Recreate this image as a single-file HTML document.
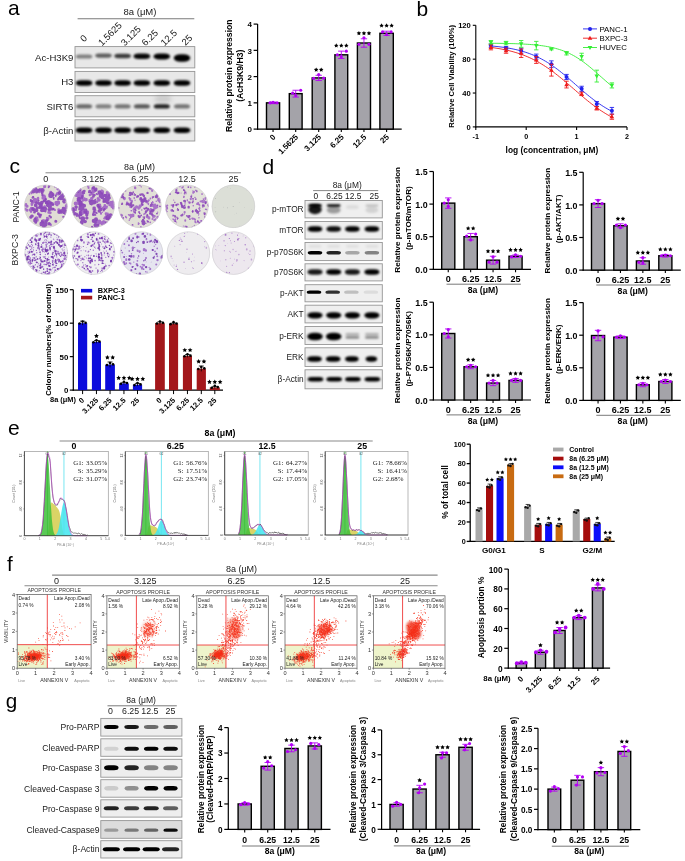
<!DOCTYPE html>
<html><head><meta charset="utf-8"><style>
html,body{margin:0;padding:0;background:#fff;width:685px;height:861px;overflow:hidden}
svg{display:block;font-family:"Liberation Sans",sans-serif;filter:blur(0.3px)}
</style></head><body>
<svg width="685" height="861" viewBox="0 0 685 861">
<defs><filter id="b1" x="-50%" y="-80%" width="200%" height="260%"><feGaussianBlur stdDeviation="0.1"/></filter><filter id="b2" x="-50%" y="-80%" width="200%" height="260%"><feGaussianBlur stdDeviation="0.2"/></filter><filter id="b3" x="-50%" y="-80%" width="200%" height="260%"><feGaussianBlur stdDeviation="0.3"/></filter><filter id="b4" x="-50%" y="-80%" width="200%" height="260%"><feGaussianBlur stdDeviation="0.4"/></filter><filter id="b5" x="-50%" y="-80%" width="200%" height="260%"><feGaussianBlur stdDeviation="0.5"/></filter><filter id="b6" x="-50%" y="-80%" width="200%" height="260%"><feGaussianBlur stdDeviation="0.6"/></filter><filter id="b7" x="-50%" y="-80%" width="200%" height="260%"><feGaussianBlur stdDeviation="0.7"/></filter><filter id="b8" x="-50%" y="-80%" width="200%" height="260%"><feGaussianBlur stdDeviation="0.8"/></filter><filter id="b9" x="-50%" y="-80%" width="200%" height="260%"><feGaussianBlur stdDeviation="0.9"/></filter><filter id="b10" x="-50%" y="-80%" width="200%" height="260%"><feGaussianBlur stdDeviation="1.0"/></filter><filter id="b11" x="-50%" y="-80%" width="200%" height="260%"><feGaussianBlur stdDeviation="1.1"/></filter><filter id="b12" x="-50%" y="-80%" width="200%" height="260%"><feGaussianBlur stdDeviation="1.2"/></filter><filter id="b13" x="-50%" y="-80%" width="200%" height="260%"><feGaussianBlur stdDeviation="1.3"/></filter><filter id="b14" x="-50%" y="-80%" width="200%" height="260%"><feGaussianBlur stdDeviation="1.4"/></filter><filter id="b15" x="-50%" y="-80%" width="200%" height="260%"><feGaussianBlur stdDeviation="1.5"/></filter><filter id="b16" x="-50%" y="-80%" width="200%" height="260%"><feGaussianBlur stdDeviation="1.6"/></filter><filter id="b17" x="-50%" y="-80%" width="200%" height="260%"><feGaussianBlur stdDeviation="1.7"/></filter><filter id="b18" x="-50%" y="-80%" width="200%" height="260%"><feGaussianBlur stdDeviation="1.8"/></filter><filter id="b19" x="-50%" y="-80%" width="200%" height="260%"><feGaussianBlur stdDeviation="1.9"/></filter><filter id="b20" x="-50%" y="-80%" width="200%" height="260%"><feGaussianBlur stdDeviation="2.0"/></filter><filter id="b21" x="-50%" y="-80%" width="200%" height="260%"><feGaussianBlur stdDeviation="2.1"/></filter><filter id="b22" x="-50%" y="-80%" width="200%" height="260%"><feGaussianBlur stdDeviation="2.2"/></filter><filter id="b23" x="-50%" y="-80%" width="200%" height="260%"><feGaussianBlur stdDeviation="2.3"/></filter><filter id="b24" x="-50%" y="-80%" width="200%" height="260%"><feGaussianBlur stdDeviation="2.4"/></filter><filter id="b25" x="-50%" y="-80%" width="200%" height="260%"><feGaussianBlur stdDeviation="2.5"/></filter><filter id="b26" x="-50%" y="-80%" width="200%" height="260%"><feGaussianBlur stdDeviation="2.6"/></filter><filter id="b27" x="-50%" y="-80%" width="200%" height="260%"><feGaussianBlur stdDeviation="2.7"/></filter><filter id="b28" x="-50%" y="-80%" width="200%" height="260%"><feGaussianBlur stdDeviation="2.8"/></filter><filter id="b29" x="-50%" y="-80%" width="200%" height="260%"><feGaussianBlur stdDeviation="2.9"/></filter><filter id="b30" x="-50%" y="-80%" width="200%" height="260%"><feGaussianBlur stdDeviation="3.0"/></filter><filter id="b31" x="-50%" y="-80%" width="200%" height="260%"><feGaussianBlur stdDeviation="3.1"/></filter><filter id="b32" x="-50%" y="-80%" width="200%" height="260%"><feGaussianBlur stdDeviation="3.2"/></filter><filter id="b33" x="-50%" y="-80%" width="200%" height="260%"><feGaussianBlur stdDeviation="3.3"/></filter><filter id="b34" x="-50%" y="-80%" width="200%" height="260%"><feGaussianBlur stdDeviation="3.4"/></filter><filter id="b35" x="-50%" y="-80%" width="200%" height="260%"><feGaussianBlur stdDeviation="3.5"/></filter><filter id="b36" x="-50%" y="-80%" width="200%" height="260%"><feGaussianBlur stdDeviation="3.6"/></filter><filter id="b37" x="-50%" y="-80%" width="200%" height="260%"><feGaussianBlur stdDeviation="3.7"/></filter><filter id="b38" x="-50%" y="-80%" width="200%" height="260%"><feGaussianBlur stdDeviation="3.8"/></filter><filter id="b39" x="-50%" y="-80%" width="200%" height="260%"><feGaussianBlur stdDeviation="3.9"/></filter><filter id="b40" x="-50%" y="-80%" width="200%" height="260%"><feGaussianBlur stdDeviation="4.0"/></filter></defs>
<rect width="685" height="861" fill="#fff"/>
<text x="8.00" y="14.70" font-size="21" fill="#000">a</text><text x="140.00" y="15.40" font-size="9.5" text-anchor="middle" fill="#1a1a1a">8a (μM)</text><line x1="77.60" y1="18.70" x2="194.30" y2="18.70" stroke="#7a7a7a" stroke-width="1.1"/><text x="83.90" y="42.50" font-size="9.5" fill="#1a1a1a" transform="rotate(-45 83.90 42.50)">0</text><text x="102.00" y="46.50" font-size="9.5" fill="#1a1a1a" transform="rotate(-45 102.00 46.50)">1.5625</text><text x="124.70" y="46.50" font-size="9.5" fill="#1a1a1a" transform="rotate(-45 124.70 46.50)">3.125</text><text x="145.60" y="46.50" font-size="9.5" fill="#1a1a1a" transform="rotate(-45 145.60 46.50)">6.25</text><text x="164.60" y="46.50" font-size="9.5" fill="#1a1a1a" transform="rotate(-45 164.60 46.50)">12.5</text><text x="185.50" y="46.00" font-size="9.5" fill="#1a1a1a" transform="rotate(-45 185.50 46.00)">25</text><rect x="75.00" y="46.60" width="119.80" height="21.30" fill="#e8e8e8" stroke="#959595" stroke-width="0.9"/><text x="73.40" y="60.65" font-size="9.6" text-anchor="end" fill="#1a1a1a">Ac-H3K9</text><rect x="75.00" y="71.40" width="119.80" height="21.10" fill="#e8e8e8" stroke="#959595" stroke-width="0.9"/><text x="73.40" y="85.35" font-size="9.6" text-anchor="end" fill="#1a1a1a">H3</text><rect x="75.00" y="95.70" width="119.80" height="21.10" fill="#e8e8e8" stroke="#959595" stroke-width="0.9"/><text x="73.40" y="109.65" font-size="9.6" text-anchor="end" fill="#1a1a1a">SIRT6</text><rect x="75.00" y="119.80" width="119.80" height="21.20" fill="#e8e8e8" stroke="#959595" stroke-width="0.9"/><text x="73.40" y="133.80" font-size="9.6" text-anchor="end" fill="#1a1a1a">β-Actin</text><rect x="75.85" y="54.50" width="16.50" height="4.00" rx="3.60" ry="2.00" fill="#000" fill-opacity="0.45" filter="url(#b9)"/><rect x="95.25" y="53.50" width="16.50" height="4.20" rx="3.78" ry="2.10" fill="#000" fill-opacity="0.60" filter="url(#b9)"/><rect x="114.35" y="53.75" width="16.50" height="4.50" rx="4.05" ry="2.25" fill="#000" fill-opacity="0.75" filter="url(#b9)"/><rect x="133.65" y="53.45" width="16.50" height="5.50" rx="4.95" ry="2.75" fill="#000" fill-opacity="0.97" filter="url(#b9)"/><rect x="153.55" y="53.40" width="16.50" height="6.00" rx="5.40" ry="3.00" fill="#000" fill-opacity="1.00" filter="url(#b9)"/><rect x="173.75" y="54.25" width="16.50" height="7.50" rx="6.75" ry="3.75" fill="#000" fill-opacity="1.00" filter="url(#b9)"/><rect x="75.85" y="80.15" width="16.50" height="5.50" rx="4.95" ry="2.75" fill="#000" fill-opacity="1.00" filter="url(#b9)"/><rect x="95.25" y="80.15" width="16.50" height="5.50" rx="4.95" ry="2.75" fill="#000" fill-opacity="1.00" filter="url(#b9)"/><rect x="114.35" y="80.15" width="16.50" height="5.50" rx="4.95" ry="2.75" fill="#000" fill-opacity="1.00" filter="url(#b9)"/><rect x="133.65" y="80.15" width="16.50" height="5.50" rx="4.95" ry="2.75" fill="#000" fill-opacity="1.00" filter="url(#b9)"/><rect x="153.55" y="80.15" width="16.50" height="5.50" rx="4.95" ry="2.75" fill="#000" fill-opacity="1.00" filter="url(#b9)"/><rect x="173.75" y="80.15" width="16.50" height="5.50" rx="4.95" ry="2.75" fill="#000" fill-opacity="1.00" filter="url(#b9)"/><rect x="76.10" y="104.30" width="16.00" height="4.20" rx="3.78" ry="2.10" fill="#000" fill-opacity="0.55" filter="url(#b9)"/><rect x="95.50" y="104.30" width="16.00" height="4.20" rx="3.78" ry="2.10" fill="#000" fill-opacity="0.45" filter="url(#b9)"/><rect x="114.60" y="104.30" width="16.00" height="4.20" rx="3.78" ry="2.10" fill="#000" fill-opacity="0.50" filter="url(#b9)"/><rect x="133.90" y="104.30" width="16.00" height="4.20" rx="3.78" ry="2.10" fill="#000" fill-opacity="0.62" filter="url(#b9)"/><rect x="153.80" y="104.30" width="16.00" height="4.20" rx="3.78" ry="2.10" fill="#000" fill-opacity="0.85" filter="url(#b9)"/><rect x="174.00" y="104.30" width="16.00" height="4.20" rx="3.78" ry="2.10" fill="#000" fill-opacity="0.50" filter="url(#b9)"/><ellipse cx="163" cy="99" rx="9" ry="4" fill="#000" fill-opacity="0.12" filter="url(#b20)"/><rect x="75.85" y="127.45" width="16.50" height="5.50" rx="4.95" ry="2.75" fill="#000" fill-opacity="1.00" filter="url(#b9)"/><rect x="95.25" y="127.45" width="16.50" height="5.50" rx="4.95" ry="2.75" fill="#000" fill-opacity="1.00" filter="url(#b9)"/><rect x="114.35" y="127.45" width="16.50" height="5.50" rx="4.95" ry="2.75" fill="#000" fill-opacity="1.00" filter="url(#b9)"/><rect x="133.65" y="127.45" width="16.50" height="5.50" rx="4.95" ry="2.75" fill="#000" fill-opacity="1.00" filter="url(#b9)"/><rect x="153.55" y="127.45" width="16.50" height="5.50" rx="4.95" ry="2.75" fill="#000" fill-opacity="1.00" filter="url(#b9)"/><rect x="173.75" y="127.45" width="16.50" height="5.50" rx="4.95" ry="2.75" fill="#000" fill-opacity="1.00" filter="url(#b9)"/><line x1="257.60" y1="24.10" x2="257.60" y2="129.70" stroke="#000" stroke-width="1.2"/><line x1="257.00" y1="129.10" x2="401.70" y2="129.10" stroke="#000" stroke-width="1.2"/><line x1="253.60" y1="129.10" x2="257.60" y2="129.10" stroke="#000" stroke-width="1.2"/><text x="251.90" y="132.38" font-size="8" font-weight="bold" text-anchor="end" fill="#000">0</text><line x1="253.60" y1="102.85" x2="257.60" y2="102.85" stroke="#000" stroke-width="1.2"/><text x="251.90" y="106.13" font-size="8" font-weight="bold" text-anchor="end" fill="#000">1</text><line x1="253.60" y1="76.60" x2="257.60" y2="76.60" stroke="#000" stroke-width="1.2"/><text x="251.90" y="79.88" font-size="8" font-weight="bold" text-anchor="end" fill="#000">2</text><line x1="253.60" y1="50.35" x2="257.60" y2="50.35" stroke="#000" stroke-width="1.2"/><text x="251.90" y="53.63" font-size="8" font-weight="bold" text-anchor="end" fill="#000">3</text><line x1="253.60" y1="24.10" x2="257.60" y2="24.10" stroke="#000" stroke-width="1.2"/><text x="251.90" y="27.38" font-size="8" font-weight="bold" text-anchor="end" fill="#000">4</text><rect x="266.50" y="102.85" width="13.10" height="26.25" fill="#a4a3a9" stroke="#000" stroke-width="1.4"/><line x1="273.05" y1="102.06" x2="273.05" y2="103.64" stroke="#b400f5" stroke-width="0.9"/><line x1="269.85" y1="102.06" x2="276.25" y2="102.06" stroke="#b400f5" stroke-width="0.9"/><line x1="269.85" y1="103.64" x2="276.25" y2="103.64" stroke="#b400f5" stroke-width="0.9"/><circle cx="270.05" cy="102.85" r="1.6" fill="#b400f5"/><circle cx="273.05" cy="102.32" r="1.6" fill="#b400f5"/><circle cx="277.05" cy="102.85" r="1.6" fill="#b400f5"/><rect x="289.30" y="93.66" width="12.80" height="35.44" fill="#a4a3a9" stroke="#000" stroke-width="1.4"/><line x1="295.70" y1="90.25" x2="295.70" y2="97.07" stroke="#b400f5" stroke-width="0.9"/><line x1="292.50" y1="90.25" x2="298.90" y2="90.25" stroke="#b400f5" stroke-width="0.9"/><line x1="292.50" y1="97.07" x2="298.90" y2="97.07" stroke="#b400f5" stroke-width="0.9"/><circle cx="295.70" cy="95.50" r="1.6" fill="#b400f5"/><circle cx="300.70" cy="90.25" r="1.6" fill="#b400f5"/><circle cx="292.70" cy="93.14" r="1.6" fill="#b400f5"/><rect x="312.20" y="77.91" width="13.00" height="51.19" fill="#a4a3a9" stroke="#000" stroke-width="1.4"/><line x1="318.70" y1="75.29" x2="318.70" y2="80.54" stroke="#b400f5" stroke-width="0.9"/><line x1="315.50" y1="75.29" x2="321.90" y2="75.29" stroke="#b400f5" stroke-width="0.9"/><line x1="315.50" y1="80.54" x2="321.90" y2="80.54" stroke="#b400f5" stroke-width="0.9"/><circle cx="318.70" cy="74.50" r="1.6" fill="#b400f5"/><circle cx="323.70" cy="78.17" r="1.6" fill="#b400f5"/><circle cx="313.70" cy="78.44" r="1.6" fill="#b400f5"/><polygon points="316.18,67.45 316.87,68.84 318.41,69.06 317.29,70.15 317.56,71.68 316.18,70.96 314.80,71.68 315.07,70.15 313.95,69.06 315.49,68.84" fill="#000"/><polygon points="321.22,67.45 321.91,68.84 323.45,69.06 322.33,70.15 322.60,71.68 321.22,70.96 319.84,71.68 320.11,70.15 318.99,69.06 320.53,68.84" fill="#000"/><rect x="334.90" y="54.81" width="12.80" height="74.29" fill="#a4a3a9" stroke="#000" stroke-width="1.4"/><line x1="341.30" y1="51.14" x2="341.30" y2="58.49" stroke="#b400f5" stroke-width="0.9"/><line x1="338.10" y1="51.14" x2="344.50" y2="51.14" stroke="#b400f5" stroke-width="0.9"/><line x1="338.10" y1="58.49" x2="344.50" y2="58.49" stroke="#b400f5" stroke-width="0.9"/><circle cx="341.30" cy="56.65" r="1.6" fill="#b400f5"/><circle cx="346.30" cy="51.14" r="1.6" fill="#b400f5"/><circle cx="337.30" cy="54.81" r="1.6" fill="#b400f5"/><polygon points="336.26,43.30 336.95,44.69 338.49,44.91 337.37,46.00 337.64,47.53 336.26,46.81 334.88,47.53 335.15,46.00 334.03,44.91 335.57,44.69" fill="#000"/><polygon points="341.30,43.30 341.99,44.69 343.53,44.91 342.41,46.00 342.68,47.53 341.30,46.81 339.92,47.53 340.19,46.00 339.07,44.91 340.61,44.69" fill="#000"/><polygon points="346.34,43.30 347.03,44.69 348.57,44.91 347.45,46.00 347.72,47.53 346.34,46.81 344.96,47.53 345.23,46.00 344.11,44.91 345.65,44.69" fill="#000"/><rect x="357.40" y="43.00" width="13.10" height="86.10" fill="#a4a3a9" stroke="#000" stroke-width="1.4"/><line x1="363.95" y1="38.80" x2="363.95" y2="47.20" stroke="#b400f5" stroke-width="0.9"/><line x1="360.75" y1="38.80" x2="367.15" y2="38.80" stroke="#b400f5" stroke-width="0.9"/><line x1="360.75" y1="47.20" x2="367.15" y2="47.20" stroke="#b400f5" stroke-width="0.9"/><circle cx="363.95" cy="37.75" r="1.6" fill="#b400f5"/><circle cx="368.95" cy="44.31" r="1.6" fill="#b400f5"/><circle cx="358.95" cy="44.31" r="1.6" fill="#b400f5"/><polygon points="358.91,30.96 359.60,32.35 361.14,32.58 360.02,33.66 360.29,35.19 358.91,34.47 357.53,35.19 357.80,33.66 356.68,32.58 358.22,32.35" fill="#000"/><polygon points="363.95,30.96 364.64,32.35 366.18,32.58 365.06,33.66 365.33,35.19 363.95,34.47 362.57,35.19 362.84,33.66 361.72,32.58 363.26,32.35" fill="#000"/><polygon points="368.99,30.96 369.68,32.35 371.22,32.58 370.10,33.66 370.37,35.19 368.99,34.47 367.61,35.19 367.88,33.66 366.76,32.58 368.30,32.35" fill="#000"/><rect x="379.90" y="33.29" width="13.40" height="95.81" fill="#a4a3a9" stroke="#000" stroke-width="1.4"/><line x1="386.60" y1="31.19" x2="386.60" y2="35.39" stroke="#b400f5" stroke-width="0.9"/><line x1="383.40" y1="31.19" x2="389.80" y2="31.19" stroke="#b400f5" stroke-width="0.9"/><line x1="383.40" y1="35.39" x2="389.80" y2="35.39" stroke="#b400f5" stroke-width="0.9"/><circle cx="386.60" cy="34.60" r="1.6" fill="#b400f5"/><circle cx="391.10" cy="31.97" r="1.6" fill="#b400f5"/><circle cx="382.60" cy="31.97" r="1.6" fill="#b400f5"/><polygon points="381.56,23.35 382.25,24.74 383.79,24.96 382.67,26.05 382.94,27.58 381.56,26.86 380.18,27.58 380.45,26.05 379.33,24.96 380.87,24.74" fill="#000"/><polygon points="386.60,23.35 387.29,24.74 388.83,24.96 387.71,26.05 387.98,27.58 386.60,26.86 385.22,27.58 385.49,26.05 384.37,24.96 385.91,24.74" fill="#000"/><polygon points="391.64,23.35 392.33,24.74 393.87,24.96 392.75,26.05 393.02,27.58 391.64,26.86 390.26,27.58 390.53,26.05 389.41,24.96 390.95,24.74" fill="#000"/><line x1="273.05" y1="129.10" x2="273.05" y2="132.00" stroke="#000" stroke-width="1.1"/><text x="276.05" y="137.50" font-size="8" font-weight="bold" text-anchor="end" fill="#000" transform="rotate(-45 276.05 137.50)">0</text><line x1="295.70" y1="129.10" x2="295.70" y2="132.00" stroke="#000" stroke-width="1.1"/><text x="298.70" y="137.50" font-size="8" font-weight="bold" text-anchor="end" fill="#000" transform="rotate(-45 298.70 137.50)">1.5625</text><line x1="318.70" y1="129.10" x2="318.70" y2="132.00" stroke="#000" stroke-width="1.1"/><text x="321.70" y="137.50" font-size="8" font-weight="bold" text-anchor="end" fill="#000" transform="rotate(-45 321.70 137.50)">3.125</text><line x1="341.30" y1="129.10" x2="341.30" y2="132.00" stroke="#000" stroke-width="1.1"/><text x="344.30" y="137.50" font-size="8" font-weight="bold" text-anchor="end" fill="#000" transform="rotate(-45 344.30 137.50)">6.25</text><line x1="363.95" y1="129.10" x2="363.95" y2="132.00" stroke="#000" stroke-width="1.1"/><text x="366.95" y="137.50" font-size="8" font-weight="bold" text-anchor="end" fill="#000" transform="rotate(-45 366.95 137.50)">12.5</text><line x1="386.60" y1="129.10" x2="386.60" y2="132.00" stroke="#000" stroke-width="1.1"/><text x="389.60" y="137.50" font-size="8" font-weight="bold" text-anchor="end" fill="#000" transform="rotate(-45 389.60 137.50)">25</text><text x="232.20" y="75.70" font-size="8.65" font-weight="bold" text-anchor="middle" fill="#000" transform="rotate(-90 232.20 75.70)">Relative protein expression</text><text x="243.00" y="75.70" font-size="8.65" font-weight="bold" text-anchor="middle" fill="#000" transform="rotate(-90 243.00 75.70)">(AcH3K9/H3)</text><text x="416.40" y="16.40" font-size="21" fill="#000">b</text><line x1="475.80" y1="25.30" x2="475.80" y2="127.50" stroke="#000" stroke-width="1.1"/><line x1="475.30" y1="126.90" x2="627.00" y2="126.90" stroke="#000" stroke-width="1.1"/><line x1="472.80" y1="126.90" x2="475.80" y2="126.90" stroke="#000" stroke-width="1.1"/><text x="470.80" y="129.60" font-size="7.6" font-weight="bold" text-anchor="end" fill="#000">0</text><line x1="472.80" y1="93.03" x2="475.80" y2="93.03" stroke="#000" stroke-width="1.1"/><text x="470.80" y="95.73" font-size="7.6" font-weight="bold" text-anchor="end" fill="#000">40</text><line x1="472.80" y1="59.17" x2="475.80" y2="59.17" stroke="#000" stroke-width="1.1"/><text x="470.80" y="61.87" font-size="7.6" font-weight="bold" text-anchor="end" fill="#000">80</text><line x1="472.80" y1="25.30" x2="475.80" y2="25.30" stroke="#000" stroke-width="1.1"/><text x="470.80" y="28.00" font-size="7.6" font-weight="bold" text-anchor="end" fill="#000">120</text><line x1="475.80" y1="126.90" x2="475.80" y2="129.90" stroke="#000" stroke-width="1.1"/><text x="475.80" y="138.90" font-size="7.2" font-weight="bold" text-anchor="middle" fill="#000">-1</text><line x1="526.20" y1="126.90" x2="526.20" y2="129.90" stroke="#000" stroke-width="1.1"/><text x="526.20" y="138.90" font-size="7.2" font-weight="bold" text-anchor="middle" fill="#000">0</text><line x1="576.60" y1="126.90" x2="576.60" y2="129.90" stroke="#000" stroke-width="1.1"/><text x="576.60" y="138.90" font-size="7.2" font-weight="bold" text-anchor="middle" fill="#000">1</text><line x1="627.00" y1="126.90" x2="627.00" y2="129.90" stroke="#000" stroke-width="1.1"/><text x="627.00" y="138.90" font-size="7.2" font-weight="bold" text-anchor="middle" fill="#000">2</text><text x="551.90" y="153.00" font-size="8.4" font-weight="bold" text-anchor="middle" fill="#000">log (concentration, μM)</text><text x="454.20" y="76.30" font-size="7.6" font-weight="bold" text-anchor="middle" fill="#000" transform="rotate(-90 454.20 76.30)">Relative Cell Viability (100%)</text><path d="M490.92,45.94 L492.94,46.12 L494.95,46.31 L496.97,46.52 L498.98,46.75 L501.00,47.00 L503.02,47.27 L505.03,47.56 L507.05,47.87 L509.06,48.22 L511.08,48.59 L513.10,48.99 L515.11,49.42 L517.13,49.88 L519.14,50.38 L521.16,50.92 L523.18,51.50 L525.19,52.13 L527.21,52.79 L529.22,53.51 L531.24,54.27 L533.26,55.09 L535.27,55.96 L537.29,56.89 L539.30,57.87 L541.32,58.91 L543.34,60.01 L545.35,61.16 L547.37,62.38 L549.38,63.66 L551.40,65.00 L553.42,66.39 L555.43,67.84 L557.45,69.34 L559.46,70.90 L561.48,72.50 L563.50,74.14 L565.51,75.82 L567.53,77.53 L569.54,79.26 L571.56,81.02 L573.58,82.79 L575.59,84.57 L577.61,86.34 L579.62,88.11 L581.64,89.87 L583.66,91.61 L585.67,93.32 L587.69,95.00 L589.70,96.64 L591.72,98.24 L593.74,99.79 L595.75,101.29 L597.77,102.74 L599.78,104.14 L601.80,105.47 L603.82,106.75 L605.83,107.97 L607.85,109.13 L609.86,110.23 L611.88,111.27 " fill="none" stroke="#2222ee" stroke-width="0.9"/><line x1="490.92" y1="43.93" x2="490.92" y2="47.31" stroke="#2222ee" stroke-width="0.9"/><line x1="488.72" y1="43.93" x2="493.12" y2="43.93" stroke="#2222ee" stroke-width="0.9"/><line x1="488.72" y1="47.31" x2="493.12" y2="47.31" stroke="#2222ee" stroke-width="0.9"/><circle cx="490.92" cy="45.62" r="2" fill="#2222ee"/><line x1="506.04" y1="46.47" x2="506.04" y2="49.85" stroke="#2222ee" stroke-width="0.9"/><line x1="503.84" y1="46.47" x2="508.24" y2="46.47" stroke="#2222ee" stroke-width="0.9"/><line x1="503.84" y1="49.85" x2="508.24" y2="49.85" stroke="#2222ee" stroke-width="0.9"/><circle cx="506.04" cy="48.16" r="2" fill="#2222ee"/><line x1="521.16" y1="48.16" x2="521.16" y2="53.24" stroke="#2222ee" stroke-width="0.9"/><line x1="518.96" y1="48.16" x2="523.36" y2="48.16" stroke="#2222ee" stroke-width="0.9"/><line x1="518.96" y1="53.24" x2="523.36" y2="53.24" stroke="#2222ee" stroke-width="0.9"/><circle cx="521.16" cy="50.70" r="2" fill="#2222ee"/><line x1="536.28" y1="54.09" x2="536.28" y2="59.17" stroke="#2222ee" stroke-width="0.9"/><line x1="534.08" y1="54.09" x2="538.48" y2="54.09" stroke="#2222ee" stroke-width="0.9"/><line x1="534.08" y1="59.17" x2="538.48" y2="59.17" stroke="#2222ee" stroke-width="0.9"/><circle cx="536.28" cy="56.63" r="2" fill="#2222ee"/><line x1="551.40" y1="60.86" x2="551.40" y2="67.63" stroke="#2222ee" stroke-width="0.9"/><line x1="549.20" y1="60.86" x2="553.60" y2="60.86" stroke="#2222ee" stroke-width="0.9"/><line x1="549.20" y1="67.63" x2="553.60" y2="67.63" stroke="#2222ee" stroke-width="0.9"/><circle cx="551.40" cy="64.25" r="2" fill="#2222ee"/><line x1="566.52" y1="74.41" x2="566.52" y2="79.49" stroke="#2222ee" stroke-width="0.9"/><line x1="564.32" y1="74.41" x2="568.72" y2="74.41" stroke="#2222ee" stroke-width="0.9"/><line x1="564.32" y1="79.49" x2="568.72" y2="79.49" stroke="#2222ee" stroke-width="0.9"/><circle cx="566.52" cy="76.95" r="2" fill="#2222ee"/><line x1="581.64" y1="86.26" x2="581.64" y2="91.34" stroke="#2222ee" stroke-width="0.9"/><line x1="579.44" y1="86.26" x2="583.84" y2="86.26" stroke="#2222ee" stroke-width="0.9"/><line x1="579.44" y1="91.34" x2="583.84" y2="91.34" stroke="#2222ee" stroke-width="0.9"/><circle cx="581.64" cy="88.80" r="2" fill="#2222ee"/><line x1="596.76" y1="101.50" x2="596.76" y2="106.58" stroke="#2222ee" stroke-width="0.9"/><line x1="594.56" y1="101.50" x2="598.96" y2="101.50" stroke="#2222ee" stroke-width="0.9"/><line x1="594.56" y1="106.58" x2="598.96" y2="106.58" stroke="#2222ee" stroke-width="0.9"/><circle cx="596.76" cy="104.04" r="2" fill="#2222ee"/><line x1="611.88" y1="107.43" x2="611.88" y2="114.20" stroke="#2222ee" stroke-width="0.9"/><line x1="609.68" y1="107.43" x2="614.08" y2="107.43" stroke="#2222ee" stroke-width="0.9"/><line x1="609.68" y1="114.20" x2="614.08" y2="114.20" stroke="#2222ee" stroke-width="0.9"/><circle cx="611.88" cy="110.81" r="2" fill="#2222ee"/><path d="M490.92,47.41 L492.94,47.68 L494.95,47.97 L496.97,48.29 L498.98,48.62 L501.00,48.98 L503.02,49.37 L505.03,49.78 L507.05,50.23 L509.06,50.70 L511.08,51.21 L513.10,51.75 L515.11,52.33 L517.13,52.94 L519.14,53.60 L521.16,54.29 L523.18,55.03 L525.19,55.82 L527.21,56.65 L529.22,57.53 L531.24,58.46 L533.26,59.44 L535.27,60.47 L537.29,61.55 L539.30,62.68 L541.32,63.87 L543.34,65.11 L545.35,66.41 L547.37,67.75 L549.38,69.15 L551.40,70.59 L553.42,72.08 L555.43,73.61 L557.45,75.19 L559.46,76.80 L561.48,78.45 L563.50,80.13 L565.51,81.83 L567.53,83.55 L569.54,85.29 L571.56,87.04 L573.58,88.80 L575.59,90.56 L577.61,92.31 L579.62,94.05 L581.64,95.77 L583.66,97.47 L585.67,99.15 L587.69,100.80 L589.70,102.41 L591.72,103.99 L593.74,105.52 L595.75,107.01 L597.77,108.45 L599.78,109.85 L601.80,111.19 L603.82,112.49 L605.83,113.73 L607.85,114.92 L609.86,116.05 L611.88,117.13 " fill="none" stroke="#ee1a1a" stroke-width="0.9"/><line x1="490.92" y1="44.77" x2="490.92" y2="49.85" stroke="#ee1a1a" stroke-width="0.9"/><line x1="488.72" y1="44.77" x2="493.12" y2="44.77" stroke="#ee1a1a" stroke-width="0.9"/><line x1="488.72" y1="49.85" x2="493.12" y2="49.85" stroke="#ee1a1a" stroke-width="0.9"/><path d="M490.92,44.91 L493.22,48.91 L488.62,48.91Z" fill="#ee1a1a"/><line x1="506.04" y1="48.16" x2="506.04" y2="53.24" stroke="#ee1a1a" stroke-width="0.9"/><line x1="503.84" y1="48.16" x2="508.24" y2="48.16" stroke="#ee1a1a" stroke-width="0.9"/><line x1="503.84" y1="53.24" x2="508.24" y2="53.24" stroke="#ee1a1a" stroke-width="0.9"/><path d="M506.04,48.30 L508.34,52.30 L503.74,52.30Z" fill="#ee1a1a"/><line x1="521.16" y1="49.01" x2="521.16" y2="57.47" stroke="#ee1a1a" stroke-width="0.9"/><line x1="518.96" y1="49.01" x2="523.36" y2="49.01" stroke="#ee1a1a" stroke-width="0.9"/><line x1="518.96" y1="57.47" x2="523.36" y2="57.47" stroke="#ee1a1a" stroke-width="0.9"/><path d="M521.16,50.84 L523.46,54.84 L518.86,54.84Z" fill="#ee1a1a"/><line x1="536.28" y1="56.63" x2="536.28" y2="63.40" stroke="#ee1a1a" stroke-width="0.9"/><line x1="534.08" y1="56.63" x2="538.48" y2="56.63" stroke="#ee1a1a" stroke-width="0.9"/><line x1="534.08" y1="63.40" x2="538.48" y2="63.40" stroke="#ee1a1a" stroke-width="0.9"/><path d="M536.28,57.61 L538.58,61.61 L533.98,61.61Z" fill="#ee1a1a"/><line x1="551.40" y1="64.25" x2="551.40" y2="76.10" stroke="#ee1a1a" stroke-width="0.9"/><line x1="549.20" y1="64.25" x2="553.60" y2="64.25" stroke="#ee1a1a" stroke-width="0.9"/><line x1="549.20" y1="76.10" x2="553.60" y2="76.10" stroke="#ee1a1a" stroke-width="0.9"/><path d="M551.40,67.77 L553.70,71.77 L549.10,71.77Z" fill="#ee1a1a"/><line x1="566.52" y1="81.18" x2="566.52" y2="87.95" stroke="#ee1a1a" stroke-width="0.9"/><line x1="564.32" y1="81.18" x2="568.72" y2="81.18" stroke="#ee1a1a" stroke-width="0.9"/><line x1="564.32" y1="87.95" x2="568.72" y2="87.95" stroke="#ee1a1a" stroke-width="0.9"/><path d="M566.52,82.17 L568.82,86.17 L564.22,86.17Z" fill="#ee1a1a"/><line x1="581.64" y1="92.19" x2="581.64" y2="95.57" stroke="#ee1a1a" stroke-width="0.9"/><line x1="579.44" y1="92.19" x2="583.84" y2="92.19" stroke="#ee1a1a" stroke-width="0.9"/><line x1="579.44" y1="95.57" x2="583.84" y2="95.57" stroke="#ee1a1a" stroke-width="0.9"/><path d="M581.64,91.48 L583.94,95.48 L579.34,95.48Z" fill="#ee1a1a"/><line x1="596.76" y1="106.58" x2="596.76" y2="109.97" stroke="#ee1a1a" stroke-width="0.9"/><line x1="594.56" y1="106.58" x2="598.96" y2="106.58" stroke="#ee1a1a" stroke-width="0.9"/><line x1="594.56" y1="109.97" x2="598.96" y2="109.97" stroke="#ee1a1a" stroke-width="0.9"/><path d="M596.76,105.87 L599.06,109.87 L594.46,109.87Z" fill="#ee1a1a"/><line x1="611.88" y1="114.20" x2="611.88" y2="119.28" stroke="#ee1a1a" stroke-width="0.9"/><line x1="609.68" y1="114.20" x2="614.08" y2="114.20" stroke="#ee1a1a" stroke-width="0.9"/><line x1="609.68" y1="119.28" x2="614.08" y2="119.28" stroke="#ee1a1a" stroke-width="0.9"/><path d="M611.88,114.34 L614.18,118.34 L609.58,118.34Z" fill="#ee1a1a"/><path d="M490.92,43.25 L492.94,43.27 L494.95,43.29 L496.97,43.31 L498.98,43.34 L501.00,43.37 L503.02,43.40 L505.03,43.44 L507.05,43.48 L509.06,43.53 L511.08,43.58 L513.10,43.64 L515.11,43.70 L517.13,43.77 L519.14,43.85 L521.16,43.94 L523.18,44.04 L525.19,44.15 L527.21,44.28 L529.22,44.41 L531.24,44.57 L533.26,44.74 L535.27,44.92 L537.29,45.13 L539.30,45.36 L541.32,45.62 L543.34,45.90 L545.35,46.22 L547.37,46.57 L549.38,46.95 L551.40,47.37 L553.42,47.84 L555.43,48.35 L557.45,48.91 L559.46,49.52 L561.48,50.19 L563.50,50.92 L565.51,51.72 L567.53,52.58 L569.54,53.51 L571.56,54.52 L573.58,55.60 L575.59,56.76 L577.61,57.99 L579.62,59.30 L581.64,60.68 L583.66,62.14 L585.67,63.66 L587.69,65.25 L589.70,66.89 L591.72,68.59 L593.74,70.32 L595.75,72.09 L597.77,73.88 L599.78,75.68 L601.80,77.48 L603.82,79.26 L605.83,81.03 L607.85,82.77 L609.86,84.46 L611.88,86.11 " fill="none" stroke="#33ee33" stroke-width="0.9"/><line x1="490.92" y1="40.54" x2="490.92" y2="43.93" stroke="#33ee33" stroke-width="0.9"/><line x1="488.72" y1="40.54" x2="493.12" y2="40.54" stroke="#33ee33" stroke-width="0.9"/><line x1="488.72" y1="43.93" x2="493.12" y2="43.93" stroke="#33ee33" stroke-width="0.9"/><path d="M490.92,44.63 L493.22,40.63 L488.62,40.63Z" fill="#33ee33"/><line x1="506.04" y1="41.39" x2="506.04" y2="44.77" stroke="#33ee33" stroke-width="0.9"/><line x1="503.84" y1="41.39" x2="508.24" y2="41.39" stroke="#33ee33" stroke-width="0.9"/><line x1="503.84" y1="44.77" x2="508.24" y2="44.77" stroke="#33ee33" stroke-width="0.9"/><path d="M506.04,45.48 L508.34,41.48 L503.74,41.48Z" fill="#33ee33"/><line x1="521.16" y1="40.54" x2="521.16" y2="47.31" stroke="#33ee33" stroke-width="0.9"/><line x1="518.96" y1="40.54" x2="523.36" y2="40.54" stroke="#33ee33" stroke-width="0.9"/><line x1="518.96" y1="47.31" x2="523.36" y2="47.31" stroke="#33ee33" stroke-width="0.9"/><path d="M521.16,46.33 L523.46,42.33 L518.86,42.33Z" fill="#33ee33"/><line x1="536.28" y1="41.39" x2="536.28" y2="49.85" stroke="#33ee33" stroke-width="0.9"/><line x1="534.08" y1="41.39" x2="538.48" y2="41.39" stroke="#33ee33" stroke-width="0.9"/><line x1="534.08" y1="49.85" x2="538.48" y2="49.85" stroke="#33ee33" stroke-width="0.9"/><path d="M536.28,48.02 L538.58,44.02 L533.98,44.02Z" fill="#33ee33"/><line x1="551.40" y1="48.16" x2="551.40" y2="49.85" stroke="#33ee33" stroke-width="0.9"/><line x1="549.20" y1="48.16" x2="553.60" y2="48.16" stroke="#33ee33" stroke-width="0.9"/><line x1="549.20" y1="49.85" x2="553.60" y2="49.85" stroke="#33ee33" stroke-width="0.9"/><path d="M551.40,51.41 L553.70,47.41 L549.10,47.41Z" fill="#33ee33"/><line x1="566.52" y1="51.55" x2="566.52" y2="54.93" stroke="#33ee33" stroke-width="0.9"/><line x1="564.32" y1="51.55" x2="568.72" y2="51.55" stroke="#33ee33" stroke-width="0.9"/><line x1="564.32" y1="54.93" x2="568.72" y2="54.93" stroke="#33ee33" stroke-width="0.9"/><path d="M566.52,55.64 L568.82,51.64 L564.22,51.64Z" fill="#33ee33"/><line x1="581.64" y1="53.24" x2="581.64" y2="60.01" stroke="#33ee33" stroke-width="0.9"/><line x1="579.44" y1="53.24" x2="583.84" y2="53.24" stroke="#33ee33" stroke-width="0.9"/><line x1="579.44" y1="60.01" x2="583.84" y2="60.01" stroke="#33ee33" stroke-width="0.9"/><path d="M581.64,59.03 L583.94,55.03 L579.34,55.03Z" fill="#33ee33"/><line x1="596.76" y1="70.17" x2="596.76" y2="82.03" stroke="#33ee33" stroke-width="0.9"/><line x1="594.56" y1="70.17" x2="598.96" y2="70.17" stroke="#33ee33" stroke-width="0.9"/><line x1="594.56" y1="82.03" x2="598.96" y2="82.03" stroke="#33ee33" stroke-width="0.9"/><path d="M596.76,78.50 L599.06,74.50 L594.46,74.50Z" fill="#33ee33"/><line x1="611.88" y1="82.87" x2="611.88" y2="87.95" stroke="#33ee33" stroke-width="0.9"/><line x1="609.68" y1="82.87" x2="614.08" y2="82.87" stroke="#33ee33" stroke-width="0.9"/><line x1="609.68" y1="87.95" x2="614.08" y2="87.95" stroke="#33ee33" stroke-width="0.9"/><path d="M611.88,87.81 L614.18,83.81 L609.58,83.81Z" fill="#33ee33"/><line x1="583.00" y1="28.90" x2="597.00" y2="28.90" stroke="#2222ee" stroke-width="0.9"/><circle cx="590" cy="28.90" r="2" fill="#2222ee"/><text x="599.50" y="31.80" font-size="7.8" fill="#000">PANC-1</text><line x1="583.00" y1="38.20" x2="597.00" y2="38.20" stroke="#ee1a1a" stroke-width="0.9"/><path d="M590,35.80 L592.3,39.80 L587.7,39.80Z" fill="#ee1a1a"/><text x="599.50" y="41.10" font-size="7.8" fill="#000">BXPC-3</text><line x1="583.00" y1="47.50" x2="597.00" y2="47.50" stroke="#33ee33" stroke-width="0.9"/><path d="M590,49.90 L592.3,45.90 L587.7,45.90Z" fill="#33ee33"/><text x="599.50" y="50.40" font-size="7.8" fill="#000">HUVEC</text><text x="9.40" y="173.30" font-size="21" fill="#000">c</text><text x="139.50" y="169.80" font-size="9" text-anchor="middle" fill="#1a1a1a">8a (μM)</text><line x1="45.50" y1="172.80" x2="241.00" y2="172.80" stroke="#7a7a7a" stroke-width="0.9"/><text x="45.80" y="181.50" font-size="9" text-anchor="middle" fill="#1a1a1a">0</text><text x="93.00" y="181.50" font-size="9" text-anchor="middle" fill="#1a1a1a">3.125</text><text x="139.90" y="181.50" font-size="9" text-anchor="middle" fill="#1a1a1a">6.25</text><text x="186.90" y="181.50" font-size="9" text-anchor="middle" fill="#1a1a1a">12.5</text><text x="233.40" y="181.50" font-size="9" text-anchor="middle" fill="#1a1a1a">25</text><text x="18.50" y="207.00" font-size="8.7" text-anchor="middle" fill="#1a1a1a" transform="rotate(-90 18.50 207.00)">PANC-1</text><text x="18.50" y="249.80" font-size="8.7" text-anchor="middle" fill="#1a1a1a" transform="rotate(-90 18.50 249.80)">BXPC-3</text><clipPath id="pa0"><circle cx="45.80" cy="206.30" r="21.60"/></clipPath><circle cx="45.80" cy="206.30" r="21.60" fill="#e0ddd5"/><g clip-path="url(#pa0)"><path d="M24.2,205.2a1.3,1.3 0 1,0 2.7,0a1.3,1.3 0 1,0 -2.7,0M24.8,204.6a1.2,1.2 0 1,0 2.3,0a1.2,1.2 0 1,0 -2.3,0M25.4,206.2a1.6,1.6 0 1,0 3.2,0a1.6,1.6 0 1,0 -3.2,0M40.2,214.7a1.0,1.0 0 1,0 2.0,0a1.0,1.0 0 1,0 -2.0,0M38.4,216.7a1.5,1.5 0 1,0 3.0,0a1.5,1.5 0 1,0 -3.0,0M38.3,214.6a1.0,1.0 0 1,0 2.0,0a1.0,1.0 0 1,0 -2.0,0M32.1,209.7a1.3,1.3 0 1,0 2.6,0a1.3,1.3 0 1,0 -2.6,0M29.8,208.5a1.7,1.7 0 1,0 3.4,0a1.7,1.7 0 1,0 -3.4,0M28.7,210.0a1.7,1.7 0 1,0 3.4,0a1.7,1.7 0 1,0 -3.4,0M60.0,211.7a0.9,0.9 0 1,0 1.8,0a0.9,0.9 0 1,0 -1.8,0M58.5,210.9a1.2,1.2 0 1,0 2.4,0a1.2,1.2 0 1,0 -2.4,0M57.3,209.7a1.4,1.4 0 1,0 2.8,0a1.4,1.4 0 1,0 -2.8,0M54.1,186.8a1.2,1.2 0 1,0 2.4,0a1.2,1.2 0 1,0 -2.4,0M55.6,186.6a1.2,1.2 0 1,0 2.4,0a1.2,1.2 0 1,0 -2.4,0M56.3,189.1a1.4,1.4 0 1,0 2.8,0a1.4,1.4 0 1,0 -2.8,0M54.1,209.9a0.9,0.9 0 1,0 1.7,0a0.9,0.9 0 1,0 -1.7,0M52.7,209.0a1.0,1.0 0 1,0 2.0,0a1.0,1.0 0 1,0 -2.0,0M52.3,209.0a0.8,0.8 0 1,0 1.7,0a0.8,0.8 0 1,0 -1.7,0M43.6,201.3a0.7,0.7 0 1,0 1.5,0a0.7,0.7 0 1,0 -1.5,0M43.1,201.3a1.0,1.0 0 1,0 2.0,0a1.0,1.0 0 1,0 -2.0,0M42.7,201.1a1.0,1.0 0 1,0 1.9,0a1.0,1.0 0 1,0 -1.9,0M47.9,210.5a1.3,1.3 0 1,0 2.7,0a1.3,1.3 0 1,0 -2.7,0M48.9,212.8a1.4,1.4 0 1,0 2.8,0a1.4,1.4 0 1,0 -2.8,0M47.3,212.4a1.3,1.3 0 1,0 2.6,0a1.3,1.3 0 1,0 -2.6,0M42.2,220.1a0.6,0.6 0 1,0 1.3,0a0.6,0.6 0 1,0 -1.3,0M43.1,220.2a1.0,1.0 0 1,0 2.0,0a1.0,1.0 0 1,0 -2.0,0M42.5,220.9a1.1,1.1 0 1,0 2.1,0a1.1,1.1 0 1,0 -2.1,0M39.1,190.3a1.9,1.9 0 1,0 3.9,0a1.9,1.9 0 1,0 -3.9,0M38.6,190.0a1.5,1.5 0 1,0 2.9,0a1.5,1.5 0 1,0 -2.9,0M37.4,191.4a1.8,1.8 0 1,0 3.6,0a1.8,1.8 0 1,0 -3.6,0M56.2,192.9a0.8,0.8 0 1,0 1.6,0a0.8,0.8 0 1,0 -1.6,0M55.6,194.1a1.2,1.2 0 1,0 2.5,0a1.2,1.2 0 1,0 -2.5,0M56.4,194.4a0.9,0.9 0 1,0 1.8,0a0.9,0.9 0 1,0 -1.8,0M31.2,203.9a1.1,1.1 0 1,0 2.2,0a1.1,1.1 0 1,0 -2.2,0M30.6,204.7a1.3,1.3 0 1,0 2.6,0a1.3,1.3 0 1,0 -2.6,0M30.5,203.7a1.3,1.3 0 1,0 2.6,0a1.3,1.3 0 1,0 -2.6,0M33.5,200.7a2.0,2.0 0 1,0 4.1,0a2.0,2.0 0 1,0 -4.1,0M32.6,201.2a1.9,1.9 0 1,0 3.7,0a1.9,1.9 0 1,0 -3.7,0M32.8,199.5a1.8,1.8 0 1,0 3.6,0a1.8,1.8 0 1,0 -3.6,0M45.9,217.8a1.1,1.1 0 1,0 2.3,0a1.1,1.1 0 1,0 -2.3,0M46.4,219.6a1.2,1.2 0 1,0 2.3,0a1.2,1.2 0 1,0 -2.3,0M45.3,219.7a0.9,0.9 0 1,0 1.8,0a0.9,0.9 0 1,0 -1.8,0M57.2,193.5a1.5,1.5 0 1,0 2.9,0a1.5,1.5 0 1,0 -2.9,0M57.7,192.6a1.1,1.1 0 1,0 2.3,0a1.1,1.1 0 1,0 -2.3,0M58.5,192.4a1.3,1.3 0 1,0 2.6,0a1.3,1.3 0 1,0 -2.6,0M55.5,204.8a1.5,1.5 0 1,0 3.1,0a1.5,1.5 0 1,0 -3.1,0M54.5,203.3a1.8,1.8 0 1,0 3.5,0a1.8,1.8 0 1,0 -3.5,0M56.5,202.7a1.8,1.8 0 1,0 3.5,0a1.8,1.8 0 1,0 -3.5,0M64.7,206.0a1.1,1.1 0 1,0 2.2,0a1.1,1.1 0 1,0 -2.2,0M64.5,207.5a1.1,1.1 0 1,0 2.2,0a1.1,1.1 0 1,0 -2.2,0M65.5,207.5a1.9,1.9 0 1,0 3.8,0a1.9,1.9 0 1,0 -3.8,0M49.3,224.0a0.7,0.7 0 1,0 1.3,0a0.7,0.7 0 1,0 -1.3,0M49.7,225.1a0.8,0.8 0 1,0 1.6,0a0.8,0.8 0 1,0 -1.6,0M49.9,224.7a1.0,1.0 0 1,0 1.9,0a1.0,1.0 0 1,0 -1.9,0M30.9,193.6a0.8,0.8 0 1,0 1.6,0a0.8,0.8 0 1,0 -1.6,0M28.5,193.7a1.0,1.0 0 1,0 2.0,0a1.0,1.0 0 1,0 -2.0,0M30.1,192.3a1.0,1.0 0 1,0 2.0,0a1.0,1.0 0 1,0 -2.0,0M45.6,201.7a1.3,1.3 0 1,0 2.6,0a1.3,1.3 0 1,0 -2.6,0M44.7,202.8a1.4,1.4 0 1,0 2.9,0a1.4,1.4 0 1,0 -2.9,0M46.7,203.6a1.2,1.2 0 1,0 2.4,0a1.2,1.2 0 1,0 -2.4,0M49.4,192.3a1.2,1.2 0 1,0 2.4,0a1.2,1.2 0 1,0 -2.4,0M49.3,192.1a1.4,1.4 0 1,0 2.9,0a1.4,1.4 0 1,0 -2.9,0M52.0,194.7a1.3,1.3 0 1,0 2.7,0a1.3,1.3 0 1,0 -2.7,0M35.2,199.4a0.9,0.9 0 1,0 1.9,0a0.9,0.9 0 1,0 -1.9,0M36.4,198.7a1.5,1.5 0 1,0 3.0,0a1.5,1.5 0 1,0 -3.0,0M36.9,198.0a1.2,1.2 0 1,0 2.4,0a1.2,1.2 0 1,0 -2.4,0M30.6,211.1a0.9,0.9 0 1,0 1.7,0a0.9,0.9 0 1,0 -1.7,0M28.8,210.3a1.0,1.0 0 1,0 2.0,0a1.0,1.0 0 1,0 -2.0,0M30.0,211.3a1.1,1.1 0 1,0 2.1,0a1.1,1.1 0 1,0 -2.1,0M46.6,218.0a0.8,0.8 0 1,0 1.5,0a0.8,0.8 0 1,0 -1.5,0M46.2,219.0a0.7,0.7 0 1,0 1.3,0a0.7,0.7 0 1,0 -1.3,0M47.5,218.6a1.0,1.0 0 1,0 1.9,0a1.0,1.0 0 1,0 -1.9,0M41.1,221.6a2.0,2.0 0 1,0 4.0,0a2.0,2.0 0 1,0 -4.0,0M42.0,220.9a1.6,1.6 0 1,0 3.3,0a1.6,1.6 0 1,0 -3.3,0M41.1,221.5a1.6,1.6 0 1,0 3.1,0a1.6,1.6 0 1,0 -3.1,0M42.4,196.1a1.0,1.0 0 1,0 2.1,0a1.0,1.0 0 1,0 -2.1,0M43.8,196.3a1.0,1.0 0 1,0 2.1,0a1.0,1.0 0 1,0 -2.1,0M43.0,195.7a1.3,1.3 0 1,0 2.6,0a1.3,1.3 0 1,0 -2.6,0M26.0,210.2a1.2,1.2 0 1,0 2.3,0a1.2,1.2 0 1,0 -2.3,0M24.5,208.9a1.1,1.1 0 1,0 2.2,0a1.1,1.1 0 1,0 -2.2,0M24.6,209.4a1.0,1.0 0 1,0 1.9,0a1.0,1.0 0 1,0 -1.9,0M49.5,202.9a1.4,1.4 0 1,0 2.8,0a1.4,1.4 0 1,0 -2.8,0M51.3,203.1a1.2,1.2 0 1,0 2.4,0a1.2,1.2 0 1,0 -2.4,0M51.8,204.3a1.0,1.0 0 1,0 1.9,0a1.0,1.0 0 1,0 -1.9,0M38.9,205.3a2.1,2.1 0 1,0 4.1,0a2.1,2.1 0 1,0 -4.1,0M40.5,206.9a1.6,1.6 0 1,0 3.3,0a1.6,1.6 0 1,0 -3.3,0M38.5,205.3a2.0,2.0 0 1,0 4.0,0a2.0,2.0 0 1,0 -4.0,0M65.2,205.2a1.8,1.8 0 1,0 3.7,0a1.8,1.8 0 1,0 -3.7,0M66.2,205.6a1.7,1.7 0 1,0 3.3,0a1.7,1.7 0 1,0 -3.3,0M65.2,206.4a1.3,1.3 0 1,0 2.6,0a1.3,1.3 0 1,0 -2.6,0M58.3,211.5a0.8,0.8 0 1,0 1.6,0a0.8,0.8 0 1,0 -1.6,0M58.9,211.4a0.8,0.8 0 1,0 1.5,0a0.8,0.8 0 1,0 -1.5,0M58.9,209.8a0.7,0.7 0 1,0 1.3,0a0.7,0.7 0 1,0 -1.3,0M43.8,199.5a1.2,1.2 0 1,0 2.3,0a1.2,1.2 0 1,0 -2.3,0M41.6,197.7a1.5,1.5 0 1,0 2.9,0a1.5,1.5 0 1,0 -2.9,0M43.5,197.5a1.4,1.4 0 1,0 2.8,0a1.4,1.4 0 1,0 -2.8,0M38.4,204.5a1.2,1.2 0 1,0 2.4,0a1.2,1.2 0 1,0 -2.4,0M39.7,205.4a0.9,0.9 0 1,0 1.7,0a0.9,0.9 0 1,0 -1.7,0M39.3,206.1a0.9,0.9 0 1,0 1.7,0a0.9,0.9 0 1,0 -1.7,0M35.0,218.5a1.3,1.3 0 1,0 2.6,0a1.3,1.3 0 1,0 -2.6,0M36.1,220.0a1.3,1.3 0 1,0 2.5,0a1.3,1.3 0 1,0 -2.5,0M34.6,218.1a1.8,1.8 0 1,0 3.7,0a1.8,1.8 0 1,0 -3.7,0M40.1,207.8a1.5,1.5 0 1,0 3.0,0a1.5,1.5 0 1,0 -3.0,0M41.8,207.7a1.2,1.2 0 1,0 2.3,0a1.2,1.2 0 1,0 -2.3,0M43.6,206.5a1.2,1.2 0 1,0 2.4,0a1.2,1.2 0 1,0 -2.4,0M44.4,186.8a0.9,0.9 0 1,0 1.8,0a0.9,0.9 0 1,0 -1.8,0M43.8,186.5a1.2,1.2 0 1,0 2.3,0a1.2,1.2 0 1,0 -2.3,0M43.2,186.6a1.3,1.3 0 1,0 2.5,0a1.3,1.3 0 1,0 -2.5,0" fill="#9a58c4" fill-opacity="0.85"/><path d="M41.9,210.4a1.6,1.6 0 1,0 3.2,0a1.6,1.6 0 1,0 -3.2,0M43.0,208.8a2.1,2.1 0 1,0 4.2,0a2.1,2.1 0 1,0 -4.2,0M40.8,208.6a1.6,1.6 0 1,0 3.1,0a1.6,1.6 0 1,0 -3.1,0M47.4,223.7a1.7,1.7 0 1,0 3.4,0a1.7,1.7 0 1,0 -3.4,0M44.6,221.4a1.6,1.6 0 1,0 3.2,0a1.6,1.6 0 1,0 -3.2,0M44.6,222.1a1.4,1.4 0 1,0 2.7,0a1.4,1.4 0 1,0 -2.7,0M52.8,198.5a0.8,0.8 0 1,0 1.6,0a0.8,0.8 0 1,0 -1.6,0M53.1,197.8a0.8,0.8 0 1,0 1.6,0a0.8,0.8 0 1,0 -1.6,0M52.8,198.8a0.9,0.9 0 1,0 1.8,0a0.9,0.9 0 1,0 -1.8,0M47.8,187.1a0.9,0.9 0 1,0 1.7,0a0.9,0.9 0 1,0 -1.7,0M48.0,185.6a0.7,0.7 0 1,0 1.5,0a0.7,0.7 0 1,0 -1.5,0M48.3,186.0a1.0,1.0 0 1,0 2.0,0a1.0,1.0 0 1,0 -2.0,0M39.9,202.6a1.9,1.9 0 1,0 3.8,0a1.9,1.9 0 1,0 -3.8,0M39.1,203.4a1.7,1.7 0 1,0 3.4,0a1.7,1.7 0 1,0 -3.4,0M39.1,205.3a1.6,1.6 0 1,0 3.2,0a1.6,1.6 0 1,0 -3.2,0M51.2,209.0a1.6,1.6 0 1,0 3.2,0a1.6,1.6 0 1,0 -3.2,0M47.8,206.9a2.1,2.1 0 1,0 4.2,0a2.1,2.1 0 1,0 -4.2,0M49.0,209.4a1.4,1.4 0 1,0 2.9,0a1.4,1.4 0 1,0 -2.9,0M34.6,210.2a1.9,1.9 0 1,0 3.8,0a1.9,1.9 0 1,0 -3.8,0M32.8,209.6a1.6,1.6 0 1,0 3.2,0a1.6,1.6 0 1,0 -3.2,0M33.1,212.2a1.4,1.4 0 1,0 2.8,0a1.4,1.4 0 1,0 -2.8,0M51.7,204.6a1.3,1.3 0 1,0 2.6,0a1.3,1.3 0 1,0 -2.6,0M50.1,202.9a1.1,1.1 0 1,0 2.3,0a1.1,1.1 0 1,0 -2.3,0M50.0,204.7a1.3,1.3 0 1,0 2.6,0a1.3,1.3 0 1,0 -2.6,0M62.1,201.5a1.2,1.2 0 1,0 2.5,0a1.2,1.2 0 1,0 -2.5,0M62.6,202.0a1.6,1.6 0 1,0 3.2,0a1.6,1.6 0 1,0 -3.2,0M62.4,200.0a1.8,1.8 0 1,0 3.7,0a1.8,1.8 0 1,0 -3.7,0M41.7,224.4a1.4,1.4 0 1,0 2.8,0a1.4,1.4 0 1,0 -2.8,0M41.6,225.8a2.2,2.2 0 1,0 4.4,0a2.2,2.2 0 1,0 -4.4,0M42.4,223.7a1.5,1.5 0 1,0 3.0,0a1.5,1.5 0 1,0 -3.0,0M57.2,212.1a2.0,2.0 0 1,0 4.0,0a2.0,2.0 0 1,0 -4.0,0M59.4,211.8a2.0,2.0 0 1,0 4.1,0a2.0,2.0 0 1,0 -4.1,0M59.7,210.6a1.4,1.4 0 1,0 2.8,0a1.4,1.4 0 1,0 -2.8,0M47.7,209.7a0.8,0.8 0 1,0 1.7,0a0.8,0.8 0 1,0 -1.7,0M47.3,209.5a1.2,1.2 0 1,0 2.4,0a1.2,1.2 0 1,0 -2.4,0M47.7,209.3a0.8,0.8 0 1,0 1.6,0a0.8,0.8 0 1,0 -1.6,0M54.9,196.3a0.7,0.7 0 1,0 1.5,0a0.7,0.7 0 1,0 -1.5,0M55.2,196.5a0.7,0.7 0 1,0 1.4,0a0.7,0.7 0 1,0 -1.4,0M54.7,195.6a1.0,1.0 0 1,0 2.1,0a1.0,1.0 0 1,0 -2.1,0M38.5,215.8a1.3,1.3 0 1,0 2.6,0a1.3,1.3 0 1,0 -2.6,0M37.1,213.7a1.2,1.2 0 1,0 2.3,0a1.2,1.2 0 1,0 -2.3,0M38.3,215.2a1.6,1.6 0 1,0 3.3,0a1.6,1.6 0 1,0 -3.3,0M57.7,198.1a0.9,0.9 0 1,0 1.8,0a0.9,0.9 0 1,0 -1.8,0M57.4,199.2a0.8,0.8 0 1,0 1.5,0a0.8,0.8 0 1,0 -1.5,0M57.0,199.2a0.7,0.7 0 1,0 1.4,0a0.7,0.7 0 1,0 -1.4,0M37.8,207.7a1.4,1.4 0 1,0 2.8,0a1.4,1.4 0 1,0 -2.8,0M36.0,207.5a1.2,1.2 0 1,0 2.4,0a1.2,1.2 0 1,0 -2.4,0M35.8,207.6a1.3,1.3 0 1,0 2.7,0a1.3,1.3 0 1,0 -2.7,0M48.4,195.4a2.1,2.1 0 1,0 4.1,0a2.1,2.1 0 1,0 -4.1,0M48.8,194.2a2.5,2.5 0 1,0 5.1,0a2.5,2.5 0 1,0 -5.1,0M49.5,195.6a2.3,2.3 0 1,0 4.6,0a2.3,2.3 0 1,0 -4.6,0M49.6,217.3a1.2,1.2 0 1,0 2.4,0a1.2,1.2 0 1,0 -2.4,0M48.6,216.0a1.0,1.0 0 1,0 1.9,0a1.0,1.0 0 1,0 -1.9,0M49.4,216.7a1.0,1.0 0 1,0 2.1,0a1.0,1.0 0 1,0 -2.1,0M46.4,220.4a0.9,0.9 0 1,0 1.9,0a0.9,0.9 0 1,0 -1.9,0M46.1,220.4a1.1,1.1 0 1,0 2.2,0a1.1,1.1 0 1,0 -2.2,0M45.3,221.2a0.7,0.7 0 1,0 1.4,0a0.7,0.7 0 1,0 -1.4,0M44.6,211.2a0.9,0.9 0 1,0 1.7,0a0.9,0.9 0 1,0 -1.7,0M44.5,210.7a0.9,0.9 0 1,0 1.8,0a0.9,0.9 0 1,0 -1.8,0M44.8,210.7a0.9,0.9 0 1,0 1.9,0a0.9,0.9 0 1,0 -1.9,0M30.1,216.0a1.6,1.6 0 1,0 3.2,0a1.6,1.6 0 1,0 -3.2,0M30.7,216.1a1.5,1.5 0 1,0 3.1,0a1.5,1.5 0 1,0 -3.1,0M29.2,217.2a1.6,1.6 0 1,0 3.2,0a1.6,1.6 0 1,0 -3.2,0M31.5,209.3a1.7,1.7 0 1,0 3.4,0a1.7,1.7 0 1,0 -3.4,0M33.8,205.3a1.9,1.9 0 1,0 3.8,0a1.9,1.9 0 1,0 -3.8,0M31.2,208.9a1.8,1.8 0 1,0 3.6,0a1.8,1.8 0 1,0 -3.6,0M29.8,199.9a1.0,1.0 0 1,0 2.0,0a1.0,1.0 0 1,0 -2.0,0M29.8,201.0a0.9,0.9 0 1,0 1.9,0a0.9,0.9 0 1,0 -1.9,0M30.9,201.3a1.1,1.1 0 1,0 2.1,0a1.1,1.1 0 1,0 -2.1,0M31.4,190.1a2.2,2.2 0 1,0 4.3,0a2.2,2.2 0 1,0 -4.3,0M33.7,188.3a1.7,1.7 0 1,0 3.4,0a1.7,1.7 0 1,0 -3.4,0M31.5,191.6a1.9,1.9 0 1,0 3.8,0a1.9,1.9 0 1,0 -3.8,0M44.9,200.9a0.9,0.9 0 1,0 1.8,0a0.9,0.9 0 1,0 -1.8,0M42.8,200.8a1.3,1.3 0 1,0 2.6,0a1.3,1.3 0 1,0 -2.6,0M44.7,199.2a1.1,1.1 0 1,0 2.3,0a1.1,1.1 0 1,0 -2.3,0M33.3,220.4a1.5,1.5 0 1,0 2.9,0a1.5,1.5 0 1,0 -2.9,0M33.2,220.1a1.3,1.3 0 1,0 2.6,0a1.3,1.3 0 1,0 -2.6,0M34.0,219.2a1.3,1.3 0 1,0 2.5,0a1.3,1.3 0 1,0 -2.5,0M40.7,210.4a1.4,1.4 0 1,0 2.8,0a1.4,1.4 0 1,0 -2.8,0M40.3,209.9a1.4,1.4 0 1,0 2.8,0a1.4,1.4 0 1,0 -2.8,0M40.0,210.2a2.0,2.0 0 1,0 4.0,0a2.0,2.0 0 1,0 -4.0,0M34.7,189.8a1.4,1.4 0 1,0 2.7,0a1.4,1.4 0 1,0 -2.7,0M35.1,192.0a1.5,1.5 0 1,0 3.0,0a1.5,1.5 0 1,0 -3.0,0M36.1,190.7a1.4,1.4 0 1,0 2.9,0a1.4,1.4 0 1,0 -2.9,0M43.5,223.5a1.5,1.5 0 1,0 3.0,0a1.5,1.5 0 1,0 -3.0,0M44.6,223.9a1.2,1.2 0 1,0 2.4,0a1.2,1.2 0 1,0 -2.4,0M44.4,224.5a1.5,1.5 0 1,0 2.9,0a1.5,1.5 0 1,0 -2.9,0M41.5,190.3a1.6,1.6 0 1,0 3.2,0a1.6,1.6 0 1,0 -3.2,0M40.4,190.1a2.1,2.1 0 1,0 4.2,0a2.1,2.1 0 1,0 -4.2,0M40.7,191.9a1.5,1.5 0 1,0 3.1,0a1.5,1.5 0 1,0 -3.1,0M63.7,216.4a0.6,0.6 0 1,0 1.2,0a0.6,0.6 0 1,0 -1.2,0M62.4,216.7a0.7,0.7 0 1,0 1.3,0a0.7,0.7 0 1,0 -1.3,0M63.3,217.4a0.7,0.7 0 1,0 1.3,0a0.7,0.7 0 1,0 -1.3,0M31.5,197.8a1.0,1.0 0 1,0 2.0,0a1.0,1.0 0 1,0 -2.0,0M32.0,196.8a0.9,0.9 0 1,0 1.8,0a0.9,0.9 0 1,0 -1.8,0M32.1,197.2a1.1,1.1 0 1,0 2.2,0a1.1,1.1 0 1,0 -2.2,0M41.4,194.7a1.1,1.1 0 1,0 2.1,0a1.1,1.1 0 1,0 -2.1,0M40.9,193.2a1.1,1.1 0 1,0 2.3,0a1.1,1.1 0 1,0 -2.3,0M41.1,194.9a1.1,1.1 0 1,0 2.3,0a1.1,1.1 0 1,0 -2.3,0M61.9,208.7a1.6,1.6 0 1,0 3.1,0a1.6,1.6 0 1,0 -3.1,0M64.4,211.2a1.8,1.8 0 1,0 3.6,0a1.8,1.8 0 1,0 -3.6,0M61.7,209.7a1.9,1.9 0 1,0 3.7,0a1.9,1.9 0 1,0 -3.7,0M37.3,200.8a1.1,1.1 0 1,0 2.3,0a1.1,1.1 0 1,0 -2.3,0M35.0,202.8a1.6,1.6 0 1,0 3.3,0a1.6,1.6 0 1,0 -3.3,0M37.5,203.2a1.2,1.2 0 1,0 2.3,0a1.2,1.2 0 1,0 -2.3,0M40.8,222.3a1.6,1.6 0 1,0 3.3,0a1.6,1.6 0 1,0 -3.3,0M39.6,223.9a2.0,2.0 0 1,0 3.9,0a2.0,2.0 0 1,0 -3.9,0M40.8,222.4a1.5,1.5 0 1,0 3.0,0a1.5,1.5 0 1,0 -3.0,0M40.2,208.2a0.9,0.9 0 1,0 1.8,0a0.9,0.9 0 1,0 -1.8,0M38.8,207.7a0.9,0.9 0 1,0 1.8,0a0.9,0.9 0 1,0 -1.8,0M38.8,207.4a1.1,1.1 0 1,0 2.2,0a1.1,1.1 0 1,0 -2.2,0M33.5,191.2a1.1,1.1 0 1,0 2.2,0a1.1,1.1 0 1,0 -2.2,0M34.1,190.7a0.8,0.8 0 1,0 1.5,0a0.8,0.8 0 1,0 -1.5,0M32.4,191.9a0.9,0.9 0 1,0 1.8,0a0.9,0.9 0 1,0 -1.8,0M64.0,212.7a1.9,1.9 0 1,0 3.7,0a1.9,1.9 0 1,0 -3.7,0M62.9,209.8a1.5,1.5 0 1,0 3.1,0a1.5,1.5 0 1,0 -3.1,0M62.1,212.2a1.3,1.3 0 1,0 2.7,0a1.3,1.3 0 1,0 -2.7,0M61.6,194.6a2.3,2.3 0 1,0 4.7,0a2.3,2.3 0 1,0 -4.7,0M60.1,196.5a2.0,2.0 0 1,0 3.9,0a2.0,2.0 0 1,0 -3.9,0M58.4,197.9a2.4,2.4 0 1,0 4.9,0a2.4,2.4 0 1,0 -4.9,0M63.8,213.5a1.3,1.3 0 1,0 2.6,0a1.3,1.3 0 1,0 -2.6,0M63.0,212.9a0.9,0.9 0 1,0 1.7,0a0.9,0.9 0 1,0 -1.7,0M63.8,212.2a1.1,1.1 0 1,0 2.2,0a1.1,1.1 0 1,0 -2.2,0M36.5,191.1a1.2,1.2 0 1,0 2.4,0a1.2,1.2 0 1,0 -2.4,0M38.3,190.1a1.1,1.1 0 1,0 2.1,0a1.1,1.1 0 1,0 -2.1,0M36.5,190.0a1.3,1.3 0 1,0 2.6,0a1.3,1.3 0 1,0 -2.6,0M62.1,210.5a1.5,1.5 0 1,0 3.1,0a1.5,1.5 0 1,0 -3.1,0M63.4,208.8a1.2,1.2 0 1,0 2.5,0a1.2,1.2 0 1,0 -2.5,0M62.5,210.3a1.3,1.3 0 1,0 2.6,0a1.3,1.3 0 1,0 -2.6,0M46.6,202.5a2.1,2.1 0 1,0 4.1,0a2.1,2.1 0 1,0 -4.1,0M44.8,202.8a1.7,1.7 0 1,0 3.5,0a1.7,1.7 0 1,0 -3.5,0M45.8,205.0a2.3,2.3 0 1,0 4.7,0a2.3,2.3 0 1,0 -4.7,0M35.1,221.1a0.8,0.8 0 1,0 1.7,0a0.8,0.8 0 1,0 -1.7,0M34.6,221.3a1.2,1.2 0 1,0 2.3,0a1.2,1.2 0 1,0 -2.3,0M34.4,222.1a1.4,1.4 0 1,0 2.7,0a1.4,1.4 0 1,0 -2.7,0M54.6,221.4a1.3,1.3 0 1,0 2.7,0a1.3,1.3 0 1,0 -2.7,0M54.6,221.3a0.9,0.9 0 1,0 1.9,0a0.9,0.9 0 1,0 -1.9,0M54.3,221.3a1.5,1.5 0 1,0 3.0,0a1.5,1.5 0 1,0 -3.0,0M46.8,203.4a1.1,1.1 0 1,0 2.2,0a1.1,1.1 0 1,0 -2.2,0M48.0,204.4a0.9,0.9 0 1,0 1.8,0a0.9,0.9 0 1,0 -1.8,0M48.6,203.6a1.0,1.0 0 1,0 2.0,0a1.0,1.0 0 1,0 -2.0,0M40.7,221.8a1.4,1.4 0 1,0 2.9,0a1.4,1.4 0 1,0 -2.9,0M40.3,223.2a1.0,1.0 0 1,0 2.1,0a1.0,1.0 0 1,0 -2.1,0M41.9,222.7a1.1,1.1 0 1,0 2.1,0a1.1,1.1 0 1,0 -2.1,0M58.8,191.6a1.4,1.4 0 1,0 2.8,0a1.4,1.4 0 1,0 -2.8,0M58.6,189.3a1.5,1.5 0 1,0 2.9,0a1.5,1.5 0 1,0 -2.9,0M57.8,193.0a1.7,1.7 0 1,0 3.5,0a1.7,1.7 0 1,0 -3.5,0" fill="#8a46b8" fill-opacity="0.92"/></g><circle cx="45.80" cy="206.30" r="21.30" fill="none" stroke="#cfcdd0" stroke-width="0.6"/><clipPath id="pa1"><circle cx="93.00" cy="206.30" r="21.60"/></clipPath><circle cx="93.00" cy="206.30" r="21.60" fill="#e0ddd5"/><g clip-path="url(#pa1)"><path d="M102.8,208.0a1.8,1.8 0 1,0 3.5,0a1.8,1.8 0 1,0 -3.5,0M104.9,207.6a1.4,1.4 0 1,0 2.9,0a1.4,1.4 0 1,0 -2.9,0M103.6,205.7a1.3,1.3 0 1,0 2.5,0a1.3,1.3 0 1,0 -2.5,0M90.6,199.7a1.1,1.1 0 1,0 2.2,0a1.1,1.1 0 1,0 -2.2,0M90.7,198.6a1.1,1.1 0 1,0 2.2,0a1.1,1.1 0 1,0 -2.2,0M90.0,198.4a1.7,1.7 0 1,0 3.5,0a1.7,1.7 0 1,0 -3.5,0M105.8,192.9a1.6,1.6 0 1,0 3.1,0a1.6,1.6 0 1,0 -3.1,0M107.6,193.6a1.4,1.4 0 1,0 2.8,0a1.4,1.4 0 1,0 -2.8,0M107.3,193.7a1.4,1.4 0 1,0 2.7,0a1.4,1.4 0 1,0 -2.7,0M83.8,200.2a1.0,1.0 0 1,0 2.0,0a1.0,1.0 0 1,0 -2.0,0M81.7,200.2a1.2,1.2 0 1,0 2.3,0a1.2,1.2 0 1,0 -2.3,0M83.2,198.6a1.2,1.2 0 1,0 2.5,0a1.2,1.2 0 1,0 -2.5,0M84.7,200.5a1.0,1.0 0 1,0 2.1,0a1.0,1.0 0 1,0 -2.1,0M85.1,199.6a1.3,1.3 0 1,0 2.5,0a1.3,1.3 0 1,0 -2.5,0M83.8,199.7a0.9,0.9 0 1,0 1.7,0a0.9,0.9 0 1,0 -1.7,0M94.7,211.9a0.8,0.8 0 1,0 1.6,0a0.8,0.8 0 1,0 -1.6,0M95.0,210.3a0.7,0.7 0 1,0 1.3,0a0.7,0.7 0 1,0 -1.3,0M94.1,210.8a0.8,0.8 0 1,0 1.5,0a0.8,0.8 0 1,0 -1.5,0M77.7,196.1a2.1,2.1 0 1,0 4.2,0a2.1,2.1 0 1,0 -4.2,0M75.9,194.7a2.0,2.0 0 1,0 3.9,0a2.0,2.0 0 1,0 -3.9,0M78.7,193.0a1.9,1.9 0 1,0 3.9,0a1.9,1.9 0 1,0 -3.9,0M95.5,221.1a1.6,1.6 0 1,0 3.2,0a1.6,1.6 0 1,0 -3.2,0M97.2,222.5a1.8,1.8 0 1,0 3.5,0a1.8,1.8 0 1,0 -3.5,0M96.9,221.8a2.2,2.2 0 1,0 4.5,0a2.2,2.2 0 1,0 -4.5,0M111.5,201.9a1.5,1.5 0 1,0 3.0,0a1.5,1.5 0 1,0 -3.0,0M111.1,202.1a1.7,1.7 0 1,0 3.4,0a1.7,1.7 0 1,0 -3.4,0M113.5,203.1a1.9,1.9 0 1,0 3.7,0a1.9,1.9 0 1,0 -3.7,0M81.0,223.8a0.7,0.7 0 1,0 1.4,0a0.7,0.7 0 1,0 -1.4,0M81.8,224.5a0.7,0.7 0 1,0 1.4,0a0.7,0.7 0 1,0 -1.4,0M81.8,223.7a0.7,0.7 0 1,0 1.4,0a0.7,0.7 0 1,0 -1.4,0M87.1,186.3a0.7,0.7 0 1,0 1.3,0a0.7,0.7 0 1,0 -1.3,0M88.1,187.1a0.8,0.8 0 1,0 1.6,0a0.8,0.8 0 1,0 -1.6,0M87.7,187.8a0.9,0.9 0 1,0 1.7,0a0.9,0.9 0 1,0 -1.7,0M104.2,224.9a1.6,1.6 0 1,0 3.3,0a1.6,1.6 0 1,0 -3.3,0M101.5,222.5a2.3,2.3 0 1,0 4.6,0a2.3,2.3 0 1,0 -4.6,0M102.0,223.6a1.7,1.7 0 1,0 3.4,0a1.7,1.7 0 1,0 -3.4,0M88.4,200.2a1.1,1.1 0 1,0 2.3,0a1.1,1.1 0 1,0 -2.3,0M88.3,201.5a1.1,1.1 0 1,0 2.2,0a1.1,1.1 0 1,0 -2.2,0M89.5,200.5a1.0,1.0 0 1,0 2.1,0a1.0,1.0 0 1,0 -2.1,0M81.6,195.4a1.2,1.2 0 1,0 2.3,0a1.2,1.2 0 1,0 -2.3,0M81.0,196.1a1.2,1.2 0 1,0 2.4,0a1.2,1.2 0 1,0 -2.4,0M80.5,195.5a1.1,1.1 0 1,0 2.1,0a1.1,1.1 0 1,0 -2.1,0M79.0,197.4a1.6,1.6 0 1,0 3.2,0a1.6,1.6 0 1,0 -3.2,0M76.5,200.7a2.1,2.1 0 1,0 4.2,0a2.1,2.1 0 1,0 -4.2,0M78.4,197.2a2.5,2.5 0 1,0 5.0,0a2.5,2.5 0 1,0 -5.0,0M78.8,214.0a1.8,1.8 0 1,0 3.5,0a1.8,1.8 0 1,0 -3.5,0M79.4,212.7a2.3,2.3 0 1,0 4.5,0a2.3,2.3 0 1,0 -4.5,0M80.6,212.6a1.6,1.6 0 1,0 3.2,0a1.6,1.6 0 1,0 -3.2,0M99.3,222.8a1.7,1.7 0 1,0 3.4,0a1.7,1.7 0 1,0 -3.4,0M102.0,221.9a1.7,1.7 0 1,0 3.4,0a1.7,1.7 0 1,0 -3.4,0M100.8,224.0a1.6,1.6 0 1,0 3.2,0a1.6,1.6 0 1,0 -3.2,0M72.1,208.9a1.3,1.3 0 1,0 2.5,0a1.3,1.3 0 1,0 -2.5,0M69.8,210.2a1.6,1.6 0 1,0 3.3,0a1.6,1.6 0 1,0 -3.3,0M71.9,208.6a1.4,1.4 0 1,0 2.8,0a1.4,1.4 0 1,0 -2.8,0M90.3,193.2a1.4,1.4 0 1,0 2.9,0a1.4,1.4 0 1,0 -2.9,0M88.6,195.1a1.2,1.2 0 1,0 2.5,0a1.2,1.2 0 1,0 -2.5,0M90.4,193.7a1.4,1.4 0 1,0 2.7,0a1.4,1.4 0 1,0 -2.7,0M73.7,203.5a1.9,1.9 0 1,0 3.8,0a1.9,1.9 0 1,0 -3.8,0M76.8,203.3a1.9,1.9 0 1,0 3.8,0a1.9,1.9 0 1,0 -3.8,0M77.3,201.6a2.1,2.1 0 1,0 4.2,0a2.1,2.1 0 1,0 -4.2,0M92.5,190.1a1.3,1.3 0 1,0 2.7,0a1.3,1.3 0 1,0 -2.7,0M91.3,189.2a1.6,1.6 0 1,0 3.1,0a1.6,1.6 0 1,0 -3.1,0M91.6,191.7a1.6,1.6 0 1,0 3.1,0a1.6,1.6 0 1,0 -3.1,0M105.1,206.7a1.1,1.1 0 1,0 2.3,0a1.1,1.1 0 1,0 -2.3,0M106.7,206.3a0.7,0.7 0 1,0 1.4,0a0.7,0.7 0 1,0 -1.4,0M104.6,207.1a1.1,1.1 0 1,0 2.1,0a1.1,1.1 0 1,0 -2.1,0M100.1,191.4a1.8,1.8 0 1,0 3.6,0a1.8,1.8 0 1,0 -3.6,0M100.7,192.3a1.7,1.7 0 1,0 3.3,0a1.7,1.7 0 1,0 -3.3,0M100.6,190.8a1.2,1.2 0 1,0 2.4,0a1.2,1.2 0 1,0 -2.4,0M104.6,213.8a1.4,1.4 0 1,0 2.9,0a1.4,1.4 0 1,0 -2.9,0M106.5,213.8a1.2,1.2 0 1,0 2.4,0a1.2,1.2 0 1,0 -2.4,0M105.2,215.6a1.2,1.2 0 1,0 2.4,0a1.2,1.2 0 1,0 -2.4,0M99.7,212.5a0.7,0.7 0 1,0 1.4,0a0.7,0.7 0 1,0 -1.4,0M101.4,212.2a0.8,0.8 0 1,0 1.6,0a0.8,0.8 0 1,0 -1.6,0M99.9,213.7a1.1,1.1 0 1,0 2.2,0a1.1,1.1 0 1,0 -2.2,0M96.5,198.6a1.5,1.5 0 1,0 3.0,0a1.5,1.5 0 1,0 -3.0,0M97.1,200.5a1.2,1.2 0 1,0 2.5,0a1.2,1.2 0 1,0 -2.5,0M97.4,200.0a1.6,1.6 0 1,0 3.3,0a1.6,1.6 0 1,0 -3.3,0M108.2,204.8a1.5,1.5 0 1,0 3.1,0a1.5,1.5 0 1,0 -3.1,0M108.9,203.3a1.8,1.8 0 1,0 3.5,0a1.8,1.8 0 1,0 -3.5,0M108.9,203.3a1.4,1.4 0 1,0 2.8,0a1.4,1.4 0 1,0 -2.8,0M93.9,190.7a1.1,1.1 0 1,0 2.1,0a1.1,1.1 0 1,0 -2.1,0M94.8,189.9a0.7,0.7 0 1,0 1.3,0a0.7,0.7 0 1,0 -1.3,0M94.8,190.1a1.0,1.0 0 1,0 2.0,0a1.0,1.0 0 1,0 -2.0,0M81.4,204.3a1.3,1.3 0 1,0 2.6,0a1.3,1.3 0 1,0 -2.6,0M79.5,203.5a1.5,1.5 0 1,0 3.1,0a1.5,1.5 0 1,0 -3.1,0M79.1,205.5a1.3,1.3 0 1,0 2.7,0a1.3,1.3 0 1,0 -2.7,0M107.0,219.2a1.1,1.1 0 1,0 2.2,0a1.1,1.1 0 1,0 -2.2,0M107.2,219.0a1.8,1.8 0 1,0 3.6,0a1.8,1.8 0 1,0 -3.6,0M108.4,217.3a1.1,1.1 0 1,0 2.3,0a1.1,1.1 0 1,0 -2.3,0M78.4,214.3a0.7,0.7 0 1,0 1.4,0a0.7,0.7 0 1,0 -1.4,0M79.1,215.4a1.0,1.0 0 1,0 2.0,0a1.0,1.0 0 1,0 -2.0,0M79.6,215.4a0.9,0.9 0 1,0 1.9,0a0.9,0.9 0 1,0 -1.9,0M97.7,205.7a1.8,1.8 0 1,0 3.5,0a1.8,1.8 0 1,0 -3.5,0M101.3,208.3a1.4,1.4 0 1,0 2.9,0a1.4,1.4 0 1,0 -2.9,0M99.5,206.6a1.1,1.1 0 1,0 2.2,0a1.1,1.1 0 1,0 -2.2,0M103.9,217.9a1.3,1.3 0 1,0 2.5,0a1.3,1.3 0 1,0 -2.5,0M104.8,218.4a1.4,1.4 0 1,0 2.8,0a1.4,1.4 0 1,0 -2.8,0M103.1,218.5a1.1,1.1 0 1,0 2.2,0a1.1,1.1 0 1,0 -2.2,0M77.1,192.9a2.4,2.4 0 1,0 4.7,0a2.4,2.4 0 1,0 -4.7,0M73.7,194.5a2.4,2.4 0 1,0 4.8,0a2.4,2.4 0 1,0 -4.8,0M74.2,192.0a2.1,2.1 0 1,0 4.2,0a2.1,2.1 0 1,0 -4.2,0M91.1,192.4a1.5,1.5 0 1,0 3.0,0a1.5,1.5 0 1,0 -3.0,0M91.6,191.9a1.4,1.4 0 1,0 2.8,0a1.4,1.4 0 1,0 -2.8,0M91.6,190.8a1.5,1.5 0 1,0 3.0,0a1.5,1.5 0 1,0 -3.0,0M102.5,201.8a1.0,1.0 0 1,0 1.9,0a1.0,1.0 0 1,0 -1.9,0M104.4,201.1a0.8,0.8 0 1,0 1.6,0a0.8,0.8 0 1,0 -1.6,0M104.6,202.2a0.6,0.6 0 1,0 1.2,0a0.6,0.6 0 1,0 -1.2,0M110.3,206.2a2.0,2.0 0 1,0 4.0,0a2.0,2.0 0 1,0 -4.0,0M111.9,207.5a1.5,1.5 0 1,0 2.9,0a1.5,1.5 0 1,0 -2.9,0M110.8,205.6a1.8,1.8 0 1,0 3.6,0a1.8,1.8 0 1,0 -3.6,0M84.0,212.5a1.6,1.6 0 1,0 3.2,0a1.6,1.6 0 1,0 -3.2,0M86.1,212.4a1.5,1.5 0 1,0 2.9,0a1.5,1.5 0 1,0 -2.9,0M82.9,212.3a1.4,1.4 0 1,0 2.8,0a1.4,1.4 0 1,0 -2.8,0M94.6,212.4a1.0,1.0 0 1,0 2.0,0a1.0,1.0 0 1,0 -2.0,0M93.7,210.6a1.4,1.4 0 1,0 2.8,0a1.4,1.4 0 1,0 -2.8,0M93.8,211.3a1.0,1.0 0 1,0 2.0,0a1.0,1.0 0 1,0 -2.0,0M96.6,201.9a0.8,0.8 0 1,0 1.5,0a0.8,0.8 0 1,0 -1.5,0M95.9,202.7a0.8,0.8 0 1,0 1.6,0a0.8,0.8 0 1,0 -1.6,0M95.6,201.5a1.0,1.0 0 1,0 1.9,0a1.0,1.0 0 1,0 -1.9,0" fill="#9a58c4" fill-opacity="0.85"/><path d="M79.3,207.0a2.4,2.4 0 1,0 4.7,0a2.4,2.4 0 1,0 -4.7,0M78.5,208.0a2.3,2.3 0 1,0 4.5,0a2.3,2.3 0 1,0 -4.5,0M79.9,208.7a2.0,2.0 0 1,0 4.0,0a2.0,2.0 0 1,0 -4.0,0M84.3,211.5a1.6,1.6 0 1,0 3.1,0a1.6,1.6 0 1,0 -3.1,0M83.8,211.1a1.2,1.2 0 1,0 2.5,0a1.2,1.2 0 1,0 -2.5,0M83.5,212.0a1.5,1.5 0 1,0 3.0,0a1.5,1.5 0 1,0 -3.0,0M92.8,187.2a1.1,1.1 0 1,0 2.2,0a1.1,1.1 0 1,0 -2.2,0M94.1,189.5a1.7,1.7 0 1,0 3.3,0a1.7,1.7 0 1,0 -3.3,0M91.7,187.8a1.5,1.5 0 1,0 3.0,0a1.5,1.5 0 1,0 -3.0,0M78.6,206.6a2.4,2.4 0 1,0 4.9,0a2.4,2.4 0 1,0 -4.9,0M78.5,203.1a2.1,2.1 0 1,0 4.1,0a2.1,2.1 0 1,0 -4.1,0M82.0,205.7a2.0,2.0 0 1,0 4.1,0a2.0,2.0 0 1,0 -4.1,0M79.5,200.5a0.8,0.8 0 1,0 1.7,0a0.8,0.8 0 1,0 -1.7,0M79.3,200.5a0.7,0.7 0 1,0 1.4,0a0.7,0.7 0 1,0 -1.4,0M79.8,200.7a0.8,0.8 0 1,0 1.6,0a0.8,0.8 0 1,0 -1.6,0M79.1,188.7a1.0,1.0 0 1,0 2.0,0a1.0,1.0 0 1,0 -2.0,0M79.1,190.1a1.0,1.0 0 1,0 2.0,0a1.0,1.0 0 1,0 -2.0,0M79.9,189.8a0.8,0.8 0 1,0 1.5,0a0.8,0.8 0 1,0 -1.5,0M80.9,221.7a1.2,1.2 0 1,0 2.4,0a1.2,1.2 0 1,0 -2.4,0M80.0,223.0a1.2,1.2 0 1,0 2.4,0a1.2,1.2 0 1,0 -2.4,0M80.1,222.4a1.7,1.7 0 1,0 3.3,0a1.7,1.7 0 1,0 -3.3,0M76.8,214.4a0.9,0.9 0 1,0 1.8,0a0.9,0.9 0 1,0 -1.8,0M75.7,215.7a1.0,1.0 0 1,0 2.1,0a1.0,1.0 0 1,0 -2.1,0M76.1,216.1a0.9,0.9 0 1,0 1.8,0a0.9,0.9 0 1,0 -1.8,0M94.3,200.2a0.7,0.7 0 1,0 1.4,0a0.7,0.7 0 1,0 -1.4,0M94.7,199.7a0.7,0.7 0 1,0 1.4,0a0.7,0.7 0 1,0 -1.4,0M94.4,199.6a0.9,0.9 0 1,0 1.8,0a0.9,0.9 0 1,0 -1.8,0M82.8,191.1a1.4,1.4 0 1,0 2.9,0a1.4,1.4 0 1,0 -2.9,0M82.0,192.2a1.6,1.6 0 1,0 3.1,0a1.6,1.6 0 1,0 -3.1,0M83.3,191.5a1.1,1.1 0 1,0 2.2,0a1.1,1.1 0 1,0 -2.2,0M104.2,199.8a2.4,2.4 0 1,0 4.8,0a2.4,2.4 0 1,0 -4.8,0M104.9,197.5a2.3,2.3 0 1,0 4.7,0a2.3,2.3 0 1,0 -4.7,0M105.0,199.0a2.4,2.4 0 1,0 4.7,0a2.4,2.4 0 1,0 -4.7,0M107.4,216.1a1.6,1.6 0 1,0 3.2,0a1.6,1.6 0 1,0 -3.2,0M108.5,215.3a2.0,2.0 0 1,0 4.0,0a2.0,2.0 0 1,0 -4.0,0M110.0,215.9a1.5,1.5 0 1,0 2.9,0a1.5,1.5 0 1,0 -2.9,0M96.3,205.5a1.6,1.6 0 1,0 3.3,0a1.6,1.6 0 1,0 -3.3,0M96.9,206.4a1.4,1.4 0 1,0 2.8,0a1.4,1.4 0 1,0 -2.8,0M97.3,207.3a1.7,1.7 0 1,0 3.4,0a1.7,1.7 0 1,0 -3.4,0M105.9,223.4a0.9,0.9 0 1,0 1.7,0a0.9,0.9 0 1,0 -1.7,0M105.9,222.7a1.1,1.1 0 1,0 2.3,0a1.1,1.1 0 1,0 -2.3,0M105.0,222.7a1.3,1.3 0 1,0 2.6,0a1.3,1.3 0 1,0 -2.6,0M100.7,195.0a1.4,1.4 0 1,0 2.9,0a1.4,1.4 0 1,0 -2.9,0M100.4,196.8a1.9,1.9 0 1,0 3.7,0a1.9,1.9 0 1,0 -3.7,0M99.8,195.3a1.8,1.8 0 1,0 3.5,0a1.8,1.8 0 1,0 -3.5,0M81.8,196.8a0.9,0.9 0 1,0 1.7,0a0.9,0.9 0 1,0 -1.7,0M80.8,197.6a1.3,1.3 0 1,0 2.6,0a1.3,1.3 0 1,0 -2.6,0M81.1,196.1a1.1,1.1 0 1,0 2.2,0a1.1,1.1 0 1,0 -2.2,0M102.7,200.3a1.9,1.9 0 1,0 3.7,0a1.9,1.9 0 1,0 -3.7,0M106.0,202.8a1.6,1.6 0 1,0 3.3,0a1.6,1.6 0 1,0 -3.3,0M105.4,201.8a1.5,1.5 0 1,0 3.1,0a1.5,1.5 0 1,0 -3.1,0M96.1,213.0a0.8,0.8 0 1,0 1.7,0a0.8,0.8 0 1,0 -1.7,0M94.5,214.9a0.9,0.9 0 1,0 1.8,0a0.9,0.9 0 1,0 -1.8,0M95.3,213.0a0.9,0.9 0 1,0 1.9,0a0.9,0.9 0 1,0 -1.9,0M70.8,208.6a0.9,0.9 0 1,0 1.9,0a0.9,0.9 0 1,0 -1.9,0M71.2,208.6a0.7,0.7 0 1,0 1.4,0a0.7,0.7 0 1,0 -1.4,0M70.5,210.0a0.8,0.8 0 1,0 1.7,0a0.8,0.8 0 1,0 -1.7,0M91.1,227.6a1.2,1.2 0 1,0 2.4,0a1.2,1.2 0 1,0 -2.4,0M91.0,226.8a1.0,1.0 0 1,0 2.1,0a1.0,1.0 0 1,0 -2.1,0M91.8,228.1a0.9,0.9 0 1,0 1.8,0a0.9,0.9 0 1,0 -1.8,0M91.7,220.9a2.1,2.1 0 1,0 4.2,0a2.1,2.1 0 1,0 -4.2,0M93.9,221.6a1.4,1.4 0 1,0 2.8,0a1.4,1.4 0 1,0 -2.8,0M94.0,219.3a2.0,2.0 0 1,0 4.0,0a2.0,2.0 0 1,0 -4.0,0M109.3,198.0a0.7,0.7 0 1,0 1.3,0a0.7,0.7 0 1,0 -1.3,0M109.1,198.2a0.7,0.7 0 1,0 1.5,0a0.7,0.7 0 1,0 -1.5,0M109.4,197.9a0.8,0.8 0 1,0 1.6,0a0.8,0.8 0 1,0 -1.6,0M98.9,194.3a1.6,1.6 0 1,0 3.1,0a1.6,1.6 0 1,0 -3.1,0M97.6,192.5a1.9,1.9 0 1,0 3.7,0a1.9,1.9 0 1,0 -3.7,0M98.2,193.7a1.7,1.7 0 1,0 3.4,0a1.7,1.7 0 1,0 -3.4,0M80.5,218.7a2.3,2.3 0 1,0 4.7,0a2.3,2.3 0 1,0 -4.7,0M85.1,214.7a1.7,1.7 0 1,0 3.4,0a1.7,1.7 0 1,0 -3.4,0M85.2,217.9a1.6,1.6 0 1,0 3.3,0a1.6,1.6 0 1,0 -3.3,0M74.3,207.0a1.8,1.8 0 1,0 3.6,0a1.8,1.8 0 1,0 -3.6,0M70.5,210.2a2.3,2.3 0 1,0 4.5,0a2.3,2.3 0 1,0 -4.5,0M70.7,210.4a2.1,2.1 0 1,0 4.2,0a2.1,2.1 0 1,0 -4.2,0M78.6,217.3a0.8,0.8 0 1,0 1.7,0a0.8,0.8 0 1,0 -1.7,0M79.2,218.1a0.9,0.9 0 1,0 1.7,0a0.9,0.9 0 1,0 -1.7,0M78.6,216.9a0.8,0.8 0 1,0 1.6,0a0.8,0.8 0 1,0 -1.6,0M98.6,196.1a1.9,1.9 0 1,0 3.8,0a1.9,1.9 0 1,0 -3.8,0M99.1,195.4a1.3,1.3 0 1,0 2.6,0a1.3,1.3 0 1,0 -2.6,0M100.3,193.8a1.4,1.4 0 1,0 2.9,0a1.4,1.4 0 1,0 -2.9,0M78.8,212.2a1.5,1.5 0 1,0 3.1,0a1.5,1.5 0 1,0 -3.1,0M79.0,212.9a1.4,1.4 0 1,0 2.7,0a1.4,1.4 0 1,0 -2.7,0M79.2,212.1a1.0,1.0 0 1,0 2.0,0a1.0,1.0 0 1,0 -2.0,0M107.4,196.7a1.5,1.5 0 1,0 3.0,0a1.5,1.5 0 1,0 -3.0,0M107.7,196.0a1.3,1.3 0 1,0 2.5,0a1.3,1.3 0 1,0 -2.5,0M108.3,196.4a0.9,0.9 0 1,0 1.9,0a0.9,0.9 0 1,0 -1.9,0M90.4,192.5a0.9,0.9 0 1,0 1.8,0a0.9,0.9 0 1,0 -1.8,0M88.4,191.5a1.3,1.3 0 1,0 2.5,0a1.3,1.3 0 1,0 -2.5,0M87.9,192.2a1.1,1.1 0 1,0 2.2,0a1.1,1.1 0 1,0 -2.2,0M92.4,214.5a1.3,1.3 0 1,0 2.7,0a1.3,1.3 0 1,0 -2.7,0M91.9,214.5a1.6,1.6 0 1,0 3.2,0a1.6,1.6 0 1,0 -3.2,0M92.3,213.5a1.1,1.1 0 1,0 2.3,0a1.1,1.1 0 1,0 -2.3,0M96.3,194.5a0.8,0.8 0 1,0 1.6,0a0.8,0.8 0 1,0 -1.6,0M95.7,193.8a0.9,0.9 0 1,0 1.8,0a0.9,0.9 0 1,0 -1.8,0M95.9,194.0a0.8,0.8 0 1,0 1.6,0a0.8,0.8 0 1,0 -1.6,0M96.6,225.4a1.4,1.4 0 1,0 2.8,0a1.4,1.4 0 1,0 -2.8,0M94.8,225.3a1.0,1.0 0 1,0 1.9,0a1.0,1.0 0 1,0 -1.9,0M96.3,225.8a1.5,1.5 0 1,0 2.9,0a1.5,1.5 0 1,0 -2.9,0M79.8,209.7a1.4,1.4 0 1,0 2.8,0a1.4,1.4 0 1,0 -2.8,0M79.2,208.5a1.7,1.7 0 1,0 3.4,0a1.7,1.7 0 1,0 -3.4,0M78.2,209.2a1.3,1.3 0 1,0 2.7,0a1.3,1.3 0 1,0 -2.7,0M75.9,192.1a0.8,0.8 0 1,0 1.7,0a0.8,0.8 0 1,0 -1.7,0M76.8,191.6a1.4,1.4 0 1,0 2.8,0a1.4,1.4 0 1,0 -2.8,0M76.8,190.2a1.4,1.4 0 1,0 2.8,0a1.4,1.4 0 1,0 -2.8,0M102.8,210.1a1.0,1.0 0 1,0 1.9,0a1.0,1.0 0 1,0 -1.9,0M103.7,209.0a0.9,0.9 0 1,0 1.8,0a0.9,0.9 0 1,0 -1.8,0M103.1,210.2a0.7,0.7 0 1,0 1.4,0a0.7,0.7 0 1,0 -1.4,0M90.5,204.0a1.1,1.1 0 1,0 2.1,0a1.1,1.1 0 1,0 -2.1,0M90.6,203.3a1.1,1.1 0 1,0 2.1,0a1.1,1.1 0 1,0 -2.1,0M90.3,204.0a0.9,0.9 0 1,0 1.7,0a0.9,0.9 0 1,0 -1.7,0M79.0,214.7a1.6,1.6 0 1,0 3.2,0a1.6,1.6 0 1,0 -3.2,0M77.7,215.8a1.1,1.1 0 1,0 2.3,0a1.1,1.1 0 1,0 -2.3,0M79.0,214.1a1.3,1.3 0 1,0 2.6,0a1.3,1.3 0 1,0 -2.6,0M76.8,200.1a1.5,1.5 0 1,0 3.0,0a1.5,1.5 0 1,0 -3.0,0M77.7,198.6a1.7,1.7 0 1,0 3.4,0a1.7,1.7 0 1,0 -3.4,0M76.6,198.4a1.5,1.5 0 1,0 3.0,0a1.5,1.5 0 1,0 -3.0,0M91.6,202.2a2.3,2.3 0 1,0 4.7,0a2.3,2.3 0 1,0 -4.7,0M89.2,202.6a2.1,2.1 0 1,0 4.1,0a2.1,2.1 0 1,0 -4.1,0M90.7,202.3a2.3,2.3 0 1,0 4.6,0a2.3,2.3 0 1,0 -4.6,0M93.8,225.5a2.2,2.2 0 1,0 4.4,0a2.2,2.2 0 1,0 -4.4,0M93.4,225.1a2.2,2.2 0 1,0 4.4,0a2.2,2.2 0 1,0 -4.4,0M94.1,222.5a1.4,1.4 0 1,0 2.9,0a1.4,1.4 0 1,0 -2.9,0M93.9,195.1a0.9,0.9 0 1,0 1.7,0a0.9,0.9 0 1,0 -1.7,0M92.0,196.4a1.4,1.4 0 1,0 2.8,0a1.4,1.4 0 1,0 -2.8,0M92.4,195.4a1.3,1.3 0 1,0 2.7,0a1.3,1.3 0 1,0 -2.7,0M74.7,209.9a0.7,0.7 0 1,0 1.4,0a0.7,0.7 0 1,0 -1.4,0M75.5,208.2a0.7,0.7 0 1,0 1.3,0a0.7,0.7 0 1,0 -1.3,0M74.9,210.1a1.0,1.0 0 1,0 2.0,0a1.0,1.0 0 1,0 -2.0,0M92.5,208.7a1.7,1.7 0 1,0 3.3,0a1.7,1.7 0 1,0 -3.3,0M93.0,208.5a1.3,1.3 0 1,0 2.6,0a1.3,1.3 0 1,0 -2.6,0M92.7,211.9a1.2,1.2 0 1,0 2.4,0a1.2,1.2 0 1,0 -2.4,0M103.1,195.5a1.6,1.6 0 1,0 3.3,0a1.6,1.6 0 1,0 -3.3,0M104.9,195.7a1.3,1.3 0 1,0 2.5,0a1.3,1.3 0 1,0 -2.5,0M102.4,195.9a1.3,1.3 0 1,0 2.6,0a1.3,1.3 0 1,0 -2.6,0M99.6,209.4a1.4,1.4 0 1,0 2.7,0a1.4,1.4 0 1,0 -2.7,0M97.5,211.1a1.7,1.7 0 1,0 3.5,0a1.7,1.7 0 1,0 -3.5,0M98.4,209.5a1.3,1.3 0 1,0 2.6,0a1.3,1.3 0 1,0 -2.6,0M72.7,214.0a1.8,1.8 0 1,0 3.6,0a1.8,1.8 0 1,0 -3.6,0M73.3,213.8a1.7,1.7 0 1,0 3.5,0a1.7,1.7 0 1,0 -3.5,0M75.8,213.9a1.1,1.1 0 1,0 2.2,0a1.1,1.1 0 1,0 -2.2,0M106.5,217.1a2.5,2.5 0 1,0 4.9,0a2.5,2.5 0 1,0 -4.9,0M105.4,217.7a2.5,2.5 0 1,0 5.1,0a2.5,2.5 0 1,0 -5.1,0M109.0,216.9a1.6,1.6 0 1,0 3.1,0a1.6,1.6 0 1,0 -3.1,0M84.5,209.9a1.4,1.4 0 1,0 2.8,0a1.4,1.4 0 1,0 -2.8,0M83.4,209.2a0.8,0.8 0 1,0 1.7,0a0.8,0.8 0 1,0 -1.7,0M83.4,210.5a1.4,1.4 0 1,0 2.7,0a1.4,1.4 0 1,0 -2.7,0M83.9,222.1a1.2,1.2 0 1,0 2.4,0a1.2,1.2 0 1,0 -2.4,0M83.2,221.6a1.6,1.6 0 1,0 3.2,0a1.6,1.6 0 1,0 -3.2,0M84.4,221.6a1.3,1.3 0 1,0 2.6,0a1.3,1.3 0 1,0 -2.6,0" fill="#8a46b8" fill-opacity="0.92"/></g><circle cx="93.00" cy="206.30" r="21.30" fill="none" stroke="#cfcdd0" stroke-width="0.6"/><clipPath id="pa2"><circle cx="139.90" cy="206.30" r="21.60"/></clipPath><circle cx="139.90" cy="206.30" r="21.60" fill="#e2e0d8"/><g clip-path="url(#pa2)"><path d="M139.1,199.5a0.9,0.9 0 1,0 1.8,0a0.9,0.9 0 1,0 -1.8,0M147.6,204.4a0.7,0.7 0 1,0 1.5,0a0.7,0.7 0 1,0 -1.5,0M148.0,204.4a0.5,0.5 0 1,0 1.1,0a0.5,0.5 0 1,0 -1.1,0M148.0,203.7a0.6,0.6 0 1,0 1.1,0a0.6,0.6 0 1,0 -1.1,0M147.8,217.9a1.3,1.3 0 1,0 2.5,0a1.3,1.3 0 1,0 -2.5,0M146.5,217.1a1.5,1.5 0 1,0 3.0,0a1.5,1.5 0 1,0 -3.0,0M145.6,216.8a1.3,1.3 0 1,0 2.6,0a1.3,1.3 0 1,0 -2.6,0M155.5,207.1a1.4,1.4 0 1,0 2.9,0a1.4,1.4 0 1,0 -2.9,0M155.4,205.8a1.1,1.1 0 1,0 2.3,0a1.1,1.1 0 1,0 -2.3,0M154.1,206.7a1.4,1.4 0 1,0 2.9,0a1.4,1.4 0 1,0 -2.9,0M157.1,200.2a1.3,1.3 0 1,0 2.7,0a1.3,1.3 0 1,0 -2.7,0M159.2,199.7a1.1,1.1 0 1,0 2.3,0a1.1,1.1 0 1,0 -2.3,0M157.2,199.0a1.2,1.2 0 1,0 2.5,0a1.2,1.2 0 1,0 -2.5,0M139.9,206.2a1.0,1.0 0 1,0 2.0,0a1.0,1.0 0 1,0 -2.0,0M140.3,204.9a1.0,1.0 0 1,0 2.0,0a1.0,1.0 0 1,0 -2.0,0M141.2,204.6a1.3,1.3 0 1,0 2.6,0a1.3,1.3 0 1,0 -2.6,0M154.4,207.7a0.9,0.9 0 1,0 1.8,0a0.9,0.9 0 1,0 -1.8,0M125.8,217.8a0.7,0.7 0 1,0 1.4,0a0.7,0.7 0 1,0 -1.4,0M129.9,214.7a0.9,0.9 0 1,0 1.8,0a0.9,0.9 0 1,0 -1.8,0M128.8,215.3a0.7,0.7 0 1,0 1.3,0a0.7,0.7 0 1,0 -1.3,0M130.0,214.5a0.6,0.6 0 1,0 1.2,0a0.6,0.6 0 1,0 -1.2,0M149.3,222.3a0.9,0.9 0 1,0 1.8,0a0.9,0.9 0 1,0 -1.8,0M149.1,210.1a1.2,1.2 0 1,0 2.3,0a1.2,1.2 0 1,0 -2.3,0M149.6,209.1a1.2,1.2 0 1,0 2.4,0a1.2,1.2 0 1,0 -2.4,0M150.8,210.4a1.0,1.0 0 1,0 2.0,0a1.0,1.0 0 1,0 -2.0,0M152.3,202.8a0.8,0.8 0 1,0 1.6,0a0.8,0.8 0 1,0 -1.6,0M138.0,207.2a1.5,1.5 0 1,0 3.0,0a1.5,1.5 0 1,0 -3.0,0M135.5,207.0a1.4,1.4 0 1,0 2.9,0a1.4,1.4 0 1,0 -2.9,0M137.5,208.5a1.2,1.2 0 1,0 2.4,0a1.2,1.2 0 1,0 -2.4,0M129.4,200.0a0.8,0.8 0 1,0 1.7,0a0.8,0.8 0 1,0 -1.7,0M129.6,200.4a1.0,1.0 0 1,0 2.1,0a1.0,1.0 0 1,0 -2.1,0M129.7,199.6a0.6,0.6 0 1,0 1.3,0a0.6,0.6 0 1,0 -1.3,0M157.0,212.2a0.6,0.6 0 1,0 1.3,0a0.6,0.6 0 1,0 -1.3,0M129.2,205.3a0.9,0.9 0 1,0 1.9,0a0.9,0.9 0 1,0 -1.9,0M129.1,205.5a0.9,0.9 0 1,0 1.8,0a0.9,0.9 0 1,0 -1.8,0M129.2,206.8a1.2,1.2 0 1,0 2.5,0a1.2,1.2 0 1,0 -2.5,0M129.8,206.2a0.8,0.8 0 1,0 1.5,0a0.8,0.8 0 1,0 -1.5,0M130.3,207.0a0.9,0.9 0 1,0 1.7,0a0.9,0.9 0 1,0 -1.7,0M129.2,206.0a0.7,0.7 0 1,0 1.5,0a0.7,0.7 0 1,0 -1.5,0M141.0,209.9a0.7,0.7 0 1,0 1.5,0a0.7,0.7 0 1,0 -1.5,0M143.2,208.3a0.7,0.7 0 1,0 1.4,0a0.7,0.7 0 1,0 -1.4,0M140.0,226.9a0.9,0.9 0 1,0 1.8,0a0.9,0.9 0 1,0 -1.8,0M151.9,216.5a1.2,1.2 0 1,0 2.4,0a1.2,1.2 0 1,0 -2.4,0M153.0,216.3a1.2,1.2 0 1,0 2.5,0a1.2,1.2 0 1,0 -2.5,0M153.0,216.3a1.4,1.4 0 1,0 2.8,0a1.4,1.4 0 1,0 -2.8,0M149.6,198.5a0.8,0.8 0 1,0 1.5,0a0.8,0.8 0 1,0 -1.5,0M129.2,215.0a0.8,0.8 0 1,0 1.6,0a0.8,0.8 0 1,0 -1.6,0M128.3,215.1a0.7,0.7 0 1,0 1.5,0a0.7,0.7 0 1,0 -1.5,0M127.8,214.7a0.7,0.7 0 1,0 1.4,0a0.7,0.7 0 1,0 -1.4,0M140.2,200.1a1.4,1.4 0 1,0 2.7,0a1.4,1.4 0 1,0 -2.7,0M141.6,201.9a1.2,1.2 0 1,0 2.4,0a1.2,1.2 0 1,0 -2.4,0M141.1,200.2a1.3,1.3 0 1,0 2.6,0a1.3,1.3 0 1,0 -2.6,0M155.5,201.2a0.7,0.7 0 1,0 1.5,0a0.7,0.7 0 1,0 -1.5,0M123.5,198.7a1.1,1.1 0 1,0 2.1,0a1.1,1.1 0 1,0 -2.1,0M123.2,199.3a1.0,1.0 0 1,0 2.0,0a1.0,1.0 0 1,0 -2.0,0M122.8,198.2a1.5,1.5 0 1,0 3.1,0a1.5,1.5 0 1,0 -3.1,0M151.8,202.4a0.5,0.5 0 1,0 1.1,0a0.5,0.5 0 1,0 -1.1,0M152.0,201.9a0.7,0.7 0 1,0 1.3,0a0.7,0.7 0 1,0 -1.3,0M150.9,203.0a0.8,0.8 0 1,0 1.5,0a0.8,0.8 0 1,0 -1.5,0M132.8,209.0a1.5,1.5 0 1,0 3.0,0a1.5,1.5 0 1,0 -3.0,0M135.1,207.0a1.4,1.4 0 1,0 2.7,0a1.4,1.4 0 1,0 -2.7,0M133.5,207.5a1.1,1.1 0 1,0 2.2,0a1.1,1.1 0 1,0 -2.2,0M128.8,199.0a1.1,1.1 0 1,0 2.3,0a1.1,1.1 0 1,0 -2.3,0M128.4,198.0a0.9,0.9 0 1,0 1.9,0a0.9,0.9 0 1,0 -1.9,0M129.8,198.7a0.8,0.8 0 1,0 1.6,0a0.8,0.8 0 1,0 -1.6,0M132.6,209.8a1.0,1.0 0 1,0 1.9,0a1.0,1.0 0 1,0 -1.9,0M133.1,212.1a1.1,1.1 0 1,0 2.3,0a1.1,1.1 0 1,0 -2.3,0M132.8,211.5a0.9,0.9 0 1,0 1.8,0a0.9,0.9 0 1,0 -1.8,0M143.4,213.8a0.8,0.8 0 1,0 1.7,0a0.8,0.8 0 1,0 -1.7,0M143.2,214.6a0.7,0.7 0 1,0 1.4,0a0.7,0.7 0 1,0 -1.4,0M144.1,213.7a0.8,0.8 0 1,0 1.7,0a0.8,0.8 0 1,0 -1.7,0M120.9,215.4a1.1,1.1 0 1,0 2.2,0a1.1,1.1 0 1,0 -2.2,0M121.1,215.3a1.0,1.0 0 1,0 2.0,0a1.0,1.0 0 1,0 -2.0,0M120.1,215.1a1.1,1.1 0 1,0 2.1,0a1.1,1.1 0 1,0 -2.1,0M136.0,197.0a0.7,0.7 0 1,0 1.3,0a0.7,0.7 0 1,0 -1.3,0M136.9,197.1a0.8,0.8 0 1,0 1.6,0a0.8,0.8 0 1,0 -1.6,0M135.9,196.4a0.8,0.8 0 1,0 1.6,0a0.8,0.8 0 1,0 -1.6,0M134.7,188.3a0.8,0.8 0 1,0 1.6,0a0.8,0.8 0 1,0 -1.6,0M133.9,187.3a1.1,1.1 0 1,0 2.2,0a1.1,1.1 0 1,0 -2.2,0M133.9,187.9a1.2,1.2 0 1,0 2.5,0a1.2,1.2 0 1,0 -2.5,0M124.7,190.8a0.8,0.8 0 1,0 1.7,0a0.8,0.8 0 1,0 -1.7,0M156.1,217.1a0.7,0.7 0 1,0 1.4,0a0.7,0.7 0 1,0 -1.4,0M126.0,203.0a1.1,1.1 0 1,0 2.1,0a1.1,1.1 0 1,0 -2.1,0M126.4,203.1a1.0,1.0 0 1,0 1.9,0a1.0,1.0 0 1,0 -1.9,0M127.7,203.6a0.9,0.9 0 1,0 1.8,0a0.9,0.9 0 1,0 -1.8,0M156.6,217.2a1.4,1.4 0 1,0 2.8,0a1.4,1.4 0 1,0 -2.8,0M156.4,218.1a0.9,0.9 0 1,0 1.8,0a0.9,0.9 0 1,0 -1.8,0M157.9,218.8a1.2,1.2 0 1,0 2.5,0a1.2,1.2 0 1,0 -2.5,0M131.5,215.3a1.5,1.5 0 1,0 2.9,0a1.5,1.5 0 1,0 -2.9,0M131.1,216.1a1.1,1.1 0 1,0 2.1,0a1.1,1.1 0 1,0 -2.1,0M129.8,216.0a1.5,1.5 0 1,0 3.0,0a1.5,1.5 0 1,0 -3.0,0M152.1,218.3a0.7,0.7 0 1,0 1.5,0a0.7,0.7 0 1,0 -1.5,0M151.6,218.8a0.7,0.7 0 1,0 1.4,0a0.7,0.7 0 1,0 -1.4,0M151.4,219.1a0.9,0.9 0 1,0 1.8,0a0.9,0.9 0 1,0 -1.8,0M146.5,220.8a0.6,0.6 0 1,0 1.1,0a0.6,0.6 0 1,0 -1.1,0M147.4,221.8a0.7,0.7 0 1,0 1.3,0a0.7,0.7 0 1,0 -1.3,0M146.7,220.5a0.6,0.6 0 1,0 1.2,0a0.6,0.6 0 1,0 -1.2,0M151.1,205.9a0.7,0.7 0 1,0 1.5,0a0.7,0.7 0 1,0 -1.5,0M139.7,185.4a0.6,0.6 0 1,0 1.1,0a0.6,0.6 0 1,0 -1.1,0M139.0,185.4a0.7,0.7 0 1,0 1.4,0a0.7,0.7 0 1,0 -1.4,0M138.2,185.1a0.7,0.7 0 1,0 1.4,0a0.7,0.7 0 1,0 -1.4,0M158.3,201.1a1.0,1.0 0 1,0 1.9,0a1.0,1.0 0 1,0 -1.9,0M159.5,199.1a1.0,1.0 0 1,0 1.9,0a1.0,1.0 0 1,0 -1.9,0M158.5,199.3a1.6,1.6 0 1,0 3.2,0a1.6,1.6 0 1,0 -3.2,0M146.3,201.7a0.7,0.7 0 1,0 1.3,0a0.7,0.7 0 1,0 -1.3,0M146.1,202.6a0.9,0.9 0 1,0 1.8,0a0.9,0.9 0 1,0 -1.8,0M146.4,202.6a0.9,0.9 0 1,0 1.7,0a0.9,0.9 0 1,0 -1.7,0M134.4,200.2a0.6,0.6 0 1,0 1.3,0a0.6,0.6 0 1,0 -1.3,0M143.3,220.1a0.7,0.7 0 1,0 1.4,0a0.7,0.7 0 1,0 -1.4,0M154.1,207.9a1.3,1.3 0 1,0 2.7,0a1.3,1.3 0 1,0 -2.7,0M153.2,208.1a1.4,1.4 0 1,0 2.7,0a1.4,1.4 0 1,0 -2.7,0M152.0,205.5a1.4,1.4 0 1,0 2.7,0a1.4,1.4 0 1,0 -2.7,0M159.3,202.7a0.6,0.6 0 1,0 1.2,0a0.6,0.6 0 1,0 -1.2,0M159.0,201.9a0.7,0.7 0 1,0 1.3,0a0.7,0.7 0 1,0 -1.3,0M159.2,202.2a0.8,0.8 0 1,0 1.6,0a0.8,0.8 0 1,0 -1.6,0M151.6,189.9a0.9,0.9 0 1,0 1.8,0a0.9,0.9 0 1,0 -1.8,0M152.4,189.4a0.8,0.8 0 1,0 1.6,0a0.8,0.8 0 1,0 -1.6,0M151.1,190.6a1.1,1.1 0 1,0 2.1,0a1.1,1.1 0 1,0 -2.1,0M125.0,216.8a0.8,0.8 0 1,0 1.5,0a0.8,0.8 0 1,0 -1.5,0M154.7,221.1a1.0,1.0 0 1,0 2.1,0a1.0,1.0 0 1,0 -2.1,0M153.2,220.0a0.9,0.9 0 1,0 1.8,0a0.9,0.9 0 1,0 -1.8,0M154.5,219.3a0.9,0.9 0 1,0 1.9,0a0.9,0.9 0 1,0 -1.9,0M147.7,200.3a1.1,1.1 0 1,0 2.2,0a1.1,1.1 0 1,0 -2.2,0M147.3,201.5a0.8,0.8 0 1,0 1.6,0a0.8,0.8 0 1,0 -1.6,0M147.0,201.3a1.1,1.1 0 1,0 2.2,0a1.1,1.1 0 1,0 -2.2,0M152.9,210.2a0.8,0.8 0 1,0 1.6,0a0.8,0.8 0 1,0 -1.6,0M143.7,200.8a0.8,0.8 0 1,0 1.7,0a0.8,0.8 0 1,0 -1.7,0M144.2,199.3a0.7,0.7 0 1,0 1.4,0a0.7,0.7 0 1,0 -1.4,0M143.9,199.3a0.9,0.9 0 1,0 1.7,0a0.9,0.9 0 1,0 -1.7,0M153.7,204.9a1.0,1.0 0 1,0 2.0,0a1.0,1.0 0 1,0 -2.0,0M151.4,205.5a1.2,1.2 0 1,0 2.4,0a1.2,1.2 0 1,0 -2.4,0M153.7,204.9a1.3,1.3 0 1,0 2.6,0a1.3,1.3 0 1,0 -2.6,0M137.8,224.2a0.6,0.6 0 1,0 1.1,0a0.6,0.6 0 1,0 -1.1,0M137.8,223.2a0.6,0.6 0 1,0 1.1,0a0.6,0.6 0 1,0 -1.1,0M138.1,223.6a0.8,0.8 0 1,0 1.7,0a0.8,0.8 0 1,0 -1.7,0M131.2,201.5a0.9,0.9 0 1,0 1.8,0a0.9,0.9 0 1,0 -1.8,0M131.4,200.5a0.7,0.7 0 1,0 1.5,0a0.7,0.7 0 1,0 -1.5,0M131.4,201.2a0.6,0.6 0 1,0 1.1,0a0.6,0.6 0 1,0 -1.1,0M128.5,220.3a0.7,0.7 0 1,0 1.5,0a0.7,0.7 0 1,0 -1.5,0M138.9,206.9a0.7,0.7 0 1,0 1.5,0a0.7,0.7 0 1,0 -1.5,0M138.6,205.8a1.2,1.2 0 1,0 2.5,0a1.2,1.2 0 1,0 -2.5,0M138.9,206.8a1.0,1.0 0 1,0 2.0,0a1.0,1.0 0 1,0 -2.0,0" fill="#9a58c4" fill-opacity="0.8"/><path d="M140.6,199.9a0.8,0.8 0 1,0 1.7,0a0.8,0.8 0 1,0 -1.7,0M139.4,198.5a1.4,1.4 0 1,0 2.8,0a1.4,1.4 0 1,0 -2.8,0M140.4,199.1a0.9,0.9 0 1,0 1.8,0a0.9,0.9 0 1,0 -1.8,0M121.3,203.3a0.9,0.9 0 1,0 1.8,0a0.9,0.9 0 1,0 -1.8,0M121.8,204.0a0.7,0.7 0 1,0 1.4,0a0.7,0.7 0 1,0 -1.4,0M121.0,204.2a0.8,0.8 0 1,0 1.7,0a0.8,0.8 0 1,0 -1.7,0M151.7,210.4a1.4,1.4 0 1,0 2.8,0a1.4,1.4 0 1,0 -2.8,0M151.2,209.8a1.0,1.0 0 1,0 2.0,0a1.0,1.0 0 1,0 -2.0,0M150.7,211.2a1.5,1.5 0 1,0 3.0,0a1.5,1.5 0 1,0 -3.0,0M140.8,194.4a0.9,0.9 0 1,0 1.7,0a0.9,0.9 0 1,0 -1.7,0M141.5,194.5a1.1,1.1 0 1,0 2.3,0a1.1,1.1 0 1,0 -2.3,0M142.4,195.3a1.0,1.0 0 1,0 1.9,0a1.0,1.0 0 1,0 -1.9,0M122.5,197.8a0.9,0.9 0 1,0 1.9,0a0.9,0.9 0 1,0 -1.9,0M152.0,214.8a0.8,0.8 0 1,0 1.5,0a0.8,0.8 0 1,0 -1.5,0M151.0,214.4a1.0,1.0 0 1,0 1.9,0a1.0,1.0 0 1,0 -1.9,0M151.8,214.6a0.9,0.9 0 1,0 1.8,0a0.9,0.9 0 1,0 -1.8,0M145.3,207.5a0.8,0.8 0 1,0 1.7,0a0.8,0.8 0 1,0 -1.7,0M143.7,208.7a1.0,1.0 0 1,0 2.1,0a1.0,1.0 0 1,0 -2.1,0M145.6,208.4a0.8,0.8 0 1,0 1.7,0a0.8,0.8 0 1,0 -1.7,0M130.5,210.7a0.7,0.7 0 1,0 1.5,0a0.7,0.7 0 1,0 -1.5,0M142.1,201.0a1.2,1.2 0 1,0 2.5,0a1.2,1.2 0 1,0 -2.5,0M140.4,201.3a1.5,1.5 0 1,0 3.0,0a1.5,1.5 0 1,0 -3.0,0M141.0,202.7a0.9,0.9 0 1,0 1.8,0a0.9,0.9 0 1,0 -1.8,0M141.1,221.4a1.3,1.3 0 1,0 2.6,0a1.3,1.3 0 1,0 -2.6,0M141.9,219.8a1.1,1.1 0 1,0 2.3,0a1.1,1.1 0 1,0 -2.3,0M141.8,220.6a1.1,1.1 0 1,0 2.2,0a1.1,1.1 0 1,0 -2.2,0M149.6,205.9a1.1,1.1 0 1,0 2.3,0a1.1,1.1 0 1,0 -2.3,0M149.9,204.9a0.8,0.8 0 1,0 1.6,0a0.8,0.8 0 1,0 -1.6,0M150.7,204.2a1.0,1.0 0 1,0 2.1,0a1.0,1.0 0 1,0 -2.1,0M142.5,216.9a0.6,0.6 0 1,0 1.2,0a0.6,0.6 0 1,0 -1.2,0M143.6,217.0a0.7,0.7 0 1,0 1.5,0a0.7,0.7 0 1,0 -1.5,0M143.5,218.0a0.8,0.8 0 1,0 1.5,0a0.8,0.8 0 1,0 -1.5,0M136.9,196.2a1.1,1.1 0 1,0 2.2,0a1.1,1.1 0 1,0 -2.2,0M137.3,196.2a0.8,0.8 0 1,0 1.7,0a0.8,0.8 0 1,0 -1.7,0M137.6,196.5a0.7,0.7 0 1,0 1.5,0a0.7,0.7 0 1,0 -1.5,0M147.1,192.9a0.8,0.8 0 1,0 1.7,0a0.8,0.8 0 1,0 -1.7,0M146.5,192.9a0.9,0.9 0 1,0 1.7,0a0.9,0.9 0 1,0 -1.7,0M146.6,193.0a1.0,1.0 0 1,0 2.1,0a1.0,1.0 0 1,0 -2.1,0M156.2,194.4a0.6,0.6 0 1,0 1.3,0a0.6,0.6 0 1,0 -1.3,0M134.6,212.7a0.7,0.7 0 1,0 1.3,0a0.7,0.7 0 1,0 -1.3,0M130.0,193.6a1.2,1.2 0 1,0 2.3,0a1.2,1.2 0 1,0 -2.3,0M128.9,193.1a1.4,1.4 0 1,0 2.9,0a1.4,1.4 0 1,0 -2.9,0M130.5,194.1a1.4,1.4 0 1,0 2.8,0a1.4,1.4 0 1,0 -2.8,0M120.0,194.8a1.5,1.5 0 1,0 3.1,0a1.5,1.5 0 1,0 -3.1,0M120.6,196.8a1.0,1.0 0 1,0 2.0,0a1.0,1.0 0 1,0 -2.0,0M121.9,194.0a1.0,1.0 0 1,0 2.1,0a1.0,1.0 0 1,0 -2.1,0M134.4,212.3a0.8,0.8 0 1,0 1.5,0a0.8,0.8 0 1,0 -1.5,0M120.3,216.9a1.0,1.0 0 1,0 1.9,0a1.0,1.0 0 1,0 -1.9,0M127.7,204.8a0.9,0.9 0 1,0 1.9,0a0.9,0.9 0 1,0 -1.9,0M125.6,204.4a1.1,1.1 0 1,0 2.2,0a1.1,1.1 0 1,0 -2.2,0M127.1,203.5a0.8,0.8 0 1,0 1.6,0a0.8,0.8 0 1,0 -1.6,0M141.2,201.6a1.1,1.1 0 1,0 2.2,0a1.1,1.1 0 1,0 -2.2,0M141.8,200.0a1.2,1.2 0 1,0 2.4,0a1.2,1.2 0 1,0 -2.4,0M141.2,200.5a0.9,0.9 0 1,0 1.8,0a0.9,0.9 0 1,0 -1.8,0M140.6,186.8a0.6,0.6 0 1,0 1.3,0a0.6,0.6 0 1,0 -1.3,0M134.4,194.9a0.9,0.9 0 1,0 1.8,0a0.9,0.9 0 1,0 -1.8,0M133.5,195.0a0.6,0.6 0 1,0 1.3,0a0.6,0.6 0 1,0 -1.3,0M133.7,193.6a0.6,0.6 0 1,0 1.2,0a0.6,0.6 0 1,0 -1.2,0M149.3,211.6a1.2,1.2 0 1,0 2.4,0a1.2,1.2 0 1,0 -2.4,0M149.6,213.3a0.9,0.9 0 1,0 1.8,0a0.9,0.9 0 1,0 -1.8,0M149.0,213.5a1.2,1.2 0 1,0 2.4,0a1.2,1.2 0 1,0 -2.4,0M142.6,224.5a1.0,1.0 0 1,0 2.1,0a1.0,1.0 0 1,0 -2.1,0M141.9,223.3a1.0,1.0 0 1,0 2.1,0a1.0,1.0 0 1,0 -2.1,0M142.6,221.9a1.4,1.4 0 1,0 2.8,0a1.4,1.4 0 1,0 -2.8,0M137.5,216.1a1.0,1.0 0 1,0 2.0,0a1.0,1.0 0 1,0 -2.0,0M138.5,216.7a1.2,1.2 0 1,0 2.4,0a1.2,1.2 0 1,0 -2.4,0M138.1,217.0a1.3,1.3 0 1,0 2.6,0a1.3,1.3 0 1,0 -2.6,0M129.3,194.9a0.9,0.9 0 1,0 1.7,0a0.9,0.9 0 1,0 -1.7,0M128.5,195.0a0.8,0.8 0 1,0 1.7,0a0.8,0.8 0 1,0 -1.7,0M129.3,195.1a0.7,0.7 0 1,0 1.5,0a0.7,0.7 0 1,0 -1.5,0M152.1,197.0a1.0,1.0 0 1,0 2.0,0a1.0,1.0 0 1,0 -2.0,0M151.7,197.0a0.8,0.8 0 1,0 1.6,0a0.8,0.8 0 1,0 -1.6,0M151.7,198.1a0.6,0.6 0 1,0 1.2,0a0.6,0.6 0 1,0 -1.2,0M143.0,196.0a1.0,1.0 0 1,0 1.9,0a1.0,1.0 0 1,0 -1.9,0M139.3,194.7a1.0,1.0 0 1,0 1.9,0a1.0,1.0 0 1,0 -1.9,0M138.3,212.1a0.8,0.8 0 1,0 1.5,0a0.8,0.8 0 1,0 -1.5,0M138.6,211.9a0.7,0.7 0 1,0 1.4,0a0.7,0.7 0 1,0 -1.4,0M138.9,213.3a0.8,0.8 0 1,0 1.7,0a0.8,0.8 0 1,0 -1.7,0M145.1,223.2a0.7,0.7 0 1,0 1.5,0a0.7,0.7 0 1,0 -1.5,0M132.6,205.2a0.9,0.9 0 1,0 1.8,0a0.9,0.9 0 1,0 -1.8,0M130.6,205.4a0.9,0.9 0 1,0 1.8,0a0.9,0.9 0 1,0 -1.8,0M142.2,223.4a1.5,1.5 0 1,0 2.9,0a1.5,1.5 0 1,0 -2.9,0M142.5,222.5a1.3,1.3 0 1,0 2.6,0a1.3,1.3 0 1,0 -2.6,0M141.6,223.5a1.4,1.4 0 1,0 2.8,0a1.4,1.4 0 1,0 -2.8,0M146.2,208.4a0.8,0.8 0 1,0 1.7,0a0.8,0.8 0 1,0 -1.7,0M146.2,210.5a1.0,1.0 0 1,0 2.0,0a1.0,1.0 0 1,0 -2.0,0M146.8,209.2a1.2,1.2 0 1,0 2.3,0a1.2,1.2 0 1,0 -2.3,0M130.1,217.6a0.7,0.7 0 1,0 1.4,0a0.7,0.7 0 1,0 -1.4,0M129.2,218.9a0.5,0.5 0 1,0 1.0,0a0.5,0.5 0 1,0 -1.0,0M129.3,218.8a0.7,0.7 0 1,0 1.4,0a0.7,0.7 0 1,0 -1.4,0M144.9,212.2a1.0,1.0 0 1,0 1.9,0a1.0,1.0 0 1,0 -1.9,0M146.6,211.2a0.6,0.6 0 1,0 1.3,0a0.6,0.6 0 1,0 -1.3,0M144.8,211.3a1.0,1.0 0 1,0 2.0,0a1.0,1.0 0 1,0 -2.0,0M156.8,205.2a0.8,0.8 0 1,0 1.6,0a0.8,0.8 0 1,0 -1.6,0M120.9,196.9a1.1,1.1 0 1,0 2.3,0a1.1,1.1 0 1,0 -2.3,0M120.6,196.9a1.3,1.3 0 1,0 2.6,0a1.3,1.3 0 1,0 -2.6,0M121.6,196.5a1.2,1.2 0 1,0 2.4,0a1.2,1.2 0 1,0 -2.4,0M156.0,213.6a0.9,0.9 0 1,0 1.9,0a0.9,0.9 0 1,0 -1.9,0M133.4,198.1a0.8,0.8 0 1,0 1.6,0a0.8,0.8 0 1,0 -1.6,0M132.5,192.2a0.8,0.8 0 1,0 1.6,0a0.8,0.8 0 1,0 -1.6,0M132.7,192.0a0.6,0.6 0 1,0 1.1,0a0.6,0.6 0 1,0 -1.1,0M131.8,193.1a0.8,0.8 0 1,0 1.6,0a0.8,0.8 0 1,0 -1.6,0M129.9,205.0a0.9,0.9 0 1,0 1.8,0a0.9,0.9 0 1,0 -1.8,0M130.0,203.9a0.6,0.6 0 1,0 1.3,0a0.6,0.6 0 1,0 -1.3,0M130.6,203.6a0.8,0.8 0 1,0 1.7,0a0.8,0.8 0 1,0 -1.7,0M131.6,224.9a0.9,0.9 0 1,0 1.9,0a0.9,0.9 0 1,0 -1.9,0M129.2,204.8a1.4,1.4 0 1,0 2.8,0a1.4,1.4 0 1,0 -2.8,0M130.4,202.6a1.0,1.0 0 1,0 2.0,0a1.0,1.0 0 1,0 -2.0,0M129.4,203.6a1.4,1.4 0 1,0 2.9,0a1.4,1.4 0 1,0 -2.9,0M134.2,209.7a0.7,0.7 0 1,0 1.5,0a0.7,0.7 0 1,0 -1.5,0M135.0,210.4a0.8,0.8 0 1,0 1.6,0a0.8,0.8 0 1,0 -1.6,0M134.5,209.7a0.9,0.9 0 1,0 1.7,0a0.9,0.9 0 1,0 -1.7,0M132.2,205.1a0.8,0.8 0 1,0 1.7,0a0.8,0.8 0 1,0 -1.7,0M131.4,205.5a0.9,0.9 0 1,0 1.7,0a0.9,0.9 0 1,0 -1.7,0M132.4,206.3a0.5,0.5 0 1,0 1.1,0a0.5,0.5 0 1,0 -1.1,0M117.8,207.9a0.8,0.8 0 1,0 1.7,0a0.8,0.8 0 1,0 -1.7,0M121.1,218.4a0.8,0.8 0 1,0 1.6,0a0.8,0.8 0 1,0 -1.6,0M121.5,219.6a1.0,1.0 0 1,0 2.0,0a1.0,1.0 0 1,0 -2.0,0M122.5,217.9a0.8,0.8 0 1,0 1.6,0a0.8,0.8 0 1,0 -1.6,0M154.6,196.7a1.4,1.4 0 1,0 2.9,0a1.4,1.4 0 1,0 -2.9,0M155.4,195.9a1.5,1.5 0 1,0 3.0,0a1.5,1.5 0 1,0 -3.0,0M155.3,196.9a1.4,1.4 0 1,0 2.8,0a1.4,1.4 0 1,0 -2.8,0M140.3,215.3a0.9,0.9 0 1,0 1.8,0a0.9,0.9 0 1,0 -1.8,0M143.3,198.7a1.6,1.6 0 1,0 3.2,0a1.6,1.6 0 1,0 -3.2,0M144.3,201.1a1.6,1.6 0 1,0 3.3,0a1.6,1.6 0 1,0 -3.3,0M143.9,198.6a1.0,1.0 0 1,0 2.1,0a1.0,1.0 0 1,0 -2.1,0M140.7,203.7a0.8,0.8 0 1,0 1.6,0a0.8,0.8 0 1,0 -1.6,0M141.7,204.6a0.7,0.7 0 1,0 1.3,0a0.7,0.7 0 1,0 -1.3,0M141.8,204.2a0.5,0.5 0 1,0 1.0,0a0.5,0.5 0 1,0 -1.0,0M147.1,221.6a0.9,0.9 0 1,0 1.8,0a0.9,0.9 0 1,0 -1.8,0M146.4,215.2a0.9,0.9 0 1,0 1.7,0a0.9,0.9 0 1,0 -1.7,0M149.9,188.4a1.1,1.1 0 1,0 2.2,0a1.1,1.1 0 1,0 -2.2,0M149.1,188.7a0.7,0.7 0 1,0 1.4,0a0.7,0.7 0 1,0 -1.4,0M148.5,188.3a1.0,1.0 0 1,0 2.1,0a1.0,1.0 0 1,0 -2.1,0M130.5,205.5a0.8,0.8 0 1,0 1.6,0a0.8,0.8 0 1,0 -1.6,0M130.7,206.7a1.0,1.0 0 1,0 2.0,0a1.0,1.0 0 1,0 -2.0,0M130.8,206.8a0.7,0.7 0 1,0 1.4,0a0.7,0.7 0 1,0 -1.4,0M159.3,206.1a0.7,0.7 0 1,0 1.4,0a0.7,0.7 0 1,0 -1.4,0M159.2,206.4a0.6,0.6 0 1,0 1.1,0a0.6,0.6 0 1,0 -1.1,0M159.6,206.5a0.7,0.7 0 1,0 1.4,0a0.7,0.7 0 1,0 -1.4,0" fill="#8a46b8" fill-opacity="0.9"/></g><circle cx="139.90" cy="206.30" r="21.30" fill="none" stroke="#cfcdd0" stroke-width="0.6"/><clipPath id="pa3"><circle cx="186.90" cy="206.30" r="21.60"/></clipPath><circle cx="186.90" cy="206.30" r="21.60" fill="#e3e2da"/><g clip-path="url(#pa3)"><path d="M165.8,206.8a0.8,0.8 0 1,0 1.7,0a0.8,0.8 0 1,0 -1.7,0M166.7,208.1a0.7,0.7 0 1,0 1.4,0a0.7,0.7 0 1,0 -1.4,0M165.9,208.1a1.1,1.1 0 1,0 2.1,0a1.1,1.1 0 1,0 -2.1,0M180.6,192.9a0.5,0.5 0 1,0 1.0,0a0.5,0.5 0 1,0 -1.0,0M190.1,187.4a0.7,0.7 0 1,0 1.3,0a0.7,0.7 0 1,0 -1.3,0M176.5,188.4a0.5,0.5 0 1,0 1.0,0a0.5,0.5 0 1,0 -1.0,0M165.3,210.3a0.8,0.8 0 1,0 1.5,0a0.8,0.8 0 1,0 -1.5,0M166.5,211.6a0.7,0.7 0 1,0 1.4,0a0.7,0.7 0 1,0 -1.4,0M165.3,211.0a0.9,0.9 0 1,0 1.7,0a0.9,0.9 0 1,0 -1.7,0M201.4,194.0a0.7,0.7 0 1,0 1.3,0a0.7,0.7 0 1,0 -1.3,0M201.5,201.4a1.0,1.0 0 1,0 1.9,0a1.0,1.0 0 1,0 -1.9,0M203.5,201.0a0.9,0.9 0 1,0 1.8,0a0.9,0.9 0 1,0 -1.8,0M201.9,202.3a1.1,1.1 0 1,0 2.2,0a1.1,1.1 0 1,0 -2.2,0M170.5,210.3a0.7,0.7 0 1,0 1.3,0a0.7,0.7 0 1,0 -1.3,0M170.5,210.6a0.6,0.6 0 1,0 1.2,0a0.6,0.6 0 1,0 -1.2,0M170.8,210.6a0.9,0.9 0 1,0 1.7,0a0.9,0.9 0 1,0 -1.7,0M172.3,205.5a0.7,0.7 0 1,0 1.5,0a0.7,0.7 0 1,0 -1.5,0M172.7,205.9a0.6,0.6 0 1,0 1.2,0a0.6,0.6 0 1,0 -1.2,0M172.0,206.5a1.0,1.0 0 1,0 1.9,0a1.0,1.0 0 1,0 -1.9,0M184.5,203.8a0.6,0.6 0 1,0 1.1,0a0.6,0.6 0 1,0 -1.1,0M204.9,209.3a0.8,0.8 0 1,0 1.6,0a0.8,0.8 0 1,0 -1.6,0M206.2,209.5a0.6,0.6 0 1,0 1.1,0a0.6,0.6 0 1,0 -1.1,0M204.8,209.5a0.6,0.6 0 1,0 1.2,0a0.6,0.6 0 1,0 -1.2,0M165.2,209.6a0.7,0.7 0 1,0 1.5,0a0.7,0.7 0 1,0 -1.5,0M176.4,193.0a1.0,1.0 0 1,0 1.9,0a1.0,1.0 0 1,0 -1.9,0M176.0,192.8a0.8,0.8 0 1,0 1.7,0a0.8,0.8 0 1,0 -1.7,0M175.7,192.5a0.6,0.6 0 1,0 1.2,0a0.6,0.6 0 1,0 -1.2,0M191.1,195.2a0.6,0.6 0 1,0 1.2,0a0.6,0.6 0 1,0 -1.2,0M203.3,204.9a0.7,0.7 0 1,0 1.4,0a0.7,0.7 0 1,0 -1.4,0M200.5,220.9a0.8,0.8 0 1,0 1.7,0a0.8,0.8 0 1,0 -1.7,0M200.1,220.9a0.8,0.8 0 1,0 1.6,0a0.8,0.8 0 1,0 -1.6,0M200.4,221.5a1.0,1.0 0 1,0 2.1,0a1.0,1.0 0 1,0 -2.1,0M180.4,202.8a0.8,0.8 0 1,0 1.5,0a0.8,0.8 0 1,0 -1.5,0M180.8,203.1a0.6,0.6 0 1,0 1.2,0a0.6,0.6 0 1,0 -1.2,0M180.6,202.7a0.7,0.7 0 1,0 1.4,0a0.7,0.7 0 1,0 -1.4,0M186.7,200.2a0.7,0.7 0 1,0 1.3,0a0.7,0.7 0 1,0 -1.3,0M172.3,215.5a0.7,0.7 0 1,0 1.3,0a0.7,0.7 0 1,0 -1.3,0M183.7,212.2a1.0,1.0 0 1,0 1.9,0a1.0,1.0 0 1,0 -1.9,0M201.5,200.7a0.8,0.8 0 1,0 1.6,0a0.8,0.8 0 1,0 -1.6,0M191.6,227.3a0.7,0.7 0 1,0 1.5,0a0.7,0.7 0 1,0 -1.5,0M191.9,227.3a0.7,0.7 0 1,0 1.4,0a0.7,0.7 0 1,0 -1.4,0M191.3,227.8a0.6,0.6 0 1,0 1.2,0a0.6,0.6 0 1,0 -1.2,0M192.5,205.8a0.8,0.8 0 1,0 1.6,0a0.8,0.8 0 1,0 -1.6,0M173.1,200.1a0.6,0.6 0 1,0 1.2,0a0.6,0.6 0 1,0 -1.2,0M184.4,226.3a0.8,0.8 0 1,0 1.7,0a0.8,0.8 0 1,0 -1.7,0M181.5,205.9a0.9,0.9 0 1,0 1.8,0a0.9,0.9 0 1,0 -1.8,0M180.9,204.9a0.8,0.8 0 1,0 1.6,0a0.8,0.8 0 1,0 -1.6,0M180.7,206.0a0.8,0.8 0 1,0 1.6,0a0.8,0.8 0 1,0 -1.6,0M176.1,222.7a0.5,0.5 0 1,0 1.1,0a0.5,0.5 0 1,0 -1.1,0M207.2,204.7a0.8,0.8 0 1,0 1.6,0a0.8,0.8 0 1,0 -1.6,0M208.4,203.8a0.5,0.5 0 1,0 0.9,0a0.5,0.5 0 1,0 -0.9,0M206.9,204.9a0.7,0.7 0 1,0 1.5,0a0.7,0.7 0 1,0 -1.5,0M189.8,198.9a1.0,1.0 0 1,0 1.9,0a1.0,1.0 0 1,0 -1.9,0M164.8,205.6a0.8,0.8 0 1,0 1.5,0a0.8,0.8 0 1,0 -1.5,0M164.3,205.2a0.6,0.6 0 1,0 1.3,0a0.6,0.6 0 1,0 -1.3,0M165.3,205.6a0.6,0.6 0 1,0 1.3,0a0.6,0.6 0 1,0 -1.3,0M197.6,202.7a0.7,0.7 0 1,0 1.5,0a0.7,0.7 0 1,0 -1.5,0M196.8,202.8a0.5,0.5 0 1,0 1.1,0a0.5,0.5 0 1,0 -1.1,0M196.3,203.9a0.9,0.9 0 1,0 1.7,0a0.9,0.9 0 1,0 -1.7,0M198.2,217.8a0.7,0.7 0 1,0 1.5,0a0.7,0.7 0 1,0 -1.5,0M198.9,211.2a0.6,0.6 0 1,0 1.1,0a0.6,0.6 0 1,0 -1.1,0M199.7,210.8a0.6,0.6 0 1,0 1.2,0a0.6,0.6 0 1,0 -1.2,0M199.4,210.9a0.6,0.6 0 1,0 1.3,0a0.6,0.6 0 1,0 -1.3,0M184.4,220.5a0.9,0.9 0 1,0 1.7,0a0.9,0.9 0 1,0 -1.7,0M198.2,213.9a0.6,0.6 0 1,0 1.2,0a0.6,0.6 0 1,0 -1.2,0M198.2,214.0a0.6,0.6 0 1,0 1.3,0a0.6,0.6 0 1,0 -1.3,0M197.9,215.1a0.5,0.5 0 1,0 1.1,0a0.5,0.5 0 1,0 -1.1,0M170.5,205.1a0.7,0.7 0 1,0 1.4,0a0.7,0.7 0 1,0 -1.4,0M170.9,205.3a0.7,0.7 0 1,0 1.4,0a0.7,0.7 0 1,0 -1.4,0M171.3,204.8a0.6,0.6 0 1,0 1.2,0a0.6,0.6 0 1,0 -1.2,0M193.1,218.7a0.9,0.9 0 1,0 1.8,0a0.9,0.9 0 1,0 -1.8,0M194.2,219.6a0.9,0.9 0 1,0 1.7,0a0.9,0.9 0 1,0 -1.7,0M193.6,219.1a0.6,0.6 0 1,0 1.1,0a0.6,0.6 0 1,0 -1.1,0M181.2,188.0a0.5,0.5 0 1,0 1.0,0a0.5,0.5 0 1,0 -1.0,0M181.6,187.5a0.7,0.7 0 1,0 1.3,0a0.7,0.7 0 1,0 -1.3,0M181.9,187.4a0.6,0.6 0 1,0 1.1,0a0.6,0.6 0 1,0 -1.1,0M187.7,202.0a0.8,0.8 0 1,0 1.6,0a0.8,0.8 0 1,0 -1.6,0M188.6,202.6a1.0,1.0 0 1,0 1.9,0a1.0,1.0 0 1,0 -1.9,0M188.6,203.1a0.7,0.7 0 1,0 1.4,0a0.7,0.7 0 1,0 -1.4,0M202.8,199.6a0.8,0.8 0 1,0 1.6,0a0.8,0.8 0 1,0 -1.6,0M202.6,199.0a0.7,0.7 0 1,0 1.5,0a0.7,0.7 0 1,0 -1.5,0M203.1,199.3a0.7,0.7 0 1,0 1.5,0a0.7,0.7 0 1,0 -1.5,0M204.1,202.6a0.6,0.6 0 1,0 1.3,0a0.6,0.6 0 1,0 -1.3,0M204.6,203.3a0.7,0.7 0 1,0 1.4,0a0.7,0.7 0 1,0 -1.4,0M205.2,201.8a0.8,0.8 0 1,0 1.5,0a0.8,0.8 0 1,0 -1.5,0M204.8,199.3a0.7,0.7 0 1,0 1.4,0a0.7,0.7 0 1,0 -1.4,0M204.4,198.2a0.9,0.9 0 1,0 1.9,0a0.9,0.9 0 1,0 -1.9,0M204.7,198.1a0.8,0.8 0 1,0 1.5,0a0.8,0.8 0 1,0 -1.5,0M192.1,218.6a0.8,0.8 0 1,0 1.5,0a0.8,0.8 0 1,0 -1.5,0M191.2,218.3a0.9,0.9 0 1,0 1.8,0a0.9,0.9 0 1,0 -1.8,0M191.5,218.7a0.9,0.9 0 1,0 1.9,0a0.9,0.9 0 1,0 -1.9,0M200.0,201.6a1.0,1.0 0 1,0 2.0,0a1.0,1.0 0 1,0 -2.0,0M200.2,201.4a1.0,1.0 0 1,0 2.0,0a1.0,1.0 0 1,0 -2.0,0M199.7,201.4a0.7,0.7 0 1,0 1.3,0a0.7,0.7 0 1,0 -1.3,0M193.4,191.8a0.8,0.8 0 1,0 1.5,0a0.8,0.8 0 1,0 -1.5,0M192.2,192.5a1.1,1.1 0 1,0 2.2,0a1.1,1.1 0 1,0 -2.2,0M192.4,193.3a0.7,0.7 0 1,0 1.4,0a0.7,0.7 0 1,0 -1.4,0M172.9,219.5a0.7,0.7 0 1,0 1.5,0a0.7,0.7 0 1,0 -1.5,0M172.5,219.0a0.6,0.6 0 1,0 1.1,0a0.6,0.6 0 1,0 -1.1,0M172.6,219.5a0.6,0.6 0 1,0 1.2,0a0.6,0.6 0 1,0 -1.2,0M197.6,222.0a0.9,0.9 0 1,0 1.8,0a0.9,0.9 0 1,0 -1.8,0M179.1,186.2a0.7,0.7 0 1,0 1.3,0a0.7,0.7 0 1,0 -1.3,0M179.2,185.6a0.6,0.6 0 1,0 1.3,0a0.6,0.6 0 1,0 -1.3,0M180.0,186.0a0.6,0.6 0 1,0 1.2,0a0.6,0.6 0 1,0 -1.2,0M197.5,221.7a0.6,0.6 0 1,0 1.2,0a0.6,0.6 0 1,0 -1.2,0M197.0,221.5a0.9,0.9 0 1,0 1.7,0a0.9,0.9 0 1,0 -1.7,0M196.9,220.7a0.7,0.7 0 1,0 1.4,0a0.7,0.7 0 1,0 -1.4,0M192.8,211.1a0.5,0.5 0 1,0 1.0,0a0.5,0.5 0 1,0 -1.0,0M192.1,211.3a0.7,0.7 0 1,0 1.4,0a0.7,0.7 0 1,0 -1.4,0M192.1,211.2a0.8,0.8 0 1,0 1.7,0a0.8,0.8 0 1,0 -1.7,0M197.5,203.4a0.8,0.8 0 1,0 1.6,0a0.8,0.8 0 1,0 -1.6,0M199.0,205.3a0.7,0.7 0 1,0 1.4,0a0.7,0.7 0 1,0 -1.4,0M198.0,204.5a1.0,1.0 0 1,0 2.1,0a1.0,1.0 0 1,0 -2.1,0M183.1,196.4a0.7,0.7 0 1,0 1.4,0a0.7,0.7 0 1,0 -1.4,0M183.1,197.0a0.8,0.8 0 1,0 1.5,0a0.8,0.8 0 1,0 -1.5,0M183.4,196.6a0.7,0.7 0 1,0 1.5,0a0.7,0.7 0 1,0 -1.5,0M198.8,209.5a0.7,0.7 0 1,0 1.4,0a0.7,0.7 0 1,0 -1.4,0M198.1,208.5a1.1,1.1 0 1,0 2.2,0a1.1,1.1 0 1,0 -2.2,0M198.7,208.2a0.9,0.9 0 1,0 1.8,0a0.9,0.9 0 1,0 -1.8,0M165.4,206.9a0.6,0.6 0 1,0 1.1,0a0.6,0.6 0 1,0 -1.1,0M192.2,190.9a0.7,0.7 0 1,0 1.4,0a0.7,0.7 0 1,0 -1.4,0M195.0,222.5a0.8,0.8 0 1,0 1.7,0a0.8,0.8 0 1,0 -1.7,0M194.3,221.8a1.0,1.0 0 1,0 2.0,0a1.0,1.0 0 1,0 -2.0,0M194.4,222.2a0.7,0.7 0 1,0 1.4,0a0.7,0.7 0 1,0 -1.4,0M177.4,204.3a0.9,0.9 0 1,0 1.8,0a0.9,0.9 0 1,0 -1.8,0M177.1,204.1a0.7,0.7 0 1,0 1.3,0a0.7,0.7 0 1,0 -1.3,0M176.8,204.6a0.5,0.5 0 1,0 1.1,0a0.5,0.5 0 1,0 -1.1,0M165.9,206.1a0.9,0.9 0 1,0 1.8,0a0.9,0.9 0 1,0 -1.8,0M166.1,205.8a0.9,0.9 0 1,0 1.8,0a0.9,0.9 0 1,0 -1.8,0M166.5,205.5a0.9,0.9 0 1,0 1.8,0a0.9,0.9 0 1,0 -1.8,0M174.8,220.9a0.7,0.7 0 1,0 1.4,0a0.7,0.7 0 1,0 -1.4,0M173.8,220.8a1.0,1.0 0 1,0 1.9,0a1.0,1.0 0 1,0 -1.9,0M174.9,219.2a0.7,0.7 0 1,0 1.3,0a0.7,0.7 0 1,0 -1.3,0" fill="#9a58c4" fill-opacity="0.8"/><path d="M194.4,197.4a0.6,0.6 0 1,0 1.2,0a0.6,0.6 0 1,0 -1.2,0M194.9,199.1a0.9,0.9 0 1,0 1.8,0a0.9,0.9 0 1,0 -1.8,0M171.3,209.8a0.9,0.9 0 1,0 1.8,0a0.9,0.9 0 1,0 -1.8,0M177.6,192.8a0.9,0.9 0 1,0 1.9,0a0.9,0.9 0 1,0 -1.9,0M168.9,194.0a1.0,1.0 0 1,0 2.0,0a1.0,1.0 0 1,0 -2.0,0M174.9,221.6a0.7,0.7 0 1,0 1.5,0a0.7,0.7 0 1,0 -1.5,0M187.4,187.1a0.9,0.9 0 1,0 1.9,0a0.9,0.9 0 1,0 -1.9,0M182.9,190.2a0.7,0.7 0 1,0 1.4,0a0.7,0.7 0 1,0 -1.4,0M183.9,190.8a0.7,0.7 0 1,0 1.5,0a0.7,0.7 0 1,0 -1.5,0M183.2,189.6a0.7,0.7 0 1,0 1.3,0a0.7,0.7 0 1,0 -1.3,0M176.9,208.6a0.6,0.6 0 1,0 1.2,0a0.6,0.6 0 1,0 -1.2,0M182.7,186.9a0.6,0.6 0 1,0 1.2,0a0.6,0.6 0 1,0 -1.2,0M182.8,226.0a0.5,0.5 0 1,0 1.0,0a0.5,0.5 0 1,0 -1.0,0M176.6,193.1a1.0,1.0 0 1,0 2.0,0a1.0,1.0 0 1,0 -2.0,0M177.8,193.1a0.8,0.8 0 1,0 1.7,0a0.8,0.8 0 1,0 -1.7,0M177.3,193.1a0.7,0.7 0 1,0 1.5,0a0.7,0.7 0 1,0 -1.5,0M185.4,193.7a0.6,0.6 0 1,0 1.2,0a0.6,0.6 0 1,0 -1.2,0M189.3,202.3a0.6,0.6 0 1,0 1.3,0a0.6,0.6 0 1,0 -1.3,0M195.4,190.1a0.5,0.5 0 1,0 1.0,0a0.5,0.5 0 1,0 -1.0,0M195.1,190.6a0.7,0.7 0 1,0 1.4,0a0.7,0.7 0 1,0 -1.4,0M196.2,191.2a0.7,0.7 0 1,0 1.3,0a0.7,0.7 0 1,0 -1.3,0M203.9,217.0a0.8,0.8 0 1,0 1.6,0a0.8,0.8 0 1,0 -1.6,0M180.3,203.7a0.9,0.9 0 1,0 1.7,0a0.9,0.9 0 1,0 -1.7,0M180.6,203.6a0.9,0.9 0 1,0 1.7,0a0.9,0.9 0 1,0 -1.7,0M179.8,202.7a0.8,0.8 0 1,0 1.6,0a0.8,0.8 0 1,0 -1.6,0M177.2,210.2a0.7,0.7 0 1,0 1.4,0a0.7,0.7 0 1,0 -1.4,0M177.5,209.8a0.8,0.8 0 1,0 1.5,0a0.8,0.8 0 1,0 -1.5,0M176.7,209.8a0.5,0.5 0 1,0 1.0,0a0.5,0.5 0 1,0 -1.0,0M195.5,209.4a0.7,0.7 0 1,0 1.5,0a0.7,0.7 0 1,0 -1.5,0M195.6,210.0a0.6,0.6 0 1,0 1.3,0a0.6,0.6 0 1,0 -1.3,0M194.9,210.7a0.7,0.7 0 1,0 1.3,0a0.7,0.7 0 1,0 -1.3,0M176.2,217.3a0.7,0.7 0 1,0 1.4,0a0.7,0.7 0 1,0 -1.4,0M197.1,221.5a0.7,0.7 0 1,0 1.5,0a0.7,0.7 0 1,0 -1.5,0M207.9,205.8a0.6,0.6 0 1,0 1.3,0a0.6,0.6 0 1,0 -1.3,0M207.7,206.1a0.8,0.8 0 1,0 1.6,0a0.8,0.8 0 1,0 -1.6,0M208.4,205.7a0.7,0.7 0 1,0 1.4,0a0.7,0.7 0 1,0 -1.4,0M183.7,193.7a0.7,0.7 0 1,0 1.5,0a0.7,0.7 0 1,0 -1.5,0M190.9,197.1a0.6,0.6 0 1,0 1.1,0a0.6,0.6 0 1,0 -1.1,0M190.7,196.7a0.8,0.8 0 1,0 1.6,0a0.8,0.8 0 1,0 -1.6,0M190.2,196.3a0.9,0.9 0 1,0 1.8,0a0.9,0.9 0 1,0 -1.8,0M185.9,228.4a0.7,0.7 0 1,0 1.3,0a0.7,0.7 0 1,0 -1.3,0M185.8,227.0a0.9,0.9 0 1,0 1.7,0a0.9,0.9 0 1,0 -1.7,0M186.1,227.2a0.6,0.6 0 1,0 1.1,0a0.6,0.6 0 1,0 -1.1,0M172.6,205.1a0.9,0.9 0 1,0 1.7,0a0.9,0.9 0 1,0 -1.7,0M172.4,205.6a0.8,0.8 0 1,0 1.5,0a0.8,0.8 0 1,0 -1.5,0M172.2,205.0a1.0,1.0 0 1,0 2.0,0a1.0,1.0 0 1,0 -2.0,0M184.1,207.5a0.9,0.9 0 1,0 1.7,0a0.9,0.9 0 1,0 -1.7,0M183.1,207.3a0.8,0.8 0 1,0 1.5,0a0.8,0.8 0 1,0 -1.5,0M183.3,208.1a0.7,0.7 0 1,0 1.3,0a0.7,0.7 0 1,0 -1.3,0M204.6,202.5a1.0,1.0 0 1,0 2.1,0a1.0,1.0 0 1,0 -2.1,0M204.7,203.2a0.9,0.9 0 1,0 1.9,0a0.9,0.9 0 1,0 -1.9,0M205.1,203.2a0.6,0.6 0 1,0 1.2,0a0.6,0.6 0 1,0 -1.2,0M200.8,221.2a0.7,0.7 0 1,0 1.4,0a0.7,0.7 0 1,0 -1.4,0M180.2,215.6a1.0,1.0 0 1,0 2.0,0a1.0,1.0 0 1,0 -2.0,0M196.5,213.3a0.5,0.5 0 1,0 1.1,0a0.5,0.5 0 1,0 -1.1,0M192.1,198.8a0.8,0.8 0 1,0 1.6,0a0.8,0.8 0 1,0 -1.6,0M192.1,198.8a0.9,0.9 0 1,0 1.8,0a0.9,0.9 0 1,0 -1.8,0M192.9,198.8a0.6,0.6 0 1,0 1.3,0a0.6,0.6 0 1,0 -1.3,0M181.2,206.9a0.8,0.8 0 1,0 1.6,0a0.8,0.8 0 1,0 -1.6,0M181.3,207.0a0.9,0.9 0 1,0 1.7,0a0.9,0.9 0 1,0 -1.7,0M181.1,206.3a0.8,0.8 0 1,0 1.6,0a0.8,0.8 0 1,0 -1.6,0M202.2,207.1a0.6,0.6 0 1,0 1.3,0a0.6,0.6 0 1,0 -1.3,0M175.4,205.0a1.0,1.0 0 1,0 1.9,0a1.0,1.0 0 1,0 -1.9,0M175.5,191.3a0.8,0.8 0 1,0 1.6,0a0.8,0.8 0 1,0 -1.6,0M174.8,192.3a0.9,0.9 0 1,0 1.8,0a0.9,0.9 0 1,0 -1.8,0M175.2,192.1a0.9,0.9 0 1,0 1.8,0a0.9,0.9 0 1,0 -1.8,0M193.7,225.3a0.6,0.6 0 1,0 1.2,0a0.6,0.6 0 1,0 -1.2,0M203.3,213.1a0.9,0.9 0 1,0 1.8,0a0.9,0.9 0 1,0 -1.8,0M203.7,214.4a0.9,0.9 0 1,0 1.8,0a0.9,0.9 0 1,0 -1.8,0M204.4,213.5a0.7,0.7 0 1,0 1.3,0a0.7,0.7 0 1,0 -1.3,0M176.3,191.1a0.6,0.6 0 1,0 1.2,0a0.6,0.6 0 1,0 -1.2,0M183.9,214.0a0.5,0.5 0 1,0 1.1,0a0.5,0.5 0 1,0 -1.1,0M189.0,219.1a0.9,0.9 0 1,0 1.8,0a0.9,0.9 0 1,0 -1.8,0M176.8,218.4a0.6,0.6 0 1,0 1.2,0a0.6,0.6 0 1,0 -1.2,0M177.2,218.3a0.7,0.7 0 1,0 1.5,0a0.7,0.7 0 1,0 -1.5,0M176.9,219.2a0.5,0.5 0 1,0 1.0,0a0.5,0.5 0 1,0 -1.0,0M198.7,223.2a0.7,0.7 0 1,0 1.3,0a0.7,0.7 0 1,0 -1.3,0M199.6,223.1a0.7,0.7 0 1,0 1.3,0a0.7,0.7 0 1,0 -1.3,0M198.8,223.1a0.8,0.8 0 1,0 1.5,0a0.8,0.8 0 1,0 -1.5,0M196.6,212.2a1.2,1.2 0 1,0 2.3,0a1.2,1.2 0 1,0 -2.3,0M196.0,211.4a1.1,1.1 0 1,0 2.1,0a1.1,1.1 0 1,0 -2.1,0M195.5,211.6a0.8,0.8 0 1,0 1.6,0a0.8,0.8 0 1,0 -1.6,0M187.5,216.7a1.1,1.1 0 1,0 2.1,0a1.1,1.1 0 1,0 -2.1,0M188.7,216.3a0.9,0.9 0 1,0 1.7,0a0.9,0.9 0 1,0 -1.7,0M188.5,215.7a0.7,0.7 0 1,0 1.4,0a0.7,0.7 0 1,0 -1.4,0M199.1,207.0a0.5,0.5 0 1,0 1.1,0a0.5,0.5 0 1,0 -1.1,0M173.1,215.6a0.7,0.7 0 1,0 1.5,0a0.7,0.7 0 1,0 -1.5,0M174.3,216.6a0.9,0.9 0 1,0 1.7,0a0.9,0.9 0 1,0 -1.7,0M174.6,215.9a0.6,0.6 0 1,0 1.1,0a0.6,0.6 0 1,0 -1.1,0M194.2,187.1a0.7,0.7 0 1,0 1.4,0a0.7,0.7 0 1,0 -1.4,0M182.1,206.1a0.9,0.9 0 1,0 1.9,0a0.9,0.9 0 1,0 -1.9,0M181.1,205.0a0.8,0.8 0 1,0 1.6,0a0.8,0.8 0 1,0 -1.6,0M180.9,205.4a0.6,0.6 0 1,0 1.3,0a0.6,0.6 0 1,0 -1.3,0M175.6,191.0a0.8,0.8 0 1,0 1.6,0a0.8,0.8 0 1,0 -1.6,0M175.4,190.3a1.0,1.0 0 1,0 1.9,0a1.0,1.0 0 1,0 -1.9,0M175.9,190.9a0.7,0.7 0 1,0 1.4,0a0.7,0.7 0 1,0 -1.4,0M183.6,200.9a1.1,1.1 0 1,0 2.3,0a1.1,1.1 0 1,0 -2.3,0M184.2,201.5a0.9,0.9 0 1,0 1.7,0a0.9,0.9 0 1,0 -1.7,0M182.9,201.1a0.7,0.7 0 1,0 1.5,0a0.7,0.7 0 1,0 -1.5,0M192.4,201.1a0.7,0.7 0 1,0 1.3,0a0.7,0.7 0 1,0 -1.3,0M191.9,202.2a0.8,0.8 0 1,0 1.6,0a0.8,0.8 0 1,0 -1.6,0M191.6,202.4a0.8,0.8 0 1,0 1.7,0a0.8,0.8 0 1,0 -1.7,0M184.0,192.5a0.7,0.7 0 1,0 1.4,0a0.7,0.7 0 1,0 -1.4,0M185.1,192.2a0.7,0.7 0 1,0 1.5,0a0.7,0.7 0 1,0 -1.5,0M184.3,191.5a0.5,0.5 0 1,0 1.1,0a0.5,0.5 0 1,0 -1.1,0M181.9,214.7a0.8,0.8 0 1,0 1.5,0a0.8,0.8 0 1,0 -1.5,0M181.2,215.5a0.7,0.7 0 1,0 1.3,0a0.7,0.7 0 1,0 -1.3,0M181.3,214.7a0.7,0.7 0 1,0 1.5,0a0.7,0.7 0 1,0 -1.5,0M174.3,202.4a0.6,0.6 0 1,0 1.1,0a0.6,0.6 0 1,0 -1.1,0M172.2,211.1a1.0,1.0 0 1,0 2.0,0a1.0,1.0 0 1,0 -2.0,0M183.9,205.5a0.7,0.7 0 1,0 1.5,0a0.7,0.7 0 1,0 -1.5,0M203.7,206.0a0.6,0.6 0 1,0 1.3,0a0.6,0.6 0 1,0 -1.3,0M202.0,205.6a1.0,1.0 0 1,0 1.9,0a1.0,1.0 0 1,0 -1.9,0M203.4,206.1a0.7,0.7 0 1,0 1.4,0a0.7,0.7 0 1,0 -1.4,0M187.6,206.9a0.9,0.9 0 1,0 1.9,0a0.9,0.9 0 1,0 -1.9,0M187.6,207.5a0.9,0.9 0 1,0 1.8,0a0.9,0.9 0 1,0 -1.8,0M187.6,207.1a1.1,1.1 0 1,0 2.1,0a1.1,1.1 0 1,0 -2.1,0M186.0,215.8a0.8,0.8 0 1,0 1.7,0a0.8,0.8 0 1,0 -1.7,0M192.0,211.8a0.7,0.7 0 1,0 1.3,0a0.7,0.7 0 1,0 -1.3,0M191.6,211.5a0.8,0.8 0 1,0 1.6,0a0.8,0.8 0 1,0 -1.6,0M192.1,210.5a0.6,0.6 0 1,0 1.2,0a0.6,0.6 0 1,0 -1.2,0" fill="#8a46b8" fill-opacity="0.9"/></g><circle cx="186.90" cy="206.30" r="21.30" fill="none" stroke="#cfcdd0" stroke-width="0.6"/><clipPath id="pa4"><circle cx="233.40" cy="206.30" r="21.60"/></clipPath><circle cx="233.40" cy="206.30" r="21.60" fill="#dcdfd7"/><g clip-path="url(#pa4)"><path d="M232.6,206.5a0.2,0.2 0 1,0 0.4,0a0.2,0.2 0 1,0 -0.4,0M227.1,207.8a0.3,0.3 0 1,0 0.5,0a0.3,0.3 0 1,0 -0.5,0M233.5,206.6a0.3,0.3 0 1,0 0.5,0a0.3,0.3 0 1,0 -0.5,0M235.2,227.7a0.2,0.2 0 1,0 0.3,0a0.2,0.2 0 1,0 -0.3,0M236.0,213.2a0.2,0.2 0 1,0 0.3,0a0.2,0.2 0 1,0 -0.3,0M215.0,198.6a0.3,0.3 0 1,0 0.5,0a0.3,0.3 0 1,0 -0.5,0M251.6,209.5a0.2,0.2 0 1,0 0.5,0a0.2,0.2 0 1,0 -0.5,0M239.4,225.9a0.2,0.2 0 1,0 0.5,0a0.2,0.2 0 1,0 -0.5,0M233.9,214.9a0.2,0.2 0 1,0 0.4,0a0.2,0.2 0 1,0 -0.4,0M230.5,188.4a0.2,0.2 0 1,0 0.5,0a0.2,0.2 0 1,0 -0.5,0M239.5,202.8a0.2,0.2 0 1,0 0.5,0a0.2,0.2 0 1,0 -0.5,0M223.2,207.2a0.2,0.2 0 1,0 0.3,0a0.2,0.2 0 1,0 -0.3,0" fill="#6a6a7a" fill-opacity="0.5"/><path d="M215.6,211.8a0.3,0.3 0 1,0 0.5,0a0.3,0.3 0 1,0 -0.5,0M224.6,225.9a0.2,0.2 0 1,0 0.4,0a0.2,0.2 0 1,0 -0.4,0M227.6,187.3a0.2,0.2 0 1,0 0.4,0a0.2,0.2 0 1,0 -0.4,0M246.8,190.0a0.2,0.2 0 1,0 0.5,0a0.2,0.2 0 1,0 -0.5,0M243.9,207.7a0.2,0.2 0 1,0 0.5,0a0.2,0.2 0 1,0 -0.5,0M214.9,207.5a0.2,0.2 0 1,0 0.3,0a0.2,0.2 0 1,0 -0.3,0" fill="#6a6a7a" fill-opacity="0.6"/></g><circle cx="233.40" cy="206.30" r="21.30" fill="none" stroke="#cfcdd0" stroke-width="0.6"/><clipPath id="pb0"><circle cx="46.20" cy="253.10" r="21.60"/></clipPath><circle cx="46.20" cy="253.10" r="21.60" fill="#eeedf2"/><g clip-path="url(#pb0)"><path d="M38.9,252.3a0.7,0.7 0 1,0 1.5,0a0.7,0.7 0 1,0 -1.5,0M43.1,242.4a0.8,0.8 0 1,0 1.6,0a0.8,0.8 0 1,0 -1.6,0M35.0,244.1a0.5,0.5 0 1,0 1.1,0a0.5,0.5 0 1,0 -1.1,0M53.5,264.3a0.4,0.4 0 1,0 0.8,0a0.4,0.4 0 1,0 -0.8,0M59.7,267.6a0.9,0.9 0 1,0 1.8,0a0.9,0.9 0 1,0 -1.8,0M32.0,245.6a0.5,0.5 0 1,0 1.1,0a0.5,0.5 0 1,0 -1.1,0M24.6,256.1a0.6,0.6 0 1,0 1.2,0a0.6,0.6 0 1,0 -1.2,0M37.9,263.9a0.4,0.4 0 1,0 0.7,0a0.4,0.4 0 1,0 -0.7,0M54.9,263.3a0.5,0.5 0 1,0 1.1,0a0.5,0.5 0 1,0 -1.1,0M58.9,242.0a1.0,1.0 0 1,0 2.0,0a1.0,1.0 0 1,0 -2.0,0M37.6,263.8a0.6,0.6 0 1,0 1.3,0a0.6,0.6 0 1,0 -1.3,0M56.1,234.9a0.9,0.9 0 1,0 1.9,0a0.9,0.9 0 1,0 -1.9,0M53.8,247.5a0.6,0.6 0 1,0 1.1,0a0.6,0.6 0 1,0 -1.1,0M48.8,262.0a0.5,0.5 0 1,0 0.9,0a0.5,0.5 0 1,0 -0.9,0M48.5,272.8a0.9,0.9 0 1,0 1.7,0a0.9,0.9 0 1,0 -1.7,0M26.1,259.3a0.8,0.8 0 1,0 1.6,0a0.8,0.8 0 1,0 -1.6,0M39.6,234.8a0.4,0.4 0 1,0 0.8,0a0.4,0.4 0 1,0 -0.8,0M31.8,242.2a0.5,0.5 0 1,0 1.0,0a0.5,0.5 0 1,0 -1.0,0M27.6,262.3a0.7,0.7 0 1,0 1.3,0a0.7,0.7 0 1,0 -1.3,0M35.7,233.8a0.9,0.9 0 1,0 1.9,0a0.9,0.9 0 1,0 -1.9,0M30.9,248.0a0.8,0.8 0 1,0 1.6,0a0.8,0.8 0 1,0 -1.6,0M40.5,273.8a0.9,0.9 0 1,0 1.9,0a0.9,0.9 0 1,0 -1.9,0M47.5,274.1a1.0,1.0 0 1,0 2.0,0a1.0,1.0 0 1,0 -2.0,0M51.5,270.9a0.3,0.3 0 1,0 0.6,0a0.3,0.3 0 1,0 -0.6,0M51.8,261.0a0.9,0.9 0 1,0 1.9,0a0.9,0.9 0 1,0 -1.9,0M58.3,244.2a0.8,0.8 0 1,0 1.6,0a0.8,0.8 0 1,0 -1.6,0M64.8,255.6a0.8,0.8 0 1,0 1.6,0a0.8,0.8 0 1,0 -1.6,0M53.0,263.5a0.4,0.4 0 1,0 0.9,0a0.4,0.4 0 1,0 -0.9,0M25.0,254.0a0.3,0.3 0 1,0 0.6,0a0.3,0.3 0 1,0 -0.6,0M43.5,233.4a0.8,0.8 0 1,0 1.6,0a0.8,0.8 0 1,0 -1.6,0M29.6,240.2a0.9,0.9 0 1,0 1.8,0a0.9,0.9 0 1,0 -1.8,0M27.6,255.7a0.5,0.5 0 1,0 1.1,0a0.5,0.5 0 1,0 -1.1,0M44.6,271.9a0.8,0.8 0 1,0 1.7,0a0.8,0.8 0 1,0 -1.7,0M62.6,250.6a0.4,0.4 0 1,0 0.7,0a0.4,0.4 0 1,0 -0.7,0M38.0,244.6a0.5,0.5 0 1,0 0.9,0a0.5,0.5 0 1,0 -0.9,0M58.0,259.6a0.9,0.9 0 1,0 1.9,0a0.9,0.9 0 1,0 -1.9,0M46.6,263.4a0.9,0.9 0 1,0 1.7,0a0.9,0.9 0 1,0 -1.7,0M61.1,267.4a0.4,0.4 0 1,0 0.8,0a0.4,0.4 0 1,0 -0.8,0M30.9,238.2a0.8,0.8 0 1,0 1.5,0a0.8,0.8 0 1,0 -1.5,0M44.6,273.4a0.6,0.6 0 1,0 1.3,0a0.6,0.6 0 1,0 -1.3,0M29.1,261.8a0.7,0.7 0 1,0 1.4,0a0.7,0.7 0 1,0 -1.4,0M43.3,249.3a0.5,0.5 0 1,0 0.9,0a0.5,0.5 0 1,0 -0.9,0M38.1,270.9a0.3,0.3 0 1,0 0.6,0a0.3,0.3 0 1,0 -0.6,0M34.2,266.8a0.3,0.3 0 1,0 0.6,0a0.3,0.3 0 1,0 -0.6,0M44.2,236.4a0.7,0.7 0 1,0 1.5,0a0.7,0.7 0 1,0 -1.5,0M41.5,250.1a0.8,0.8 0 1,0 1.5,0a0.8,0.8 0 1,0 -1.5,0M53.8,248.9a0.7,0.7 0 1,0 1.3,0a0.7,0.7 0 1,0 -1.3,0M39.9,263.7a0.7,0.7 0 1,0 1.3,0a0.7,0.7 0 1,0 -1.3,0M61.1,240.5a0.7,0.7 0 1,0 1.4,0a0.7,0.7 0 1,0 -1.4,0M46.1,242.3a0.3,0.3 0 1,0 0.6,0a0.3,0.3 0 1,0 -0.6,0M45.7,236.4a0.8,0.8 0 1,0 1.6,0a0.8,0.8 0 1,0 -1.6,0M54.8,249.3a0.3,0.3 0 1,0 0.6,0a0.3,0.3 0 1,0 -0.6,0M60.9,255.1a1.0,1.0 0 1,0 2.0,0a1.0,1.0 0 1,0 -2.0,0M36.1,252.8a0.7,0.7 0 1,0 1.4,0a0.7,0.7 0 1,0 -1.4,0M38.6,249.7a0.8,0.8 0 1,0 1.6,0a0.8,0.8 0 1,0 -1.6,0M49.2,249.5a0.9,0.9 0 1,0 1.9,0a0.9,0.9 0 1,0 -1.9,0M44.5,248.2a0.8,0.8 0 1,0 1.6,0a0.8,0.8 0 1,0 -1.6,0M28.2,253.5a0.5,0.5 0 1,0 1.0,0a0.5,0.5 0 1,0 -1.0,0M43.6,264.4a0.6,0.6 0 1,0 1.1,0a0.6,0.6 0 1,0 -1.1,0M47.6,273.9a0.7,0.7 0 1,0 1.3,0a0.7,0.7 0 1,0 -1.3,0M52.1,244.5a0.8,0.8 0 1,0 1.6,0a0.8,0.8 0 1,0 -1.6,0M33.8,267.5a0.7,0.7 0 1,0 1.5,0a0.7,0.7 0 1,0 -1.5,0M60.5,252.6a0.6,0.6 0 1,0 1.1,0a0.6,0.6 0 1,0 -1.1,0M26.4,246.6a0.4,0.4 0 1,0 0.8,0a0.4,0.4 0 1,0 -0.8,0M56.1,251.1a0.4,0.4 0 1,0 0.9,0a0.4,0.4 0 1,0 -0.9,0M40.2,267.3a0.9,0.9 0 1,0 1.9,0a0.9,0.9 0 1,0 -1.9,0M33.2,268.7a0.5,0.5 0 1,0 1.0,0a0.5,0.5 0 1,0 -1.0,0M50.3,237.1a0.6,0.6 0 1,0 1.2,0a0.6,0.6 0 1,0 -1.2,0M65.8,257.1a0.6,0.6 0 1,0 1.3,0a0.6,0.6 0 1,0 -1.3,0M57.2,243.4a0.4,0.4 0 1,0 0.8,0a0.4,0.4 0 1,0 -0.8,0M63.8,249.8a0.4,0.4 0 1,0 0.7,0a0.4,0.4 0 1,0 -0.7,0M52.6,243.5a0.4,0.4 0 1,0 0.9,0a0.4,0.4 0 1,0 -0.9,0M55.4,270.6a0.5,0.5 0 1,0 1.0,0a0.5,0.5 0 1,0 -1.0,0M35.2,244.2a0.7,0.7 0 1,0 1.3,0a0.7,0.7 0 1,0 -1.3,0M38.4,244.8a0.5,0.5 0 1,0 1.0,0a0.5,0.5 0 1,0 -1.0,0M29.5,261.9a0.9,0.9 0 1,0 1.8,0a0.9,0.9 0 1,0 -1.8,0M29.6,263.2a0.9,0.9 0 1,0 1.9,0a0.9,0.9 0 1,0 -1.9,0M57.3,259.7a0.8,0.8 0 1,0 1.5,0a0.8,0.8 0 1,0 -1.5,0M28.9,246.3a0.9,0.9 0 1,0 1.8,0a0.9,0.9 0 1,0 -1.8,0M44.9,254.5a0.5,0.5 0 1,0 0.9,0a0.5,0.5 0 1,0 -0.9,0M52.1,268.1a0.5,0.5 0 1,0 1.0,0a0.5,0.5 0 1,0 -1.0,0M30.5,266.5a0.6,0.6 0 1,0 1.2,0a0.6,0.6 0 1,0 -1.2,0M47.2,232.1a0.6,0.6 0 1,0 1.2,0a0.6,0.6 0 1,0 -1.2,0M56.4,256.1a0.3,0.3 0 1,0 0.7,0a0.3,0.3 0 1,0 -0.7,0M35.2,259.6a0.8,0.8 0 1,0 1.7,0a0.8,0.8 0 1,0 -1.7,0M31.7,255.1a0.6,0.6 0 1,0 1.2,0a0.6,0.6 0 1,0 -1.2,0M48.2,257.1a0.5,0.5 0 1,0 1.0,0a0.5,0.5 0 1,0 -1.0,0M42.0,243.0a0.9,0.9 0 1,0 1.8,0a0.9,0.9 0 1,0 -1.8,0M41.4,266.7a1.0,1.0 0 1,0 2.0,0a1.0,1.0 0 1,0 -2.0,0M29.4,260.8a0.8,0.8 0 1,0 1.6,0a0.8,0.8 0 1,0 -1.6,0M55.1,262.2a0.6,0.6 0 1,0 1.3,0a0.6,0.6 0 1,0 -1.3,0M57.8,237.1a0.6,0.6 0 1,0 1.2,0a0.6,0.6 0 1,0 -1.2,0M45.6,264.8a0.6,0.6 0 1,0 1.3,0a0.6,0.6 0 1,0 -1.3,0M54.4,270.2a0.8,0.8 0 1,0 1.7,0a0.8,0.8 0 1,0 -1.7,0M30.7,237.8a0.9,0.9 0 1,0 1.8,0a0.9,0.9 0 1,0 -1.8,0M63.3,259.0a1.0,1.0 0 1,0 2.0,0a1.0,1.0 0 1,0 -2.0,0M29.0,259.2a0.8,0.8 0 1,0 1.6,0a0.8,0.8 0 1,0 -1.6,0M31.3,263.4a0.5,0.5 0 1,0 1.1,0a0.5,0.5 0 1,0 -1.1,0M31.8,260.3a0.6,0.6 0 1,0 1.2,0a0.6,0.6 0 1,0 -1.2,0M33.2,247.6a0.5,0.5 0 1,0 1.0,0a0.5,0.5 0 1,0 -1.0,0M62.2,254.0a0.4,0.4 0 1,0 0.9,0a0.4,0.4 0 1,0 -0.9,0M61.0,261.6a0.8,0.8 0 1,0 1.7,0a0.8,0.8 0 1,0 -1.7,0M46.5,260.2a0.8,0.8 0 1,0 1.7,0a0.8,0.8 0 1,0 -1.7,0M45.6,246.8a0.9,0.9 0 1,0 1.8,0a0.9,0.9 0 1,0 -1.8,0M56.5,239.7a0.7,0.7 0 1,0 1.4,0a0.7,0.7 0 1,0 -1.4,0M61.0,264.7a0.9,0.9 0 1,0 1.7,0a0.9,0.9 0 1,0 -1.7,0M27.6,245.4a0.5,0.5 0 1,0 1.1,0a0.5,0.5 0 1,0 -1.1,0M50.0,246.0a0.4,0.4 0 1,0 0.8,0a0.4,0.4 0 1,0 -0.8,0M51.6,246.2a0.3,0.3 0 1,0 0.7,0a0.3,0.3 0 1,0 -0.7,0M63.9,258.6a1.0,1.0 0 1,0 1.9,0a1.0,1.0 0 1,0 -1.9,0M47.9,265.5a0.9,0.9 0 1,0 1.9,0a0.9,0.9 0 1,0 -1.9,0M52.9,233.2a0.9,0.9 0 1,0 1.8,0a0.9,0.9 0 1,0 -1.8,0M42.3,248.1a0.6,0.6 0 1,0 1.1,0a0.6,0.6 0 1,0 -1.1,0M46.1,234.1a0.3,0.3 0 1,0 0.7,0a0.3,0.3 0 1,0 -0.7,0M39.3,252.2a0.8,0.8 0 1,0 1.7,0a0.8,0.8 0 1,0 -1.7,0M58.7,261.0a0.9,0.9 0 1,0 1.7,0a0.9,0.9 0 1,0 -1.7,0M31.5,246.5a0.4,0.4 0 1,0 0.7,0a0.4,0.4 0 1,0 -0.7,0M62.0,245.0a0.5,0.5 0 1,0 0.9,0a0.5,0.5 0 1,0 -0.9,0M30.9,242.1a0.8,0.8 0 1,0 1.7,0a0.8,0.8 0 1,0 -1.7,0M53.9,271.9a0.6,0.6 0 1,0 1.2,0a0.6,0.6 0 1,0 -1.2,0M42.1,251.6a0.8,0.8 0 1,0 1.6,0a0.8,0.8 0 1,0 -1.6,0M49.6,270.1a0.6,0.6 0 1,0 1.1,0a0.6,0.6 0 1,0 -1.1,0M53.0,239.1a0.4,0.4 0 1,0 0.7,0a0.4,0.4 0 1,0 -0.7,0M39.5,258.8a0.5,0.5 0 1,0 0.9,0a0.5,0.5 0 1,0 -0.9,0M24.1,254.2a0.7,0.7 0 1,0 1.4,0a0.7,0.7 0 1,0 -1.4,0M48.0,274.5a0.9,0.9 0 1,0 1.8,0a0.9,0.9 0 1,0 -1.8,0M53.3,267.6a0.7,0.7 0 1,0 1.5,0a0.7,0.7 0 1,0 -1.5,0M35.4,271.6a0.9,0.9 0 1,0 1.7,0a0.9,0.9 0 1,0 -1.7,0M53.1,246.7a0.9,0.9 0 1,0 1.9,0a0.9,0.9 0 1,0 -1.9,0M29.5,257.9a0.7,0.7 0 1,0 1.5,0a0.7,0.7 0 1,0 -1.5,0M57.4,251.7a0.7,0.7 0 1,0 1.3,0a0.7,0.7 0 1,0 -1.3,0M52.8,233.0a0.6,0.6 0 1,0 1.2,0a0.6,0.6 0 1,0 -1.2,0M31.4,251.9a0.7,0.7 0 1,0 1.3,0a0.7,0.7 0 1,0 -1.3,0M27.6,254.1a0.3,0.3 0 1,0 0.6,0a0.3,0.3 0 1,0 -0.6,0M31.9,262.1a0.3,0.3 0 1,0 0.7,0a0.3,0.3 0 1,0 -0.7,0M35.9,242.6a0.3,0.3 0 1,0 0.7,0a0.3,0.3 0 1,0 -0.7,0M29.1,250.4a0.3,0.3 0 1,0 0.6,0a0.3,0.3 0 1,0 -0.6,0M35.3,235.5a1.0,1.0 0 1,0 1.9,0a1.0,1.0 0 1,0 -1.9,0M54.0,246.7a0.5,0.5 0 1,0 0.9,0a0.5,0.5 0 1,0 -0.9,0M47.5,234.5a0.9,0.9 0 1,0 1.8,0a0.9,0.9 0 1,0 -1.8,0M60.3,252.1a0.4,0.4 0 1,0 0.8,0a0.4,0.4 0 1,0 -0.8,0M37.3,247.7a0.9,0.9 0 1,0 1.7,0a0.9,0.9 0 1,0 -1.7,0M43.4,237.1a0.8,0.8 0 1,0 1.6,0a0.8,0.8 0 1,0 -1.6,0M59.9,262.4a0.6,0.6 0 1,0 1.1,0a0.6,0.6 0 1,0 -1.1,0M67.0,250.7a0.4,0.4 0 1,0 0.9,0a0.4,0.4 0 1,0 -0.9,0M34.8,234.9a0.9,0.9 0 1,0 1.7,0a0.9,0.9 0 1,0 -1.7,0M56.0,237.8a0.4,0.4 0 1,0 0.8,0a0.4,0.4 0 1,0 -0.8,0M45.4,245.1a0.8,0.8 0 1,0 1.7,0a0.8,0.8 0 1,0 -1.7,0M35.7,250.4a0.7,0.7 0 1,0 1.4,0a0.7,0.7 0 1,0 -1.4,0M32.5,265.3a0.3,0.3 0 1,0 0.7,0a0.3,0.3 0 1,0 -0.7,0M62.6,241.6a0.7,0.7 0 1,0 1.4,0a0.7,0.7 0 1,0 -1.4,0M63.5,247.2a0.6,0.6 0 1,0 1.2,0a0.6,0.6 0 1,0 -1.2,0M47.9,259.3a0.4,0.4 0 1,0 0.7,0a0.4,0.4 0 1,0 -0.7,0M38.5,265.5a0.3,0.3 0 1,0 0.7,0a0.3,0.3 0 1,0 -0.7,0M28.4,240.6a0.4,0.4 0 1,0 0.9,0a0.4,0.4 0 1,0 -0.9,0M24.4,255.6a0.6,0.6 0 1,0 1.2,0a0.6,0.6 0 1,0 -1.2,0M44.0,251.8a0.4,0.4 0 1,0 0.8,0a0.4,0.4 0 1,0 -0.8,0M60.7,254.3a0.4,0.4 0 1,0 0.8,0a0.4,0.4 0 1,0 -0.8,0M43.2,251.0a0.4,0.4 0 1,0 0.8,0a0.4,0.4 0 1,0 -0.8,0M46.6,268.8a0.8,0.8 0 1,0 1.7,0a0.8,0.8 0 1,0 -1.7,0M36.9,266.6a0.7,0.7 0 1,0 1.3,0a0.7,0.7 0 1,0 -1.3,0M40.1,234.2a0.9,0.9 0 1,0 1.7,0a0.9,0.9 0 1,0 -1.7,0M29.3,264.6a0.7,0.7 0 1,0 1.4,0a0.7,0.7 0 1,0 -1.4,0M27.6,251.9a0.5,0.5 0 1,0 0.9,0a0.5,0.5 0 1,0 -0.9,0M52.7,258.3a0.7,0.7 0 1,0 1.3,0a0.7,0.7 0 1,0 -1.3,0M58.9,241.2a0.9,0.9 0 1,0 1.9,0a0.9,0.9 0 1,0 -1.9,0M59.6,240.0a0.4,0.4 0 1,0 0.9,0a0.4,0.4 0 1,0 -0.9,0M41.5,260.1a0.3,0.3 0 1,0 0.6,0a0.3,0.3 0 1,0 -0.6,0M39.5,239.3a0.7,0.7 0 1,0 1.3,0a0.7,0.7 0 1,0 -1.3,0M47.5,241.0a0.4,0.4 0 1,0 0.8,0a0.4,0.4 0 1,0 -0.8,0M35.5,241.4a0.8,0.8 0 1,0 1.6,0a0.8,0.8 0 1,0 -1.6,0M37.5,240.2a0.9,0.9 0 1,0 1.8,0a0.9,0.9 0 1,0 -1.8,0M24.3,254.2a0.4,0.4 0 1,0 0.9,0a0.4,0.4 0 1,0 -0.9,0M29.4,242.6a0.4,0.4 0 1,0 0.8,0a0.4,0.4 0 1,0 -0.8,0M38.1,246.6a0.6,0.6 0 1,0 1.2,0a0.6,0.6 0 1,0 -1.2,0M37.2,248.6a0.6,0.6 0 1,0 1.3,0a0.6,0.6 0 1,0 -1.3,0M44.7,239.7a0.5,0.5 0 1,0 1.1,0a0.5,0.5 0 1,0 -1.1,0M43.3,257.2a0.8,0.8 0 1,0 1.6,0a0.8,0.8 0 1,0 -1.6,0M62.1,261.2a0.8,0.8 0 1,0 1.5,0a0.8,0.8 0 1,0 -1.5,0M53.5,242.8a0.6,0.6 0 1,0 1.2,0a0.6,0.6 0 1,0 -1.2,0M46.0,262.1a0.9,0.9 0 1,0 1.8,0a0.9,0.9 0 1,0 -1.8,0M54.0,233.6a0.9,0.9 0 1,0 1.8,0a0.9,0.9 0 1,0 -1.8,0M45.9,234.8a0.6,0.6 0 1,0 1.3,0a0.6,0.6 0 1,0 -1.3,0M45.1,249.6a0.7,0.7 0 1,0 1.3,0a0.7,0.7 0 1,0 -1.3,0M63.8,244.6a1.0,1.0 0 1,0 1.9,0a1.0,1.0 0 1,0 -1.9,0M38.1,239.0a0.8,0.8 0 1,0 1.6,0a0.8,0.8 0 1,0 -1.6,0M52.3,259.0a0.3,0.3 0 1,0 0.7,0a0.3,0.3 0 1,0 -0.7,0M53.6,233.9a0.9,0.9 0 1,0 1.9,0a0.9,0.9 0 1,0 -1.9,0M57.4,238.9a0.5,0.5 0 1,0 1.0,0a0.5,0.5 0 1,0 -1.0,0M46.6,250.5a0.5,0.5 0 1,0 1.0,0a0.5,0.5 0 1,0 -1.0,0M29.0,246.3a0.9,0.9 0 1,0 1.9,0a0.9,0.9 0 1,0 -1.9,0M36.3,235.9a0.8,0.8 0 1,0 1.6,0a0.8,0.8 0 1,0 -1.6,0M47.8,263.3a0.5,0.5 0 1,0 1.0,0a0.5,0.5 0 1,0 -1.0,0M54.2,255.5a0.4,0.4 0 1,0 0.7,0a0.4,0.4 0 1,0 -0.7,0" fill="#8a48bc" fill-opacity="0.8"/><path d="M46.4,250.8a0.9,0.9 0 1,0 1.8,0a0.9,0.9 0 1,0 -1.8,0M38.6,246.6a0.4,0.4 0 1,0 0.9,0a0.4,0.4 0 1,0 -0.9,0M44.5,256.6a0.5,0.5 0 1,0 1.0,0a0.5,0.5 0 1,0 -1.0,0M39.0,248.1a0.5,0.5 0 1,0 0.9,0a0.5,0.5 0 1,0 -0.9,0M29.8,239.6a0.5,0.5 0 1,0 1.0,0a0.5,0.5 0 1,0 -1.0,0M31.8,268.1a0.4,0.4 0 1,0 0.8,0a0.4,0.4 0 1,0 -0.8,0M47.0,249.0a0.4,0.4 0 1,0 0.8,0a0.4,0.4 0 1,0 -0.8,0M56.3,260.1a0.3,0.3 0 1,0 0.6,0a0.3,0.3 0 1,0 -0.6,0M46.4,271.2a0.9,0.9 0 1,0 1.8,0a0.9,0.9 0 1,0 -1.8,0M50.1,242.2a0.9,0.9 0 1,0 1.9,0a0.9,0.9 0 1,0 -1.9,0M55.4,265.5a0.7,0.7 0 1,0 1.5,0a0.7,0.7 0 1,0 -1.5,0M59.6,252.2a0.3,0.3 0 1,0 0.7,0a0.3,0.3 0 1,0 -0.7,0M56.7,269.0a0.9,0.9 0 1,0 1.9,0a0.9,0.9 0 1,0 -1.9,0M42.7,256.5a0.4,0.4 0 1,0 0.8,0a0.4,0.4 0 1,0 -0.8,0M59.4,246.1a0.9,0.9 0 1,0 1.7,0a0.9,0.9 0 1,0 -1.7,0M39.5,256.8a0.4,0.4 0 1,0 0.9,0a0.4,0.4 0 1,0 -0.9,0M39.2,265.6a0.8,0.8 0 1,0 1.6,0a0.8,0.8 0 1,0 -1.6,0M27.9,244.4a0.5,0.5 0 1,0 1.0,0a0.5,0.5 0 1,0 -1.0,0M55.2,262.1a0.6,0.6 0 1,0 1.2,0a0.6,0.6 0 1,0 -1.2,0M51.4,269.7a0.4,0.4 0 1,0 0.9,0a0.4,0.4 0 1,0 -0.9,0M55.9,263.3a0.4,0.4 0 1,0 0.7,0a0.4,0.4 0 1,0 -0.7,0M43.2,234.9a0.5,0.5 0 1,0 1.1,0a0.5,0.5 0 1,0 -1.1,0M54.4,251.2a0.9,0.9 0 1,0 1.7,0a0.9,0.9 0 1,0 -1.7,0M39.6,258.4a0.4,0.4 0 1,0 0.7,0a0.4,0.4 0 1,0 -0.7,0M26.9,258.5a0.9,0.9 0 1,0 1.8,0a0.9,0.9 0 1,0 -1.8,0M49.2,269.3a0.9,0.9 0 1,0 1.8,0a0.9,0.9 0 1,0 -1.8,0M50.6,235.2a0.6,0.6 0 1,0 1.1,0a0.6,0.6 0 1,0 -1.1,0M51.5,246.3a0.4,0.4 0 1,0 0.7,0a0.4,0.4 0 1,0 -0.7,0M26.4,257.4a1.0,1.0 0 1,0 1.9,0a1.0,1.0 0 1,0 -1.9,0M47.0,238.6a0.4,0.4 0 1,0 0.8,0a0.4,0.4 0 1,0 -0.8,0M24.9,247.1a1.0,1.0 0 1,0 2.0,0a1.0,1.0 0 1,0 -2.0,0M44.9,258.4a0.6,0.6 0 1,0 1.1,0a0.6,0.6 0 1,0 -1.1,0M60.8,245.7a0.6,0.6 0 1,0 1.3,0a0.6,0.6 0 1,0 -1.3,0M56.1,251.0a0.6,0.6 0 1,0 1.2,0a0.6,0.6 0 1,0 -1.2,0M58.0,261.8a0.6,0.6 0 1,0 1.2,0a0.6,0.6 0 1,0 -1.2,0M48.7,232.6a0.6,0.6 0 1,0 1.2,0a0.6,0.6 0 1,0 -1.2,0M58.3,268.8a0.7,0.7 0 1,0 1.4,0a0.7,0.7 0 1,0 -1.4,0M34.3,239.5a0.9,0.9 0 1,0 1.7,0a0.9,0.9 0 1,0 -1.7,0M64.9,245.4a0.7,0.7 0 1,0 1.4,0a0.7,0.7 0 1,0 -1.4,0M62.8,255.6a0.6,0.6 0 1,0 1.3,0a0.6,0.6 0 1,0 -1.3,0M60.9,241.9a0.8,0.8 0 1,0 1.6,0a0.8,0.8 0 1,0 -1.6,0M44.3,249.8a0.6,0.6 0 1,0 1.2,0a0.6,0.6 0 1,0 -1.2,0M53.6,239.8a0.4,0.4 0 1,0 0.8,0a0.4,0.4 0 1,0 -0.8,0M32.5,269.0a0.7,0.7 0 1,0 1.4,0a0.7,0.7 0 1,0 -1.4,0M48.4,273.1a0.5,0.5 0 1,0 1.0,0a0.5,0.5 0 1,0 -1.0,0M61.3,253.2a0.4,0.4 0 1,0 0.8,0a0.4,0.4 0 1,0 -0.8,0M44.0,252.6a0.3,0.3 0 1,0 0.6,0a0.3,0.3 0 1,0 -0.6,0M41.6,246.0a0.4,0.4 0 1,0 0.7,0a0.4,0.4 0 1,0 -0.7,0M31.7,260.9a0.7,0.7 0 1,0 1.3,0a0.7,0.7 0 1,0 -1.3,0M45.3,242.3a0.7,0.7 0 1,0 1.4,0a0.7,0.7 0 1,0 -1.4,0M55.7,254.6a0.8,0.8 0 1,0 1.5,0a0.8,0.8 0 1,0 -1.5,0M51.6,257.0a1.0,1.0 0 1,0 1.9,0a1.0,1.0 0 1,0 -1.9,0M24.7,255.3a0.7,0.7 0 1,0 1.5,0a0.7,0.7 0 1,0 -1.5,0M60.8,266.8a0.7,0.7 0 1,0 1.5,0a0.7,0.7 0 1,0 -1.5,0M38.3,245.0a0.4,0.4 0 1,0 0.9,0a0.4,0.4 0 1,0 -0.9,0M57.3,268.8a0.6,0.6 0 1,0 1.3,0a0.6,0.6 0 1,0 -1.3,0M42.2,261.5a0.7,0.7 0 1,0 1.3,0a0.7,0.7 0 1,0 -1.3,0M31.3,244.4a0.5,0.5 0 1,0 1.0,0a0.5,0.5 0 1,0 -1.0,0M52.0,264.4a0.6,0.6 0 1,0 1.1,0a0.6,0.6 0 1,0 -1.1,0M51.8,254.1a0.8,0.8 0 1,0 1.6,0a0.8,0.8 0 1,0 -1.6,0M38.8,239.2a0.7,0.7 0 1,0 1.5,0a0.7,0.7 0 1,0 -1.5,0M47.1,253.6a0.7,0.7 0 1,0 1.5,0a0.7,0.7 0 1,0 -1.5,0M54.5,267.2a0.6,0.6 0 1,0 1.3,0a0.6,0.6 0 1,0 -1.3,0M43.7,260.9a0.5,0.5 0 1,0 0.9,0a0.5,0.5 0 1,0 -0.9,0M30.5,242.4a0.7,0.7 0 1,0 1.5,0a0.7,0.7 0 1,0 -1.5,0M30.6,251.7a0.9,0.9 0 1,0 1.8,0a0.9,0.9 0 1,0 -1.8,0M39.7,254.3a0.6,0.6 0 1,0 1.1,0a0.6,0.6 0 1,0 -1.1,0M35.6,256.8a0.6,0.6 0 1,0 1.2,0a0.6,0.6 0 1,0 -1.2,0M40.5,261.6a0.9,0.9 0 1,0 1.8,0a0.9,0.9 0 1,0 -1.8,0M54.8,253.8a0.4,0.4 0 1,0 0.8,0a0.4,0.4 0 1,0 -0.8,0M34.4,265.1a0.3,0.3 0 1,0 0.7,0a0.3,0.3 0 1,0 -0.7,0M64.0,255.9a0.6,0.6 0 1,0 1.3,0a0.6,0.6 0 1,0 -1.3,0M49.0,248.0a1.0,1.0 0 1,0 2.0,0a1.0,1.0 0 1,0 -2.0,0M39.5,257.7a0.3,0.3 0 1,0 0.7,0a0.3,0.3 0 1,0 -0.7,0M55.9,263.4a0.5,0.5 0 1,0 1.1,0a0.5,0.5 0 1,0 -1.1,0M30.9,241.4a0.7,0.7 0 1,0 1.4,0a0.7,0.7 0 1,0 -1.4,0M57.8,244.8a0.9,0.9 0 1,0 1.9,0a0.9,0.9 0 1,0 -1.9,0M53.9,256.3a0.4,0.4 0 1,0 0.9,0a0.4,0.4 0 1,0 -0.9,0M47.8,253.4a0.6,0.6 0 1,0 1.2,0a0.6,0.6 0 1,0 -1.2,0M49.8,263.7a0.6,0.6 0 1,0 1.3,0a0.6,0.6 0 1,0 -1.3,0M57.3,253.5a0.5,0.5 0 1,0 1.0,0a0.5,0.5 0 1,0 -1.0,0M46.4,250.0a0.7,0.7 0 1,0 1.4,0a0.7,0.7 0 1,0 -1.4,0M35.1,269.8a0.7,0.7 0 1,0 1.4,0a0.7,0.7 0 1,0 -1.4,0M42.7,272.2a0.7,0.7 0 1,0 1.4,0a0.7,0.7 0 1,0 -1.4,0M44.7,232.3a0.9,0.9 0 1,0 1.8,0a0.9,0.9 0 1,0 -1.8,0M56.7,242.9a0.8,0.8 0 1,0 1.5,0a0.8,0.8 0 1,0 -1.5,0M37.6,243.2a0.7,0.7 0 1,0 1.4,0a0.7,0.7 0 1,0 -1.4,0M53.6,242.9a0.7,0.7 0 1,0 1.5,0a0.7,0.7 0 1,0 -1.5,0M46.1,236.7a0.7,0.7 0 1,0 1.3,0a0.7,0.7 0 1,0 -1.3,0M48.5,269.3a0.6,0.6 0 1,0 1.3,0a0.6,0.6 0 1,0 -1.3,0M28.2,259.6a0.7,0.7 0 1,0 1.4,0a0.7,0.7 0 1,0 -1.4,0M46.5,259.9a0.5,0.5 0 1,0 1.0,0a0.5,0.5 0 1,0 -1.0,0M52.2,264.9a0.8,0.8 0 1,0 1.6,0a0.8,0.8 0 1,0 -1.6,0M48.1,262.8a0.8,0.8 0 1,0 1.7,0a0.8,0.8 0 1,0 -1.7,0M25.5,254.4a0.4,0.4 0 1,0 0.9,0a0.4,0.4 0 1,0 -0.9,0M54.7,261.0a0.9,0.9 0 1,0 1.7,0a0.9,0.9 0 1,0 -1.7,0M60.7,246.0a0.9,0.9 0 1,0 1.8,0a0.9,0.9 0 1,0 -1.8,0M45.9,240.0a0.5,0.5 0 1,0 1.0,0a0.5,0.5 0 1,0 -1.0,0M29.6,260.1a0.6,0.6 0 1,0 1.3,0a0.6,0.6 0 1,0 -1.3,0M44.2,240.2a0.4,0.4 0 1,0 0.8,0a0.4,0.4 0 1,0 -0.8,0M56.3,263.4a0.6,0.6 0 1,0 1.2,0a0.6,0.6 0 1,0 -1.2,0M58.1,253.8a0.9,0.9 0 1,0 1.8,0a0.9,0.9 0 1,0 -1.8,0M60.0,247.0a0.5,0.5 0 1,0 0.9,0a0.5,0.5 0 1,0 -0.9,0M35.0,264.7a0.5,0.5 0 1,0 1.1,0a0.5,0.5 0 1,0 -1.1,0M61.1,240.3a0.5,0.5 0 1,0 1.0,0a0.5,0.5 0 1,0 -1.0,0M36.1,270.3a0.7,0.7 0 1,0 1.3,0a0.7,0.7 0 1,0 -1.3,0M55.1,259.7a0.6,0.6 0 1,0 1.1,0a0.6,0.6 0 1,0 -1.1,0M24.4,249.2a0.7,0.7 0 1,0 1.4,0a0.7,0.7 0 1,0 -1.4,0M28.5,263.3a0.5,0.5 0 1,0 1.1,0a0.5,0.5 0 1,0 -1.1,0M59.9,256.3a0.7,0.7 0 1,0 1.4,0a0.7,0.7 0 1,0 -1.4,0M54.8,261.6a0.8,0.8 0 1,0 1.6,0a0.8,0.8 0 1,0 -1.6,0M49.2,234.2a0.6,0.6 0 1,0 1.1,0a0.6,0.6 0 1,0 -1.1,0M40.3,233.5a0.6,0.6 0 1,0 1.1,0a0.6,0.6 0 1,0 -1.1,0M61.6,249.0a0.5,0.5 0 1,0 1.1,0a0.5,0.5 0 1,0 -1.1,0M55.1,241.8a0.9,0.9 0 1,0 1.8,0a0.9,0.9 0 1,0 -1.8,0M59.0,259.6a0.4,0.4 0 1,0 0.8,0a0.4,0.4 0 1,0 -0.8,0M63.2,263.4a0.3,0.3 0 1,0 0.6,0a0.3,0.3 0 1,0 -0.6,0M64.6,263.3a0.6,0.6 0 1,0 1.2,0a0.6,0.6 0 1,0 -1.2,0M39.5,238.4a0.7,0.7 0 1,0 1.5,0a0.7,0.7 0 1,0 -1.5,0M55.1,253.4a0.8,0.8 0 1,0 1.6,0a0.8,0.8 0 1,0 -1.6,0M44.3,272.6a0.6,0.6 0 1,0 1.2,0a0.6,0.6 0 1,0 -1.2,0M65.2,255.5a0.5,0.5 0 1,0 0.9,0a0.5,0.5 0 1,0 -0.9,0M47.0,254.1a0.8,0.8 0 1,0 1.6,0a0.8,0.8 0 1,0 -1.6,0M33.8,258.1a0.8,0.8 0 1,0 1.6,0a0.8,0.8 0 1,0 -1.6,0M37.3,262.2a0.4,0.4 0 1,0 0.9,0a0.4,0.4 0 1,0 -0.9,0M50.6,256.9a0.8,0.8 0 1,0 1.6,0a0.8,0.8 0 1,0 -1.6,0M37.0,258.9a0.7,0.7 0 1,0 1.3,0a0.7,0.7 0 1,0 -1.3,0M61.5,240.0a0.7,0.7 0 1,0 1.5,0a0.7,0.7 0 1,0 -1.5,0M48.8,245.9a0.5,0.5 0 1,0 1.1,0a0.5,0.5 0 1,0 -1.1,0M53.7,262.5a0.4,0.4 0 1,0 0.9,0a0.4,0.4 0 1,0 -0.9,0M52.3,252.4a0.7,0.7 0 1,0 1.5,0a0.7,0.7 0 1,0 -1.5,0M31.4,237.7a0.8,0.8 0 1,0 1.6,0a0.8,0.8 0 1,0 -1.6,0M62.8,263.8a0.6,0.6 0 1,0 1.2,0a0.6,0.6 0 1,0 -1.2,0M41.6,249.2a0.4,0.4 0 1,0 0.9,0a0.4,0.4 0 1,0 -0.9,0M26.5,248.1a0.7,0.7 0 1,0 1.3,0a0.7,0.7 0 1,0 -1.3,0M50.1,244.3a0.9,0.9 0 1,0 1.9,0a0.9,0.9 0 1,0 -1.9,0M32.7,249.0a0.3,0.3 0 1,0 0.7,0a0.3,0.3 0 1,0 -0.7,0M45.3,264.4a0.7,0.7 0 1,0 1.4,0a0.7,0.7 0 1,0 -1.4,0M52.8,247.3a1.0,1.0 0 1,0 2.0,0a1.0,1.0 0 1,0 -2.0,0M52.0,262.6a0.5,0.5 0 1,0 1.0,0a0.5,0.5 0 1,0 -1.0,0M46.4,259.0a0.9,0.9 0 1,0 1.8,0a0.9,0.9 0 1,0 -1.8,0M59.9,246.8a0.6,0.6 0 1,0 1.1,0a0.6,0.6 0 1,0 -1.1,0M53.6,250.3a0.4,0.4 0 1,0 0.8,0a0.4,0.4 0 1,0 -0.8,0M63.3,253.4a1.0,1.0 0 1,0 1.9,0a1.0,1.0 0 1,0 -1.9,0M37.4,245.4a1.0,1.0 0 1,0 2.0,0a1.0,1.0 0 1,0 -2.0,0M30.2,249.6a0.6,0.6 0 1,0 1.2,0a0.6,0.6 0 1,0 -1.2,0M33.9,254.5a0.7,0.7 0 1,0 1.3,0a0.7,0.7 0 1,0 -1.3,0M53.3,248.4a0.5,0.5 0 1,0 1.0,0a0.5,0.5 0 1,0 -1.0,0M52.9,272.9a0.4,0.4 0 1,0 0.8,0a0.4,0.4 0 1,0 -0.8,0M43.9,236.2a0.8,0.8 0 1,0 1.6,0a0.8,0.8 0 1,0 -1.6,0M43.8,261.0a0.9,0.9 0 1,0 1.8,0a0.9,0.9 0 1,0 -1.8,0M34.1,260.3a0.8,0.8 0 1,0 1.7,0a0.8,0.8 0 1,0 -1.7,0M30.1,240.4a0.3,0.3 0 1,0 0.7,0a0.3,0.3 0 1,0 -0.7,0M38.9,240.3a0.6,0.6 0 1,0 1.3,0a0.6,0.6 0 1,0 -1.3,0M50.4,241.3a0.9,0.9 0 1,0 1.8,0a0.9,0.9 0 1,0 -1.8,0M62.2,241.0a0.8,0.8 0 1,0 1.6,0a0.8,0.8 0 1,0 -1.6,0M31.6,260.0a1.0,1.0 0 1,0 2.0,0a1.0,1.0 0 1,0 -2.0,0M34.9,244.0a0.6,0.6 0 1,0 1.2,0a0.6,0.6 0 1,0 -1.2,0M39.5,267.7a0.9,0.9 0 1,0 1.7,0a0.9,0.9 0 1,0 -1.7,0M48.2,252.2a0.3,0.3 0 1,0 0.7,0a0.3,0.3 0 1,0 -0.7,0M40.9,244.8a0.5,0.5 0 1,0 1.0,0a0.5,0.5 0 1,0 -1.0,0M44.8,251.2a0.8,0.8 0 1,0 1.6,0a0.8,0.8 0 1,0 -1.6,0M54.4,234.4a0.5,0.5 0 1,0 1.0,0a0.5,0.5 0 1,0 -1.0,0M58.6,240.1a0.9,0.9 0 1,0 1.9,0a0.9,0.9 0 1,0 -1.9,0M26.0,259.5a1.0,1.0 0 1,0 1.9,0a1.0,1.0 0 1,0 -1.9,0M32.5,257.9a0.6,0.6 0 1,0 1.3,0a0.6,0.6 0 1,0 -1.3,0M45.0,250.0a0.9,0.9 0 1,0 1.7,0a0.9,0.9 0 1,0 -1.7,0M63.6,252.2a0.8,0.8 0 1,0 1.6,0a0.8,0.8 0 1,0 -1.6,0M34.8,237.2a0.3,0.3 0 1,0 0.6,0a0.3,0.3 0 1,0 -0.6,0M28.9,252.2a0.7,0.7 0 1,0 1.3,0a0.7,0.7 0 1,0 -1.3,0M60.1,261.6a0.7,0.7 0 1,0 1.4,0a0.7,0.7 0 1,0 -1.4,0M46.9,250.1a0.9,0.9 0 1,0 1.9,0a0.9,0.9 0 1,0 -1.9,0M40.1,265.0a0.6,0.6 0 1,0 1.1,0a0.6,0.6 0 1,0 -1.1,0M37.4,243.2a0.9,0.9 0 1,0 1.9,0a0.9,0.9 0 1,0 -1.9,0M66.9,253.1a0.8,0.8 0 1,0 1.7,0a0.8,0.8 0 1,0 -1.7,0M39.7,257.5a0.7,0.7 0 1,0 1.4,0a0.7,0.7 0 1,0 -1.4,0M48.1,259.8a0.8,0.8 0 1,0 1.6,0a0.8,0.8 0 1,0 -1.6,0M38.4,234.8a0.4,0.4 0 1,0 0.8,0a0.4,0.4 0 1,0 -0.8,0M56.5,257.0a0.4,0.4 0 1,0 0.7,0a0.4,0.4 0 1,0 -0.7,0M35.7,262.3a0.9,0.9 0 1,0 1.8,0a0.9,0.9 0 1,0 -1.8,0M59.1,260.5a0.4,0.4 0 1,0 0.8,0a0.4,0.4 0 1,0 -0.8,0M46.3,274.0a0.7,0.7 0 1,0 1.4,0a0.7,0.7 0 1,0 -1.4,0M48.0,242.4a1.0,1.0 0 1,0 2.0,0a1.0,1.0 0 1,0 -2.0,0M40.3,247.0a1.0,1.0 0 1,0 2.0,0a1.0,1.0 0 1,0 -2.0,0M33.2,250.0a0.4,0.4 0 1,0 0.7,0a0.4,0.4 0 1,0 -0.7,0M46.4,243.9a0.7,0.7 0 1,0 1.4,0a0.7,0.7 0 1,0 -1.4,0M35.5,240.3a0.8,0.8 0 1,0 1.5,0a0.8,0.8 0 1,0 -1.5,0M47.8,266.0a0.4,0.4 0 1,0 0.8,0a0.4,0.4 0 1,0 -0.8,0M60.9,266.3a0.9,0.9 0 1,0 1.8,0a0.9,0.9 0 1,0 -1.8,0M51.5,257.3a0.6,0.6 0 1,0 1.3,0a0.6,0.6 0 1,0 -1.3,0M32.5,251.3a0.4,0.4 0 1,0 0.9,0a0.4,0.4 0 1,0 -0.9,0M43.1,269.2a0.6,0.6 0 1,0 1.1,0a0.6,0.6 0 1,0 -1.1,0M48.7,265.9a1.0,1.0 0 1,0 2.0,0a1.0,1.0 0 1,0 -2.0,0M66.0,259.5a0.5,0.5 0 1,0 0.9,0a0.5,0.5 0 1,0 -0.9,0M40.1,260.1a0.9,0.9 0 1,0 1.8,0a0.9,0.9 0 1,0 -1.8,0M46.5,268.8a0.6,0.6 0 1,0 1.2,0a0.6,0.6 0 1,0 -1.2,0M32.7,254.3a0.5,0.5 0 1,0 0.9,0a0.5,0.5 0 1,0 -0.9,0M59.0,255.2a0.5,0.5 0 1,0 1.0,0a0.5,0.5 0 1,0 -1.0,0M47.3,273.5a0.5,0.5 0 1,0 1.0,0a0.5,0.5 0 1,0 -1.0,0M39.0,270.7a0.4,0.4 0 1,0 0.9,0a0.4,0.4 0 1,0 -0.9,0M27.1,243.1a0.4,0.4 0 1,0 0.7,0a0.4,0.4 0 1,0 -0.7,0M45.1,244.1a0.4,0.4 0 1,0 0.8,0a0.4,0.4 0 1,0 -0.8,0M28.0,256.5a0.8,0.8 0 1,0 1.5,0a0.8,0.8 0 1,0 -1.5,0M45.6,251.8a0.7,0.7 0 1,0 1.5,0a0.7,0.7 0 1,0 -1.5,0M58.3,236.7a0.6,0.6 0 1,0 1.2,0a0.6,0.6 0 1,0 -1.2,0M32.6,266.7a0.8,0.8 0 1,0 1.5,0a0.8,0.8 0 1,0 -1.5,0" fill="#7030aa" fill-opacity="0.9"/></g><circle cx="46.20" cy="253.10" r="21.30" fill="none" stroke="#cfcdd0" stroke-width="0.6"/><clipPath id="pb1"><circle cx="93.60" cy="253.10" r="21.60"/></clipPath><circle cx="93.60" cy="253.10" r="21.60" fill="#f0eff2"/><g clip-path="url(#pb1)"><path d="M94.2,260.6a0.9,0.9 0 1,0 1.8,0a0.9,0.9 0 1,0 -1.8,0M107.0,255.7a0.5,0.5 0 1,0 1.1,0a0.5,0.5 0 1,0 -1.1,0M106.6,240.1a0.9,0.9 0 1,0 1.9,0a0.9,0.9 0 1,0 -1.9,0M88.8,261.6a1.0,1.0 0 1,0 2.0,0a1.0,1.0 0 1,0 -2.0,0M86.6,241.9a0.4,0.4 0 1,0 0.9,0a0.4,0.4 0 1,0 -0.9,0M98.0,255.7a0.7,0.7 0 1,0 1.5,0a0.7,0.7 0 1,0 -1.5,0M83.2,242.4a0.8,0.8 0 1,0 1.5,0a0.8,0.8 0 1,0 -1.5,0M78.1,256.7a0.7,0.7 0 1,0 1.3,0a0.7,0.7 0 1,0 -1.3,0M101.2,268.1a0.6,0.6 0 1,0 1.2,0a0.6,0.6 0 1,0 -1.2,0M76.1,253.0a0.7,0.7 0 1,0 1.5,0a0.7,0.7 0 1,0 -1.5,0M87.6,260.5a0.9,0.9 0 1,0 1.8,0a0.9,0.9 0 1,0 -1.8,0M95.6,268.1a0.5,0.5 0 1,0 0.9,0a0.5,0.5 0 1,0 -0.9,0M98.1,260.6a0.6,0.6 0 1,0 1.3,0a0.6,0.6 0 1,0 -1.3,0M74.0,251.5a0.6,0.6 0 1,0 1.3,0a0.6,0.6 0 1,0 -1.3,0M97.5,240.4a0.5,0.5 0 1,0 1.0,0a0.5,0.5 0 1,0 -1.0,0M82.9,267.1a0.5,0.5 0 1,0 0.9,0a0.5,0.5 0 1,0 -0.9,0M87.0,234.3a0.9,0.9 0 1,0 1.7,0a0.9,0.9 0 1,0 -1.7,0M103.7,242.1a0.9,0.9 0 1,0 1.8,0a0.9,0.9 0 1,0 -1.8,0M77.1,259.0a0.6,0.6 0 1,0 1.3,0a0.6,0.6 0 1,0 -1.3,0M76.3,265.6a0.6,0.6 0 1,0 1.2,0a0.6,0.6 0 1,0 -1.2,0M85.9,258.0a0.5,0.5 0 1,0 1.0,0a0.5,0.5 0 1,0 -1.0,0M97.3,242.5a1.0,1.0 0 1,0 1.9,0a1.0,1.0 0 1,0 -1.9,0M83.2,265.4a0.5,0.5 0 1,0 1.0,0a0.5,0.5 0 1,0 -1.0,0M77.3,248.9a0.9,0.9 0 1,0 1.8,0a0.9,0.9 0 1,0 -1.8,0M91.5,245.0a0.9,0.9 0 1,0 1.8,0a0.9,0.9 0 1,0 -1.8,0M97.6,233.9a0.9,0.9 0 1,0 1.9,0a0.9,0.9 0 1,0 -1.9,0M113.3,251.7a0.8,0.8 0 1,0 1.7,0a0.8,0.8 0 1,0 -1.7,0M90.0,261.1a0.5,0.5 0 1,0 1.1,0a0.5,0.5 0 1,0 -1.1,0M108.3,265.5a0.8,0.8 0 1,0 1.7,0a0.8,0.8 0 1,0 -1.7,0M71.6,255.9a1.0,1.0 0 1,0 2.0,0a1.0,1.0 0 1,0 -2.0,0M80.7,250.6a0.4,0.4 0 1,0 0.7,0a0.4,0.4 0 1,0 -0.7,0M111.6,257.7a0.9,0.9 0 1,0 1.9,0a0.9,0.9 0 1,0 -1.9,0M99.0,258.9a0.3,0.3 0 1,0 0.7,0a0.3,0.3 0 1,0 -0.7,0M105.2,257.4a0.6,0.6 0 1,0 1.2,0a0.6,0.6 0 1,0 -1.2,0M107.3,241.9a0.5,0.5 0 1,0 0.9,0a0.5,0.5 0 1,0 -0.9,0M105.4,265.8a0.7,0.7 0 1,0 1.4,0a0.7,0.7 0 1,0 -1.4,0M104.6,239.4a0.6,0.6 0 1,0 1.1,0a0.6,0.6 0 1,0 -1.1,0M91.3,234.9a0.6,0.6 0 1,0 1.1,0a0.6,0.6 0 1,0 -1.1,0M87.3,269.5a0.9,0.9 0 1,0 1.8,0a0.9,0.9 0 1,0 -1.8,0M85.6,266.2a0.9,0.9 0 1,0 1.7,0a0.9,0.9 0 1,0 -1.7,0M97.1,270.3a0.7,0.7 0 1,0 1.3,0a0.7,0.7 0 1,0 -1.3,0M92.6,235.4a0.7,0.7 0 1,0 1.5,0a0.7,0.7 0 1,0 -1.5,0M94.4,242.3a0.5,0.5 0 1,0 0.9,0a0.5,0.5 0 1,0 -0.9,0M92.6,250.3a0.7,0.7 0 1,0 1.4,0a0.7,0.7 0 1,0 -1.4,0M87.8,255.4a0.7,0.7 0 1,0 1.3,0a0.7,0.7 0 1,0 -1.3,0M107.4,247.4a0.4,0.4 0 1,0 0.8,0a0.4,0.4 0 1,0 -0.8,0M86.5,236.6a0.7,0.7 0 1,0 1.4,0a0.7,0.7 0 1,0 -1.4,0M87.6,242.5a0.9,0.9 0 1,0 1.8,0a0.9,0.9 0 1,0 -1.8,0M108.6,254.9a0.6,0.6 0 1,0 1.2,0a0.6,0.6 0 1,0 -1.2,0M104.9,236.9a0.5,0.5 0 1,0 1.0,0a0.5,0.5 0 1,0 -1.0,0M110.2,250.5a0.3,0.3 0 1,0 0.7,0a0.3,0.3 0 1,0 -0.7,0M74.0,246.5a0.8,0.8 0 1,0 1.7,0a0.8,0.8 0 1,0 -1.7,0M90.7,267.0a0.6,0.6 0 1,0 1.2,0a0.6,0.6 0 1,0 -1.2,0M78.2,246.7a1.0,1.0 0 1,0 1.9,0a1.0,1.0 0 1,0 -1.9,0M104.9,265.9a0.6,0.6 0 1,0 1.1,0a0.6,0.6 0 1,0 -1.1,0M87.4,252.0a0.6,0.6 0 1,0 1.3,0a0.6,0.6 0 1,0 -1.3,0M89.3,243.1a0.5,0.5 0 1,0 1.0,0a0.5,0.5 0 1,0 -1.0,0M76.8,253.1a0.8,0.8 0 1,0 1.7,0a0.8,0.8 0 1,0 -1.7,0M107.7,242.1a0.5,0.5 0 1,0 1.0,0a0.5,0.5 0 1,0 -1.0,0M83.3,264.7a0.4,0.4 0 1,0 0.8,0a0.4,0.4 0 1,0 -0.8,0M100.3,253.2a0.6,0.6 0 1,0 1.2,0a0.6,0.6 0 1,0 -1.2,0M108.1,256.7a0.5,0.5 0 1,0 1.1,0a0.5,0.5 0 1,0 -1.1,0M79.1,248.6a0.7,0.7 0 1,0 1.4,0a0.7,0.7 0 1,0 -1.4,0M104.0,238.2a0.5,0.5 0 1,0 1.0,0a0.5,0.5 0 1,0 -1.0,0M75.4,248.6a0.8,0.8 0 1,0 1.5,0a0.8,0.8 0 1,0 -1.5,0M80.5,237.0a0.7,0.7 0 1,0 1.3,0a0.7,0.7 0 1,0 -1.3,0M81.5,267.1a0.9,0.9 0 1,0 1.8,0a0.9,0.9 0 1,0 -1.8,0M104.8,243.7a0.4,0.4 0 1,0 0.7,0a0.4,0.4 0 1,0 -0.7,0M84.7,264.5a0.5,0.5 0 1,0 1.1,0a0.5,0.5 0 1,0 -1.1,0M92.9,245.9a0.5,0.5 0 1,0 1.0,0a0.5,0.5 0 1,0 -1.0,0M85.8,247.6a0.4,0.4 0 1,0 0.8,0a0.4,0.4 0 1,0 -0.8,0M99.3,237.8a0.4,0.4 0 1,0 0.7,0a0.4,0.4 0 1,0 -0.7,0M94.3,264.8a0.6,0.6 0 1,0 1.3,0a0.6,0.6 0 1,0 -1.3,0M104.7,246.5a0.9,0.9 0 1,0 1.9,0a0.9,0.9 0 1,0 -1.9,0M96.1,239.4a0.5,0.5 0 1,0 1.1,0a0.5,0.5 0 1,0 -1.1,0M77.0,240.4a0.7,0.7 0 1,0 1.3,0a0.7,0.7 0 1,0 -1.3,0M95.8,256.4a0.7,0.7 0 1,0 1.4,0a0.7,0.7 0 1,0 -1.4,0M94.8,253.8a0.4,0.4 0 1,0 0.8,0a0.4,0.4 0 1,0 -0.8,0M80.2,238.8a0.6,0.6 0 1,0 1.3,0a0.6,0.6 0 1,0 -1.3,0M98.1,239.1a0.4,0.4 0 1,0 0.9,0a0.4,0.4 0 1,0 -0.9,0M74.8,264.5a0.8,0.8 0 1,0 1.7,0a0.8,0.8 0 1,0 -1.7,0M73.4,248.8a0.6,0.6 0 1,0 1.2,0a0.6,0.6 0 1,0 -1.2,0M100.3,260.6a0.8,0.8 0 1,0 1.7,0a0.8,0.8 0 1,0 -1.7,0M90.7,255.2a0.5,0.5 0 1,0 1.1,0a0.5,0.5 0 1,0 -1.1,0M90.9,239.3a0.8,0.8 0 1,0 1.6,0a0.8,0.8 0 1,0 -1.6,0M110.8,257.6a0.4,0.4 0 1,0 0.9,0a0.4,0.4 0 1,0 -0.9,0M85.4,269.9a0.6,0.6 0 1,0 1.2,0a0.6,0.6 0 1,0 -1.2,0M80.4,239.8a0.7,0.7 0 1,0 1.3,0a0.7,0.7 0 1,0 -1.3,0M91.6,270.9a0.8,0.8 0 1,0 1.7,0a0.8,0.8 0 1,0 -1.7,0M89.7,267.4a0.9,0.9 0 1,0 1.9,0a0.9,0.9 0 1,0 -1.9,0M105.6,241.9a0.7,0.7 0 1,0 1.3,0a0.7,0.7 0 1,0 -1.3,0M75.5,258.3a0.4,0.4 0 1,0 0.7,0a0.4,0.4 0 1,0 -0.7,0M103.8,236.7a0.6,0.6 0 1,0 1.3,0a0.6,0.6 0 1,0 -1.3,0M98.2,243.4a0.5,0.5 0 1,0 1.0,0a0.5,0.5 0 1,0 -1.0,0M90.3,274.5a0.8,0.8 0 1,0 1.7,0a0.8,0.8 0 1,0 -1.7,0M83.4,250.1a0.4,0.4 0 1,0 0.9,0a0.4,0.4 0 1,0 -0.9,0M88.2,251.4a0.6,0.6 0 1,0 1.1,0a0.6,0.6 0 1,0 -1.1,0M101.5,238.4a0.9,0.9 0 1,0 1.7,0a0.9,0.9 0 1,0 -1.7,0M97.5,237.0a0.3,0.3 0 1,0 0.7,0a0.3,0.3 0 1,0 -0.7,0M88.9,266.6a0.7,0.7 0 1,0 1.4,0a0.7,0.7 0 1,0 -1.4,0M86.2,255.3a0.5,0.5 0 1,0 1.0,0a0.5,0.5 0 1,0 -1.0,0M100.1,271.5a0.4,0.4 0 1,0 0.7,0a0.4,0.4 0 1,0 -0.7,0M96.4,256.4a0.4,0.4 0 1,0 0.9,0a0.4,0.4 0 1,0 -0.9,0M98.8,243.6a0.3,0.3 0 1,0 0.6,0a0.3,0.3 0 1,0 -0.6,0M97.9,264.6a0.7,0.7 0 1,0 1.5,0a0.7,0.7 0 1,0 -1.5,0M99.3,254.4a0.5,0.5 0 1,0 1.0,0a0.5,0.5 0 1,0 -1.0,0M77.0,264.4a0.9,0.9 0 1,0 1.9,0a0.9,0.9 0 1,0 -1.9,0M101.6,268.5a0.9,0.9 0 1,0 1.8,0a0.9,0.9 0 1,0 -1.8,0M95.8,238.5a0.7,0.7 0 1,0 1.5,0a0.7,0.7 0 1,0 -1.5,0M102.5,246.6a0.5,0.5 0 1,0 1.1,0a0.5,0.5 0 1,0 -1.1,0M73.2,248.0a0.4,0.4 0 1,0 0.7,0a0.4,0.4 0 1,0 -0.7,0M80.5,260.5a0.5,0.5 0 1,0 0.9,0a0.5,0.5 0 1,0 -0.9,0M102.4,236.5a0.4,0.4 0 1,0 0.8,0a0.4,0.4 0 1,0 -0.8,0M97.9,257.5a1.0,1.0 0 1,0 1.9,0a1.0,1.0 0 1,0 -1.9,0M104.6,239.8a0.6,0.6 0 1,0 1.2,0a0.6,0.6 0 1,0 -1.2,0M93.2,235.5a0.9,0.9 0 1,0 1.8,0a0.9,0.9 0 1,0 -1.8,0M83.1,259.6a0.8,0.8 0 1,0 1.6,0a0.8,0.8 0 1,0 -1.6,0M100.8,237.7a0.5,0.5 0 1,0 0.9,0a0.5,0.5 0 1,0 -0.9,0M85.0,251.0a0.7,0.7 0 1,0 1.4,0a0.7,0.7 0 1,0 -1.4,0M93.9,247.2a0.8,0.8 0 1,0 1.6,0a0.8,0.8 0 1,0 -1.6,0M81.6,258.8a1.0,1.0 0 1,0 1.9,0a1.0,1.0 0 1,0 -1.9,0M99.4,257.5a0.4,0.4 0 1,0 0.9,0a0.4,0.4 0 1,0 -0.9,0M92.7,234.9a1.0,1.0 0 1,0 1.9,0a1.0,1.0 0 1,0 -1.9,0" fill="#8a48bc" fill-opacity="0.75"/><path d="M84.3,256.7a0.5,0.5 0 1,0 1.1,0a0.5,0.5 0 1,0 -1.1,0M78.9,266.3a0.4,0.4 0 1,0 0.8,0a0.4,0.4 0 1,0 -0.8,0M91.8,234.4a1.0,1.0 0 1,0 2.0,0a1.0,1.0 0 1,0 -2.0,0M102.3,241.1a0.8,0.8 0 1,0 1.6,0a0.8,0.8 0 1,0 -1.6,0M89.1,232.2a0.7,0.7 0 1,0 1.4,0a0.7,0.7 0 1,0 -1.4,0M99.1,238.4a0.9,0.9 0 1,0 1.8,0a0.9,0.9 0 1,0 -1.8,0M100.4,252.8a0.7,0.7 0 1,0 1.5,0a0.7,0.7 0 1,0 -1.5,0M98.1,248.3a0.9,0.9 0 1,0 1.7,0a0.9,0.9 0 1,0 -1.7,0M90.2,272.2a0.8,0.8 0 1,0 1.6,0a0.8,0.8 0 1,0 -1.6,0M103.7,253.1a0.7,0.7 0 1,0 1.5,0a0.7,0.7 0 1,0 -1.5,0M79.6,236.7a1.0,1.0 0 1,0 2.0,0a1.0,1.0 0 1,0 -2.0,0M105.3,264.1a0.4,0.4 0 1,0 0.8,0a0.4,0.4 0 1,0 -0.8,0M97.4,248.1a0.6,0.6 0 1,0 1.1,0a0.6,0.6 0 1,0 -1.1,0M101.3,270.4a0.6,0.6 0 1,0 1.1,0a0.6,0.6 0 1,0 -1.1,0M101.2,256.0a0.6,0.6 0 1,0 1.2,0a0.6,0.6 0 1,0 -1.2,0M94.9,248.6a0.4,0.4 0 1,0 0.8,0a0.4,0.4 0 1,0 -0.8,0M97.3,271.5a0.6,0.6 0 1,0 1.3,0a0.6,0.6 0 1,0 -1.3,0M89.9,256.0a0.4,0.4 0 1,0 0.9,0a0.4,0.4 0 1,0 -0.9,0M94.7,233.3a0.7,0.7 0 1,0 1.4,0a0.7,0.7 0 1,0 -1.4,0M80.7,246.7a0.3,0.3 0 1,0 0.6,0a0.3,0.3 0 1,0 -0.6,0M105.8,251.1a0.5,0.5 0 1,0 1.0,0a0.5,0.5 0 1,0 -1.0,0M113.2,244.9a0.4,0.4 0 1,0 0.8,0a0.4,0.4 0 1,0 -0.8,0M103.6,266.8a0.9,0.9 0 1,0 1.8,0a0.9,0.9 0 1,0 -1.8,0M100.1,242.5a0.4,0.4 0 1,0 0.9,0a0.4,0.4 0 1,0 -0.9,0M106.0,247.4a0.7,0.7 0 1,0 1.4,0a0.7,0.7 0 1,0 -1.4,0M78.7,256.5a0.8,0.8 0 1,0 1.5,0a0.8,0.8 0 1,0 -1.5,0M101.1,244.0a0.4,0.4 0 1,0 0.9,0a0.4,0.4 0 1,0 -0.9,0M108.0,256.7a0.6,0.6 0 1,0 1.3,0a0.6,0.6 0 1,0 -1.3,0M106.8,241.7a0.9,0.9 0 1,0 1.8,0a0.9,0.9 0 1,0 -1.8,0M81.3,247.8a0.3,0.3 0 1,0 0.6,0a0.3,0.3 0 1,0 -0.6,0M89.9,235.1a0.9,0.9 0 1,0 1.7,0a0.9,0.9 0 1,0 -1.7,0M101.0,253.8a0.5,0.5 0 1,0 1.1,0a0.5,0.5 0 1,0 -1.1,0M89.4,262.7a0.9,0.9 0 1,0 1.9,0a0.9,0.9 0 1,0 -1.9,0M80.9,240.6a0.7,0.7 0 1,0 1.3,0a0.7,0.7 0 1,0 -1.3,0M81.5,258.9a0.5,0.5 0 1,0 1.0,0a0.5,0.5 0 1,0 -1.0,0M103.4,248.3a1.0,1.0 0 1,0 2.0,0a1.0,1.0 0 1,0 -2.0,0M105.3,245.9a0.5,0.5 0 1,0 1.0,0a0.5,0.5 0 1,0 -1.0,0M103.4,263.3a0.4,0.4 0 1,0 0.7,0a0.4,0.4 0 1,0 -0.7,0M98.4,246.2a0.9,0.9 0 1,0 1.9,0a0.9,0.9 0 1,0 -1.9,0M109.7,242.8a0.6,0.6 0 1,0 1.2,0a0.6,0.6 0 1,0 -1.2,0M97.0,272.7a0.5,0.5 0 1,0 1.0,0a0.5,0.5 0 1,0 -1.0,0M90.3,246.0a1.0,1.0 0 1,0 2.0,0a1.0,1.0 0 1,0 -2.0,0M101.1,254.9a0.7,0.7 0 1,0 1.4,0a0.7,0.7 0 1,0 -1.4,0M82.5,262.6a0.4,0.4 0 1,0 0.7,0a0.4,0.4 0 1,0 -0.7,0M98.0,247.7a0.8,0.8 0 1,0 1.7,0a0.8,0.8 0 1,0 -1.7,0M98.2,244.7a0.8,0.8 0 1,0 1.7,0a0.8,0.8 0 1,0 -1.7,0M97.9,254.3a0.9,0.9 0 1,0 1.9,0a0.9,0.9 0 1,0 -1.9,0M90.2,239.3a0.3,0.3 0 1,0 0.7,0a0.3,0.3 0 1,0 -0.7,0M89.9,260.7a0.9,0.9 0 1,0 1.8,0a0.9,0.9 0 1,0 -1.8,0M110.6,243.3a0.6,0.6 0 1,0 1.3,0a0.6,0.6 0 1,0 -1.3,0M87.0,265.9a0.6,0.6 0 1,0 1.1,0a0.6,0.6 0 1,0 -1.1,0M77.1,260.0a0.7,0.7 0 1,0 1.4,0a0.7,0.7 0 1,0 -1.4,0M73.8,256.0a0.7,0.7 0 1,0 1.4,0a0.7,0.7 0 1,0 -1.4,0M97.6,242.8a0.4,0.4 0 1,0 0.8,0a0.4,0.4 0 1,0 -0.8,0M98.5,259.4a0.6,0.6 0 1,0 1.2,0a0.6,0.6 0 1,0 -1.2,0M101.1,237.9a0.8,0.8 0 1,0 1.5,0a0.8,0.8 0 1,0 -1.5,0M111.6,259.0a0.5,0.5 0 1,0 1.1,0a0.5,0.5 0 1,0 -1.1,0M103.7,255.0a0.4,0.4 0 1,0 0.8,0a0.4,0.4 0 1,0 -0.8,0M71.7,249.6a1.0,1.0 0 1,0 2.0,0a1.0,1.0 0 1,0 -2.0,0M74.1,244.1a0.4,0.4 0 1,0 0.9,0a0.4,0.4 0 1,0 -0.9,0M76.1,245.7a1.0,1.0 0 1,0 1.9,0a1.0,1.0 0 1,0 -1.9,0M113.5,251.9a0.6,0.6 0 1,0 1.2,0a0.6,0.6 0 1,0 -1.2,0M88.8,271.3a1.0,1.0 0 1,0 1.9,0a1.0,1.0 0 1,0 -1.9,0M98.0,257.1a1.0,1.0 0 1,0 1.9,0a1.0,1.0 0 1,0 -1.9,0M96.4,256.0a0.4,0.4 0 1,0 0.9,0a0.4,0.4 0 1,0 -0.9,0M101.5,263.2a0.8,0.8 0 1,0 1.7,0a0.8,0.8 0 1,0 -1.7,0M80.6,255.2a0.4,0.4 0 1,0 0.9,0a0.4,0.4 0 1,0 -0.9,0M98.1,247.1a0.5,0.5 0 1,0 1.1,0a0.5,0.5 0 1,0 -1.1,0M98.3,247.2a0.6,0.6 0 1,0 1.1,0a0.6,0.6 0 1,0 -1.1,0M87.0,268.5a0.6,0.6 0 1,0 1.1,0a0.6,0.6 0 1,0 -1.1,0M110.4,247.1a0.8,0.8 0 1,0 1.6,0a0.8,0.8 0 1,0 -1.6,0M107.1,236.6a0.3,0.3 0 1,0 0.6,0a0.3,0.3 0 1,0 -0.6,0M80.1,239.8a0.9,0.9 0 1,0 1.9,0a0.9,0.9 0 1,0 -1.9,0M88.2,273.0a0.3,0.3 0 1,0 0.6,0a0.3,0.3 0 1,0 -0.6,0M101.7,260.7a1.0,1.0 0 1,0 2.0,0a1.0,1.0 0 1,0 -2.0,0M102.0,271.7a0.4,0.4 0 1,0 0.8,0a0.4,0.4 0 1,0 -0.8,0M102.2,247.1a0.4,0.4 0 1,0 0.8,0a0.4,0.4 0 1,0 -0.8,0M109.1,248.8a0.8,0.8 0 1,0 1.5,0a0.8,0.8 0 1,0 -1.5,0M99.3,242.1a0.7,0.7 0 1,0 1.4,0a0.7,0.7 0 1,0 -1.4,0M92.9,255.9a1.0,1.0 0 1,0 2.0,0a1.0,1.0 0 1,0 -2.0,0M79.7,258.5a0.4,0.4 0 1,0 0.9,0a0.4,0.4 0 1,0 -0.9,0M98.3,254.7a0.3,0.3 0 1,0 0.6,0a0.3,0.3 0 1,0 -0.6,0M101.6,237.9a0.5,0.5 0 1,0 1.1,0a0.5,0.5 0 1,0 -1.1,0M103.9,239.0a0.5,0.5 0 1,0 1.1,0a0.5,0.5 0 1,0 -1.1,0M79.3,248.9a0.3,0.3 0 1,0 0.7,0a0.3,0.3 0 1,0 -0.7,0M98.6,249.8a0.8,0.8 0 1,0 1.7,0a0.8,0.8 0 1,0 -1.7,0M91.5,237.4a0.8,0.8 0 1,0 1.6,0a0.8,0.8 0 1,0 -1.6,0M89.8,249.6a0.5,0.5 0 1,0 1.1,0a0.5,0.5 0 1,0 -1.1,0M103.2,268.1a1.0,1.0 0 1,0 1.9,0a1.0,1.0 0 1,0 -1.9,0M103.4,267.7a0.7,0.7 0 1,0 1.3,0a0.7,0.7 0 1,0 -1.3,0M110.1,261.1a1.0,1.0 0 1,0 1.9,0a1.0,1.0 0 1,0 -1.9,0M113.3,255.1a0.5,0.5 0 1,0 1.0,0a0.5,0.5 0 1,0 -1.0,0M73.6,261.8a0.6,0.6 0 1,0 1.3,0a0.6,0.6 0 1,0 -1.3,0M93.6,243.8a0.7,0.7 0 1,0 1.5,0a0.7,0.7 0 1,0 -1.5,0M98.3,270.7a0.3,0.3 0 1,0 0.6,0a0.3,0.3 0 1,0 -0.6,0M77.5,249.2a0.3,0.3 0 1,0 0.6,0a0.3,0.3 0 1,0 -0.6,0M99.1,260.2a0.8,0.8 0 1,0 1.6,0a0.8,0.8 0 1,0 -1.6,0M106.7,253.5a0.9,0.9 0 1,0 1.9,0a0.9,0.9 0 1,0 -1.9,0M95.9,253.9a0.4,0.4 0 1,0 0.9,0a0.4,0.4 0 1,0 -0.9,0M93.2,244.6a0.4,0.4 0 1,0 0.8,0a0.4,0.4 0 1,0 -0.8,0M108.7,245.5a0.7,0.7 0 1,0 1.4,0a0.7,0.7 0 1,0 -1.4,0M87.8,258.3a0.8,0.8 0 1,0 1.6,0a0.8,0.8 0 1,0 -1.6,0M108.8,249.3a1.0,1.0 0 1,0 2.0,0a1.0,1.0 0 1,0 -2.0,0M74.3,249.7a0.9,0.9 0 1,0 1.9,0a0.9,0.9 0 1,0 -1.9,0M108.2,238.5a0.4,0.4 0 1,0 0.7,0a0.4,0.4 0 1,0 -0.7,0M100.5,258.3a1.0,1.0 0 1,0 1.9,0a1.0,1.0 0 1,0 -1.9,0M78.1,256.3a0.4,0.4 0 1,0 0.9,0a0.4,0.4 0 1,0 -0.9,0M105.6,266.3a0.4,0.4 0 1,0 0.9,0a0.4,0.4 0 1,0 -0.9,0M103.4,251.1a0.4,0.4 0 1,0 0.9,0a0.4,0.4 0 1,0 -0.9,0M83.5,268.6a0.8,0.8 0 1,0 1.6,0a0.8,0.8 0 1,0 -1.6,0M86.9,244.3a0.7,0.7 0 1,0 1.5,0a0.7,0.7 0 1,0 -1.5,0M83.9,268.3a0.3,0.3 0 1,0 0.7,0a0.3,0.3 0 1,0 -0.7,0M76.9,252.3a0.8,0.8 0 1,0 1.7,0a0.8,0.8 0 1,0 -1.7,0M100.3,252.6a0.4,0.4 0 1,0 0.8,0a0.4,0.4 0 1,0 -0.8,0M72.6,257.9a0.7,0.7 0 1,0 1.3,0a0.7,0.7 0 1,0 -1.3,0M81.6,240.1a0.8,0.8 0 1,0 1.6,0a0.8,0.8 0 1,0 -1.6,0M92.0,241.2a0.9,0.9 0 1,0 1.9,0a0.9,0.9 0 1,0 -1.9,0M91.4,261.1a0.8,0.8 0 1,0 1.5,0a0.8,0.8 0 1,0 -1.5,0M75.9,258.6a0.4,0.4 0 1,0 0.7,0a0.4,0.4 0 1,0 -0.7,0M111.5,246.3a0.4,0.4 0 1,0 0.8,0a0.4,0.4 0 1,0 -0.8,0M82.8,246.6a0.5,0.5 0 1,0 1.0,0a0.5,0.5 0 1,0 -1.0,0M91.0,259.5a0.9,0.9 0 1,0 1.8,0a0.9,0.9 0 1,0 -1.8,0M108.2,237.9a0.4,0.4 0 1,0 0.9,0a0.4,0.4 0 1,0 -0.9,0M86.7,244.3a0.3,0.3 0 1,0 0.6,0a0.3,0.3 0 1,0 -0.6,0M95.9,239.5a0.9,0.9 0 1,0 1.7,0a0.9,0.9 0 1,0 -1.7,0M89.2,258.3a1.0,1.0 0 1,0 2.0,0a1.0,1.0 0 1,0 -2.0,0M87.4,237.2a0.9,0.9 0 1,0 1.8,0a0.9,0.9 0 1,0 -1.8,0" fill="#7030aa" fill-opacity="0.9"/></g><circle cx="93.60" cy="253.10" r="21.30" fill="none" stroke="#cfcdd0" stroke-width="0.6"/><clipPath id="pb2"><circle cx="141.50" cy="253.10" r="21.60"/></clipPath><circle cx="141.50" cy="253.10" r="21.60" fill="#e6e5f0"/><g clip-path="url(#pb2)"><path d="M155.0,244.6a0.7,0.7 0 1,0 1.4,0a0.7,0.7 0 1,0 -1.4,0M138.7,252.3a0.7,0.7 0 1,0 1.5,0a0.7,0.7 0 1,0 -1.5,0M160.3,257.7a1.3,1.3 0 1,0 2.6,0a1.3,1.3 0 1,0 -2.6,0M142.9,249.7a1.3,1.3 0 1,0 2.5,0a1.3,1.3 0 1,0 -2.5,0M125.3,259.6a1.0,1.0 0 1,0 1.9,0a1.0,1.0 0 1,0 -1.9,0M143.1,253.2a0.4,0.4 0 1,0 0.9,0a0.4,0.4 0 1,0 -0.9,0M124.3,254.3a0.4,0.4 0 1,0 0.8,0a0.4,0.4 0 1,0 -0.8,0M138.5,251.5a1.1,1.1 0 1,0 2.3,0a1.1,1.1 0 1,0 -2.3,0M137.8,236.9a0.9,0.9 0 1,0 1.8,0a0.9,0.9 0 1,0 -1.8,0M135.8,264.3a1.0,1.0 0 1,0 1.9,0a1.0,1.0 0 1,0 -1.9,0M151.5,249.9a0.8,0.8 0 1,0 1.7,0a0.8,0.8 0 1,0 -1.7,0M142.6,265.3a1.2,1.2 0 1,0 2.5,0a1.2,1.2 0 1,0 -2.5,0M144.9,258.0a1.1,1.1 0 1,0 2.2,0a1.1,1.1 0 1,0 -2.2,0M159.7,256.5a0.4,0.4 0 1,0 0.9,0a0.4,0.4 0 1,0 -0.9,0M154.2,251.4a0.8,0.8 0 1,0 1.7,0a0.8,0.8 0 1,0 -1.7,0M124.7,248.0a0.4,0.4 0 1,0 0.9,0a0.4,0.4 0 1,0 -0.9,0M146.6,233.9a0.7,0.7 0 1,0 1.5,0a0.7,0.7 0 1,0 -1.5,0M141.5,264.5a0.8,0.8 0 1,0 1.7,0a0.8,0.8 0 1,0 -1.7,0M145.0,271.7a0.7,0.7 0 1,0 1.4,0a0.7,0.7 0 1,0 -1.4,0M141.3,267.2a0.9,0.9 0 1,0 1.8,0a0.9,0.9 0 1,0 -1.8,0M128.2,237.2a0.9,0.9 0 1,0 1.8,0a0.9,0.9 0 1,0 -1.8,0M139.6,266.7a0.8,0.8 0 1,0 1.7,0a0.8,0.8 0 1,0 -1.7,0M121.4,252.6a0.9,0.9 0 1,0 1.8,0a0.9,0.9 0 1,0 -1.8,0M136.9,251.2a0.6,0.6 0 1,0 1.1,0a0.6,0.6 0 1,0 -1.1,0M130.4,270.2a1.0,1.0 0 1,0 1.9,0a1.0,1.0 0 1,0 -1.9,0M136.8,250.7a0.9,0.9 0 1,0 1.7,0a0.9,0.9 0 1,0 -1.7,0M127.9,245.3a1.0,1.0 0 1,0 2.1,0a1.0,1.0 0 1,0 -2.1,0M156.3,260.1a1.2,1.2 0 1,0 2.4,0a1.2,1.2 0 1,0 -2.4,0M141.3,234.0a0.9,0.9 0 1,0 1.9,0a0.9,0.9 0 1,0 -1.9,0M128.7,263.1a0.9,0.9 0 1,0 1.8,0a0.9,0.9 0 1,0 -1.8,0M131.6,247.9a1.3,1.3 0 1,0 2.6,0a1.3,1.3 0 1,0 -2.6,0M156.1,242.2a1.1,1.1 0 1,0 2.2,0a1.1,1.1 0 1,0 -2.2,0M153.5,246.2a0.7,0.7 0 1,0 1.4,0a0.7,0.7 0 1,0 -1.4,0M132.6,256.4a1.0,1.0 0 1,0 1.9,0a1.0,1.0 0 1,0 -1.9,0M152.3,242.1a0.4,0.4 0 1,0 0.7,0a0.4,0.4 0 1,0 -0.7,0M144.7,250.5a1.2,1.2 0 1,0 2.4,0a1.2,1.2 0 1,0 -2.4,0M149.7,234.7a0.8,0.8 0 1,0 1.5,0a0.8,0.8 0 1,0 -1.5,0M137.1,257.9a0.7,0.7 0 1,0 1.5,0a0.7,0.7 0 1,0 -1.5,0M153.9,246.4a0.4,0.4 0 1,0 0.8,0a0.4,0.4 0 1,0 -0.8,0M123.6,244.0a0.8,0.8 0 1,0 1.5,0a0.8,0.8 0 1,0 -1.5,0M152.9,241.2a0.5,0.5 0 1,0 0.9,0a0.5,0.5 0 1,0 -0.9,0M126.6,241.3a0.7,0.7 0 1,0 1.5,0a0.7,0.7 0 1,0 -1.5,0M132.8,266.6a0.6,0.6 0 1,0 1.2,0a0.6,0.6 0 1,0 -1.2,0M161.7,256.2a1.0,1.0 0 1,0 1.9,0a1.0,1.0 0 1,0 -1.9,0M148.6,241.6a1.1,1.1 0 1,0 2.3,0a1.1,1.1 0 1,0 -2.3,0M156.4,248.4a0.8,0.8 0 1,0 1.7,0a0.8,0.8 0 1,0 -1.7,0M155.2,264.5a1.0,1.0 0 1,0 2.1,0a1.0,1.0 0 1,0 -2.1,0M141.0,268.2a1.1,1.1 0 1,0 2.1,0a1.1,1.1 0 1,0 -2.1,0M122.6,262.4a1.3,1.3 0 1,0 2.7,0a1.3,1.3 0 1,0 -2.7,0M130.8,253.7a0.7,0.7 0 1,0 1.4,0a0.7,0.7 0 1,0 -1.4,0M136.3,250.0a0.3,0.3 0 1,0 0.6,0a0.3,0.3 0 1,0 -0.6,0M134.4,233.7a1.0,1.0 0 1,0 2.1,0a1.0,1.0 0 1,0 -2.1,0M149.2,269.5a0.7,0.7 0 1,0 1.5,0a0.7,0.7 0 1,0 -1.5,0M156.2,256.2a1.0,1.0 0 1,0 2.0,0a1.0,1.0 0 1,0 -2.0,0M142.1,234.2a0.8,0.8 0 1,0 1.7,0a0.8,0.8 0 1,0 -1.7,0M149.4,268.9a0.9,0.9 0 1,0 1.7,0a0.9,0.9 0 1,0 -1.7,0M145.7,239.2a0.8,0.8 0 1,0 1.5,0a0.8,0.8 0 1,0 -1.5,0M125.7,263.2a0.7,0.7 0 1,0 1.3,0a0.7,0.7 0 1,0 -1.3,0M133.1,262.1a0.7,0.7 0 1,0 1.4,0a0.7,0.7 0 1,0 -1.4,0M130.0,263.5a0.7,0.7 0 1,0 1.3,0a0.7,0.7 0 1,0 -1.3,0M136.5,260.8a0.9,0.9 0 1,0 1.8,0a0.9,0.9 0 1,0 -1.8,0" fill="#8a48bc" fill-opacity="0.7"/><path d="M136.2,237.4a1.0,1.0 0 1,0 2.1,0a1.0,1.0 0 1,0 -2.1,0M143.1,260.8a0.7,0.7 0 1,0 1.4,0a0.7,0.7 0 1,0 -1.4,0M138.7,274.0a1.2,1.2 0 1,0 2.3,0a1.2,1.2 0 1,0 -2.3,0M125.8,256.7a0.4,0.4 0 1,0 0.8,0a0.4,0.4 0 1,0 -0.8,0M144.9,267.1a1.2,1.2 0 1,0 2.4,0a1.2,1.2 0 1,0 -2.4,0M129.7,256.3a1.4,1.4 0 1,0 2.8,0a1.4,1.4 0 1,0 -2.8,0M148.6,267.3a0.5,0.5 0 1,0 1.0,0a0.5,0.5 0 1,0 -1.0,0M151.9,250.1a1.0,1.0 0 1,0 2.0,0a1.0,1.0 0 1,0 -2.0,0M131.8,250.1a0.9,0.9 0 1,0 1.8,0a0.9,0.9 0 1,0 -1.8,0M136.1,242.5a0.5,0.5 0 1,0 0.9,0a0.5,0.5 0 1,0 -0.9,0M137.2,241.6a0.8,0.8 0 1,0 1.7,0a0.8,0.8 0 1,0 -1.7,0M128.5,256.0a0.9,0.9 0 1,0 1.9,0a0.9,0.9 0 1,0 -1.9,0M132.1,238.2a1.0,1.0 0 1,0 2.0,0a1.0,1.0 0 1,0 -2.0,0M150.4,233.6a0.5,0.5 0 1,0 0.9,0a0.5,0.5 0 1,0 -0.9,0M127.9,259.5a1.3,1.3 0 1,0 2.7,0a1.3,1.3 0 1,0 -2.7,0M146.5,272.1a0.5,0.5 0 1,0 1.1,0a0.5,0.5 0 1,0 -1.1,0M146.4,242.1a0.9,0.9 0 1,0 1.8,0a0.9,0.9 0 1,0 -1.8,0M135.8,273.7a0.7,0.7 0 1,0 1.4,0a0.7,0.7 0 1,0 -1.4,0M154.0,239.9a1.1,1.1 0 1,0 2.3,0a1.1,1.1 0 1,0 -2.3,0M142.2,233.4a1.0,1.0 0 1,0 2.0,0a1.0,1.0 0 1,0 -2.0,0M136.3,236.4a0.9,0.9 0 1,0 1.8,0a0.9,0.9 0 1,0 -1.8,0M138.1,256.0a0.6,0.6 0 1,0 1.1,0a0.6,0.6 0 1,0 -1.1,0M155.5,241.4a1.3,1.3 0 1,0 2.6,0a1.3,1.3 0 1,0 -2.6,0M134.3,247.4a0.5,0.5 0 1,0 1.0,0a0.5,0.5 0 1,0 -1.0,0M150.5,240.6a0.7,0.7 0 1,0 1.3,0a0.7,0.7 0 1,0 -1.3,0M130.7,270.3a0.5,0.5 0 1,0 1.1,0a0.5,0.5 0 1,0 -1.1,0M142.3,242.4a1.3,1.3 0 1,0 2.5,0a1.3,1.3 0 1,0 -2.5,0M150.1,241.6a0.7,0.7 0 1,0 1.5,0a0.7,0.7 0 1,0 -1.5,0M143.2,269.1a0.6,0.6 0 1,0 1.1,0a0.6,0.6 0 1,0 -1.1,0M161.4,256.6a1.4,1.4 0 1,0 2.7,0a1.4,1.4 0 1,0 -2.7,0M155.4,253.9a1.1,1.1 0 1,0 2.2,0a1.1,1.1 0 1,0 -2.2,0M128.3,238.7a0.9,0.9 0 1,0 1.7,0a0.9,0.9 0 1,0 -1.7,0M120.6,250.5a0.6,0.6 0 1,0 1.3,0a0.6,0.6 0 1,0 -1.3,0M144.4,259.9a0.8,0.8 0 1,0 1.6,0a0.8,0.8 0 1,0 -1.6,0M153.9,242.3a0.7,0.7 0 1,0 1.3,0a0.7,0.7 0 1,0 -1.3,0M152.5,257.8a1.1,1.1 0 1,0 2.2,0a1.1,1.1 0 1,0 -2.2,0M124.0,264.1a0.8,0.8 0 1,0 1.7,0a0.8,0.8 0 1,0 -1.7,0M150.8,262.0a0.3,0.3 0 1,0 0.7,0a0.3,0.3 0 1,0 -0.7,0M130.6,240.2a0.5,0.5 0 1,0 0.9,0a0.5,0.5 0 1,0 -0.9,0M131.5,267.0a0.9,0.9 0 1,0 1.8,0a0.9,0.9 0 1,0 -1.8,0M145.8,261.9a0.3,0.3 0 1,0 0.6,0a0.3,0.3 0 1,0 -0.6,0M123.1,256.9a1.0,1.0 0 1,0 2.0,0a1.0,1.0 0 1,0 -2.0,0M153.7,256.3a0.6,0.6 0 1,0 1.2,0a0.6,0.6 0 1,0 -1.2,0M134.4,268.9a1.0,1.0 0 1,0 2.0,0a1.0,1.0 0 1,0 -2.0,0M143.6,236.4a1.3,1.3 0 1,0 2.6,0a1.3,1.3 0 1,0 -2.6,0M130.3,240.9a1.3,1.3 0 1,0 2.6,0a1.3,1.3 0 1,0 -2.6,0M136.5,265.4a1.0,1.0 0 1,0 2.0,0a1.0,1.0 0 1,0 -2.0,0M146.3,238.2a0.3,0.3 0 1,0 0.7,0a0.3,0.3 0 1,0 -0.7,0M128.5,251.0a0.7,0.7 0 1,0 1.4,0a0.7,0.7 0 1,0 -1.4,0" fill="#7030aa" fill-opacity="0.85"/></g><circle cx="141.50" cy="253.10" r="21.30" fill="none" stroke="#cfcdd0" stroke-width="0.6"/><clipPath id="pb3"><circle cx="188.40" cy="253.10" r="21.60"/></clipPath><circle cx="188.40" cy="253.10" r="21.60" fill="#eeecef"/><g clip-path="url(#pb3)"><path d="M197.0,233.7a0.7,0.7 0 1,0 1.3,0a0.7,0.7 0 1,0 -1.3,0M182.0,241.3a0.5,0.5 0 1,0 0.9,0a0.5,0.5 0 1,0 -0.9,0M205.7,247.7a0.7,0.7 0 1,0 1.3,0a0.7,0.7 0 1,0 -1.3,0M193.5,260.8a0.5,0.5 0 1,0 1.0,0a0.5,0.5 0 1,0 -1.0,0M185.2,268.4a0.3,0.3 0 1,0 0.5,0a0.3,0.3 0 1,0 -0.5,0M173.6,265.1a0.5,0.5 0 1,0 1.0,0a0.5,0.5 0 1,0 -1.0,0M170.5,256.4a0.7,0.7 0 1,0 1.3,0a0.7,0.7 0 1,0 -1.3,0M192.0,267.8a0.6,0.6 0 1,0 1.2,0a0.6,0.6 0 1,0 -1.2,0M174.4,246.2a0.4,0.4 0 1,0 0.9,0a0.4,0.4 0 1,0 -0.9,0M179.9,238.0a0.4,0.4 0 1,0 0.7,0a0.4,0.4 0 1,0 -0.7,0M174.1,246.1a0.3,0.3 0 1,0 0.6,0a0.3,0.3 0 1,0 -0.6,0M186.0,252.6a0.3,0.3 0 1,0 0.6,0a0.3,0.3 0 1,0 -0.6,0M193.0,268.5a0.5,0.5 0 1,0 1.1,0a0.5,0.5 0 1,0 -1.1,0M204.5,239.1a0.2,0.2 0 1,0 0.5,0a0.2,0.2 0 1,0 -0.5,0M202.2,263.9a0.3,0.3 0 1,0 0.6,0a0.3,0.3 0 1,0 -0.6,0M179.5,244.6a0.6,0.6 0 1,0 1.2,0a0.6,0.6 0 1,0 -1.2,0M189.8,240.9a0.2,0.2 0 1,0 0.4,0a0.2,0.2 0 1,0 -0.4,0M172.8,260.9a0.3,0.3 0 1,0 0.6,0a0.3,0.3 0 1,0 -0.6,0" fill="#9a60c0" fill-opacity="0.5"/><path d="M178.7,240.4a0.6,0.6 0 1,0 1.3,0a0.6,0.6 0 1,0 -1.3,0M176.1,265.0a0.4,0.4 0 1,0 0.8,0a0.4,0.4 0 1,0 -0.8,0M191.9,254.1a0.5,0.5 0 1,0 1.0,0a0.5,0.5 0 1,0 -1.0,0M204.6,246.8a0.3,0.3 0 1,0 0.5,0a0.3,0.3 0 1,0 -0.5,0M188.3,259.1a0.7,0.7 0 1,0 1.3,0a0.7,0.7 0 1,0 -1.3,0M180.5,239.3a0.5,0.5 0 1,0 1.1,0a0.5,0.5 0 1,0 -1.1,0M194.0,256.9a0.2,0.2 0 1,0 0.5,0a0.2,0.2 0 1,0 -0.5,0M204.2,241.6a0.6,0.6 0 1,0 1.2,0a0.6,0.6 0 1,0 -1.2,0M187.5,232.1a0.3,0.3 0 1,0 0.6,0a0.3,0.3 0 1,0 -0.6,0M188.7,257.4a0.3,0.3 0 1,0 0.7,0a0.3,0.3 0 1,0 -0.7,0M183.4,262.2a0.6,0.6 0 1,0 1.3,0a0.6,0.6 0 1,0 -1.3,0M186.4,249.2a0.6,0.6 0 1,0 1.2,0a0.6,0.6 0 1,0 -1.2,0M184.9,235.9a0.2,0.2 0 1,0 0.4,0a0.2,0.2 0 1,0 -0.4,0M201.1,263.0a0.7,0.7 0 1,0 1.3,0a0.7,0.7 0 1,0 -1.3,0M183.8,236.4a0.5,0.5 0 1,0 0.9,0a0.5,0.5 0 1,0 -0.9,0M175.7,266.4a0.6,0.6 0 1,0 1.2,0a0.6,0.6 0 1,0 -1.2,0M197.7,234.2a0.3,0.3 0 1,0 0.6,0a0.3,0.3 0 1,0 -0.6,0M176.8,269.4a0.7,0.7 0 1,0 1.4,0a0.7,0.7 0 1,0 -1.4,0M171.8,258.6a0.3,0.3 0 1,0 0.5,0a0.3,0.3 0 1,0 -0.5,0M180.8,241.2a0.6,0.6 0 1,0 1.2,0a0.6,0.6 0 1,0 -1.2,0M184.1,233.3a0.5,0.5 0 1,0 1.1,0a0.5,0.5 0 1,0 -1.1,0M191.0,261.7a0.4,0.4 0 1,0 0.7,0a0.4,0.4 0 1,0 -0.7,0" fill="#9a60c0" fill-opacity="0.8"/></g><circle cx="188.40" cy="253.10" r="21.30" fill="none" stroke="#cfcdd0" stroke-width="0.6"/><clipPath id="pb4"><circle cx="233.70" cy="253.10" r="21.60"/></clipPath><circle cx="233.70" cy="253.10" r="21.60" fill="#ede8ee"/><g clip-path="url(#pb4)"><path d="M253.4,246.1a0.5,0.5 0 1,0 0.9,0a0.5,0.5 0 1,0 -0.9,0M247.9,268.5a0.7,0.7 0 1,0 1.3,0a0.7,0.7 0 1,0 -1.3,0M236.2,260.0a0.8,0.8 0 1,0 1.5,0a0.8,0.8 0 1,0 -1.5,0M254.0,247.7a0.4,0.4 0 1,0 0.8,0a0.4,0.4 0 1,0 -0.8,0M250.8,259.5a0.7,0.7 0 1,0 1.3,0a0.7,0.7 0 1,0 -1.3,0M245.0,237.7a0.7,0.7 0 1,0 1.4,0a0.7,0.7 0 1,0 -1.4,0M232.4,249.5a0.6,0.6 0 1,0 1.3,0a0.6,0.6 0 1,0 -1.3,0M229.2,251.3a0.6,0.6 0 1,0 1.2,0a0.6,0.6 0 1,0 -1.2,0M238.1,254.6a0.8,0.8 0 1,0 1.6,0a0.8,0.8 0 1,0 -1.6,0M231.6,265.2a0.7,0.7 0 1,0 1.5,0a0.7,0.7 0 1,0 -1.5,0M225.1,259.7a0.7,0.7 0 1,0 1.4,0a0.7,0.7 0 1,0 -1.4,0M218.4,245.6a0.4,0.4 0 1,0 0.9,0a0.4,0.4 0 1,0 -0.9,0M237.9,233.2a0.4,0.4 0 1,0 0.8,0a0.4,0.4 0 1,0 -0.8,0M242.7,235.9a0.4,0.4 0 1,0 0.9,0a0.4,0.4 0 1,0 -0.9,0M246.0,249.3a0.8,0.8 0 1,0 1.5,0a0.8,0.8 0 1,0 -1.5,0M223.9,250.7a0.5,0.5 0 1,0 0.9,0a0.5,0.5 0 1,0 -0.9,0M236.0,261.1a0.7,0.7 0 1,0 1.4,0a0.7,0.7 0 1,0 -1.4,0M230.1,240.6a0.4,0.4 0 1,0 0.7,0a0.4,0.4 0 1,0 -0.7,0M229.8,258.3a0.5,0.5 0 1,0 1.0,0a0.5,0.5 0 1,0 -1.0,0M235.0,251.4a0.4,0.4 0 1,0 0.9,0a0.4,0.4 0 1,0 -0.9,0M215.1,246.8a0.2,0.2 0 1,0 0.5,0a0.2,0.2 0 1,0 -0.5,0M219.9,260.9a0.3,0.3 0 1,0 0.6,0a0.3,0.3 0 1,0 -0.6,0M235.6,251.2a0.5,0.5 0 1,0 1.0,0a0.5,0.5 0 1,0 -1.0,0M225.9,266.3a0.6,0.6 0 1,0 1.3,0a0.6,0.6 0 1,0 -1.3,0M228.8,238.5a0.4,0.4 0 1,0 0.7,0a0.4,0.4 0 1,0 -0.7,0M249.3,250.9a0.7,0.7 0 1,0 1.5,0a0.7,0.7 0 1,0 -1.5,0M230.6,243.0a0.6,0.6 0 1,0 1.2,0a0.6,0.6 0 1,0 -1.2,0" fill="#9a60c0" fill-opacity="0.5"/><path d="M234.1,241.6a0.5,0.5 0 1,0 1.0,0a0.5,0.5 0 1,0 -1.0,0M224.8,234.7a0.8,0.8 0 1,0 1.5,0a0.8,0.8 0 1,0 -1.5,0M243.6,260.7a0.4,0.4 0 1,0 0.9,0a0.4,0.4 0 1,0 -0.9,0M227.6,243.8a0.2,0.2 0 1,0 0.5,0a0.2,0.2 0 1,0 -0.5,0M236.9,235.2a0.6,0.6 0 1,0 1.2,0a0.6,0.6 0 1,0 -1.2,0M247.9,253.2a0.3,0.3 0 1,0 0.7,0a0.3,0.3 0 1,0 -0.7,0M244.5,244.8a0.7,0.7 0 1,0 1.4,0a0.7,0.7 0 1,0 -1.4,0M215.9,250.6a0.2,0.2 0 1,0 0.5,0a0.2,0.2 0 1,0 -0.5,0M229.1,238.5a0.5,0.5 0 1,0 1.0,0a0.5,0.5 0 1,0 -1.0,0M238.2,238.6a0.6,0.6 0 1,0 1.3,0a0.6,0.6 0 1,0 -1.3,0M231.6,233.1a0.4,0.4 0 1,0 0.7,0a0.4,0.4 0 1,0 -0.7,0M223.4,240.8a0.6,0.6 0 1,0 1.3,0a0.6,0.6 0 1,0 -1.3,0M215.5,249.5a0.4,0.4 0 1,0 0.8,0a0.4,0.4 0 1,0 -0.8,0M214.9,245.2a0.2,0.2 0 1,0 0.5,0a0.2,0.2 0 1,0 -0.5,0M232.9,263.4a0.3,0.3 0 1,0 0.6,0a0.3,0.3 0 1,0 -0.6,0M234.0,259.1a0.4,0.4 0 1,0 0.8,0a0.4,0.4 0 1,0 -0.8,0M230.2,252.3a0.3,0.3 0 1,0 0.5,0a0.3,0.3 0 1,0 -0.5,0M252.9,261.9a0.2,0.2 0 1,0 0.4,0a0.2,0.2 0 1,0 -0.4,0M237.1,239.5a0.8,0.8 0 1,0 1.5,0a0.8,0.8 0 1,0 -1.5,0M228.8,272.7a0.6,0.6 0 1,0 1.2,0a0.6,0.6 0 1,0 -1.2,0M249.4,254.5a0.5,0.5 0 1,0 1.0,0a0.5,0.5 0 1,0 -1.0,0M226.0,272.4a0.7,0.7 0 1,0 1.4,0a0.7,0.7 0 1,0 -1.4,0M224.7,245.6a0.5,0.5 0 1,0 1.1,0a0.5,0.5 0 1,0 -1.1,0" fill="#9a60c0" fill-opacity="0.8"/></g><circle cx="233.70" cy="253.10" r="21.30" fill="none" stroke="#cfcdd0" stroke-width="0.6"/><line x1="73.30" y1="289.70" x2="73.30" y2="390.70" stroke="#000" stroke-width="1.2"/><line x1="72.70" y1="390.10" x2="223.00" y2="390.10" stroke="#000" stroke-width="1.2"/><line x1="69.80" y1="390.10" x2="73.30" y2="390.10" stroke="#000" stroke-width="1.2"/><text x="68.30" y="393.30" font-size="7.9" font-weight="bold" text-anchor="end" fill="#000">0</text><line x1="69.80" y1="356.63" x2="73.30" y2="356.63" stroke="#000" stroke-width="1.2"/><text x="68.30" y="359.83" font-size="7.9" font-weight="bold" text-anchor="end" fill="#000">50</text><line x1="69.80" y1="323.17" x2="73.30" y2="323.17" stroke="#000" stroke-width="1.2"/><text x="68.30" y="326.37" font-size="7.9" font-weight="bold" text-anchor="end" fill="#000">100</text><line x1="69.80" y1="289.70" x2="73.30" y2="289.70" stroke="#000" stroke-width="1.2"/><text x="68.30" y="292.90" font-size="7.9" font-weight="bold" text-anchor="end" fill="#000">150</text><rect x="78.00" y="323.17" width="9.20" height="66.93" fill="#0c0cdc" stroke="none" stroke-width="1"/><line x1="82.60" y1="321.16" x2="82.60" y2="325.17" stroke="#000" stroke-width="0.8"/><line x1="80.10" y1="321.16" x2="85.10" y2="321.16" stroke="#000" stroke-width="0.8"/><circle cx="79.60" cy="323.50" r="1.3" fill="#000"/><circle cx="82.60" cy="321.49" r="1.3" fill="#000"/><circle cx="85.60" cy="322.83" r="1.3" fill="#000"/><line x1="82.60" y1="390.10" x2="82.60" y2="394.10" stroke="#000" stroke-width="1"/><text x="84.80" y="400.80" font-size="7.6" font-weight="bold" text-anchor="end" fill="#000" transform="rotate(-45 84.80 400.80)">0</text><rect x="91.90" y="341.91" width="9.10" height="48.19" fill="#0c0cdc" stroke="none" stroke-width="1"/><line x1="96.45" y1="340.57" x2="96.45" y2="343.25" stroke="#000" stroke-width="0.8"/><line x1="93.95" y1="340.57" x2="98.95" y2="340.57" stroke="#000" stroke-width="0.8"/><circle cx="93.45" cy="342.24" r="1.3" fill="#000"/><circle cx="96.45" cy="340.23" r="1.3" fill="#000"/><circle cx="99.45" cy="341.57" r="1.3" fill="#000"/><polygon points="96.45,333.60 97.18,335.07 98.80,335.31 97.62,336.45 97.90,338.07 96.45,337.30 95.00,338.07 95.28,336.45 94.10,335.31 95.72,335.07" fill="#000"/><line x1="96.45" y1="390.10" x2="96.45" y2="394.10" stroke="#000" stroke-width="1"/><text x="98.65" y="400.80" font-size="7.6" font-weight="bold" text-anchor="end" fill="#000" transform="rotate(-45 98.65 400.80)">3.125</text><rect x="105.20" y="364.67" width="9.70" height="25.43" fill="#0c0cdc" stroke="none" stroke-width="1"/><line x1="110.05" y1="361.99" x2="110.05" y2="367.34" stroke="#000" stroke-width="0.8"/><line x1="107.55" y1="361.99" x2="112.55" y2="361.99" stroke="#000" stroke-width="0.8"/><circle cx="107.05" cy="365.00" r="1.3" fill="#000"/><circle cx="110.05" cy="362.99" r="1.3" fill="#000"/><circle cx="113.05" cy="364.33" r="1.3" fill="#000"/><polygon points="107.39,355.02 108.12,356.49 109.74,356.72 108.56,357.87 108.84,359.49 107.39,358.72 105.94,359.49 106.22,357.87 105.04,356.72 106.66,356.49" fill="#000"/><polygon points="112.71,355.02 113.44,356.49 115.06,356.72 113.88,357.87 114.16,359.49 112.71,358.72 111.26,359.49 111.54,357.87 110.36,356.72 111.98,356.49" fill="#000"/><line x1="110.05" y1="390.10" x2="110.05" y2="394.10" stroke="#000" stroke-width="1"/><text x="112.25" y="400.80" font-size="7.6" font-weight="bold" text-anchor="end" fill="#000" transform="rotate(-45 112.25 400.80)">6.25</text><rect x="119.10" y="383.41" width="9.70" height="6.69" fill="#0c0cdc" stroke="none" stroke-width="1"/><line x1="123.95" y1="382.40" x2="123.95" y2="384.41" stroke="#000" stroke-width="0.8"/><line x1="121.45" y1="382.40" x2="126.45" y2="382.40" stroke="#000" stroke-width="0.8"/><circle cx="120.95" cy="383.74" r="1.3" fill="#000"/><circle cx="123.95" cy="381.73" r="1.3" fill="#000"/><circle cx="126.95" cy="383.07" r="1.3" fill="#000"/><polygon points="118.63,375.43 119.36,376.90 120.98,377.14 119.80,378.28 120.08,379.90 118.63,379.14 117.18,379.90 117.46,378.28 116.28,377.14 117.90,376.90" fill="#000"/><polygon points="123.95,375.43 124.68,376.90 126.30,377.14 125.12,378.28 125.40,379.90 123.95,379.14 122.50,379.90 122.78,378.28 121.60,377.14 123.22,376.90" fill="#000"/><polygon points="129.27,375.43 130.00,376.90 131.62,377.14 130.44,378.28 130.72,379.90 129.27,379.14 127.82,379.90 128.10,378.28 126.92,377.14 128.54,376.90" fill="#000"/><line x1="123.95" y1="390.10" x2="123.95" y2="394.10" stroke="#000" stroke-width="1"/><text x="126.15" y="400.80" font-size="7.6" font-weight="bold" text-anchor="end" fill="#000" transform="rotate(-45 126.15 400.80)">12.5</text><rect x="132.90" y="384.75" width="9.20" height="5.35" fill="#0c0cdc" stroke="none" stroke-width="1"/><line x1="137.50" y1="383.41" x2="137.50" y2="386.08" stroke="#000" stroke-width="0.8"/><line x1="135.00" y1="383.41" x2="140.00" y2="383.41" stroke="#000" stroke-width="0.8"/><circle cx="134.50" cy="385.08" r="1.3" fill="#000"/><circle cx="137.50" cy="383.07" r="1.3" fill="#000"/><circle cx="140.50" cy="384.41" r="1.3" fill="#000"/><polygon points="132.18,376.44 132.91,377.91 134.53,378.14 133.35,379.29 133.63,380.90 132.18,380.14 130.73,380.90 131.01,379.29 129.83,378.14 131.45,377.91" fill="#000"/><polygon points="137.50,376.44 138.23,377.91 139.85,378.14 138.67,379.29 138.95,380.90 137.50,380.14 136.05,380.90 136.33,379.29 135.15,378.14 136.77,377.91" fill="#000"/><polygon points="142.82,376.44 143.55,377.91 145.17,378.14 143.99,379.29 144.27,380.90 142.82,380.14 141.37,380.90 141.65,379.29 140.47,378.14 142.09,377.91" fill="#000"/><line x1="137.50" y1="390.10" x2="137.50" y2="394.10" stroke="#000" stroke-width="1"/><text x="139.70" y="400.80" font-size="7.6" font-weight="bold" text-anchor="end" fill="#000" transform="rotate(-45 139.70 400.80)">25</text><rect x="155.10" y="323.17" width="9.70" height="66.93" fill="#a3171b" stroke="none" stroke-width="1"/><line x1="159.95" y1="321.83" x2="159.95" y2="324.51" stroke="#000" stroke-width="0.8"/><line x1="157.45" y1="321.83" x2="162.45" y2="321.83" stroke="#000" stroke-width="0.8"/><circle cx="156.95" cy="323.50" r="1.3" fill="#000"/><circle cx="159.95" cy="321.49" r="1.3" fill="#000"/><circle cx="162.95" cy="322.83" r="1.3" fill="#000"/><line x1="159.95" y1="390.10" x2="159.95" y2="394.10" stroke="#000" stroke-width="1"/><text x="162.15" y="400.80" font-size="7.6" font-weight="bold" text-anchor="end" fill="#000" transform="rotate(-45 162.15 400.80)">0</text><rect x="169.00" y="323.84" width="9.10" height="66.26" fill="#a3171b" stroke="none" stroke-width="1"/><line x1="173.55" y1="323.17" x2="173.55" y2="324.51" stroke="#000" stroke-width="0.8"/><line x1="171.05" y1="323.17" x2="176.05" y2="323.17" stroke="#000" stroke-width="0.8"/><circle cx="170.55" cy="324.17" r="1.3" fill="#000"/><circle cx="173.55" cy="322.16" r="1.3" fill="#000"/><circle cx="176.55" cy="323.50" r="1.3" fill="#000"/><line x1="173.55" y1="390.10" x2="173.55" y2="394.10" stroke="#000" stroke-width="1"/><text x="175.75" y="400.80" font-size="7.6" font-weight="bold" text-anchor="end" fill="#000" transform="rotate(-45 175.75 400.80)">3.125</text><rect x="182.90" y="355.96" width="9.10" height="34.14" fill="#a3171b" stroke="none" stroke-width="1"/><line x1="187.45" y1="354.63" x2="187.45" y2="357.30" stroke="#000" stroke-width="0.8"/><line x1="184.95" y1="354.63" x2="189.95" y2="354.63" stroke="#000" stroke-width="0.8"/><circle cx="184.45" cy="356.30" r="1.3" fill="#000"/><circle cx="187.45" cy="354.29" r="1.3" fill="#000"/><circle cx="190.45" cy="355.63" r="1.3" fill="#000"/><polygon points="184.79,347.66 185.52,349.13 187.14,349.36 185.96,350.51 186.24,352.12 184.79,351.36 183.34,352.12 183.62,350.51 182.44,349.36 184.06,349.13" fill="#000"/><polygon points="190.11,347.66 190.84,349.13 192.46,349.36 191.28,350.51 191.56,352.12 190.11,351.36 188.66,352.12 188.94,350.51 187.76,349.36 189.38,349.13" fill="#000"/><line x1="187.45" y1="390.10" x2="187.45" y2="394.10" stroke="#000" stroke-width="1"/><text x="189.65" y="400.80" font-size="7.6" font-weight="bold" text-anchor="end" fill="#000" transform="rotate(-45 189.65 400.80)">6.25</text><rect x="196.70" y="368.68" width="9.20" height="21.42" fill="#a3171b" stroke="none" stroke-width="1"/><line x1="201.30" y1="366.00" x2="201.30" y2="371.36" stroke="#000" stroke-width="0.8"/><line x1="198.80" y1="366.00" x2="203.80" y2="366.00" stroke="#000" stroke-width="0.8"/><circle cx="198.30" cy="369.02" r="1.3" fill="#000"/><circle cx="201.30" cy="367.01" r="1.3" fill="#000"/><circle cx="204.30" cy="368.35" r="1.3" fill="#000"/><polygon points="198.64,359.03 199.37,360.50 200.99,360.74 199.81,361.89 200.09,363.50 198.64,362.74 197.19,363.50 197.47,361.89 196.29,360.74 197.91,360.50" fill="#000"/><polygon points="203.96,359.03 204.69,360.50 206.31,360.74 205.13,361.89 205.41,363.50 203.96,362.74 202.51,363.50 202.79,361.89 201.61,360.74 203.23,360.50" fill="#000"/><line x1="201.30" y1="390.10" x2="201.30" y2="394.10" stroke="#000" stroke-width="1"/><text x="203.50" y="400.80" font-size="7.6" font-weight="bold" text-anchor="end" fill="#000" transform="rotate(-45 203.50 400.80)">12.5</text><rect x="209.80" y="387.42" width="10.00" height="2.68" fill="#a3171b" stroke="none" stroke-width="1"/><line x1="214.80" y1="386.42" x2="214.80" y2="388.43" stroke="#000" stroke-width="0.8"/><line x1="212.30" y1="386.42" x2="217.30" y2="386.42" stroke="#000" stroke-width="0.8"/><circle cx="211.80" cy="387.76" r="1.3" fill="#000"/><circle cx="214.80" cy="385.75" r="1.3" fill="#000"/><circle cx="217.80" cy="387.09" r="1.3" fill="#000"/><polygon points="209.48,379.45 210.21,380.92 211.83,381.16 210.65,382.30 210.93,383.92 209.48,383.15 208.03,383.92 208.31,382.30 207.13,381.16 208.75,380.92" fill="#000"/><polygon points="214.80,379.45 215.53,380.92 217.15,381.16 215.97,382.30 216.25,383.92 214.80,383.15 213.35,383.92 213.63,382.30 212.45,381.16 214.07,380.92" fill="#000"/><polygon points="220.12,379.45 220.85,380.92 222.47,381.16 221.29,382.30 221.57,383.92 220.12,383.15 218.67,383.92 218.95,382.30 217.77,381.16 219.39,380.92" fill="#000"/><line x1="214.80" y1="390.10" x2="214.80" y2="394.10" stroke="#000" stroke-width="1"/><text x="217.00" y="400.80" font-size="7.6" font-weight="bold" text-anchor="end" fill="#000" transform="rotate(-45 217.00 400.80)">25</text><rect x="81.00" y="288.90" width="11.20" height="3.60" fill="#0c0cdc" stroke="none" stroke-width="1"/><rect x="81.00" y="295.80" width="11.20" height="3.60" fill="#a3171b" stroke="none" stroke-width="1"/><text x="97.70" y="293.40" font-size="7.4" font-weight="bold" fill="#000">BXPC-3</text><text x="97.70" y="300.30" font-size="7.4" font-weight="bold" fill="#000">PANC-1</text><text x="50.90" y="339.90" font-size="7.8" font-weight="bold" text-anchor="middle" fill="#000" transform="rotate(-90 50.90 339.90)">Colony numbers(% of control)</text><text x="63.00" y="402.00" font-size="7.4" font-weight="bold" text-anchor="middle" fill="#000">8a (μM)</text><text x="262.60" y="173.70" font-size="21" fill="#000">d</text><text x="347.20" y="188.10" font-size="8.4" text-anchor="middle" fill="#1a1a1a">8a (μM)</text><line x1="313.10" y1="190.60" x2="378.20" y2="190.60" stroke="#7a7a7a" stroke-width="0.9"/><text x="315.80" y="199.30" font-size="8.4" text-anchor="middle" fill="#1a1a1a">0</text><text x="334.50" y="199.30" font-size="8.4" text-anchor="middle" fill="#1a1a1a">6.25</text><text x="353.20" y="199.30" font-size="8.4" text-anchor="middle" fill="#1a1a1a">12.5</text><text x="374.20" y="199.30" font-size="8.4" text-anchor="middle" fill="#1a1a1a">25</text><rect x="305.00" y="200.50" width="77.30" height="17.40" fill="#efefef" stroke="#959595" stroke-width="0.9"/><text x="303.60" y="212.20" font-size="8.3" text-anchor="end" fill="#1a1a1a">p-mTOR</text><rect x="305.00" y="221.50" width="77.30" height="17.60" fill="#efefef" stroke="#959595" stroke-width="0.9"/><text x="303.60" y="233.30" font-size="8.3" text-anchor="end" fill="#1a1a1a">mTOR</text><rect x="305.00" y="242.50" width="77.30" height="18.10" fill="#efefef" stroke="#959595" stroke-width="0.9"/><text x="303.60" y="254.55" font-size="8.3" text-anchor="end" fill="#1a1a1a">p-p70S6K</text><rect x="305.00" y="263.80" width="77.30" height="17.10" fill="#efefef" stroke="#959595" stroke-width="0.9"/><text x="303.60" y="275.35" font-size="8.3" text-anchor="end" fill="#1a1a1a">p70S6K</text><rect x="305.00" y="284.70" width="77.30" height="17.10" fill="#efefef" stroke="#959595" stroke-width="0.9"/><text x="303.60" y="296.25" font-size="8.3" text-anchor="end" fill="#1a1a1a">p-AKT</text><rect x="305.00" y="305.20" width="77.30" height="17.70" fill="#efefef" stroke="#959595" stroke-width="0.9"/><text x="303.60" y="317.05" font-size="8.3" text-anchor="end" fill="#1a1a1a">AKT</text><rect x="305.00" y="326.50" width="77.30" height="18.00" fill="#efefef" stroke="#959595" stroke-width="0.9"/><text x="303.60" y="338.50" font-size="8.3" text-anchor="end" fill="#1a1a1a">p-ERK</text><rect x="305.00" y="347.80" width="77.30" height="18.70" fill="#efefef" stroke="#959595" stroke-width="0.9"/><text x="303.60" y="360.15" font-size="8.3" text-anchor="end" fill="#1a1a1a">ERK</text><rect x="305.00" y="369.80" width="77.30" height="19.00" fill="#efefef" stroke="#959595" stroke-width="0.9"/><text x="303.60" y="382.30" font-size="8.3" text-anchor="end" fill="#1a1a1a">β-Actin</text><rect x="308.25" y="204.75" width="13.50" height="9.50" rx="6.75" ry="4.75" fill="#000" fill-opacity="0.90" filter="url(#b10)"/><rect x="308.25" y="203.75" width="13.50" height="3.50" rx="3.15" ry="1.75" fill="#000" fill-opacity="1.00" filter="url(#b9)"/><rect x="326.70" y="204.30" width="14.00" height="2.60" rx="2.34" ry="1.30" fill="#000" fill-opacity="0.95" filter="url(#b9)"/><rect x="326.70" y="206.50" width="14.00" height="7.00" rx="6.30" ry="3.50" fill="#000" fill-opacity="0.35" filter="url(#b12)"/><rect x="345.90" y="205.00" width="13.00" height="4.00" rx="3.60" ry="2.00" fill="#000" fill-opacity="0.08" filter="url(#b12)"/><rect x="365.40" y="204.40" width="13.00" height="2.40" rx="2.16" ry="1.20" fill="#000" fill-opacity="0.22" filter="url(#b9)"/><rect x="365.40" y="207.00" width="13.00" height="6.00" rx="5.40" ry="3.00" fill="#000" fill-opacity="0.12" filter="url(#b12)"/><rect x="307.75" y="226.15" width="14.50" height="5.50" rx="4.95" ry="2.75" fill="#000" fill-opacity="1.00" filter="url(#b8)"/><rect x="326.45" y="226.15" width="14.50" height="5.50" rx="4.95" ry="2.75" fill="#000" fill-opacity="0.95" filter="url(#b8)"/><rect x="345.15" y="226.15" width="14.50" height="5.50" rx="4.95" ry="2.75" fill="#000" fill-opacity="1.00" filter="url(#b8)"/><rect x="364.65" y="226.15" width="14.50" height="5.50" rx="4.95" ry="2.75" fill="#000" fill-opacity="1.00" filter="url(#b8)"/><rect x="307.75" y="251.00" width="14.50" height="3.60" rx="3.24" ry="1.80" fill="#000" fill-opacity="1.00" filter="url(#b6)"/><rect x="308.50" y="244.95" width="13.00" height="2.50" rx="2.25" ry="1.25" fill="#000" fill-opacity="0.08" filter="url(#b10)"/><rect x="326.45" y="251.00" width="14.50" height="3.60" rx="3.24" ry="1.80" fill="#000" fill-opacity="0.85" filter="url(#b6)"/><rect x="327.20" y="244.95" width="13.00" height="2.50" rx="2.25" ry="1.25" fill="#000" fill-opacity="0.08" filter="url(#b10)"/><rect x="345.15" y="251.00" width="14.50" height="3.60" rx="3.24" ry="1.80" fill="#000" fill-opacity="0.30" filter="url(#b6)"/><rect x="345.90" y="244.95" width="13.00" height="2.50" rx="2.25" ry="1.25" fill="#000" fill-opacity="0.08" filter="url(#b10)"/><rect x="364.65" y="251.00" width="14.50" height="3.60" rx="3.24" ry="1.80" fill="#000" fill-opacity="0.45" filter="url(#b6)"/><rect x="365.40" y="244.95" width="13.00" height="2.50" rx="2.25" ry="1.25" fill="#000" fill-opacity="0.08" filter="url(#b10)"/><rect x="307.50" y="269.25" width="15.00" height="5.50" rx="4.95" ry="2.75" fill="#000" fill-opacity="0.90" filter="url(#b11)"/><rect x="326.20" y="269.25" width="15.00" height="5.50" rx="4.95" ry="2.75" fill="#000" fill-opacity="1.00" filter="url(#b11)"/><rect x="344.90" y="269.25" width="15.00" height="5.50" rx="4.95" ry="2.75" fill="#000" fill-opacity="0.90" filter="url(#b11)"/><rect x="364.40" y="269.25" width="15.00" height="5.50" rx="4.95" ry="2.75" fill="#000" fill-opacity="1.00" filter="url(#b11)"/><rect x="306.75" y="290.55" width="14.50" height="3.30" rx="2.97" ry="1.65" fill="#000" fill-opacity="1.00" filter="url(#b6)"/><rect x="325.45" y="290.55" width="14.50" height="3.30" rx="2.97" ry="1.65" fill="#000" fill-opacity="0.80" filter="url(#b6)"/><rect x="344.15" y="290.55" width="14.50" height="3.30" rx="2.97" ry="1.65" fill="#000" fill-opacity="0.20" filter="url(#b6)"/><rect x="363.65" y="290.55" width="14.50" height="3.30" rx="2.97" ry="1.65" fill="#000" fill-opacity="0.08" filter="url(#b6)"/><rect x="307.50" y="312.15" width="15.00" height="6.30" rx="5.67" ry="3.15" fill="#000" fill-opacity="1.00" filter="url(#b8)"/><rect x="326.20" y="312.15" width="15.00" height="6.30" rx="5.67" ry="3.15" fill="#000" fill-opacity="1.00" filter="url(#b8)"/><rect x="344.90" y="312.15" width="15.00" height="6.30" rx="5.67" ry="3.15" fill="#000" fill-opacity="1.00" filter="url(#b8)"/><rect x="364.40" y="312.15" width="15.00" height="6.30" rx="5.67" ry="3.15" fill="#000" fill-opacity="1.00" filter="url(#b8)"/><rect x="307.25" y="332.75" width="15.50" height="7.50" rx="6.75" ry="3.75" fill="#000" fill-opacity="1.00" filter="url(#b8)"/><rect x="325.95" y="332.75" width="15.50" height="7.50" rx="6.75" ry="3.75" fill="#000" fill-opacity="1.00" filter="url(#b8)"/><rect x="345.40" y="333.00" width="14.00" height="2.40" rx="2.16" ry="1.20" fill="#000" fill-opacity="0.28" filter="url(#b9)"/><rect x="345.40" y="336.10" width="14.00" height="2.60" rx="2.34" ry="1.30" fill="#000" fill-opacity="0.42" filter="url(#b9)"/><rect x="364.90" y="333.00" width="14.00" height="2.40" rx="2.16" ry="1.20" fill="#000" fill-opacity="0.28" filter="url(#b9)"/><rect x="364.90" y="336.10" width="14.00" height="2.60" rx="2.34" ry="1.30" fill="#000" fill-opacity="0.42" filter="url(#b9)"/><rect x="307.25" y="356.15" width="14.50" height="5.50" rx="4.95" ry="2.75" fill="#000" fill-opacity="1.00" filter="url(#b8)"/><rect x="325.95" y="356.15" width="14.50" height="5.50" rx="4.95" ry="2.75" fill="#000" fill-opacity="1.00" filter="url(#b8)"/><rect x="345.15" y="356.15" width="13.50" height="5.50" rx="4.95" ry="2.75" fill="#000" fill-opacity="1.00" filter="url(#b8)"/><rect x="365.65" y="356.15" width="11.50" height="5.50" rx="4.95" ry="2.75" fill="#000" fill-opacity="1.00" filter="url(#b8)"/><rect x="307.75" y="377.10" width="15.50" height="4.40" rx="3.96" ry="2.20" fill="#000" fill-opacity="1.00" filter="url(#b8)"/><rect x="326.45" y="377.10" width="15.50" height="4.40" rx="3.96" ry="2.20" fill="#000" fill-opacity="1.00" filter="url(#b8)"/><rect x="345.15" y="377.10" width="15.50" height="4.40" rx="3.96" ry="2.20" fill="#000" fill-opacity="1.00" filter="url(#b8)"/><rect x="364.65" y="377.10" width="15.50" height="4.40" rx="3.96" ry="2.20" fill="#000" fill-opacity="1.00" filter="url(#b8)"/><line x1="433.40" y1="171.50" x2="433.40" y2="269.90" stroke="#000" stroke-width="1.2"/><line x1="432.80" y1="269.30" x2="531.00" y2="269.30" stroke="#000" stroke-width="1.2"/><line x1="429.40" y1="269.30" x2="433.40" y2="269.30" stroke="#000" stroke-width="1.2"/><text x="427.70" y="272.95" font-size="8.9" font-weight="bold" text-anchor="end" fill="#000">0.0</text><line x1="429.40" y1="236.70" x2="433.40" y2="236.70" stroke="#000" stroke-width="1.2"/><text x="427.70" y="240.35" font-size="8.9" font-weight="bold" text-anchor="end" fill="#000">0.5</text><line x1="429.40" y1="204.10" x2="433.40" y2="204.10" stroke="#000" stroke-width="1.2"/><text x="427.70" y="207.75" font-size="8.9" font-weight="bold" text-anchor="end" fill="#000">1.0</text><line x1="429.40" y1="171.50" x2="433.40" y2="171.50" stroke="#000" stroke-width="1.2"/><text x="427.70" y="175.15" font-size="8.9" font-weight="bold" text-anchor="end" fill="#000">1.5</text><rect x="441.70" y="203.12" width="13.10" height="66.18" fill="#a4a3a9" stroke="#000" stroke-width="1.4"/><line x1="448.25" y1="197.91" x2="448.25" y2="208.34" stroke="#b400f5" stroke-width="0.9"/><line x1="445.05" y1="197.91" x2="451.45" y2="197.91" stroke="#b400f5" stroke-width="0.9"/><line x1="445.05" y1="208.34" x2="451.45" y2="208.34" stroke="#b400f5" stroke-width="0.9"/><circle cx="448.25" cy="199.86" r="1.6" fill="#b400f5"/><circle cx="448.25" cy="206.38" r="1.6" fill="#b400f5"/><circle cx="444.25" cy="203.12" r="1.6" fill="#b400f5"/><rect x="464.00" y="236.70" width="13.30" height="32.60" fill="#a4a3a9" stroke="#000" stroke-width="1.4"/><line x1="470.65" y1="233.44" x2="470.65" y2="239.96" stroke="#b400f5" stroke-width="0.9"/><line x1="467.45" y1="233.44" x2="473.85" y2="233.44" stroke="#b400f5" stroke-width="0.9"/><line x1="467.45" y1="239.96" x2="473.85" y2="239.96" stroke="#b400f5" stroke-width="0.9"/><circle cx="470.65" cy="239.96" r="1.6" fill="#b400f5"/><circle cx="475.65" cy="234.09" r="1.6" fill="#b400f5"/><circle cx="466.65" cy="236.05" r="1.6" fill="#b400f5"/><polygon points="468.13,226.10 468.82,227.49 470.36,227.72 469.24,228.80 469.51,230.33 468.13,229.61 466.75,230.33 467.02,228.80 465.90,227.72 467.44,227.49" fill="#000"/><polygon points="473.17,226.10 473.86,227.49 475.40,227.72 474.28,228.80 474.55,230.33 473.17,229.61 471.79,230.33 472.06,228.80 470.94,227.72 472.48,227.49" fill="#000"/><rect x="486.60" y="260.17" width="12.90" height="9.13" fill="#a4a3a9" stroke="#000" stroke-width="1.4"/><line x1="493.05" y1="256.26" x2="493.05" y2="264.08" stroke="#b400f5" stroke-width="0.9"/><line x1="489.85" y1="256.26" x2="496.25" y2="256.26" stroke="#b400f5" stroke-width="0.9"/><line x1="489.85" y1="264.08" x2="496.25" y2="264.08" stroke="#b400f5" stroke-width="0.9"/><circle cx="493.05" cy="256.91" r="1.6" fill="#b400f5"/><circle cx="497.05" cy="262.13" r="1.6" fill="#b400f5"/><circle cx="489.05" cy="262.13" r="1.6" fill="#b400f5"/><polygon points="488.01,248.92 488.70,250.31 490.24,250.54 489.12,251.62 489.39,253.15 488.01,252.43 486.63,253.15 486.90,251.62 485.78,250.54 487.32,250.31" fill="#000"/><polygon points="493.05,248.92 493.74,250.31 495.28,250.54 494.16,251.62 494.43,253.15 493.05,252.43 491.67,253.15 491.94,251.62 490.82,250.54 492.36,250.31" fill="#000"/><polygon points="498.09,248.92 498.78,250.31 500.32,250.54 499.20,251.62 499.47,253.15 498.09,252.43 496.71,253.15 496.98,251.62 495.86,250.54 497.40,250.31" fill="#000"/><rect x="509.00" y="256.26" width="13.10" height="13.04" fill="#a4a3a9" stroke="#000" stroke-width="1.4"/><line x1="515.55" y1="254.96" x2="515.55" y2="257.56" stroke="#b400f5" stroke-width="0.9"/><line x1="512.35" y1="254.96" x2="518.75" y2="254.96" stroke="#b400f5" stroke-width="0.9"/><line x1="512.35" y1="257.56" x2="518.75" y2="257.56" stroke="#b400f5" stroke-width="0.9"/><circle cx="515.55" cy="254.96" r="1.6" fill="#b400f5"/><circle cx="520.55" cy="256.26" r="1.6" fill="#b400f5"/><circle cx="511.55" cy="256.91" r="1.6" fill="#b400f5"/><polygon points="510.51,247.62 511.20,249.01 512.74,249.23 511.62,250.32 511.89,251.85 510.51,251.13 509.13,251.85 509.40,250.32 508.28,249.23 509.82,249.01" fill="#000"/><polygon points="515.55,247.62 516.24,249.01 517.78,249.23 516.66,250.32 516.93,251.85 515.55,251.13 514.17,251.85 514.44,250.32 513.32,249.23 514.86,249.01" fill="#000"/><polygon points="520.59,247.62 521.28,249.01 522.82,249.23 521.70,250.32 521.97,251.85 520.59,251.13 519.21,251.85 519.48,250.32 518.36,249.23 519.90,249.01" fill="#000"/><line x1="448.25" y1="269.30" x2="448.25" y2="272.30" stroke="#000" stroke-width="1.1"/><text x="448.25" y="282.10" font-size="9" font-weight="bold" text-anchor="middle" fill="#000">0</text><line x1="470.65" y1="269.30" x2="470.65" y2="272.30" stroke="#000" stroke-width="1.1"/><text x="470.65" y="282.10" font-size="9" font-weight="bold" text-anchor="middle" fill="#000">6.25</text><line x1="493.05" y1="269.30" x2="493.05" y2="272.30" stroke="#000" stroke-width="1.1"/><text x="493.05" y="282.10" font-size="9" font-weight="bold" text-anchor="middle" fill="#000">12.5</text><line x1="515.55" y1="269.30" x2="515.55" y2="272.30" stroke="#000" stroke-width="1.1"/><text x="515.55" y="282.10" font-size="9" font-weight="bold" text-anchor="middle" fill="#000">25</text><line x1="446.50" y1="284.20" x2="520.90" y2="284.20" stroke="#6a6a6a" stroke-width="0.9"/><text x="483.00" y="292.90" font-size="8.7" font-weight="bold" text-anchor="middle" fill="#000">8a (μM)</text><text x="400.10" y="219.80" font-size="8.1" font-weight="bold" text-anchor="middle" fill="#000" transform="rotate(-90 400.10 219.80)">Relative protein expression</text><text x="411.00" y="218.10" font-size="8.1" font-weight="bold" text-anchor="middle" fill="#000" transform="rotate(-90 411.00 218.10)">(p-mTOR/mTOR)</text><line x1="583.20" y1="172.30" x2="583.20" y2="270.70" stroke="#000" stroke-width="1.2"/><line x1="582.60" y1="270.10" x2="680.80" y2="270.10" stroke="#000" stroke-width="1.2"/><line x1="579.20" y1="270.10" x2="583.20" y2="270.10" stroke="#000" stroke-width="1.2"/><text x="577.50" y="273.75" font-size="8.9" font-weight="bold" text-anchor="end" fill="#000">0.0</text><line x1="579.20" y1="237.50" x2="583.20" y2="237.50" stroke="#000" stroke-width="1.2"/><text x="577.50" y="241.15" font-size="8.9" font-weight="bold" text-anchor="end" fill="#000">0.5</text><line x1="579.20" y1="204.90" x2="583.20" y2="204.90" stroke="#000" stroke-width="1.2"/><text x="577.50" y="208.55" font-size="8.9" font-weight="bold" text-anchor="end" fill="#000">1.0</text><line x1="579.20" y1="172.30" x2="583.20" y2="172.30" stroke="#000" stroke-width="1.2"/><text x="577.50" y="175.95" font-size="8.9" font-weight="bold" text-anchor="end" fill="#000">1.5</text><rect x="591.50" y="203.60" width="13.10" height="66.50" fill="#a4a3a9" stroke="#000" stroke-width="1.4"/><line x1="598.05" y1="199.68" x2="598.05" y2="207.51" stroke="#b400f5" stroke-width="0.9"/><line x1="594.85" y1="199.68" x2="601.25" y2="199.68" stroke="#b400f5" stroke-width="0.9"/><line x1="594.85" y1="207.51" x2="601.25" y2="207.51" stroke="#b400f5" stroke-width="0.9"/><circle cx="598.05" cy="200.34" r="1.6" fill="#b400f5"/><circle cx="594.05" cy="203.60" r="1.6" fill="#b400f5"/><circle cx="602.05" cy="203.60" r="1.6" fill="#b400f5"/><rect x="613.80" y="225.76" width="13.30" height="44.34" fill="#a4a3a9" stroke="#000" stroke-width="1.4"/><line x1="620.45" y1="223.81" x2="620.45" y2="227.72" stroke="#b400f5" stroke-width="0.9"/><line x1="617.25" y1="223.81" x2="623.65" y2="223.81" stroke="#b400f5" stroke-width="0.9"/><line x1="617.25" y1="227.72" x2="623.65" y2="227.72" stroke="#b400f5" stroke-width="0.9"/><circle cx="620.45" cy="227.72" r="1.6" fill="#b400f5"/><circle cx="625.45" cy="225.11" r="1.6" fill="#b400f5"/><circle cx="616.45" cy="225.11" r="1.6" fill="#b400f5"/><polygon points="617.93,216.47 618.62,217.86 620.16,218.08 619.04,219.17 619.31,220.70 617.93,219.98 616.55,220.70 616.82,219.17 615.70,218.08 617.24,217.86" fill="#000"/><polygon points="622.97,216.47 623.66,217.86 625.20,218.08 624.08,219.17 624.35,220.70 622.97,219.98 621.59,220.70 621.86,219.17 620.74,218.08 622.28,217.86" fill="#000"/><rect x="636.40" y="260.97" width="12.90" height="9.13" fill="#a4a3a9" stroke="#000" stroke-width="1.4"/><line x1="642.85" y1="257.71" x2="642.85" y2="264.23" stroke="#b400f5" stroke-width="0.9"/><line x1="639.65" y1="257.71" x2="646.05" y2="257.71" stroke="#b400f5" stroke-width="0.9"/><line x1="639.65" y1="264.23" x2="646.05" y2="264.23" stroke="#b400f5" stroke-width="0.9"/><circle cx="642.85" cy="262.93" r="1.6" fill="#b400f5"/><circle cx="642.85" cy="257.71" r="1.6" fill="#b400f5"/><circle cx="638.85" cy="262.28" r="1.6" fill="#b400f5"/><polygon points="637.81,250.37 638.50,251.77 640.04,251.99 638.92,253.07 639.19,254.61 637.81,253.88 636.43,254.61 636.70,253.07 635.58,251.99 637.12,251.77" fill="#000"/><polygon points="642.85,250.37 643.54,251.77 645.08,251.99 643.96,253.07 644.23,254.61 642.85,253.88 641.47,254.61 641.74,253.07 640.62,251.99 642.16,251.77" fill="#000"/><polygon points="647.89,250.37 648.58,251.77 650.12,251.99 649.00,253.07 649.27,254.61 647.89,253.88 646.51,254.61 646.78,253.07 645.66,251.99 647.20,251.77" fill="#000"/><rect x="658.80" y="255.76" width="13.10" height="14.34" fill="#a4a3a9" stroke="#000" stroke-width="1.4"/><line x1="665.35" y1="254.45" x2="665.35" y2="257.06" stroke="#b400f5" stroke-width="0.9"/><line x1="662.15" y1="254.45" x2="668.55" y2="254.45" stroke="#b400f5" stroke-width="0.9"/><line x1="662.15" y1="257.06" x2="668.55" y2="257.06" stroke="#b400f5" stroke-width="0.9"/><circle cx="665.35" cy="255.10" r="1.6" fill="#b400f5"/><circle cx="670.35" cy="255.76" r="1.6" fill="#b400f5"/><circle cx="661.35" cy="255.76" r="1.6" fill="#b400f5"/><polygon points="660.31,247.11 661.00,248.51 662.54,248.73 661.42,249.81 661.69,251.35 660.31,250.62 658.93,251.35 659.20,249.81 658.08,248.73 659.62,248.51" fill="#000"/><polygon points="665.35,247.11 666.04,248.51 667.58,248.73 666.46,249.81 666.73,251.35 665.35,250.62 663.97,251.35 664.24,249.81 663.12,248.73 664.66,248.51" fill="#000"/><polygon points="670.39,247.11 671.08,248.51 672.62,248.73 671.50,249.81 671.77,251.35 670.39,250.62 669.01,251.35 669.28,249.81 668.16,248.73 669.70,248.51" fill="#000"/><line x1="598.05" y1="270.10" x2="598.05" y2="273.10" stroke="#000" stroke-width="1.1"/><text x="598.05" y="282.90" font-size="9" font-weight="bold" text-anchor="middle" fill="#000">0</text><line x1="620.45" y1="270.10" x2="620.45" y2="273.10" stroke="#000" stroke-width="1.1"/><text x="620.45" y="282.90" font-size="9" font-weight="bold" text-anchor="middle" fill="#000">6.25</text><line x1="642.85" y1="270.10" x2="642.85" y2="273.10" stroke="#000" stroke-width="1.1"/><text x="642.85" y="282.90" font-size="9" font-weight="bold" text-anchor="middle" fill="#000">12.5</text><line x1="665.35" y1="270.10" x2="665.35" y2="273.10" stroke="#000" stroke-width="1.1"/><text x="665.35" y="282.90" font-size="9" font-weight="bold" text-anchor="middle" fill="#000">25</text><line x1="596.30" y1="285.00" x2="670.70" y2="285.00" stroke="#6a6a6a" stroke-width="0.9"/><text x="632.80" y="293.70" font-size="8.7" font-weight="bold" text-anchor="middle" fill="#000">8a (μM)</text><text x="549.90" y="220.60" font-size="8.1" font-weight="bold" text-anchor="middle" fill="#000" transform="rotate(-90 549.90 220.60)">Relative protein expression</text><text x="560.80" y="218.90" font-size="8.1" font-weight="bold" text-anchor="middle" fill="#000" transform="rotate(-90 560.80 218.90)">(p-AKT/AKT)</text><line x1="433.40" y1="302.20" x2="433.40" y2="400.60" stroke="#000" stroke-width="1.2"/><line x1="432.80" y1="400.00" x2="531.00" y2="400.00" stroke="#000" stroke-width="1.2"/><line x1="429.40" y1="400.00" x2="433.40" y2="400.00" stroke="#000" stroke-width="1.2"/><text x="427.70" y="403.65" font-size="8.9" font-weight="bold" text-anchor="end" fill="#000">0.0</text><line x1="429.40" y1="367.40" x2="433.40" y2="367.40" stroke="#000" stroke-width="1.2"/><text x="427.70" y="371.05" font-size="8.9" font-weight="bold" text-anchor="end" fill="#000">0.5</text><line x1="429.40" y1="334.80" x2="433.40" y2="334.80" stroke="#000" stroke-width="1.2"/><text x="427.70" y="338.45" font-size="8.9" font-weight="bold" text-anchor="end" fill="#000">1.0</text><line x1="429.40" y1="302.20" x2="433.40" y2="302.20" stroke="#000" stroke-width="1.2"/><text x="427.70" y="305.85" font-size="8.9" font-weight="bold" text-anchor="end" fill="#000">1.5</text><rect x="441.70" y="333.50" width="13.10" height="66.50" fill="#a4a3a9" stroke="#000" stroke-width="1.4"/><line x1="448.25" y1="328.93" x2="448.25" y2="338.06" stroke="#b400f5" stroke-width="0.9"/><line x1="445.05" y1="328.93" x2="451.45" y2="328.93" stroke="#b400f5" stroke-width="0.9"/><line x1="445.05" y1="338.06" x2="451.45" y2="338.06" stroke="#b400f5" stroke-width="0.9"/><circle cx="448.25" cy="329.58" r="1.6" fill="#b400f5"/><circle cx="448.25" cy="336.76" r="1.6" fill="#b400f5"/><circle cx="444.25" cy="333.50" r="1.6" fill="#b400f5"/><rect x="464.00" y="366.75" width="13.30" height="33.25" fill="#a4a3a9" stroke="#000" stroke-width="1.4"/><line x1="470.65" y1="364.79" x2="470.65" y2="368.70" stroke="#b400f5" stroke-width="0.9"/><line x1="467.45" y1="364.79" x2="473.85" y2="364.79" stroke="#b400f5" stroke-width="0.9"/><line x1="467.45" y1="368.70" x2="473.85" y2="368.70" stroke="#b400f5" stroke-width="0.9"/><circle cx="470.65" cy="365.44" r="1.6" fill="#b400f5"/><circle cx="475.65" cy="366.75" r="1.6" fill="#b400f5"/><circle cx="466.65" cy="366.75" r="1.6" fill="#b400f5"/><polygon points="468.13,357.45 468.82,358.85 470.36,359.07 469.24,360.15 469.51,361.69 468.13,360.96 466.75,361.69 467.02,360.15 465.90,359.07 467.44,358.85" fill="#000"/><polygon points="473.17,357.45 473.86,358.85 475.40,359.07 474.28,360.15 474.55,361.69 473.17,360.96 471.79,361.69 472.06,360.15 470.94,359.07 472.48,358.85" fill="#000"/><rect x="486.60" y="383.05" width="12.90" height="16.95" fill="#a4a3a9" stroke="#000" stroke-width="1.4"/><line x1="493.05" y1="380.44" x2="493.05" y2="385.66" stroke="#b400f5" stroke-width="0.9"/><line x1="489.85" y1="380.44" x2="496.25" y2="380.44" stroke="#b400f5" stroke-width="0.9"/><line x1="489.85" y1="385.66" x2="496.25" y2="385.66" stroke="#b400f5" stroke-width="0.9"/><circle cx="493.05" cy="380.44" r="1.6" fill="#b400f5"/><circle cx="497.05" cy="383.05" r="1.6" fill="#b400f5"/><circle cx="489.05" cy="383.05" r="1.6" fill="#b400f5"/><polygon points="488.01,373.10 488.70,374.49 490.24,374.72 489.12,375.80 489.39,377.33 488.01,376.61 486.63,377.33 486.90,375.80 485.78,374.72 487.32,374.49" fill="#000"/><polygon points="493.05,373.10 493.74,374.49 495.28,374.72 494.16,375.80 494.43,377.33 493.05,376.61 491.67,377.33 491.94,375.80 490.82,374.72 492.36,374.49" fill="#000"/><polygon points="498.09,373.10 498.78,374.49 500.32,374.72 499.20,375.80 499.47,377.33 498.09,376.61 496.71,377.33 496.98,375.80 495.86,374.72 497.40,374.49" fill="#000"/><rect x="509.00" y="380.44" width="13.10" height="19.56" fill="#a4a3a9" stroke="#000" stroke-width="1.4"/><line x1="515.55" y1="378.48" x2="515.55" y2="382.40" stroke="#b400f5" stroke-width="0.9"/><line x1="512.35" y1="378.48" x2="518.75" y2="378.48" stroke="#b400f5" stroke-width="0.9"/><line x1="512.35" y1="382.40" x2="518.75" y2="382.40" stroke="#b400f5" stroke-width="0.9"/><circle cx="515.55" cy="379.14" r="1.6" fill="#b400f5"/><circle cx="520.55" cy="380.44" r="1.6" fill="#b400f5"/><circle cx="511.55" cy="380.44" r="1.6" fill="#b400f5"/><polygon points="510.51,371.14 511.20,372.54 512.74,372.76 511.62,373.85 511.89,375.38 510.51,374.65 509.13,375.38 509.40,373.85 508.28,372.76 509.82,372.54" fill="#000"/><polygon points="515.55,371.14 516.24,372.54 517.78,372.76 516.66,373.85 516.93,375.38 515.55,374.65 514.17,375.38 514.44,373.85 513.32,372.76 514.86,372.54" fill="#000"/><polygon points="520.59,371.14 521.28,372.54 522.82,372.76 521.70,373.85 521.97,375.38 520.59,374.65 519.21,375.38 519.48,373.85 518.36,372.76 519.90,372.54" fill="#000"/><line x1="448.25" y1="400.00" x2="448.25" y2="403.00" stroke="#000" stroke-width="1.1"/><text x="448.25" y="412.80" font-size="9" font-weight="bold" text-anchor="middle" fill="#000">0</text><line x1="470.65" y1="400.00" x2="470.65" y2="403.00" stroke="#000" stroke-width="1.1"/><text x="470.65" y="412.80" font-size="9" font-weight="bold" text-anchor="middle" fill="#000">6.25</text><line x1="493.05" y1="400.00" x2="493.05" y2="403.00" stroke="#000" stroke-width="1.1"/><text x="493.05" y="412.80" font-size="9" font-weight="bold" text-anchor="middle" fill="#000">12.5</text><line x1="515.55" y1="400.00" x2="515.55" y2="403.00" stroke="#000" stroke-width="1.1"/><text x="515.55" y="412.80" font-size="9" font-weight="bold" text-anchor="middle" fill="#000">25</text><line x1="446.50" y1="414.90" x2="520.90" y2="414.90" stroke="#6a6a6a" stroke-width="0.9"/><text x="483.00" y="423.60" font-size="8.7" font-weight="bold" text-anchor="middle" fill="#000">8a (μM)</text><text x="400.10" y="350.50" font-size="8.1" font-weight="bold" text-anchor="middle" fill="#000" transform="rotate(-90 400.10 350.50)">Relative protein expression</text><text x="411.00" y="348.80" font-size="8.1" font-weight="bold" text-anchor="middle" fill="#000" transform="rotate(-90 411.00 348.80)">(p-P70S6K/P70S6K)</text><line x1="583.20" y1="302.60" x2="583.20" y2="401.00" stroke="#000" stroke-width="1.2"/><line x1="582.60" y1="400.40" x2="680.80" y2="400.40" stroke="#000" stroke-width="1.2"/><line x1="579.20" y1="400.40" x2="583.20" y2="400.40" stroke="#000" stroke-width="1.2"/><text x="577.50" y="404.05" font-size="8.9" font-weight="bold" text-anchor="end" fill="#000">0.0</text><line x1="579.20" y1="367.80" x2="583.20" y2="367.80" stroke="#000" stroke-width="1.2"/><text x="577.50" y="371.45" font-size="8.9" font-weight="bold" text-anchor="end" fill="#000">0.5</text><line x1="579.20" y1="335.20" x2="583.20" y2="335.20" stroke="#000" stroke-width="1.2"/><text x="577.50" y="338.85" font-size="8.9" font-weight="bold" text-anchor="end" fill="#000">1.0</text><line x1="579.20" y1="302.60" x2="583.20" y2="302.60" stroke="#000" stroke-width="1.2"/><text x="577.50" y="306.25" font-size="8.9" font-weight="bold" text-anchor="end" fill="#000">1.5</text><rect x="591.50" y="335.53" width="13.10" height="64.87" fill="#a4a3a9" stroke="#000" stroke-width="1.4"/><line x1="598.05" y1="330.31" x2="598.05" y2="340.74" stroke="#b400f5" stroke-width="0.9"/><line x1="594.85" y1="330.31" x2="601.25" y2="330.31" stroke="#b400f5" stroke-width="0.9"/><line x1="594.85" y1="340.74" x2="601.25" y2="340.74" stroke="#b400f5" stroke-width="0.9"/><circle cx="598.05" cy="330.96" r="1.6" fill="#b400f5"/><circle cx="603.05" cy="336.83" r="1.6" fill="#b400f5"/><circle cx="594.05" cy="337.48" r="1.6" fill="#b400f5"/><rect x="613.80" y="337.16" width="13.30" height="63.24" fill="#a4a3a9" stroke="#000" stroke-width="1.4"/><line x1="620.45" y1="335.85" x2="620.45" y2="338.46" stroke="#b400f5" stroke-width="0.9"/><line x1="617.25" y1="335.85" x2="623.65" y2="335.85" stroke="#b400f5" stroke-width="0.9"/><line x1="617.25" y1="338.46" x2="623.65" y2="338.46" stroke="#b400f5" stroke-width="0.9"/><circle cx="620.45" cy="335.85" r="1.6" fill="#b400f5"/><circle cx="624.45" cy="337.16" r="1.6" fill="#b400f5"/><circle cx="616.45" cy="337.16" r="1.6" fill="#b400f5"/><rect x="636.40" y="384.75" width="12.90" height="15.65" fill="#a4a3a9" stroke="#000" stroke-width="1.4"/><line x1="642.85" y1="382.80" x2="642.85" y2="386.71" stroke="#b400f5" stroke-width="0.9"/><line x1="639.65" y1="382.80" x2="646.05" y2="382.80" stroke="#b400f5" stroke-width="0.9"/><line x1="639.65" y1="386.71" x2="646.05" y2="386.71" stroke="#b400f5" stroke-width="0.9"/><circle cx="642.85" cy="383.45" r="1.6" fill="#b400f5"/><circle cx="646.85" cy="384.75" r="1.6" fill="#b400f5"/><circle cx="638.85" cy="384.75" r="1.6" fill="#b400f5"/><polygon points="637.81,375.46 638.50,376.85 640.04,377.07 638.92,378.16 639.19,379.69 637.81,378.97 636.43,379.69 636.70,378.16 635.58,377.07 637.12,376.85" fill="#000"/><polygon points="642.85,375.46 643.54,376.85 645.08,377.07 643.96,378.16 644.23,379.69 642.85,378.97 641.47,379.69 641.74,378.16 640.62,377.07 642.16,376.85" fill="#000"/><polygon points="647.89,375.46 648.58,376.85 650.12,377.07 649.00,378.16 649.27,379.69 647.89,378.97 646.51,379.69 646.78,378.16 645.66,377.07 647.20,376.85" fill="#000"/><rect x="658.80" y="381.49" width="13.10" height="18.91" fill="#a4a3a9" stroke="#000" stroke-width="1.4"/><line x1="665.35" y1="379.54" x2="665.35" y2="383.45" stroke="#b400f5" stroke-width="0.9"/><line x1="662.15" y1="379.54" x2="668.55" y2="379.54" stroke="#b400f5" stroke-width="0.9"/><line x1="662.15" y1="383.45" x2="668.55" y2="383.45" stroke="#b400f5" stroke-width="0.9"/><circle cx="665.35" cy="380.19" r="1.6" fill="#b400f5"/><circle cx="670.35" cy="381.49" r="1.6" fill="#b400f5"/><circle cx="661.35" cy="381.49" r="1.6" fill="#b400f5"/><polygon points="660.31,372.20 661.00,373.59 662.54,373.81 661.42,374.90 661.69,376.43 660.31,375.71 658.93,376.43 659.20,374.90 658.08,373.81 659.62,373.59" fill="#000"/><polygon points="665.35,372.20 666.04,373.59 667.58,373.81 666.46,374.90 666.73,376.43 665.35,375.71 663.97,376.43 664.24,374.90 663.12,373.81 664.66,373.59" fill="#000"/><polygon points="670.39,372.20 671.08,373.59 672.62,373.81 671.50,374.90 671.77,376.43 670.39,375.71 669.01,376.43 669.28,374.90 668.16,373.81 669.70,373.59" fill="#000"/><line x1="598.05" y1="400.40" x2="598.05" y2="403.40" stroke="#000" stroke-width="1.1"/><text x="598.05" y="413.20" font-size="9" font-weight="bold" text-anchor="middle" fill="#000">0</text><line x1="620.45" y1="400.40" x2="620.45" y2="403.40" stroke="#000" stroke-width="1.1"/><text x="620.45" y="413.20" font-size="9" font-weight="bold" text-anchor="middle" fill="#000">6.25</text><line x1="642.85" y1="400.40" x2="642.85" y2="403.40" stroke="#000" stroke-width="1.1"/><text x="642.85" y="413.20" font-size="9" font-weight="bold" text-anchor="middle" fill="#000">12.5</text><line x1="665.35" y1="400.40" x2="665.35" y2="403.40" stroke="#000" stroke-width="1.1"/><text x="665.35" y="413.20" font-size="9" font-weight="bold" text-anchor="middle" fill="#000">25</text><line x1="596.30" y1="415.30" x2="670.70" y2="415.30" stroke="#6a6a6a" stroke-width="0.9"/><text x="632.80" y="424.00" font-size="8.7" font-weight="bold" text-anchor="middle" fill="#000">8a (μM)</text><text x="549.90" y="350.90" font-size="8.1" font-weight="bold" text-anchor="middle" fill="#000" transform="rotate(-90 549.90 350.90)">Relative protein expression</text><text x="560.80" y="349.20" font-size="8.1" font-weight="bold" text-anchor="middle" fill="#000" transform="rotate(-90 560.80 349.20)">(p-ERK/ERK)</text><text x="8.00" y="434.60" font-size="21" fill="#000">e</text><text x="220.00" y="436.10" font-size="8.8" font-weight="bold" text-anchor="middle" fill="#000">8a (μM)</text><line x1="59.60" y1="441.00" x2="372.70" y2="441.00" stroke="#8a8a8a" stroke-width="1.2"/><text x="74.00" y="448.60" font-size="8.8" font-weight="bold" text-anchor="middle" fill="#000">0</text><text x="175.30" y="448.60" font-size="8.8" font-weight="bold" text-anchor="middle" fill="#000">6.25</text><text x="267.00" y="448.60" font-size="8.8" font-weight="bold" text-anchor="middle" fill="#000">12.5</text><text x="362.20" y="448.60" font-size="8.8" font-weight="bold" text-anchor="middle" fill="#000">25</text><rect x="24.40" y="451.40" width="83.90" height="84.30" fill="#fff" stroke="#9a9a9a" stroke-width="0.7"/><text x="24.40" y="540.30" font-size="3.6" text-anchor="middle" fill="#777">0</text><text x="39.79" y="540.30" font-size="3.6" text-anchor="middle" fill="#777">1</text><text x="55.19" y="540.30" font-size="3.6" text-anchor="middle" fill="#777">2</text><text x="70.58" y="540.30" font-size="3.6" text-anchor="middle" fill="#777">3</text><text x="85.98" y="540.30" font-size="3.6" text-anchor="middle" fill="#777">4</text><text x="101.37" y="540.30" font-size="3.6" text-anchor="middle" fill="#777">5</text><text x="107.30" y="540.30" font-size="3.6" text-anchor="middle" fill="#777">5.4</text><text x="65.35" y="545.70" font-size="3.6" text-anchor="middle" fill="#888">PE-A (10⁵)</text><text x="14.90" y="493.55" font-size="3.6" text-anchor="middle" fill="#666" transform="rotate(-90 14.90 493.55)">Count (10³)</text><text x="22.20" y="535.70" font-size="3.4" text-anchor="middle" fill="#555" transform="rotate(-90 22.20 535.70)">0</text><line x1="23.20" y1="535.70" x2="24.40" y2="535.70" stroke="#555" stroke-width="0.4"/><text x="22.20" y="508.94" font-size="3.4" text-anchor="middle" fill="#555" transform="rotate(-90 22.20 508.94)">4.0</text><line x1="23.20" y1="508.94" x2="24.40" y2="508.94" stroke="#555" stroke-width="0.4"/><text x="22.20" y="482.18" font-size="3.4" text-anchor="middle" fill="#555" transform="rotate(-90 22.20 482.18)">8.0</text><line x1="23.20" y1="482.18" x2="24.40" y2="482.18" stroke="#555" stroke-width="0.4"/><text x="22.20" y="455.41" font-size="3.4" text-anchor="middle" fill="#555" transform="rotate(-90 22.20 455.41)">12</text><line x1="23.20" y1="455.41" x2="24.40" y2="455.41" stroke="#555" stroke-width="0.4"/><path d="M38.3,535.7 L38.3,535.7 L38.8,535.7 L39.3,535.7 L39.9,535.7 L40.4,535.7 L41.0,535.7 L41.5,535.7 L42.1,535.7 L42.6,535.7 L43.2,535.7 L43.7,535.7 L44.3,535.7 L44.8,535.7 L45.4,535.7 L45.9,535.6 L46.5,535.5 L47.0,535.2 L47.6,534.4 L48.1,532.4 L48.7,527.9 L49.2,520.2 L49.7,511.6 L50.3,505.8 L50.8,503.3 L51.4,502.6 L51.9,502.6 L52.5,503.0 L53.0,503.5 L53.6,504.0 L54.1,504.5 L54.7,505.0 L55.2,505.6 L55.8,506.1 L56.3,506.7 L56.9,507.3 L57.4,507.9 L58.0,508.7 L58.5,509.6 L59.1,510.7 L59.6,512.3 L60.1,514.5 L60.7,517.3 L61.2,520.9 L61.8,524.7 L62.3,528.2 L62.9,531.0 L63.4,532.9 L64.0,534.1 L64.5,534.8 L65.1,535.2 L65.6,535.4 L66.2,535.6 L66.7,535.6 L67.3,535.7 L67.8,535.7 L68.4,535.7 L68.9,535.7 L69.5,535.7 L70.0,535.7 L70.5,535.7 L71.1,535.7 L71.6,535.7 L72.2,535.7 L72.7,535.7 L73.3,535.7 L73.8,535.7 L74.4,535.7 L74.9,535.7 L75.5,535.7 L76.0,535.7 L76.6,535.7 L77.1,535.7 L77.7,535.7 L78.2,535.7 L78.8,535.7 L79.3,535.7 L79.9,535.7 L80.4,535.7 L80.9,535.7 L81.5,535.7 L82.0,535.7 L82.6,535.7 L83.1,535.7 L83.7,535.7 L84.2,535.7 L84.8,535.7 L85.3,535.7 L85.9,535.7 L86.4,535.7 L87.0,535.7 L87.5,535.7 L87.5,535.7Z" fill="#d6cf55" fill-opacity="0.9"/><path d="M38.3,535.7 L38.3,535.7 L38.8,535.7 L39.3,535.7 L39.9,535.7 L40.4,535.7 L41.0,535.7 L41.5,535.7 L42.1,535.7 L42.6,535.7 L43.2,535.7 L43.7,535.7 L44.3,535.7 L44.8,535.7 L45.4,535.7 L45.9,535.7 L46.5,535.7 L47.0,535.7 L47.6,535.7 L48.1,535.7 L48.7,535.7 L49.2,535.7 L49.7,535.7 L50.3,535.7 L50.8,535.7 L51.4,535.7 L51.9,535.7 L52.5,535.7 L53.0,535.6 L53.6,535.6 L54.1,535.5 L54.7,535.4 L55.2,535.1 L55.8,534.7 L56.3,534.2 L56.9,533.4 L57.4,532.3 L58.0,530.8 L58.5,528.9 L59.1,526.5 L59.6,523.6 L60.1,520.4 L60.7,517.0 L61.2,513.4 L61.8,510.1 L62.3,507.1 L62.9,504.8 L63.4,503.3 L64.0,502.8 L64.5,503.4 L65.1,504.9 L65.6,507.3 L66.2,510.3 L66.7,513.7 L67.3,517.2 L67.8,520.6 L68.4,523.8 L68.9,526.6 L69.5,529.0 L70.0,530.9 L70.5,532.4 L71.1,533.5 L71.6,534.2 L72.2,534.8 L72.7,535.1 L73.3,535.4 L73.8,535.5 L74.4,535.6 L74.9,535.6 L75.5,535.7 L76.0,535.7 L76.6,535.7 L77.1,535.7 L77.7,535.7 L78.2,535.7 L78.8,535.7 L79.3,535.7 L79.9,535.7 L80.4,535.7 L80.9,535.7 L81.5,535.7 L82.0,535.7 L82.6,535.7 L83.1,535.7 L83.7,535.7 L84.2,535.7 L84.8,535.7 L85.3,535.7 L85.9,535.7 L86.4,535.7 L87.0,535.7 L87.5,535.7 L87.5,535.7Z" fill="#3fe6ee" fill-opacity="0.85"/><path d="M38.3,535.7 L38.3,535.6 L38.8,535.5 L39.3,535.4 L39.9,535.0 L40.4,534.4 L41.0,533.2 L41.5,531.4 L42.1,528.5 L42.6,524.2 L43.2,518.4 L43.7,510.8 L44.3,501.5 L44.8,491.2 L45.4,480.4 L45.9,470.4 L46.5,462.3 L47.0,457.1 L47.6,455.6 L48.1,458.1 L48.7,464.1 L49.2,472.8 L49.7,483.1 L50.3,493.8 L50.8,504.0 L51.4,512.8 L51.9,520.0 L52.5,525.5 L53.0,529.3 L53.6,531.9 L54.1,533.6 L54.7,534.6 L55.2,535.1 L55.8,535.4 L56.3,535.6 L56.9,535.6 L57.4,535.7 L58.0,535.7 L58.5,535.7 L59.1,535.7 L59.6,535.7 L60.1,535.7 L60.7,535.7 L61.2,535.7 L61.8,535.7 L62.3,535.7 L62.9,535.7 L63.4,535.7 L64.0,535.7 L64.5,535.7 L65.1,535.7 L65.6,535.7 L66.2,535.7 L66.7,535.7 L67.3,535.7 L67.8,535.7 L68.4,535.7 L68.9,535.7 L69.5,535.7 L70.0,535.7 L70.5,535.7 L71.1,535.7 L71.6,535.7 L72.2,535.7 L72.7,535.7 L73.3,535.7 L73.8,535.7 L74.4,535.7 L74.9,535.7 L75.5,535.7 L76.0,535.7 L76.6,535.7 L77.1,535.7 L77.7,535.7 L78.2,535.7 L78.8,535.7 L79.3,535.7 L79.9,535.7 L80.4,535.7 L80.9,535.7 L81.5,535.7 L82.0,535.7 L82.6,535.7 L83.1,535.7 L83.7,535.7 L84.2,535.7 L84.8,535.7 L85.3,535.7 L85.9,535.7 L86.4,535.7 L87.0,535.7 L87.5,535.7 L87.5,535.7Z" fill="#3ec03a" fill-opacity="0.85"/><line x1="47.49" y1="451.40" x2="47.49" y2="535.70" stroke="#3ec03a" stroke-width="0.8"/><line x1="63.96" y1="451.40" x2="63.96" y2="535.70" stroke="#55e0ee" stroke-width="0.8"/><text x="47.49" y="454.90" font-size="2.8" text-anchor="middle" fill="#555">G1</text><text x="63.96" y="454.90" font-size="2.8" text-anchor="middle" fill="#555">G2</text><path d="M38.3,535.7 L38.8,535.1 L39.3,535.0 L39.9,535.3 L40.4,534.4 L41.0,533.3 L41.5,531.2 L42.1,528.1 L42.6,524.8 L43.2,519.0 L43.7,510.3 L44.3,501.6 L44.8,490.8 L45.4,481.1 L45.9,470.4 L46.5,461.8 L47.0,457.0 L47.6,453.8 L48.1,454.3 L48.7,456.9 L49.2,457.9 L49.7,458.9 L50.3,463.4 L50.8,471.7 L51.4,480.1 L51.9,487.0 L52.5,493.3 L53.0,497.4 L53.6,500.2 L54.1,502.2 L54.7,503.9 L55.2,504.8 L55.8,505.3 L56.3,505.1 L56.9,505.2 L57.4,505.1 L58.0,503.3 L58.5,502.7 L59.1,501.3 L59.6,500.7 L60.1,498.5 L60.7,498.1 L61.2,499.1 L61.8,499.3 L62.3,499.3 L62.9,499.7 L63.4,499.9 L64.0,500.7 L64.5,501.4 L65.1,503.4 L65.6,506.4 L66.2,509.0 L66.7,512.0 L67.3,515.5 L67.8,519.3 L68.4,522.2 L68.9,525.7 L69.5,527.6 L70.0,528.6 L70.5,530.5 L71.1,531.8 L71.6,532.0 L72.2,532.2 L72.7,532.5 L73.3,533.1 L73.8,533.1 L74.4,533.1 L74.9,532.7 L75.5,533.1 L76.0,533.3 L76.6,533.2 L77.1,533.9 L77.7,534.0 L78.2,533.2 L78.8,532.9 L79.3,533.5 L79.9,533.9 L80.4,534.3 L80.9,534.0 L81.5,533.5 L82.0,533.9 L82.6,534.3 L83.1,534.0 L83.7,535.0 L84.2,534.7 L84.8,534.2 L85.3,534.8 L85.9,535.1 L86.4,535.4 L87.0,535.1 L87.5,534.7 " fill="none" stroke="#222" stroke-width="0.55"/><path d="M38.3,535.6 L38.8,535.5 L39.3,535.4 L39.9,535.0 L40.4,534.3 L41.0,533.2 L41.5,531.3 L42.1,528.3 L42.6,524.0 L43.2,518.0 L43.7,510.3 L44.3,500.9 L44.8,490.3 L45.4,479.3 L45.9,469.0 L46.5,460.6 L47.0,455.1 L47.6,452.8 L48.1,453.2 L48.7,454.7 L49.2,455.7 L49.7,457.4 L50.3,462.5 L50.8,470.3 L51.4,478.6 L51.9,485.9 L52.5,491.8 L53.0,496.3 L53.6,499.4 L54.1,501.5 L54.7,502.9 L55.2,503.8 L55.8,504.3 L56.3,504.4 L56.9,504.3 L57.4,503.9 L58.0,503.1 L58.5,502.1 L59.1,500.8 L59.6,499.5 L60.1,498.5 L60.7,497.9 L61.2,497.9 L61.8,498.3 L62.3,498.9 L62.9,499.3 L63.4,499.8 L64.0,500.5 L64.5,501.8 L65.1,503.8 L65.6,506.4 L66.2,509.6 L66.7,513.1 L67.3,516.8 L67.8,520.3 L68.4,523.6 L68.9,526.5 L69.5,528.9 L70.0,530.8 L70.5,532.3 L71.1,533.4 L71.6,534.2 L72.2,534.8 L72.7,535.1 L73.3,535.4 L73.8,535.5 L74.4,535.6 L74.9,535.6 L75.5,535.7 L76.0,535.7 L76.6,535.7 L77.1,535.7 L77.7,535.7 L78.2,535.7 L78.8,535.7 L79.3,535.7 L79.9,535.7 L80.4,535.7 L80.9,535.7 L81.5,535.7 L82.0,535.7 L82.6,535.7 L83.1,535.7 L83.7,535.7 L84.2,535.7 L84.8,535.7 L85.3,535.7 L85.9,535.7 L86.4,535.7 L87.0,535.7 L87.5,535.7 " fill="none" stroke="#d040e0" stroke-width="0.55"/><line x1="24.40" y1="451.40" x2="24.40" y2="535.70" stroke="#333" stroke-width="0.8"/><line x1="24.40" y1="535.70" x2="108.30" y2="535.70" stroke="#333" stroke-width="0.8"/><text x="83.50" y="464.50" font-size="6.9" font-family="Liberation Serif" text-anchor="end" fill="#222">G1:</text><text x="86.00" y="464.50" font-size="6.9" font-family="Liberation Serif" fill="#222">33.05%</text><text x="83.50" y="472.50" font-size="6.9" font-family="Liberation Serif" text-anchor="end" fill="#222">S:</text><text x="86.00" y="472.50" font-size="6.9" font-family="Liberation Serif" fill="#222">35.29%</text><text x="83.50" y="480.50" font-size="6.9" font-family="Liberation Serif" text-anchor="end" fill="#222">G2:</text><text x="86.00" y="480.50" font-size="6.9" font-family="Liberation Serif" fill="#222">31.07%</text><rect x="125.30" y="451.60" width="83.00" height="83.80" fill="#fff" stroke="#9a9a9a" stroke-width="0.7"/><text x="125.30" y="540.00" font-size="3.6" text-anchor="middle" fill="#777">0</text><text x="140.53" y="540.00" font-size="3.6" text-anchor="middle" fill="#777">1</text><text x="155.76" y="540.00" font-size="3.6" text-anchor="middle" fill="#777">2</text><text x="170.99" y="540.00" font-size="3.6" text-anchor="middle" fill="#777">3</text><text x="186.22" y="540.00" font-size="3.6" text-anchor="middle" fill="#777">4</text><text x="201.45" y="540.00" font-size="3.6" text-anchor="middle" fill="#777">5</text><text x="207.30" y="540.00" font-size="3.6" text-anchor="middle" fill="#777">5.4</text><text x="165.80" y="545.40" font-size="3.6" text-anchor="middle" fill="#888">PE-A (10⁵)</text><text x="115.80" y="493.50" font-size="3.6" text-anchor="middle" fill="#666" transform="rotate(-90 115.80 493.50)">Count (10³)</text><text x="123.10" y="535.40" font-size="3.4" text-anchor="middle" fill="#555" transform="rotate(-90 123.10 535.40)">0</text><line x1="124.10" y1="535.40" x2="125.30" y2="535.40" stroke="#555" stroke-width="0.4"/><text x="123.10" y="508.80" font-size="3.4" text-anchor="middle" fill="#555" transform="rotate(-90 123.10 508.80)">4.0</text><line x1="124.10" y1="508.80" x2="125.30" y2="508.80" stroke="#555" stroke-width="0.4"/><text x="123.10" y="482.19" font-size="3.4" text-anchor="middle" fill="#555" transform="rotate(-90 123.10 482.19)">8.0</text><line x1="124.10" y1="482.19" x2="125.30" y2="482.19" stroke="#555" stroke-width="0.4"/><text x="123.10" y="455.59" font-size="3.4" text-anchor="middle" fill="#555" transform="rotate(-90 123.10 455.59)">12</text><line x1="124.10" y1="455.59" x2="125.30" y2="455.59" stroke="#555" stroke-width="0.4"/><path d="M139.0,535.4 L139.0,535.4 L139.5,535.4 L140.1,535.4 L140.6,535.4 L141.2,535.4 L141.7,535.4 L142.3,535.4 L142.8,535.4 L143.3,535.4 L143.9,535.4 L144.4,535.4 L145.0,535.3 L145.5,535.2 L146.0,534.9 L146.6,534.2 L147.1,532.6 L147.7,530.0 L148.2,527.5 L148.8,526.0 L149.3,525.4 L149.8,525.2 L150.4,525.3 L150.9,525.4 L151.5,525.6 L152.0,525.7 L152.5,525.9 L153.1,526.1 L153.6,526.3 L154.2,526.4 L154.7,526.6 L155.3,526.9 L155.8,527.1 L156.3,527.5 L156.9,527.9 L157.4,528.5 L158.0,529.3 L158.5,530.4 L159.0,531.5 L159.6,532.7 L160.1,533.6 L160.7,534.3 L161.2,534.8 L161.7,535.1 L162.3,535.2 L162.8,535.3 L163.4,535.3 L163.9,535.4 L164.5,535.4 L165.0,535.4 L165.5,535.4 L166.1,535.4 L166.6,535.4 L167.2,535.4 L167.7,535.4 L168.2,535.4 L168.8,535.4 L169.3,535.4 L169.9,535.4 L170.4,535.4 L171.0,535.4 L171.5,535.4 L172.0,535.4 L172.6,535.4 L173.1,535.4 L173.7,535.4 L174.2,535.4 L174.7,535.4 L175.3,535.4 L175.8,535.4 L176.4,535.4 L176.9,535.4 L177.5,535.4 L178.0,535.4 L178.5,535.4 L179.1,535.4 L179.6,535.4 L180.2,535.4 L180.7,535.4 L181.2,535.4 L181.8,535.4 L182.3,535.4 L182.9,535.4 L183.4,535.4 L183.9,535.4 L184.5,535.4 L185.0,535.4 L185.6,535.4 L186.1,535.4 L186.7,535.4 L187.2,535.4 L187.7,535.4 L187.7,535.4Z" fill="#d6cf55" fill-opacity="0.9"/><path d="M139.0,535.4 L139.0,535.4 L139.5,535.4 L140.1,535.4 L140.6,535.4 L141.2,535.4 L141.7,535.4 L142.3,535.4 L142.8,535.4 L143.3,535.4 L143.9,535.4 L144.4,535.4 L145.0,535.4 L145.5,535.4 L146.0,535.4 L146.6,535.4 L147.1,535.4 L147.7,535.4 L148.2,535.4 L148.8,535.4 L149.3,535.4 L149.8,535.4 L150.4,535.4 L150.9,535.4 L151.5,535.3 L152.0,535.3 L152.5,535.2 L153.1,535.0 L153.6,534.8 L154.2,534.5 L154.7,534.0 L155.3,533.4 L155.8,532.6 L156.3,531.6 L156.9,530.4 L157.4,529.0 L158.0,527.4 L158.5,525.8 L159.0,524.2 L159.6,522.8 L160.1,521.6 L160.7,520.7 L161.2,520.3 L161.7,520.4 L162.3,521.0 L162.8,521.9 L163.4,523.2 L163.9,524.7 L164.5,526.3 L165.0,527.9 L165.5,529.4 L166.1,530.8 L166.6,531.9 L167.2,532.9 L167.7,533.6 L168.2,534.2 L168.8,534.6 L169.3,534.9 L169.9,535.1 L170.4,535.2 L171.0,535.3 L171.5,535.3 L172.0,535.4 L172.6,535.4 L173.1,535.4 L173.7,535.4 L174.2,535.4 L174.7,535.4 L175.3,535.4 L175.8,535.4 L176.4,535.4 L176.9,535.4 L177.5,535.4 L178.0,535.4 L178.5,535.4 L179.1,535.4 L179.6,535.4 L180.2,535.4 L180.7,535.4 L181.2,535.4 L181.8,535.4 L182.3,535.4 L182.9,535.4 L183.4,535.4 L183.9,535.4 L184.5,535.4 L185.0,535.4 L185.6,535.4 L186.1,535.4 L186.7,535.4 L187.2,535.4 L187.7,535.4 L187.7,535.4Z" fill="#3fe6ee" fill-opacity="0.85"/><path d="M139.0,535.4 L139.0,534.9 L139.5,534.4 L140.1,533.4 L140.6,531.5 L141.2,528.3 L141.7,523.4 L142.3,516.3 L142.8,507.0 L143.3,495.8 L143.9,483.7 L144.4,472.0 L145.0,462.5 L145.5,456.9 L146.0,456.1 L146.6,460.3 L147.1,468.7 L147.7,479.9 L148.2,492.1 L148.8,503.7 L149.3,513.7 L149.8,521.4 L150.4,527.0 L150.9,530.6 L151.5,532.9 L152.0,534.1 L152.5,534.8 L153.1,535.1 L153.6,535.3 L154.2,535.4 L154.7,535.4 L155.3,535.4 L155.8,535.4 L156.3,535.4 L156.9,535.4 L157.4,535.4 L158.0,535.4 L158.5,535.4 L159.0,535.4 L159.6,535.4 L160.1,535.4 L160.7,535.4 L161.2,535.4 L161.7,535.4 L162.3,535.4 L162.8,535.4 L163.4,535.4 L163.9,535.4 L164.5,535.4 L165.0,535.4 L165.5,535.4 L166.1,535.4 L166.6,535.4 L167.2,535.4 L167.7,535.4 L168.2,535.4 L168.8,535.4 L169.3,535.4 L169.9,535.4 L170.4,535.4 L171.0,535.4 L171.5,535.4 L172.0,535.4 L172.6,535.4 L173.1,535.4 L173.7,535.4 L174.2,535.4 L174.7,535.4 L175.3,535.4 L175.8,535.4 L176.4,535.4 L176.9,535.4 L177.5,535.4 L178.0,535.4 L178.5,535.4 L179.1,535.4 L179.6,535.4 L180.2,535.4 L180.7,535.4 L181.2,535.4 L181.8,535.4 L182.3,535.4 L182.9,535.4 L183.4,535.4 L183.9,535.4 L184.5,535.4 L185.0,535.4 L185.6,535.4 L186.1,535.4 L186.7,535.4 L187.2,535.4 L187.7,535.4 L187.7,535.4Z" fill="#3ec03a" fill-opacity="0.85"/><line x1="145.86" y1="451.60" x2="145.86" y2="535.40" stroke="#3ec03a" stroke-width="0.8"/><line x1="161.39" y1="451.60" x2="161.39" y2="535.40" stroke="#55e0ee" stroke-width="0.8"/><text x="145.86" y="455.10" font-size="2.8" text-anchor="middle" fill="#555">G1</text><text x="161.39" y="455.10" font-size="2.8" text-anchor="middle" fill="#555">G2</text><path d="M139.0,534.3 L139.5,533.8 L140.1,534.0 L140.6,532.0 L141.2,527.8 L141.7,523.1 L142.3,516.1 L142.8,507.3 L143.3,495.7 L143.9,483.5 L144.4,471.9 L145.0,462.9 L145.5,456.8 L146.0,455.8 L146.6,458.8 L147.1,465.2 L147.7,473.9 L148.2,484.1 L148.8,494.3 L149.3,503.9 L149.8,511.8 L150.4,517.5 L150.9,520.6 L151.5,523.2 L152.0,524.5 L152.5,524.6 L153.1,525.4 L153.6,525.5 L154.2,525.9 L154.7,525.9 L155.3,525.1 L155.8,524.8 L156.3,523.7 L156.9,522.2 L157.4,521.8 L158.0,521.8 L158.5,520.2 L159.0,519.9 L159.6,519.7 L160.1,519.3 L160.7,519.3 L161.2,519.3 L161.7,520.0 L162.3,519.8 L162.8,520.8 L163.4,523.2 L163.9,523.8 L164.5,525.4 L165.0,527.3 L165.5,528.6 L166.1,529.9 L166.6,530.4 L167.2,531.8 L167.7,532.0 L168.2,533.1 L168.8,532.6 L169.3,532.8 L169.9,533.4 L170.4,533.3 L171.0,532.8 L171.5,533.0 L172.0,533.2 L172.6,533.5 L173.1,533.3 L173.7,532.7 L174.2,533.4 L174.7,532.4 L175.3,533.2 L175.8,532.3 L176.4,533.2 L176.9,532.3 L177.5,532.7 L178.0,533.1 L178.5,533.1 L179.1,533.0 L179.6,533.2 L180.2,533.7 L180.7,534.0 L181.2,533.7 L181.8,533.2 L182.3,533.8 L182.9,534.6 L183.4,533.8 L183.9,534.0 L184.5,533.9 L185.0,535.0 L185.6,534.3 L186.1,535.3 L186.7,534.6 L187.2,535.2 L187.7,535.3 " fill="none" stroke="#222" stroke-width="0.55"/><path d="M139.0,534.9 L139.5,534.4 L140.1,533.3 L140.6,531.4 L141.2,528.2 L141.7,523.1 L142.3,515.9 L142.8,506.5 L143.3,495.0 L143.9,482.6 L144.4,470.7 L145.0,461.0 L145.5,455.1 L146.0,454.0 L146.6,457.5 L147.1,464.5 L147.7,473.3 L148.2,483.1 L148.8,493.5 L149.3,503.0 L149.8,510.7 L150.4,516.5 L150.9,520.3 L151.5,522.7 L152.0,524.1 L152.5,524.9 L153.1,525.3 L153.6,525.4 L154.2,525.3 L154.7,525.1 L155.3,524.7 L155.8,524.1 L156.3,523.4 L156.9,522.6 L157.4,521.8 L158.0,521.1 L158.5,520.5 L159.0,520.0 L159.6,519.7 L160.1,519.5 L160.7,519.4 L161.2,519.4 L161.7,519.8 L162.3,520.5 L162.8,521.5 L163.4,522.9 L163.9,524.4 L164.5,526.1 L165.0,527.8 L165.5,529.3 L166.1,530.7 L166.6,531.9 L167.2,532.8 L167.7,533.6 L168.2,534.2 L168.8,534.6 L169.3,534.9 L169.9,535.1 L170.4,535.2 L171.0,535.3 L171.5,535.3 L172.0,535.4 L172.6,535.4 L173.1,535.4 L173.7,535.4 L174.2,535.4 L174.7,535.4 L175.3,535.4 L175.8,535.4 L176.4,535.4 L176.9,535.4 L177.5,535.4 L178.0,535.4 L178.5,535.4 L179.1,535.4 L179.6,535.4 L180.2,535.4 L180.7,535.4 L181.2,535.4 L181.8,535.4 L182.3,535.4 L182.9,535.4 L183.4,535.4 L183.9,535.4 L184.5,535.4 L185.0,535.4 L185.6,535.4 L186.1,535.4 L186.7,535.4 L187.2,535.4 L187.7,535.4 " fill="none" stroke="#d040e0" stroke-width="0.55"/><line x1="125.30" y1="451.60" x2="125.30" y2="535.40" stroke="#333" stroke-width="0.8"/><line x1="125.30" y1="535.40" x2="208.30" y2="535.40" stroke="#333" stroke-width="0.8"/><text x="183.50" y="464.70" font-size="6.9" font-family="Liberation Serif" text-anchor="end" fill="#222">G1:</text><text x="186.00" y="464.70" font-size="6.9" font-family="Liberation Serif" fill="#222">56.76%</text><text x="183.50" y="472.70" font-size="6.9" font-family="Liberation Serif" text-anchor="end" fill="#222">S:</text><text x="186.00" y="472.70" font-size="6.9" font-family="Liberation Serif" fill="#222">17.51%</text><text x="183.50" y="480.70" font-size="6.9" font-family="Liberation Serif" text-anchor="end" fill="#222">G2:</text><text x="186.00" y="480.70" font-size="6.9" font-family="Liberation Serif" fill="#222">23.74%</text><rect x="224.70" y="451.60" width="83.50" height="83.40" fill="#fff" stroke="#9a9a9a" stroke-width="0.7"/><text x="224.70" y="539.60" font-size="3.6" text-anchor="middle" fill="#777">0</text><text x="240.02" y="539.60" font-size="3.6" text-anchor="middle" fill="#777">1</text><text x="255.34" y="539.60" font-size="3.6" text-anchor="middle" fill="#777">2</text><text x="270.66" y="539.60" font-size="3.6" text-anchor="middle" fill="#777">3</text><text x="285.98" y="539.60" font-size="3.6" text-anchor="middle" fill="#777">4</text><text x="301.31" y="539.60" font-size="3.6" text-anchor="middle" fill="#777">5</text><text x="307.20" y="539.60" font-size="3.6" text-anchor="middle" fill="#777">5.4</text><text x="265.45" y="545.00" font-size="3.6" text-anchor="middle" fill="#888">PE-A (10⁵)</text><text x="215.20" y="493.30" font-size="3.6" text-anchor="middle" fill="#666" transform="rotate(-90 215.20 493.30)">Count (10³)</text><text x="222.50" y="535.00" font-size="3.4" text-anchor="middle" fill="#555" transform="rotate(-90 222.50 535.00)">0</text><line x1="223.50" y1="535.00" x2="224.70" y2="535.00" stroke="#555" stroke-width="0.4"/><text x="222.50" y="508.52" font-size="3.4" text-anchor="middle" fill="#555" transform="rotate(-90 222.50 508.52)">4.0</text><line x1="223.50" y1="508.52" x2="224.70" y2="508.52" stroke="#555" stroke-width="0.4"/><text x="222.50" y="482.05" font-size="3.4" text-anchor="middle" fill="#555" transform="rotate(-90 222.50 482.05)">8.0</text><line x1="223.50" y1="482.05" x2="224.70" y2="482.05" stroke="#555" stroke-width="0.4"/><text x="222.50" y="455.57" font-size="3.4" text-anchor="middle" fill="#555" transform="rotate(-90 222.50 455.57)">12</text><line x1="223.50" y1="455.57" x2="224.70" y2="455.57" stroke="#555" stroke-width="0.4"/><path d="M238.5,535.0 L238.5,535.0 L239.0,535.0 L239.6,535.0 L240.1,535.0 L240.7,535.0 L241.2,535.0 L241.8,535.0 L242.3,535.0 L242.8,535.0 L243.4,535.0 L243.9,534.9 L244.5,534.8 L245.0,534.5 L245.6,533.8 L246.1,532.4 L246.7,530.5 L247.2,529.0 L247.7,528.3 L248.3,528.0 L248.8,528.0 L249.4,528.1 L249.9,528.2 L250.5,528.3 L251.0,528.4 L251.6,528.5 L252.1,528.7 L252.7,528.8 L253.2,528.9 L253.7,529.1 L254.3,529.3 L254.8,529.5 L255.4,529.8 L255.9,530.2 L256.5,530.8 L257.0,531.5 L257.6,532.3 L258.1,533.1 L258.6,533.8 L259.2,534.2 L259.7,534.6 L260.3,534.8 L260.8,534.9 L261.4,534.9 L261.9,535.0 L262.5,535.0 L263.0,535.0 L263.5,535.0 L264.1,535.0 L264.6,535.0 L265.2,535.0 L265.7,535.0 L266.3,535.0 L266.8,535.0 L267.4,535.0 L267.9,535.0 L268.5,535.0 L269.0,535.0 L269.5,535.0 L270.1,535.0 L270.6,535.0 L271.2,535.0 L271.7,535.0 L272.3,535.0 L272.8,535.0 L273.4,535.0 L273.9,535.0 L274.4,535.0 L275.0,535.0 L275.5,535.0 L276.1,535.0 L276.6,535.0 L277.2,535.0 L277.7,535.0 L278.3,535.0 L278.8,535.0 L279.3,535.0 L279.9,535.0 L280.4,535.0 L281.0,535.0 L281.5,535.0 L282.1,535.0 L282.6,535.0 L283.2,535.0 L283.7,535.0 L284.2,535.0 L284.8,535.0 L285.3,535.0 L285.9,535.0 L286.4,535.0 L287.0,535.0 L287.5,535.0 L287.5,535.0Z" fill="#d6cf55" fill-opacity="0.9"/><path d="M238.5,535.0 L238.5,535.0 L239.0,535.0 L239.6,535.0 L240.1,535.0 L240.7,535.0 L241.2,535.0 L241.8,535.0 L242.3,535.0 L242.8,535.0 L243.4,535.0 L243.9,535.0 L244.5,535.0 L245.0,535.0 L245.6,535.0 L246.1,535.0 L246.7,535.0 L247.2,535.0 L247.7,535.0 L248.3,535.0 L248.8,535.0 L249.4,535.0 L249.9,535.0 L250.5,534.9 L251.0,534.9 L251.6,534.8 L252.1,534.6 L252.7,534.4 L253.2,534.1 L253.7,533.7 L254.3,533.2 L254.8,532.5 L255.4,531.7 L255.9,530.8 L256.5,529.7 L257.0,528.7 L257.6,527.6 L258.1,526.6 L258.6,525.8 L259.2,525.3 L259.7,525.0 L260.3,525.1 L260.8,525.4 L261.4,526.0 L261.9,526.9 L262.5,527.9 L263.0,528.9 L263.5,530.0 L264.1,531.0 L264.6,531.9 L265.2,532.7 L265.7,533.3 L266.3,533.8 L266.8,534.2 L267.4,534.5 L267.9,534.7 L268.5,534.8 L269.0,534.9 L269.5,534.9 L270.1,535.0 L270.6,535.0 L271.2,535.0 L271.7,535.0 L272.3,535.0 L272.8,535.0 L273.4,535.0 L273.9,535.0 L274.4,535.0 L275.0,535.0 L275.5,535.0 L276.1,535.0 L276.6,535.0 L277.2,535.0 L277.7,535.0 L278.3,535.0 L278.8,535.0 L279.3,535.0 L279.9,535.0 L280.4,535.0 L281.0,535.0 L281.5,535.0 L282.1,535.0 L282.6,535.0 L283.2,535.0 L283.7,535.0 L284.2,535.0 L284.8,535.0 L285.3,535.0 L285.9,535.0 L286.4,535.0 L287.0,535.0 L287.5,535.0 L287.5,535.0Z" fill="#3fe6ee" fill-opacity="0.85"/><path d="M238.5,535.0 L238.5,534.0 L239.0,532.9 L239.6,530.9 L240.1,527.5 L240.7,522.2 L241.2,514.6 L241.8,504.5 L242.3,492.7 L242.8,480.1 L243.4,468.5 L243.9,459.9 L244.5,455.9 L245.0,457.3 L245.6,463.8 L246.1,474.0 L246.7,486.4 L247.2,498.8 L247.7,509.8 L248.3,518.7 L248.8,525.1 L249.4,529.4 L249.9,532.1 L250.5,533.6 L251.0,534.3 L251.6,534.7 L252.1,534.9 L252.7,535.0 L253.2,535.0 L253.7,535.0 L254.3,535.0 L254.8,535.0 L255.4,535.0 L255.9,535.0 L256.5,535.0 L257.0,535.0 L257.6,535.0 L258.1,535.0 L258.6,535.0 L259.2,535.0 L259.7,535.0 L260.3,535.0 L260.8,535.0 L261.4,535.0 L261.9,535.0 L262.5,535.0 L263.0,535.0 L263.5,535.0 L264.1,535.0 L264.6,535.0 L265.2,535.0 L265.7,535.0 L266.3,535.0 L266.8,535.0 L267.4,535.0 L267.9,535.0 L268.5,535.0 L269.0,535.0 L269.5,535.0 L270.1,535.0 L270.6,535.0 L271.2,535.0 L271.7,535.0 L272.3,535.0 L272.8,535.0 L273.4,535.0 L273.9,535.0 L274.4,535.0 L275.0,535.0 L275.5,535.0 L276.1,535.0 L276.6,535.0 L277.2,535.0 L277.7,535.0 L278.3,535.0 L278.8,535.0 L279.3,535.0 L279.9,535.0 L280.4,535.0 L281.0,535.0 L281.5,535.0 L282.1,535.0 L282.6,535.0 L283.2,535.0 L283.7,535.0 L284.2,535.0 L284.8,535.0 L285.3,535.0 L285.9,535.0 L286.4,535.0 L287.0,535.0 L287.5,535.0 L287.5,535.0Z" fill="#3ec03a" fill-opacity="0.85"/><line x1="244.62" y1="451.60" x2="244.62" y2="535.00" stroke="#3ec03a" stroke-width="0.8"/><line x1="259.94" y1="451.60" x2="259.94" y2="535.00" stroke="#55e0ee" stroke-width="0.8"/><text x="244.62" y="455.10" font-size="2.8" text-anchor="middle" fill="#555">G1</text><text x="259.94" y="455.10" font-size="2.8" text-anchor="middle" fill="#555">G2</text><path d="M238.5,534.4 L239.0,532.9 L239.6,531.1 L240.1,527.4 L240.7,522.0 L241.2,515.1 L241.8,505.2 L242.3,492.2 L242.8,480.4 L243.4,468.9 L243.9,459.2 L244.5,455.8 L245.0,456.4 L245.6,462.6 L246.1,471.3 L246.7,482.4 L247.2,492.6 L247.7,502.6 L248.3,511.7 L248.8,517.8 L249.4,522.2 L249.9,525.8 L250.5,526.4 L251.0,527.5 L251.6,528.3 L252.1,528.8 L252.7,527.7 L253.2,528.1 L253.7,527.5 L254.3,526.9 L254.8,526.7 L255.4,525.9 L255.9,526.1 L256.5,525.1 L257.0,525.2 L257.6,524.3 L258.1,524.2 L258.6,525.1 L259.2,525.0 L259.7,525.0 L260.3,524.0 L260.8,525.1 L261.4,525.5 L261.9,526.8 L262.5,527.5 L263.0,528.6 L263.5,529.7 L264.1,530.3 L264.6,531.1 L265.2,531.4 L265.7,532.2 L266.3,532.3 L266.8,532.6 L267.4,532.6 L267.9,533.1 L268.5,533.8 L269.0,532.8 L269.5,532.6 L270.1,532.6 L270.6,532.9 L271.2,532.6 L271.7,533.2 L272.3,532.3 L272.8,532.6 L273.4,532.9 L273.9,533.1 L274.4,532.0 L275.0,531.8 L275.5,533.0 L276.1,532.1 L276.6,532.7 L277.2,533.1 L277.7,532.9 L278.3,532.4 L278.8,532.3 L279.3,533.6 L279.9,532.9 L280.4,533.8 L281.0,533.0 L281.5,533.7 L282.1,533.0 L282.6,533.0 L283.2,533.8 L283.7,533.3 L284.2,534.3 L284.8,534.7 L285.3,534.1 L285.9,535.0 L286.4,534.8 L287.0,534.6 L287.5,534.4 " fill="none" stroke="#222" stroke-width="0.55"/><path d="M238.5,534.0 L239.0,532.9 L239.6,530.8 L240.1,527.4 L240.7,521.9 L241.2,514.1 L241.8,503.9 L242.3,491.8 L242.8,479.0 L243.4,467.2 L243.9,458.4 L244.5,454.2 L245.0,455.2 L245.6,461.1 L246.1,470.2 L246.7,480.8 L247.2,492.0 L247.7,502.5 L248.3,511.2 L248.8,517.8 L249.4,522.2 L249.9,525.0 L250.5,526.6 L251.0,527.5 L251.6,527.9 L252.1,528.0 L252.7,528.0 L253.2,527.9 L253.7,527.6 L254.3,527.3 L254.8,526.8 L255.4,526.3 L255.9,525.8 L256.5,525.3 L257.0,525.0 L257.6,524.7 L258.1,524.5 L258.6,524.4 L259.2,524.3 L259.7,524.4 L260.3,524.6 L260.8,525.1 L261.4,525.8 L261.9,526.7 L262.5,527.7 L263.0,528.8 L263.5,529.9 L264.1,530.9 L264.6,531.8 L265.2,532.6 L265.7,533.3 L266.3,533.8 L266.8,534.2 L267.4,534.5 L267.9,534.7 L268.5,534.8 L269.0,534.9 L269.5,534.9 L270.1,535.0 L270.6,535.0 L271.2,535.0 L271.7,535.0 L272.3,535.0 L272.8,535.0 L273.4,535.0 L273.9,535.0 L274.4,535.0 L275.0,535.0 L275.5,535.0 L276.1,535.0 L276.6,535.0 L277.2,535.0 L277.7,535.0 L278.3,535.0 L278.8,535.0 L279.3,535.0 L279.9,535.0 L280.4,535.0 L281.0,535.0 L281.5,535.0 L282.1,535.0 L282.6,535.0 L283.2,535.0 L283.7,535.0 L284.2,535.0 L284.8,535.0 L285.3,535.0 L285.9,535.0 L286.4,535.0 L287.0,535.0 L287.5,535.0 " fill="none" stroke="#d040e0" stroke-width="0.55"/><line x1="224.70" y1="451.60" x2="224.70" y2="535.00" stroke="#333" stroke-width="0.8"/><line x1="224.70" y1="535.00" x2="308.20" y2="535.00" stroke="#333" stroke-width="0.8"/><text x="283.40" y="464.70" font-size="6.9" font-family="Liberation Serif" text-anchor="end" fill="#222">G1:</text><text x="285.90" y="464.70" font-size="6.9" font-family="Liberation Serif" fill="#222">64.27%</text><text x="283.40" y="472.70" font-size="6.9" font-family="Liberation Serif" text-anchor="end" fill="#222">S:</text><text x="285.90" y="472.70" font-size="6.9" font-family="Liberation Serif" fill="#222">17.44%</text><text x="283.40" y="480.70" font-size="6.9" font-family="Liberation Serif" text-anchor="end" fill="#222">G2:</text><text x="285.90" y="480.70" font-size="6.9" font-family="Liberation Serif" fill="#222">17.05%</text><rect x="325.20" y="451.60" width="82.80" height="83.40" fill="#fff" stroke="#9a9a9a" stroke-width="0.7"/><text x="325.20" y="539.60" font-size="3.6" text-anchor="middle" fill="#777">0</text><text x="340.39" y="539.60" font-size="3.6" text-anchor="middle" fill="#777">1</text><text x="355.59" y="539.60" font-size="3.6" text-anchor="middle" fill="#777">2</text><text x="370.78" y="539.60" font-size="3.6" text-anchor="middle" fill="#777">3</text><text x="385.97" y="539.60" font-size="3.6" text-anchor="middle" fill="#777">4</text><text x="401.16" y="539.60" font-size="3.6" text-anchor="middle" fill="#777">5</text><text x="407.00" y="539.60" font-size="3.6" text-anchor="middle" fill="#777">5.4</text><text x="365.60" y="545.00" font-size="3.6" text-anchor="middle" fill="#888">PE-A (10⁵)</text><text x="315.70" y="493.30" font-size="3.6" text-anchor="middle" fill="#666" transform="rotate(-90 315.70 493.30)">Count (10³)</text><text x="323.00" y="535.00" font-size="3.4" text-anchor="middle" fill="#555" transform="rotate(-90 323.00 535.00)">0</text><line x1="324.00" y1="535.00" x2="325.20" y2="535.00" stroke="#555" stroke-width="0.4"/><text x="323.00" y="508.52" font-size="3.4" text-anchor="middle" fill="#555" transform="rotate(-90 323.00 508.52)">4.0</text><line x1="324.00" y1="508.52" x2="325.20" y2="508.52" stroke="#555" stroke-width="0.4"/><text x="323.00" y="482.05" font-size="3.4" text-anchor="middle" fill="#555" transform="rotate(-90 323.00 482.05)">8.0</text><line x1="324.00" y1="482.05" x2="325.20" y2="482.05" stroke="#555" stroke-width="0.4"/><text x="323.00" y="455.57" font-size="3.4" text-anchor="middle" fill="#555" transform="rotate(-90 323.00 455.57)">12</text><line x1="324.00" y1="455.57" x2="325.20" y2="455.57" stroke="#555" stroke-width="0.4"/><path d="M338.9,535.0 L338.9,535.0 L339.4,535.0 L340.0,535.0 L340.5,535.0 L341.0,535.0 L341.6,535.0 L342.1,535.0 L342.7,535.0 L343.2,535.0 L343.7,535.0 L344.3,534.9 L344.8,534.9 L345.4,534.6 L345.9,534.1 L346.4,533.0 L347.0,531.5 L347.5,530.4 L348.1,529.8 L348.6,529.6 L349.1,529.5 L349.7,529.6 L350.2,529.7 L350.8,529.7 L351.3,529.8 L351.8,529.9 L352.4,530.0 L352.9,530.1 L353.5,530.2 L354.0,530.3 L354.5,530.4 L355.1,530.5 L355.6,530.7 L356.2,530.9 L356.7,531.2 L357.2,531.6 L357.8,532.1 L358.3,532.7 L358.9,533.3 L359.4,533.9 L359.9,534.3 L360.5,534.6 L361.0,534.8 L361.6,534.9 L362.1,534.9 L362.6,535.0 L363.2,535.0 L363.7,535.0 L364.3,535.0 L364.8,535.0 L365.3,535.0 L365.9,535.0 L366.4,535.0 L367.0,535.0 L367.5,535.0 L368.0,535.0 L368.6,535.0 L369.1,535.0 L369.7,535.0 L370.2,535.0 L370.7,535.0 L371.3,535.0 L371.8,535.0 L372.4,535.0 L372.9,535.0 L373.4,535.0 L374.0,535.0 L374.5,535.0 L375.1,535.0 L375.6,535.0 L376.1,535.0 L376.7,535.0 L377.2,535.0 L377.8,535.0 L378.3,535.0 L378.8,535.0 L379.4,535.0 L379.9,535.0 L380.5,535.0 L381.0,535.0 L381.5,535.0 L382.1,535.0 L382.6,535.0 L383.2,535.0 L383.7,535.0 L384.2,535.0 L384.8,535.0 L385.3,535.0 L385.9,535.0 L386.4,535.0 L386.9,535.0 L387.5,535.0 L387.5,535.0Z" fill="#d6cf55" fill-opacity="0.9"/><path d="M338.9,535.0 L338.9,535.0 L339.4,535.0 L340.0,535.0 L340.5,535.0 L341.0,535.0 L341.6,535.0 L342.1,535.0 L342.7,535.0 L343.2,535.0 L343.7,535.0 L344.3,535.0 L344.8,535.0 L345.4,535.0 L345.9,535.0 L346.4,535.0 L347.0,535.0 L347.5,535.0 L348.1,535.0 L348.6,535.0 L349.1,535.0 L349.7,535.0 L350.2,535.0 L350.8,535.0 L351.3,535.0 L351.8,535.0 L352.4,535.0 L352.9,535.0 L353.5,534.9 L354.0,534.9 L354.5,534.8 L355.1,534.7 L355.6,534.5 L356.2,534.2 L356.7,533.9 L357.2,533.5 L357.8,533.0 L358.3,532.5 L358.9,531.9 L359.4,531.5 L359.9,531.1 L360.5,530.9 L361.0,530.8 L361.6,531.0 L362.1,531.3 L362.6,531.7 L363.2,532.2 L363.7,532.7 L364.3,533.2 L364.8,533.7 L365.3,534.0 L365.9,534.4 L366.4,534.6 L367.0,534.7 L367.5,534.8 L368.0,534.9 L368.6,534.9 L369.1,535.0 L369.7,535.0 L370.2,535.0 L370.7,535.0 L371.3,535.0 L371.8,535.0 L372.4,535.0 L372.9,535.0 L373.4,535.0 L374.0,535.0 L374.5,535.0 L375.1,535.0 L375.6,535.0 L376.1,535.0 L376.7,535.0 L377.2,535.0 L377.8,535.0 L378.3,535.0 L378.8,535.0 L379.4,535.0 L379.9,535.0 L380.5,535.0 L381.0,535.0 L381.5,535.0 L382.1,535.0 L382.6,535.0 L383.2,535.0 L383.7,535.0 L384.2,535.0 L384.8,535.0 L385.3,535.0 L385.9,535.0 L386.4,535.0 L386.9,535.0 L387.5,535.0 L387.5,535.0Z" fill="#3fe6ee" fill-opacity="0.85"/><path d="M338.9,535.0 L338.9,534.3 L339.4,533.4 L340.0,531.8 L340.5,528.8 L341.0,523.9 L341.6,516.6 L342.1,506.7 L342.7,494.7 L343.2,481.6 L343.7,469.4 L344.3,460.3 L344.8,456.0 L345.4,457.4 L345.9,464.3 L346.4,475.3 L347.0,488.2 L347.5,500.9 L348.1,512.0 L348.6,520.6 L349.1,526.6 L349.7,530.5 L350.2,532.7 L350.8,533.9 L351.3,534.5 L351.8,534.8 L352.4,534.9 L352.9,535.0 L353.5,535.0 L354.0,535.0 L354.5,535.0 L355.1,535.0 L355.6,535.0 L356.2,535.0 L356.7,535.0 L357.2,535.0 L357.8,535.0 L358.3,535.0 L358.9,535.0 L359.4,535.0 L359.9,535.0 L360.5,535.0 L361.0,535.0 L361.6,535.0 L362.1,535.0 L362.6,535.0 L363.2,535.0 L363.7,535.0 L364.3,535.0 L364.8,535.0 L365.3,535.0 L365.9,535.0 L366.4,535.0 L367.0,535.0 L367.5,535.0 L368.0,535.0 L368.6,535.0 L369.1,535.0 L369.7,535.0 L370.2,535.0 L370.7,535.0 L371.3,535.0 L371.8,535.0 L372.4,535.0 L372.9,535.0 L373.4,535.0 L374.0,535.0 L374.5,535.0 L375.1,535.0 L375.6,535.0 L376.1,535.0 L376.7,535.0 L377.2,535.0 L377.8,535.0 L378.3,535.0 L378.8,535.0 L379.4,535.0 L379.9,535.0 L380.5,535.0 L381.0,535.0 L381.5,535.0 L382.1,535.0 L382.6,535.0 L383.2,535.0 L383.7,535.0 L384.2,535.0 L384.8,535.0 L385.3,535.0 L385.9,535.0 L386.4,535.0 L386.9,535.0 L387.5,535.0 L387.5,535.0Z" fill="#3ec03a" fill-opacity="0.85"/><line x1="344.95" y1="451.60" x2="344.95" y2="535.00" stroke="#3ec03a" stroke-width="0.8"/><line x1="360.90" y1="451.60" x2="360.90" y2="535.00" stroke="#55e0ee" stroke-width="0.8"/><text x="344.95" y="455.10" font-size="2.8" text-anchor="middle" fill="#555">G1</text><text x="360.90" y="455.10" font-size="2.8" text-anchor="middle" fill="#555">G2</text><path d="M338.9,534.7 L339.4,534.0 L340.0,531.9 L340.5,529.2 L341.0,524.5 L341.6,516.7 L342.1,506.2 L342.7,494.3 L343.2,481.3 L343.7,469.8 L344.3,460.2 L344.8,456.1 L345.4,457.5 L345.9,463.9 L346.4,473.6 L347.0,484.1 L347.5,495.8 L348.1,506.4 L348.6,514.7 L349.1,521.6 L349.7,525.3 L350.2,527.2 L350.8,528.4 L351.3,528.9 L351.8,529.2 L352.4,530.5 L352.9,529.9 L353.5,529.9 L354.0,530.2 L354.5,530.6 L355.1,530.3 L355.6,530.7 L356.2,529.6 L356.7,529.6 L357.2,530.0 L357.8,530.3 L358.3,529.6 L358.9,530.1 L359.4,529.8 L359.9,529.9 L360.5,530.5 L361.0,530.5 L361.6,530.4 L362.1,531.0 L362.6,531.7 L363.2,532.0 L363.7,531.8 L364.3,533.2 L364.8,533.6 L365.3,533.1 L365.9,533.8 L366.4,533.6 L367.0,533.7 L367.5,533.9 L368.0,532.9 L368.6,533.9 L369.1,533.5 L369.7,533.7 L370.2,533.0 L370.7,533.4 L371.3,533.1 L371.8,532.5 L372.4,533.0 L372.9,532.6 L373.4,532.1 L374.0,533.1 L374.5,533.1 L375.1,532.9 L375.6,532.1 L376.1,532.4 L376.7,532.9 L377.2,532.8 L377.8,533.1 L378.3,532.8 L378.8,533.5 L379.4,532.7 L379.9,532.5 L380.5,532.6 L381.0,533.0 L381.5,532.8 L382.1,534.2 L382.6,534.0 L383.2,533.2 L383.7,533.6 L384.2,534.2 L384.8,533.6 L385.3,534.1 L385.9,533.9 L386.4,534.7 L386.9,534.9 L387.5,534.7 " fill="none" stroke="#222" stroke-width="0.55"/><path d="M338.9,534.3 L339.4,533.4 L340.0,531.7 L340.5,528.7 L341.0,523.7 L341.6,516.3 L342.1,506.2 L342.7,493.9 L343.2,480.6 L343.7,468.1 L344.3,458.7 L344.8,454.2 L345.4,455.5 L345.9,462.0 L346.4,472.0 L347.0,483.7 L347.5,495.5 L348.1,506.2 L348.6,514.8 L349.1,520.9 L349.7,524.9 L350.2,527.2 L350.8,528.6 L351.3,529.3 L351.8,529.6 L352.4,529.8 L352.9,530.0 L353.5,530.0 L354.0,530.1 L354.5,530.1 L355.1,530.1 L355.6,530.1 L356.2,530.0 L356.7,530.0 L357.2,529.9 L357.8,530.0 L358.3,530.0 L358.9,530.1 L359.4,530.2 L359.9,530.3 L360.5,530.4 L361.0,530.5 L361.6,530.7 L362.1,531.1 L362.6,531.6 L363.2,532.1 L363.7,532.6 L364.3,533.2 L364.8,533.6 L365.3,534.0 L365.9,534.3 L366.4,534.6 L367.0,534.7 L367.5,534.8 L368.0,534.9 L368.6,534.9 L369.1,535.0 L369.7,535.0 L370.2,535.0 L370.7,535.0 L371.3,535.0 L371.8,535.0 L372.4,535.0 L372.9,535.0 L373.4,535.0 L374.0,535.0 L374.5,535.0 L375.1,535.0 L375.6,535.0 L376.1,535.0 L376.7,535.0 L377.2,535.0 L377.8,535.0 L378.3,535.0 L378.8,535.0 L379.4,535.0 L379.9,535.0 L380.5,535.0 L381.0,535.0 L381.5,535.0 L382.1,535.0 L382.6,535.0 L383.2,535.0 L383.7,535.0 L384.2,535.0 L384.8,535.0 L385.3,535.0 L385.9,535.0 L386.4,535.0 L386.9,535.0 L387.5,535.0 " fill="none" stroke="#d040e0" stroke-width="0.55"/><line x1="325.20" y1="451.60" x2="325.20" y2="535.00" stroke="#333" stroke-width="0.8"/><line x1="325.20" y1="535.00" x2="408.00" y2="535.00" stroke="#333" stroke-width="0.8"/><text x="383.20" y="464.70" font-size="6.9" font-family="Liberation Serif" text-anchor="end" fill="#222">G1:</text><text x="385.70" y="464.70" font-size="6.9" font-family="Liberation Serif" fill="#222">78.66%</text><text x="383.20" y="472.70" font-size="6.9" font-family="Liberation Serif" text-anchor="end" fill="#222">S:</text><text x="385.70" y="472.70" font-size="6.9" font-family="Liberation Serif" fill="#222">16.41%</text><text x="383.20" y="480.70" font-size="6.9" font-family="Liberation Serif" text-anchor="end" fill="#222">G2:</text><text x="385.70" y="480.70" font-size="6.9" font-family="Liberation Serif" fill="#222">2.68%</text><line x1="470.20" y1="444.20" x2="470.20" y2="542.00" stroke="#000" stroke-width="1.3"/><line x1="469.60" y1="541.40" x2="614.70" y2="541.40" stroke="#000" stroke-width="1.3"/><line x1="466.70" y1="541.40" x2="470.20" y2="541.40" stroke="#000" stroke-width="1.3"/><text x="465.70" y="544.00" font-size="7.2" font-weight="bold" text-anchor="end" fill="#000">0</text><line x1="466.70" y1="521.96" x2="470.20" y2="521.96" stroke="#000" stroke-width="1.3"/><text x="465.70" y="524.56" font-size="7.2" font-weight="bold" text-anchor="end" fill="#000">20</text><line x1="466.70" y1="502.52" x2="470.20" y2="502.52" stroke="#000" stroke-width="1.3"/><text x="465.70" y="505.12" font-size="7.2" font-weight="bold" text-anchor="end" fill="#000">40</text><line x1="466.70" y1="483.08" x2="470.20" y2="483.08" stroke="#000" stroke-width="1.3"/><text x="465.70" y="485.68" font-size="7.2" font-weight="bold" text-anchor="end" fill="#000">60</text><line x1="466.70" y1="463.64" x2="470.20" y2="463.64" stroke="#000" stroke-width="1.3"/><text x="465.70" y="466.24" font-size="7.2" font-weight="bold" text-anchor="end" fill="#000">80</text><line x1="466.70" y1="444.20" x2="470.20" y2="444.20" stroke="#000" stroke-width="1.3"/><text x="465.70" y="446.80" font-size="7.2" font-weight="bold" text-anchor="end" fill="#000">100</text><rect x="475.50" y="509.32" width="7.10" height="32.08" fill="#a9a9a9" stroke="none" stroke-width="1"/><line x1="479.05" y1="507.87" x2="479.05" y2="509.32" stroke="#000" stroke-width="0.7"/><line x1="477.05" y1="507.87" x2="481.05" y2="507.87" stroke="#000" stroke-width="0.7"/><circle cx="477.05" cy="510.10" r="1.2" fill="#111"/><circle cx="481.05" cy="508.55" r="1.2" fill="#111"/><circle cx="479.05" cy="510.78" r="1.2" fill="#111"/><rect x="486.00" y="486.00" width="7.10" height="55.40" fill="#a50d0d" stroke="none" stroke-width="1"/><line x1="489.55" y1="484.05" x2="489.55" y2="486.00" stroke="#000" stroke-width="0.7"/><line x1="487.55" y1="484.05" x2="491.55" y2="484.05" stroke="#000" stroke-width="0.7"/><circle cx="487.55" cy="486.77" r="1.2" fill="#111"/><circle cx="491.55" cy="485.22" r="1.2" fill="#111"/><circle cx="489.55" cy="487.45" r="1.2" fill="#111"/><polygon points="487.23,477.59 487.86,478.88 489.28,479.09 488.25,480.09 488.49,481.50 487.23,480.83 485.96,481.50 486.20,480.09 485.17,479.09 486.59,478.88" fill="#000"/><polygon points="491.87,477.59 492.51,478.88 493.93,479.09 492.90,480.09 493.14,481.50 491.87,480.83 490.61,481.50 490.85,480.09 489.82,479.09 491.24,478.88" fill="#000"/><rect x="496.50" y="478.22" width="7.10" height="63.18" fill="#0d0dfa" stroke="none" stroke-width="1"/><line x1="500.05" y1="476.76" x2="500.05" y2="478.22" stroke="#000" stroke-width="0.7"/><line x1="498.05" y1="476.76" x2="502.05" y2="476.76" stroke="#000" stroke-width="0.7"/><circle cx="498.05" cy="479.00" r="1.2" fill="#111"/><circle cx="502.05" cy="477.44" r="1.2" fill="#111"/><circle cx="500.05" cy="479.68" r="1.2" fill="#111"/><polygon points="497.73,470.30 498.36,471.59 499.78,471.80 498.75,472.80 498.99,474.21 497.73,473.54 496.46,474.21 496.70,472.80 495.67,471.80 497.09,471.59" fill="#000"/><polygon points="502.37,470.30 503.01,471.59 504.43,471.80 503.40,472.80 503.64,474.21 502.37,473.54 501.11,474.21 501.35,472.80 500.32,471.80 501.74,471.59" fill="#000"/><rect x="507.00" y="464.61" width="7.10" height="76.79" fill="#c86b12" stroke="none" stroke-width="1"/><line x1="510.55" y1="463.64" x2="510.55" y2="464.61" stroke="#000" stroke-width="0.7"/><line x1="508.55" y1="463.64" x2="512.55" y2="463.64" stroke="#000" stroke-width="0.7"/><circle cx="508.55" cy="465.39" r="1.2" fill="#111"/><circle cx="512.55" cy="463.83" r="1.2" fill="#111"/><circle cx="510.55" cy="466.07" r="1.2" fill="#111"/><polygon points="505.90,457.18 506.54,458.47 507.95,458.67 506.93,459.67 507.17,461.09 505.90,460.42 504.63,461.09 504.88,459.67 503.85,458.67 505.27,458.47" fill="#000"/><polygon points="510.55,457.18 511.18,458.47 512.60,458.67 511.58,459.67 511.82,461.09 510.55,460.42 509.28,461.09 509.52,459.67 508.50,458.67 509.92,458.47" fill="#000"/><polygon points="515.20,457.18 515.83,458.47 517.25,458.67 516.22,459.67 516.47,461.09 515.20,460.42 513.93,461.09 514.17,459.67 513.15,458.67 514.56,458.47" fill="#000"/><rect x="524.10" y="506.41" width="7.10" height="34.99" fill="#a9a9a9" stroke="none" stroke-width="1"/><line x1="527.65" y1="504.46" x2="527.65" y2="506.41" stroke="#000" stroke-width="0.7"/><line x1="525.65" y1="504.46" x2="529.65" y2="504.46" stroke="#000" stroke-width="0.7"/><circle cx="525.65" cy="507.19" r="1.2" fill="#111"/><circle cx="529.65" cy="505.63" r="1.2" fill="#111"/><circle cx="527.65" cy="507.87" r="1.2" fill="#111"/><rect x="534.60" y="524.88" width="7.10" height="16.52" fill="#a50d0d" stroke="none" stroke-width="1"/><line x1="538.15" y1="523.42" x2="538.15" y2="524.88" stroke="#000" stroke-width="0.7"/><line x1="536.15" y1="523.42" x2="540.15" y2="523.42" stroke="#000" stroke-width="0.7"/><circle cx="536.15" cy="525.65" r="1.2" fill="#111"/><circle cx="540.15" cy="524.10" r="1.2" fill="#111"/><circle cx="538.15" cy="526.33" r="1.2" fill="#111"/><polygon points="538.15,516.96 538.78,518.25 540.20,518.45 539.18,519.45 539.42,520.86 538.15,520.20 536.88,520.86 537.12,519.45 536.10,518.45 537.52,518.25" fill="#000"/><rect x="545.10" y="523.90" width="7.10" height="17.50" fill="#0d0dfa" stroke="none" stroke-width="1"/><line x1="548.65" y1="522.45" x2="548.65" y2="523.90" stroke="#000" stroke-width="0.7"/><line x1="546.65" y1="522.45" x2="550.65" y2="522.45" stroke="#000" stroke-width="0.7"/><circle cx="546.65" cy="524.68" r="1.2" fill="#111"/><circle cx="550.65" cy="523.13" r="1.2" fill="#111"/><circle cx="548.65" cy="525.36" r="1.2" fill="#111"/><polygon points="548.65,515.99 549.28,517.27 550.70,517.48 549.68,518.48 549.92,519.89 548.65,519.23 547.38,519.89 547.62,518.48 546.60,517.48 548.02,517.27" fill="#000"/><rect x="555.60" y="524.88" width="7.10" height="16.52" fill="#c86b12" stroke="none" stroke-width="1"/><line x1="559.15" y1="523.42" x2="559.15" y2="524.88" stroke="#000" stroke-width="0.7"/><line x1="557.15" y1="523.42" x2="561.15" y2="523.42" stroke="#000" stroke-width="0.7"/><circle cx="557.15" cy="525.65" r="1.2" fill="#111"/><circle cx="561.15" cy="524.10" r="1.2" fill="#111"/><circle cx="559.15" cy="526.33" r="1.2" fill="#111"/><polygon points="559.15,516.96 559.78,518.25 561.20,518.45 560.18,519.45 560.42,520.86 559.15,520.20 557.88,520.86 558.12,519.45 557.10,518.45 558.52,518.25" fill="#000"/><rect x="572.70" y="511.27" width="7.10" height="30.13" fill="#a9a9a9" stroke="none" stroke-width="1"/><line x1="576.25" y1="509.81" x2="576.25" y2="511.27" stroke="#000" stroke-width="0.7"/><line x1="574.25" y1="509.81" x2="578.25" y2="509.81" stroke="#000" stroke-width="0.7"/><circle cx="574.25" cy="512.05" r="1.2" fill="#111"/><circle cx="578.25" cy="510.49" r="1.2" fill="#111"/><circle cx="576.25" cy="512.73" r="1.2" fill="#111"/><rect x="583.20" y="519.04" width="7.10" height="22.36" fill="#a50d0d" stroke="none" stroke-width="1"/><line x1="586.75" y1="518.07" x2="586.75" y2="519.04" stroke="#000" stroke-width="0.7"/><line x1="584.75" y1="518.07" x2="588.75" y2="518.07" stroke="#000" stroke-width="0.7"/><circle cx="584.75" cy="519.82" r="1.2" fill="#111"/><circle cx="588.75" cy="518.27" r="1.2" fill="#111"/><circle cx="586.75" cy="520.50" r="1.2" fill="#111"/><rect x="593.70" y="523.90" width="7.10" height="17.50" fill="#0d0dfa" stroke="none" stroke-width="1"/><line x1="597.25" y1="522.45" x2="597.25" y2="523.90" stroke="#000" stroke-width="0.7"/><line x1="595.25" y1="522.45" x2="599.25" y2="522.45" stroke="#000" stroke-width="0.7"/><circle cx="595.25" cy="524.68" r="1.2" fill="#111"/><circle cx="599.25" cy="523.13" r="1.2" fill="#111"/><circle cx="597.25" cy="525.36" r="1.2" fill="#111"/><polygon points="597.25,515.99 597.88,517.27 599.30,517.48 598.28,518.48 598.52,519.89 597.25,519.23 595.98,519.89 596.22,518.48 595.20,517.48 596.62,517.27" fill="#000"/><rect x="604.20" y="538.48" width="7.10" height="2.92" fill="#c86b12" stroke="none" stroke-width="1"/><line x1="607.75" y1="537.03" x2="607.75" y2="538.48" stroke="#000" stroke-width="0.7"/><line x1="605.75" y1="537.03" x2="609.75" y2="537.03" stroke="#000" stroke-width="0.7"/><circle cx="605.75" cy="539.26" r="1.2" fill="#111"/><circle cx="609.75" cy="537.71" r="1.2" fill="#111"/><circle cx="607.75" cy="539.94" r="1.2" fill="#111"/><polygon points="605.43,530.57 606.06,531.85 607.48,532.06 606.45,533.06 606.69,534.47 605.43,533.80 604.16,534.47 604.40,533.06 603.37,532.06 604.79,531.85" fill="#000"/><polygon points="610.07,530.57 610.71,531.85 612.13,532.06 611.10,533.06 611.34,534.47 610.07,533.80 608.81,534.47 609.05,533.06 608.02,532.06 609.44,531.85" fill="#000"/><text x="493.90" y="553.20" font-size="8.1" font-weight="bold" text-anchor="middle" fill="#000">G0/G1</text><text x="542.00" y="553.20" font-size="8.1" font-weight="bold" text-anchor="middle" fill="#000">S</text><text x="592.40" y="553.20" font-size="8.1" font-weight="bold" text-anchor="middle" fill="#000">G2/M</text><text x="448.20" y="491.90" font-size="8.3" font-weight="bold" text-anchor="middle" fill="#000" transform="rotate(-90 448.20 491.90)">% of total cell</text><rect x="553.00" y="447.60" width="10.50" height="3.80" fill="#a9a9a9" stroke="none" stroke-width="1"/><text x="569.30" y="452.00" font-size="6.9" font-weight="bold" fill="#000">Control</text><rect x="553.00" y="456.70" width="10.50" height="3.80" fill="#a50d0d" stroke="none" stroke-width="1"/><text x="569.30" y="461.10" font-size="6.9" font-weight="bold" fill="#000">8a (6.25 μM)</text><rect x="553.00" y="465.40" width="10.50" height="3.80" fill="#0d0dfa" stroke="none" stroke-width="1"/><text x="569.30" y="469.80" font-size="6.9" font-weight="bold" fill="#000">8a (12.5 μM)</text><rect x="553.00" y="474.40" width="10.50" height="3.80" fill="#c86b12" stroke="none" stroke-width="1"/><text x="569.30" y="478.80" font-size="6.9" font-weight="bold" fill="#000">8a (25 μM)</text><text x="6.90" y="570.80" font-size="20.7" fill="#000">f</text><text x="241.50" y="571.80" font-size="9" text-anchor="middle" fill="#1a1a1a">8a (μM)</text><line x1="52.10" y1="575.10" x2="437.60" y2="575.10" stroke="#8a8a8a" stroke-width="1.1"/><line x1="24.50" y1="585.70" x2="437.60" y2="585.70" stroke="#8a8a8a" stroke-width="1.1"/><text x="56.50" y="584.10" font-size="9" text-anchor="middle" fill="#1a1a1a">0</text><text x="145.30" y="584.10" font-size="9" text-anchor="middle" fill="#1a1a1a">3.125</text><text x="236.20" y="584.10" font-size="9" text-anchor="middle" fill="#1a1a1a">6.25</text><text x="321.60" y="584.10" font-size="9" text-anchor="middle" fill="#1a1a1a">12.5</text><text x="405.00" y="584.10" font-size="9" text-anchor="middle" fill="#1a1a1a">25</text><rect x="17.20" y="594.60" width="73.90" height="73.60" fill="#fff" stroke="none" stroke-width="1"/><rect x="17.20" y="644.65" width="30.11" height="23.55" fill="#eef4cb" stroke="none" stroke-width="1"/><text x="54.15" y="592.30" font-size="5.2" text-anchor="middle" fill="#333">APOPTOSIS PROFILE</text><clipPath id="fc31"><rect x="17.20" y="594.60" width="73.90" height="73.60"/></clipPath><g clip-path="url(#fc31)"><ellipse cx="33.83" cy="656.24" rx="7.21" ry="3.59" fill="#ee2a10" fill-opacity="0.95" transform="rotate(-6.0 33.83 656.24)" filter="url(#b10)"/><path d="M36.5 655.9h.8v.8h-.8zM27.3 654.1h.8v.8h-.8zM35.6 655.1h.8v.8h-.8zM34.9 651.6h.8v.8h-.8zM39.3 652.2h.8v.8h-.8zM32.3 657.6h.8v.8h-.8zM27.9 657.3h.8v.8h-.8zM18.0 652.6h.8v.8h-.8zM34.8 655.9h.8v.8h-.8zM39.1 656.9h.8v.8h-.8zM35.4 653.8h.8v.8h-.8zM24.7 651.8h.8v.8h-.8zM34.8 654.3h.8v.8h-.8zM27.8 658.4h.8v.8h-.8zM44.0 657.0h.8v.8h-.8zM31.5 655.0h.8v.8h-.8zM42.4 662.6h.8v.8h-.8zM42.7 654.7h.8v.8h-.8zM39.3 658.7h.8v.8h-.8zM35.8 651.3h.8v.8h-.8zM33.4 658.1h.8v.8h-.8zM31.4 657.9h.8v.8h-.8zM38.7 655.2h.8v.8h-.8zM31.0 654.1h.8v.8h-.8zM27.5 660.9h.8v.8h-.8zM48.6 656.9h.8v.8h-.8zM43.6 655.7h.8v.8h-.8zM32.6 654.7h.8v.8h-.8zM28.9 659.0h.8v.8h-.8zM32.7 657.4h.8v.8h-.8zM38.2 650.2h.8v.8h-.8zM27.0 659.3h.8v.8h-.8zM38.4 654.3h.8v.8h-.8zM40.6 657.8h.8v.8h-.8zM37.5 656.1h.8v.8h-.8zM24.3 655.6h.8v.8h-.8zM24.6 655.3h.8v.8h-.8zM31.3 656.9h.8v.8h-.8zM46.7 650.7h.8v.8h-.8zM36.5 654.8h.8v.8h-.8zM29.4 652.9h.8v.8h-.8zM37.7 658.4h.8v.8h-.8zM24.1 656.9h.8v.8h-.8zM32.9 653.7h.8v.8h-.8zM27.8 659.2h.8v.8h-.8zM36.5 655.7h.8v.8h-.8zM39.6 652.5h.8v.8h-.8zM28.6 663.5h.8v.8h-.8zM34.3 658.3h.8v.8h-.8zM35.4 664.0h.8v.8h-.8zM33.3 655.9h.8v.8h-.8zM30.6 654.9h.8v.8h-.8zM34.6 655.4h.8v.8h-.8zM41.7 651.8h.8v.8h-.8zM41.1 654.5h.8v.8h-.8zM34.8 654.4h.8v.8h-.8zM35.8 658.2h.8v.8h-.8zM36.3 653.3h.8v.8h-.8zM31.5 659.5h.8v.8h-.8zM37.4 658.1h.8v.8h-.8zM25.1 657.5h.8v.8h-.8zM25.3 655.8h.8v.8h-.8zM30.9 656.2h.8v.8h-.8zM40.7 652.4h.8v.8h-.8zM33.4 662.8h.8v.8h-.8zM31.1 659.8h.8v.8h-.8zM39.3 651.2h.8v.8h-.8zM38.1 654.0h.8v.8h-.8zM37.3 653.9h.8v.8h-.8zM31.8 653.7h.8v.8h-.8zM32.2 659.7h.8v.8h-.8zM34.3 651.5h.8v.8h-.8zM32.9 661.4h.8v.8h-.8zM41.3 654.9h.8v.8h-.8zM37.2 657.3h.8v.8h-.8zM36.8 651.2h.8v.8h-.8zM30.1 654.4h.8v.8h-.8zM36.1 658.5h.8v.8h-.8zM35.1 654.4h.8v.8h-.8zM29.0 653.1h.8v.8h-.8zM27.4 653.3h.8v.8h-.8zM37.7 655.1h.8v.8h-.8zM29.3 658.8h.8v.8h-.8zM20.9 657.2h.8v.8h-.8zM33.2 654.6h.8v.8h-.8zM40.0 655.1h.8v.8h-.8zM32.0 653.4h.8v.8h-.8zM33.9 656.2h.8v.8h-.8zM27.0 653.6h.8v.8h-.8zM30.0 650.8h.8v.8h-.8zM28.9 657.9h.8v.8h-.8zM34.5 658.1h.8v.8h-.8zM25.4 660.1h.8v.8h-.8zM29.1 657.2h.8v.8h-.8zM39.8 653.8h.8v.8h-.8zM35.9 653.6h.8v.8h-.8zM21.1 658.9h.8v.8h-.8zM30.7 659.4h.8v.8h-.8zM36.8 657.8h.8v.8h-.8zM27.5 654.1h.8v.8h-.8zM30.1 657.2h.8v.8h-.8zM25.1 654.2h.8v.8h-.8zM34.2 651.9h.8v.8h-.8zM47.0 653.2h.8v.8h-.8zM31.9 658.6h.8v.8h-.8zM43.7 656.0h.8v.8h-.8zM37.7 655.2h.8v.8h-.8zM14.1 657.2h.8v.8h-.8zM34.9 655.5h.8v.8h-.8zM33.2 655.5h.8v.8h-.8zM28.0 654.8h.8v.8h-.8zM31.0 655.9h.8v.8h-.8zM43.7 654.8h.8v.8h-.8zM27.9 655.5h.8v.8h-.8zM25.5 656.3h.8v.8h-.8zM42.3 658.6h.8v.8h-.8zM33.1 658.8h.8v.8h-.8zM35.0 655.1h.8v.8h-.8zM35.0 656.9h.8v.8h-.8zM22.8 659.6h.8v.8h-.8zM31.4 654.0h.8v.8h-.8zM22.2 653.9h.8v.8h-.8zM29.6 661.3h.8v.8h-.8zM42.5 654.5h.8v.8h-.8zM28.5 655.8h.8v.8h-.8zM37.5 660.0h.8v.8h-.8zM41.5 658.1h.8v.8h-.8zM38.8 657.4h.8v.8h-.8zM24.7 658.6h.8v.8h-.8zM30.9 656.0h.8v.8h-.8zM24.2 659.8h.8v.8h-.8zM35.8 657.1h.8v.8h-.8zM30.9 655.1h.8v.8h-.8zM26.2 651.0h.8v.8h-.8zM29.6 655.4h.8v.8h-.8zM33.0 653.4h.8v.8h-.8zM31.4 658.6h.8v.8h-.8zM35.4 654.3h.8v.8h-.8zM33.1 650.4h.8v.8h-.8zM38.3 651.9h.8v.8h-.8zM41.4 652.7h.8v.8h-.8zM32.9 651.6h.8v.8h-.8zM31.8 655.9h.8v.8h-.8zM42.1 652.9h.8v.8h-.8zM27.7 657.5h.8v.8h-.8zM28.7 653.3h.8v.8h-.8zM31.9 656.3h.8v.8h-.8zM30.0 657.9h.8v.8h-.8zM37.8 658.8h.8v.8h-.8zM34.2 657.6h.8v.8h-.8zM31.8 660.0h.8v.8h-.8zM40.6 660.3h.8v.8h-.8zM26.8 657.9h.8v.8h-.8zM34.3 658.3h.8v.8h-.8zM24.5 658.3h.8v.8h-.8zM28.1 658.6h.8v.8h-.8zM43.1 661.4h.8v.8h-.8zM33.7 655.2h.8v.8h-.8zM31.4 657.4h.8v.8h-.8zM40.0 656.4h.8v.8h-.8zM23.8 658.1h.8v.8h-.8zM35.9 657.2h.8v.8h-.8zM30.5 656.0h.8v.8h-.8zM31.0 656.1h.8v.8h-.8zM37.5 657.7h.8v.8h-.8zM24.7 653.2h.8v.8h-.8zM36.1 658.3h.8v.8h-.8zM25.7 656.9h.8v.8h-.8zM35.0 654.8h.8v.8h-.8zM35.9 657.4h.8v.8h-.8zM31.5 660.7h.8v.8h-.8zM29.5 657.9h.8v.8h-.8zM39.9 659.5h.8v.8h-.8zM44.5 652.9h.8v.8h-.8zM30.8 658.2h.8v.8h-.8zM35.1 655.1h.8v.8h-.8zM37.9 660.8h.8v.8h-.8zM31.8 655.0h.8v.8h-.8zM39.0 654.6h.8v.8h-.8zM33.3 655.4h.8v.8h-.8zM30.8 651.6h.8v.8h-.8zM39.0 654.7h.8v.8h-.8zM30.5 656.6h.8v.8h-.8zM35.9 655.8h.8v.8h-.8zM43.1 649.7h.8v.8h-.8zM39.4 659.1h.8v.8h-.8zM37.8 657.4h.8v.8h-.8zM33.9 650.7h.8v.8h-.8zM24.0 660.8h.8v.8h-.8zM30.2 654.3h.8v.8h-.8zM31.5 661.9h.8v.8h-.8zM36.0 654.2h.8v.8h-.8zM40.9 655.4h.8v.8h-.8zM40.2 657.4h.8v.8h-.8zM38.9 652.5h.8v.8h-.8zM32.3 657.4h.8v.8h-.8zM40.8 657.8h.8v.8h-.8zM28.7 656.5h.8v.8h-.8zM37.1 653.4h.8v.8h-.8zM31.1 655.0h.8v.8h-.8zM28.9 659.8h.8v.8h-.8zM47.8 657.2h.8v.8h-.8zM25.2 656.0h.8v.8h-.8zM29.6 654.5h.8v.8h-.8zM19.6 660.5h.8v.8h-.8zM39.8 655.0h.8v.8h-.8zM28.7 652.4h.8v.8h-.8zM39.8 656.7h.8v.8h-.8zM40.4 654.0h.8v.8h-.8zM26.7 658.9h.8v.8h-.8zM34.9 659.2h.8v.8h-.8zM24.8 658.3h.8v.8h-.8zM37.9 655.6h.8v.8h-.8zM28.0 663.6h.8v.8h-.8zM38.1 656.7h.8v.8h-.8zM38.2 656.3h.8v.8h-.8zM30.7 656.0h.8v.8h-.8zM29.4 658.2h.8v.8h-.8zM28.3 662.9h.8v.8h-.8zM39.5 652.9h.8v.8h-.8zM30.3 657.8h.8v.8h-.8zM46.6 653.9h.8v.8h-.8zM31.2 660.0h.8v.8h-.8zM43.3 652.0h.8v.8h-.8zM28.8 654.8h.8v.8h-.8zM28.2 657.7h.8v.8h-.8zM39.8 656.7h.8v.8h-.8zM29.6 660.8h.8v.8h-.8zM36.9 656.7h.8v.8h-.8zM26.6 651.1h.8v.8h-.8zM29.6 658.2h.8v.8h-.8zM35.9 657.0h.8v.8h-.8zM33.8 655.2h.8v.8h-.8zM30.8 659.2h.8v.8h-.8zM31.8 653.6h.8v.8h-.8zM33.6 652.0h.8v.8h-.8zM34.2 658.9h.8v.8h-.8zM35.0 656.8h.8v.8h-.8zM30.9 657.1h.8v.8h-.8zM39.1 653.5h.8v.8h-.8zM35.7 655.5h.8v.8h-.8zM37.4 654.0h.8v.8h-.8zM36.0 658.0h.8v.8h-.8zM40.6 652.5h.8v.8h-.8zM41.4 664.0h.8v.8h-.8zM37.0 655.5h.8v.8h-.8zM18.2 654.0h.8v.8h-.8zM22.7 658.5h.8v.8h-.8zM34.8 653.1h.8v.8h-.8zM32.3 658.2h.8v.8h-.8zM23.6 657.7h.8v.8h-.8zM37.3 659.8h.8v.8h-.8zM42.6 663.6h.8v.8h-.8zM30.5 657.8h.8v.8h-.8zM34.2 655.3h.8v.8h-.8zM40.1 657.5h.8v.8h-.8zM24.8 660.2h.8v.8h-.8zM31.8 658.9h.8v.8h-.8zM31.9 657.0h.8v.8h-.8zM33.7 653.7h.8v.8h-.8zM36.1 659.9h.8v.8h-.8zM29.4 658.2h.8v.8h-.8zM30.6 654.3h.8v.8h-.8zM38.8 655.1h.8v.8h-.8zM42.4 658.3h.8v.8h-.8zM33.9 653.0h.8v.8h-.8zM33.7 658.1h.8v.8h-.8zM29.3 653.7h.8v.8h-.8zM38.5 650.4h.8v.8h-.8zM45.2 654.7h.8v.8h-.8zM31.1 658.8h.8v.8h-.8zM31.2 651.1h.8v.8h-.8zM32.9 658.1h.8v.8h-.8zM32.8 655.2h.8v.8h-.8zM29.8 658.6h.8v.8h-.8zM30.3 652.6h.8v.8h-.8zM33.7 654.7h.8v.8h-.8zM37.1 661.5h.8v.8h-.8zM36.3 659.3h.8v.8h-.8zM31.6 661.7h.8v.8h-.8zM38.4 655.3h.8v.8h-.8zM28.3 653.2h.8v.8h-.8zM29.0 652.6h.8v.8h-.8zM33.2 649.7h.8v.8h-.8zM27.0 655.3h.8v.8h-.8zM26.7 660.4h.8v.8h-.8zM30.3 657.2h.8v.8h-.8zM27.2 655.5h.8v.8h-.8zM43.2 653.3h.8v.8h-.8zM29.4 650.8h.8v.8h-.8zM24.4 652.1h.8v.8h-.8zM32.9 659.0h.8v.8h-.8zM33.8 656.3h.8v.8h-.8zM40.1 653.9h.8v.8h-.8zM31.8 653.8h.8v.8h-.8zM32.1 659.3h.8v.8h-.8zM26.9 659.7h.8v.8h-.8zM35.2 657.2h.8v.8h-.8zM38.2 659.9h.8v.8h-.8zM34.2 655.1h.8v.8h-.8zM34.7 655.1h.8v.8h-.8zM17.5 661.3h.8v.8h-.8zM29.4 656.4h.8v.8h-.8zM41.0 649.3h.8v.8h-.8zM29.9 657.1h.8v.8h-.8zM38.7 657.4h.8v.8h-.8zM40.4 656.1h.8v.8h-.8zM33.7 654.5h.8v.8h-.8zM43.9 655.0h.8v.8h-.8zM29.6 652.7h.8v.8h-.8zM36.9 658.3h.8v.8h-.8zM25.0 657.2h.8v.8h-.8zM30.5 658.5h.8v.8h-.8zM35.3 654.0h.8v.8h-.8zM41.6 655.2h.8v.8h-.8zM27.8 660.3h.8v.8h-.8zM25.5 655.2h.8v.8h-.8zM23.7 658.9h.8v.8h-.8zM26.0 658.1h.8v.8h-.8zM30.8 657.5h.8v.8h-.8zM42.9 653.2h.8v.8h-.8zM31.5 659.5h.8v.8h-.8zM36.8 656.9h.8v.8h-.8zM33.1 659.5h.8v.8h-.8zM36.1 655.2h.8v.8h-.8zM37.4 655.7h.8v.8h-.8zM34.9 659.2h.8v.8h-.8zM40.0 654.8h.8v.8h-.8zM43.4 656.3h.8v.8h-.8zM31.8 653.4h.8v.8h-.8zM31.1 655.0h.8v.8h-.8zM33.2 656.8h.8v.8h-.8zM21.3 656.1h.8v.8h-.8zM34.2 660.2h.8v.8h-.8zM40.5 661.6h.8v.8h-.8zM32.1 649.8h.8v.8h-.8zM38.9 657.8h.8v.8h-.8zM38.3 653.4h.8v.8h-.8zM15.3 657.4h.8v.8h-.8zM34.1 651.9h.8v.8h-.8zM34.3 659.9h.8v.8h-.8zM31.3 650.6h.8v.8h-.8zM33.5 650.9h.8v.8h-.8zM39.0 658.0h.8v.8h-.8zM38.0 655.2h.8v.8h-.8zM37.1 655.3h.8v.8h-.8zM29.4 653.8h.8v.8h-.8zM34.4 657.0h.8v.8h-.8zM33.7 657.6h.8v.8h-.8zM33.6 656.6h.8v.8h-.8zM26.0 651.9h.8v.8h-.8zM35.1 656.8h.8v.8h-.8zM24.5 653.0h.8v.8h-.8zM36.5 653.3h.8v.8h-.8zM33.5 654.0h.8v.8h-.8zM30.8 656.4h.8v.8h-.8zM42.4 649.5h.8v.8h-.8zM34.4 659.9h.8v.8h-.8zM35.8 655.0h.8v.8h-.8zM28.3 659.3h.8v.8h-.8zM48.1 654.7h.8v.8h-.8zM30.7 655.0h.8v.8h-.8zM25.7 661.4h.8v.8h-.8zM29.9 653.9h.8v.8h-.8zM39.8 654.9h.8v.8h-.8zM44.4 659.3h.8v.8h-.8zM27.4 652.3h.8v.8h-.8zM38.5 656.0h.8v.8h-.8zM36.6 657.8h.8v.8h-.8zM45.4 656.7h.8v.8h-.8zM39.4 656.3h.8v.8h-.8zM30.4 660.4h.8v.8h-.8zM32.3 656.8h.8v.8h-.8zM28.8 660.9h.8v.8h-.8zM26.3 661.4h.8v.8h-.8zM41.5 656.6h.8v.8h-.8zM29.7 654.0h.8v.8h-.8zM35.5 654.4h.8v.8h-.8zM39.8 656.2h.8v.8h-.8zM22.5 655.9h.8v.8h-.8zM34.3 657.0h.8v.8h-.8zM28.0 654.9h.8v.8h-.8zM34.6 651.6h.8v.8h-.8zM26.0 660.5h.8v.8h-.8zM36.2 654.7h.8v.8h-.8zM31.5 653.3h.8v.8h-.8zM33.6 653.0h.8v.8h-.8zM32.7 655.5h.8v.8h-.8zM37.0 659.0h.8v.8h-.8zM39.3 657.8h.8v.8h-.8zM38.7 658.8h.8v.8h-.8zM20.7 657.0h.8v.8h-.8zM24.0 651.2h.8v.8h-.8zM22.3 660.6h.8v.8h-.8zM39.6 653.9h.8v.8h-.8zM29.7 651.9h.8v.8h-.8zM43.1 658.4h.8v.8h-.8zM32.2 655.7h.8v.8h-.8zM37.5 656.3h.8v.8h-.8zM37.2 659.2h.8v.8h-.8zM32.8 660.6h.8v.8h-.8zM34.3 653.5h.8v.8h-.8zM27.4 653.9h.8v.8h-.8zM26.6 664.3h.8v.8h-.8zM28.8 657.2h.8v.8h-.8zM38.2 653.9h.8v.8h-.8zM26.8 659.1h.8v.8h-.8zM37.4 655.7h.8v.8h-.8zM27.5 660.3h.8v.8h-.8zM36.7 656.6h.8v.8h-.8zM33.0 659.3h.8v.8h-.8zM26.7 659.0h.8v.8h-.8zM27.5 654.6h.8v.8h-.8zM35.0 656.3h.8v.8h-.8zM12.3 661.4h.8v.8h-.8zM36.8 657.5h.8v.8h-.8zM36.3 662.0h.8v.8h-.8zM27.9 654.8h.8v.8h-.8zM28.5 647.6h.8v.8h-.8zM37.3 652.1h.8v.8h-.8z" fill="#f52a14" fill-opacity="0.9"/><path d="M74.8 626.5h.8v.8h-.8zM57.6 643.1h.8v.8h-.8zM67.5 636.1h.8v.8h-.8zM45.2 639.0h.8v.8h-.8zM48.8 634.1h.8v.8h-.8zM44.5 647.4h.8v.8h-.8zM52.6 638.6h.8v.8h-.8zM45.3 648.7h.8v.8h-.8zM79.7 622.4h.8v.8h-.8zM49.3 654.4h.8v.8h-.8zM42.9 635.2h.8v.8h-.8zM52.9 622.3h.8v.8h-.8zM46.9 644.9h.8v.8h-.8zM54.3 629.1h.8v.8h-.8zM45.4 632.3h.8v.8h-.8zM50.2 639.5h.8v.8h-.8zM48.1 632.7h.8v.8h-.8zM71.2 628.5h.8v.8h-.8zM36.3 663.6h.8v.8h-.8zM55.6 631.9h.8v.8h-.8zM56.0 631.0h.8v.8h-.8zM50.3 629.2h.8v.8h-.8zM58.2 640.5h.8v.8h-.8zM48.1 632.4h.8v.8h-.8zM61.7 636.4h.8v.8h-.8zM59.4 635.3h.8v.8h-.8zM41.2 649.5h.8v.8h-.8zM49.3 657.0h.8v.8h-.8zM56.4 632.2h.8v.8h-.8zM63.6 622.6h.8v.8h-.8zM42.6 644.3h.8v.8h-.8zM66.9 626.4h.8v.8h-.8zM53.7 638.2h.8v.8h-.8zM61.8 633.7h.8v.8h-.8zM53.8 636.4h.8v.8h-.8zM47.8 656.5h.8v.8h-.8zM38.1 637.9h.8v.8h-.8zM69.1 628.2h.8v.8h-.8zM55.2 632.3h.8v.8h-.8zM48.5 634.3h.8v.8h-.8zM60.2 640.1h.8v.8h-.8zM38.6 640.2h.8v.8h-.8zM45.8 639.6h.8v.8h-.8zM46.0 633.1h.8v.8h-.8zM68.3 639.8h.8v.8h-.8zM60.2 632.8h.8v.8h-.8zM49.2 650.4h.8v.8h-.8zM50.5 660.4h.8v.8h-.8zM64.6 627.4h.8v.8h-.8zM53.0 625.6h.8v.8h-.8zM54.0 633.3h.8v.8h-.8zM59.3 644.9h.8v.8h-.8zM46.6 649.3h.8v.8h-.8zM52.2 635.7h.8v.8h-.8zM66.3 635.1h.8v.8h-.8zM52.4 642.3h.8v.8h-.8zM61.6 632.4h.8v.8h-.8zM61.5 626.0h.8v.8h-.8zM47.2 627.6h.8v.8h-.8zM57.3 626.9h.8v.8h-.8zM47.2 638.5h.8v.8h-.8zM49.7 635.4h.8v.8h-.8zM49.4 631.6h.8v.8h-.8zM42.8 636.5h.8v.8h-.8zM59.5 641.6h.8v.8h-.8zM55.4 626.9h.8v.8h-.8zM61.6 619.4h.8v.8h-.8zM59.0 634.0h.8v.8h-.8zM62.1 637.9h.8v.8h-.8zM51.1 637.5h.8v.8h-.8zM59.1 619.5h.8v.8h-.8zM63.6 625.6h.8v.8h-.8zM59.6 621.7h.8v.8h-.8zM55.6 633.7h.8v.8h-.8zM59.1 614.3h.8v.8h-.8zM61.7 631.9h.8v.8h-.8zM62.8 639.6h.8v.8h-.8zM64.5 630.1h.8v.8h-.8zM50.2 634.3h.8v.8h-.8zM55.0 633.9h.8v.8h-.8zM39.4 652.2h.8v.8h-.8zM61.9 640.3h.8v.8h-.8zM35.3 641.7h.8v.8h-.8zM61.4 615.8h.8v.8h-.8zM62.6 633.7h.8v.8h-.8zM52.0 651.1h.8v.8h-.8zM48.3 653.7h.8v.8h-.8zM47.7 653.8h.8v.8h-.8zM47.0 641.4h.8v.8h-.8zM48.6 634.3h.8v.8h-.8z" fill="#f52a14" fill-opacity="0.9"/></g><line x1="47.31" y1="594.60" x2="47.31" y2="668.20" stroke="#ee3a3a" stroke-width="0.9"/><line x1="17.20" y1="644.65" x2="91.10" y2="644.65" stroke="#ee3a3a" stroke-width="0.9"/><rect x="17.20" y="594.60" width="73.90" height="73.60" fill="none" stroke="#555" stroke-width="0.7"/><line x1="17.20" y1="668.20" x2="17.20" y2="669.70" stroke="#555" stroke-width="0.6"/><text x="17.20" y="675.00" font-size="5.6" text-anchor="middle" fill="#333">0</text><line x1="15.70" y1="668.20" x2="17.20" y2="668.20" stroke="#555" stroke-width="0.6"/><text x="15.00" y="670.20" font-size="5.6" text-anchor="end" fill="#333">0</text><line x1="35.67" y1="668.20" x2="35.67" y2="669.70" stroke="#555" stroke-width="0.6"/><text x="35.67" y="675.00" font-size="5.6" text-anchor="middle" fill="#333">1</text><line x1="15.70" y1="649.80" x2="17.20" y2="649.80" stroke="#555" stroke-width="0.6"/><text x="15.00" y="651.80" font-size="5.6" text-anchor="end" fill="#333">1</text><line x1="54.15" y1="668.20" x2="54.15" y2="669.70" stroke="#555" stroke-width="0.6"/><text x="54.15" y="675.00" font-size="5.6" text-anchor="middle" fill="#333">2</text><line x1="15.70" y1="631.40" x2="17.20" y2="631.40" stroke="#555" stroke-width="0.6"/><text x="15.00" y="633.40" font-size="5.6" text-anchor="end" fill="#333">2</text><line x1="72.62" y1="668.20" x2="72.62" y2="669.70" stroke="#555" stroke-width="0.6"/><text x="72.62" y="675.00" font-size="5.6" text-anchor="middle" fill="#333">3</text><line x1="15.70" y1="613.00" x2="17.20" y2="613.00" stroke="#555" stroke-width="0.6"/><text x="15.00" y="615.00" font-size="5.6" text-anchor="end" fill="#333">3</text><line x1="91.10" y1="668.20" x2="91.10" y2="669.70" stroke="#555" stroke-width="0.6"/><text x="91.10" y="675.00" font-size="5.6" text-anchor="middle" fill="#333">4</text><line x1="15.70" y1="594.60" x2="17.20" y2="594.60" stroke="#555" stroke-width="0.6"/><text x="15.00" y="596.60" font-size="5.6" text-anchor="end" fill="#333">4</text><text x="7.70" y="631.40" font-size="5" text-anchor="middle" fill="#333" transform="rotate(-90 7.70 631.40)">VIABILITY</text><text x="54.15" y="682.10" font-size="5.2" text-anchor="middle" fill="#333">ANNEXIN V</text><text x="21.70" y="682.10" font-size="3.8" text-anchor="middle" fill="#888">Live</text><text x="82.10" y="682.10" font-size="3.8" text-anchor="middle" fill="#888">Apoptotic</text><text x="18.50" y="600.40" font-size="4.8" fill="#222">Dead</text><text x="18.50" y="606.90" font-size="4.8" fill="#222">0.74 %</text><text x="89.80" y="600.40" font-size="4.8" text-anchor="end" fill="#222">Late Apop./Dead</text><text x="89.80" y="606.90" font-size="4.8" text-anchor="end" fill="#222">2.08 %</text><text x="18.50" y="659.60" font-size="4.8" fill="#222">93.78 %</text><text x="18.50" y="666.00" font-size="4.8" fill="#222">Live</text><text x="89.80" y="659.60" font-size="4.8" text-anchor="end" fill="#222">3.40 %</text><text x="89.80" y="666.00" font-size="4.8" text-anchor="end" fill="#222">Early Apop.</text><rect x="106.90" y="595.80" width="72.40" height="72.40" fill="#fff" stroke="none" stroke-width="1"/><rect x="106.90" y="645.03" width="29.50" height="23.17" fill="#eef4cb" stroke="none" stroke-width="1"/><text x="143.10" y="593.50" font-size="5.2" text-anchor="middle" fill="#333">APOPTOSIS PROFILE</text><clipPath id="fc32"><rect x="106.90" y="595.80" width="72.40" height="72.40"/></clipPath><g clip-path="url(#fc32)"><ellipse cx="123.19" cy="655.89" rx="6.59" ry="3.29" fill="#ee2a10" fill-opacity="0.95" transform="rotate(-8.0 123.19 655.89)" filter="url(#b10)"/><path d="M126.3 654.8h.8v.8h-.8zM119.6 651.2h.8v.8h-.8zM115.1 656.6h.8v.8h-.8zM128.1 653.7h.8v.8h-.8zM126.6 658.1h.8v.8h-.8zM133.0 656.7h.8v.8h-.8zM123.1 655.8h.8v.8h-.8zM123.3 657.2h.8v.8h-.8zM131.4 654.8h.8v.8h-.8zM128.5 659.3h.8v.8h-.8zM126.4 656.0h.8v.8h-.8zM125.4 655.1h.8v.8h-.8zM125.6 655.8h.8v.8h-.8zM123.7 655.4h.8v.8h-.8zM124.5 655.5h.8v.8h-.8zM121.4 654.9h.8v.8h-.8zM118.9 651.0h.8v.8h-.8zM127.8 651.5h.8v.8h-.8zM122.7 659.2h.8v.8h-.8zM115.5 658.6h.8v.8h-.8zM120.1 657.1h.8v.8h-.8zM121.4 654.4h.8v.8h-.8zM111.0 652.8h.8v.8h-.8zM121.5 655.6h.8v.8h-.8zM114.0 656.1h.8v.8h-.8zM115.8 655.3h.8v.8h-.8zM124.7 655.3h.8v.8h-.8zM122.4 656.6h.8v.8h-.8zM121.6 653.7h.8v.8h-.8zM123.7 655.2h.8v.8h-.8zM135.7 654.4h.8v.8h-.8zM118.5 662.0h.8v.8h-.8zM110.6 656.8h.8v.8h-.8zM127.8 658.1h.8v.8h-.8zM117.2 657.0h.8v.8h-.8zM123.9 653.4h.8v.8h-.8zM122.6 657.6h.8v.8h-.8zM126.7 657.9h.8v.8h-.8zM115.7 659.4h.8v.8h-.8zM121.5 657.1h.8v.8h-.8zM123.2 655.8h.8v.8h-.8zM135.5 653.6h.8v.8h-.8zM112.1 660.6h.8v.8h-.8zM124.0 657.9h.8v.8h-.8zM134.4 655.9h.8v.8h-.8zM121.2 655.8h.8v.8h-.8zM121.9 654.7h.8v.8h-.8zM121.8 655.3h.8v.8h-.8zM120.0 663.0h.8v.8h-.8zM125.3 651.5h.8v.8h-.8zM118.2 657.8h.8v.8h-.8zM127.3 656.8h.8v.8h-.8zM123.8 656.4h.8v.8h-.8zM126.3 655.9h.8v.8h-.8zM133.7 654.7h.8v.8h-.8zM121.8 659.7h.8v.8h-.8zM123.7 658.2h.8v.8h-.8zM126.5 654.1h.8v.8h-.8zM136.9 656.5h.8v.8h-.8zM123.9 653.2h.8v.8h-.8zM112.7 655.3h.8v.8h-.8zM132.7 654.8h.8v.8h-.8zM123.1 652.8h.8v.8h-.8zM124.7 655.0h.8v.8h-.8zM127.6 657.4h.8v.8h-.8zM133.2 655.8h.8v.8h-.8zM123.2 656.9h.8v.8h-.8zM109.8 661.3h.8v.8h-.8zM121.3 656.1h.8v.8h-.8zM129.2 648.5h.8v.8h-.8zM127.0 655.8h.8v.8h-.8zM119.8 652.7h.8v.8h-.8zM119.9 656.3h.8v.8h-.8zM130.2 655.5h.8v.8h-.8zM122.5 655.6h.8v.8h-.8zM114.7 657.0h.8v.8h-.8zM124.1 654.8h.8v.8h-.8zM121.3 661.6h.8v.8h-.8zM119.1 654.3h.8v.8h-.8zM119.2 658.6h.8v.8h-.8zM126.0 654.2h.8v.8h-.8zM124.1 654.2h.8v.8h-.8zM127.5 654.2h.8v.8h-.8zM125.1 651.0h.8v.8h-.8zM117.5 650.7h.8v.8h-.8zM124.7 657.6h.8v.8h-.8zM126.9 652.9h.8v.8h-.8zM117.0 656.0h.8v.8h-.8zM127.7 653.3h.8v.8h-.8zM123.5 658.6h.8v.8h-.8zM122.8 650.3h.8v.8h-.8zM118.5 648.6h.8v.8h-.8zM123.1 656.1h.8v.8h-.8zM120.5 655.7h.8v.8h-.8zM124.4 658.3h.8v.8h-.8zM133.9 651.7h.8v.8h-.8zM125.3 658.9h.8v.8h-.8zM121.4 656.5h.8v.8h-.8zM127.5 655.7h.8v.8h-.8zM117.4 656.9h.8v.8h-.8zM122.2 655.9h.8v.8h-.8zM127.8 657.2h.8v.8h-.8zM115.3 653.6h.8v.8h-.8zM128.3 658.4h.8v.8h-.8zM127.1 656.8h.8v.8h-.8zM126.9 654.1h.8v.8h-.8zM116.0 659.2h.8v.8h-.8zM122.5 659.4h.8v.8h-.8zM117.1 658.7h.8v.8h-.8zM122.4 656.2h.8v.8h-.8zM119.3 656.9h.8v.8h-.8zM129.5 653.8h.8v.8h-.8zM125.4 657.4h.8v.8h-.8zM119.8 659.3h.8v.8h-.8zM118.9 660.9h.8v.8h-.8zM122.5 656.9h.8v.8h-.8zM119.7 657.8h.8v.8h-.8zM116.6 654.7h.8v.8h-.8zM126.5 652.5h.8v.8h-.8zM125.1 656.1h.8v.8h-.8zM127.9 658.5h.8v.8h-.8zM116.1 654.2h.8v.8h-.8zM125.8 654.9h.8v.8h-.8zM130.3 655.2h.8v.8h-.8zM124.5 654.6h.8v.8h-.8zM117.2 655.5h.8v.8h-.8zM126.4 655.7h.8v.8h-.8zM119.6 658.3h.8v.8h-.8zM111.9 659.1h.8v.8h-.8zM130.3 652.0h.8v.8h-.8zM122.7 657.9h.8v.8h-.8zM129.3 652.5h.8v.8h-.8zM126.0 657.4h.8v.8h-.8zM127.4 653.1h.8v.8h-.8zM120.9 658.2h.8v.8h-.8zM121.2 655.5h.8v.8h-.8zM125.5 654.3h.8v.8h-.8zM123.3 657.1h.8v.8h-.8zM125.0 653.1h.8v.8h-.8zM124.1 654.0h.8v.8h-.8zM122.9 657.7h.8v.8h-.8zM121.2 656.5h.8v.8h-.8zM115.4 657.1h.8v.8h-.8zM120.1 655.7h.8v.8h-.8zM127.2 655.1h.8v.8h-.8zM121.2 655.5h.8v.8h-.8zM117.8 655.1h.8v.8h-.8zM130.1 653.8h.8v.8h-.8zM130.8 656.2h.8v.8h-.8zM114.1 655.3h.8v.8h-.8zM134.9 656.8h.8v.8h-.8zM131.4 656.3h.8v.8h-.8zM131.2 656.6h.8v.8h-.8zM122.0 654.8h.8v.8h-.8zM115.3 656.4h.8v.8h-.8zM122.6 653.6h.8v.8h-.8zM124.5 655.4h.8v.8h-.8zM122.6 651.1h.8v.8h-.8zM125.9 655.1h.8v.8h-.8zM112.4 653.1h.8v.8h-.8zM123.5 655.1h.8v.8h-.8zM127.6 654.8h.8v.8h-.8zM130.7 655.0h.8v.8h-.8zM126.2 655.0h.8v.8h-.8zM126.8 654.6h.8v.8h-.8zM125.8 654.8h.8v.8h-.8zM124.5 654.1h.8v.8h-.8zM120.0 658.0h.8v.8h-.8zM123.4 655.5h.8v.8h-.8zM129.8 658.9h.8v.8h-.8zM130.7 656.4h.8v.8h-.8zM119.1 655.4h.8v.8h-.8zM125.0 653.2h.8v.8h-.8zM112.8 654.1h.8v.8h-.8zM125.6 652.0h.8v.8h-.8zM122.3 659.6h.8v.8h-.8zM122.1 656.5h.8v.8h-.8zM126.9 653.1h.8v.8h-.8zM112.9 660.8h.8v.8h-.8zM124.0 657.5h.8v.8h-.8zM128.4 651.9h.8v.8h-.8zM134.3 654.4h.8v.8h-.8zM129.0 653.6h.8v.8h-.8zM124.4 656.6h.8v.8h-.8zM128.9 653.2h.8v.8h-.8zM123.1 656.3h.8v.8h-.8zM114.4 655.9h.8v.8h-.8zM124.0 658.3h.8v.8h-.8zM130.2 655.0h.8v.8h-.8zM118.0 657.0h.8v.8h-.8zM117.7 658.3h.8v.8h-.8zM116.8 656.2h.8v.8h-.8zM115.1 658.3h.8v.8h-.8zM123.5 656.4h.8v.8h-.8zM124.0 657.6h.8v.8h-.8zM120.1 655.4h.8v.8h-.8zM121.4 653.7h.8v.8h-.8zM120.9 655.8h.8v.8h-.8zM121.7 653.4h.8v.8h-.8zM118.5 654.4h.8v.8h-.8zM129.1 654.0h.8v.8h-.8zM130.1 657.5h.8v.8h-.8zM114.6 658.3h.8v.8h-.8zM120.9 655.1h.8v.8h-.8zM120.3 657.4h.8v.8h-.8zM121.9 651.8h.8v.8h-.8zM120.1 656.3h.8v.8h-.8zM124.9 651.8h.8v.8h-.8zM116.8 660.8h.8v.8h-.8zM122.9 657.9h.8v.8h-.8zM120.1 661.1h.8v.8h-.8zM131.4 658.8h.8v.8h-.8zM125.5 654.2h.8v.8h-.8zM127.5 651.4h.8v.8h-.8zM120.9 659.1h.8v.8h-.8zM124.9 653.3h.8v.8h-.8zM122.7 656.5h.8v.8h-.8zM129.3 657.7h.8v.8h-.8zM132.9 658.6h.8v.8h-.8zM118.9 656.5h.8v.8h-.8zM118.9 654.3h.8v.8h-.8zM120.0 657.4h.8v.8h-.8zM121.7 653.1h.8v.8h-.8zM123.1 656.3h.8v.8h-.8zM129.2 657.4h.8v.8h-.8zM116.7 656.6h.8v.8h-.8zM125.5 658.0h.8v.8h-.8zM122.2 655.0h.8v.8h-.8zM122.3 655.2h.8v.8h-.8zM123.0 652.4h.8v.8h-.8zM116.2 652.3h.8v.8h-.8zM113.7 655.9h.8v.8h-.8zM126.9 648.9h.8v.8h-.8zM129.8 659.5h.8v.8h-.8zM125.3 658.5h.8v.8h-.8zM128.7 651.4h.8v.8h-.8zM128.6 656.1h.8v.8h-.8zM123.9 659.3h.8v.8h-.8zM124.6 661.1h.8v.8h-.8zM121.5 657.2h.8v.8h-.8zM117.3 655.3h.8v.8h-.8zM124.4 651.9h.8v.8h-.8zM122.2 655.1h.8v.8h-.8zM118.0 653.3h.8v.8h-.8zM120.2 657.8h.8v.8h-.8zM116.4 654.7h.8v.8h-.8zM124.6 656.7h.8v.8h-.8zM124.9 653.3h.8v.8h-.8zM123.8 654.3h.8v.8h-.8zM122.3 654.7h.8v.8h-.8zM128.4 654.8h.8v.8h-.8zM116.7 655.2h.8v.8h-.8zM134.1 657.3h.8v.8h-.8zM119.1 656.0h.8v.8h-.8zM119.1 658.1h.8v.8h-.8zM113.4 660.0h.8v.8h-.8zM124.1 663.1h.8v.8h-.8zM126.4 659.5h.8v.8h-.8zM131.5 655.2h.8v.8h-.8zM123.1 659.6h.8v.8h-.8zM129.3 655.9h.8v.8h-.8zM117.8 654.3h.8v.8h-.8zM126.4 651.5h.8v.8h-.8zM118.5 656.7h.8v.8h-.8zM119.6 659.7h.8v.8h-.8zM119.8 657.6h.8v.8h-.8zM122.4 656.0h.8v.8h-.8zM122.3 655.7h.8v.8h-.8zM121.5 656.6h.8v.8h-.8zM124.2 651.5h.8v.8h-.8zM122.2 657.7h.8v.8h-.8zM135.7 653.5h.8v.8h-.8zM121.6 655.7h.8v.8h-.8zM114.0 657.5h.8v.8h-.8zM119.7 657.4h.8v.8h-.8zM118.4 656.6h.8v.8h-.8zM131.7 656.5h.8v.8h-.8zM125.0 652.4h.8v.8h-.8zM124.4 657.3h.8v.8h-.8zM127.3 653.0h.8v.8h-.8zM119.8 658.2h.8v.8h-.8zM116.6 657.4h.8v.8h-.8zM122.4 657.0h.8v.8h-.8zM121.7 654.9h.8v.8h-.8zM125.1 650.3h.8v.8h-.8zM116.3 659.8h.8v.8h-.8zM120.3 655.2h.8v.8h-.8zM130.7 653.0h.8v.8h-.8zM128.5 658.4h.8v.8h-.8zM124.7 651.6h.8v.8h-.8zM126.6 656.9h.8v.8h-.8zM108.6 657.1h.8v.8h-.8zM125.4 652.2h.8v.8h-.8zM124.3 658.9h.8v.8h-.8zM128.3 656.9h.8v.8h-.8zM125.7 653.6h.8v.8h-.8zM120.8 653.4h.8v.8h-.8zM116.4 653.3h.8v.8h-.8zM116.8 659.7h.8v.8h-.8zM121.6 656.6h.8v.8h-.8zM124.3 654.6h.8v.8h-.8zM122.2 658.3h.8v.8h-.8zM128.0 660.1h.8v.8h-.8zM127.7 658.4h.8v.8h-.8zM123.4 654.9h.8v.8h-.8zM114.1 656.6h.8v.8h-.8zM124.7 656.4h.8v.8h-.8zM128.2 654.6h.8v.8h-.8zM119.7 657.6h.8v.8h-.8zM120.1 660.1h.8v.8h-.8zM128.8 660.3h.8v.8h-.8zM128.8 650.1h.8v.8h-.8zM129.5 653.8h.8v.8h-.8zM123.6 657.1h.8v.8h-.8zM122.4 652.2h.8v.8h-.8zM121.0 655.6h.8v.8h-.8zM129.8 654.2h.8v.8h-.8zM125.1 654.6h.8v.8h-.8zM122.7 652.9h.8v.8h-.8zM127.2 654.4h.8v.8h-.8zM122.4 654.1h.8v.8h-.8zM123.2 658.7h.8v.8h-.8zM125.8 661.2h.8v.8h-.8zM126.7 656.1h.8v.8h-.8zM122.0 657.2h.8v.8h-.8zM130.2 654.4h.8v.8h-.8zM120.2 656.5h.8v.8h-.8zM121.0 652.3h.8v.8h-.8zM121.3 656.8h.8v.8h-.8zM123.8 656.2h.8v.8h-.8zM117.4 654.5h.8v.8h-.8zM123.4 654.4h.8v.8h-.8zM112.3 657.7h.8v.8h-.8zM124.5 654.8h.8v.8h-.8zM118.6 650.3h.8v.8h-.8zM129.7 654.3h.8v.8h-.8zM115.8 661.5h.8v.8h-.8zM128.8 652.2h.8v.8h-.8zM113.5 654.6h.8v.8h-.8zM129.6 656.7h.8v.8h-.8zM121.4 657.0h.8v.8h-.8zM119.1 651.3h.8v.8h-.8zM120.7 657.6h.8v.8h-.8zM126.5 651.3h.8v.8h-.8zM125.1 659.1h.8v.8h-.8zM124.6 657.3h.8v.8h-.8zM113.0 656.5h.8v.8h-.8zM122.4 658.4h.8v.8h-.8zM115.5 653.5h.8v.8h-.8zM121.9 657.5h.8v.8h-.8zM121.2 654.5h.8v.8h-.8zM119.9 654.0h.8v.8h-.8zM123.9 655.8h.8v.8h-.8zM122.6 658.6h.8v.8h-.8zM128.8 655.1h.8v.8h-.8zM120.3 658.0h.8v.8h-.8zM126.1 650.8h.8v.8h-.8zM125.3 658.4h.8v.8h-.8zM119.6 659.5h.8v.8h-.8zM119.1 657.3h.8v.8h-.8zM120.5 654.9h.8v.8h-.8zM122.0 655.2h.8v.8h-.8zM124.4 657.8h.8v.8h-.8zM126.6 655.3h.8v.8h-.8zM125.8 658.7h.8v.8h-.8zM123.7 655.1h.8v.8h-.8zM118.0 654.5h.8v.8h-.8zM121.1 656.9h.8v.8h-.8zM124.3 660.5h.8v.8h-.8zM110.2 658.8h.8v.8h-.8zM123.6 654.0h.8v.8h-.8zM126.2 650.6h.8v.8h-.8zM125.4 657.0h.8v.8h-.8zM122.5 658.2h.8v.8h-.8zM124.7 657.7h.8v.8h-.8zM118.0 658.7h.8v.8h-.8zM115.1 659.6h.8v.8h-.8zM120.3 657.3h.8v.8h-.8zM120.5 654.7h.8v.8h-.8zM117.9 656.7h.8v.8h-.8z" fill="#f52a14" fill-opacity="0.9"/><ellipse cx="148.53" cy="629.28" rx="6.59" ry="8.24" fill="#ee2a10" fill-opacity="0.2" transform="rotate(-20.0 148.53 629.28)" filter="url(#b10)"/><path d="M144.1 632.0h.8v.8h-.8zM150.4 633.8h.8v.8h-.8zM143.1 631.5h.8v.8h-.8zM143.8 632.3h.8v.8h-.8zM147.5 629.7h.8v.8h-.8zM145.0 631.7h.8v.8h-.8zM146.6 628.8h.8v.8h-.8zM152.7 624.1h.8v.8h-.8zM148.3 629.7h.8v.8h-.8zM151.5 629.3h.8v.8h-.8zM147.0 626.3h.8v.8h-.8zM158.0 626.9h.8v.8h-.8zM156.7 626.1h.8v.8h-.8zM148.9 631.6h.8v.8h-.8zM146.6 619.0h.8v.8h-.8zM145.8 629.9h.8v.8h-.8zM144.0 628.3h.8v.8h-.8zM145.0 638.8h.8v.8h-.8zM144.8 631.5h.8v.8h-.8zM142.0 637.5h.8v.8h-.8zM136.7 623.6h.8v.8h-.8zM146.4 630.0h.8v.8h-.8zM144.0 627.6h.8v.8h-.8zM143.8 624.2h.8v.8h-.8zM147.3 635.8h.8v.8h-.8zM147.1 639.8h.8v.8h-.8zM151.1 609.3h.8v.8h-.8zM161.2 620.9h.8v.8h-.8zM148.9 639.1h.8v.8h-.8zM158.2 623.1h.8v.8h-.8zM149.2 624.6h.8v.8h-.8zM152.9 630.7h.8v.8h-.8zM156.1 626.3h.8v.8h-.8zM153.7 631.1h.8v.8h-.8zM155.5 626.7h.8v.8h-.8zM145.5 628.0h.8v.8h-.8zM144.9 632.8h.8v.8h-.8zM160.4 622.2h.8v.8h-.8zM155.7 630.1h.8v.8h-.8zM153.0 632.4h.8v.8h-.8zM151.1 627.8h.8v.8h-.8zM149.9 622.4h.8v.8h-.8zM149.6 627.4h.8v.8h-.8zM144.0 640.1h.8v.8h-.8zM156.1 627.8h.8v.8h-.8zM152.1 629.5h.8v.8h-.8zM148.5 623.1h.8v.8h-.8zM150.6 627.9h.8v.8h-.8zM145.3 624.8h.8v.8h-.8zM152.9 630.4h.8v.8h-.8zM145.8 633.0h.8v.8h-.8zM155.9 628.6h.8v.8h-.8zM147.8 629.2h.8v.8h-.8zM148.3 634.8h.8v.8h-.8zM149.0 632.8h.8v.8h-.8zM153.4 631.5h.8v.8h-.8zM143.3 633.1h.8v.8h-.8zM147.3 625.1h.8v.8h-.8zM145.4 625.2h.8v.8h-.8zM150.8 626.3h.8v.8h-.8zM149.5 631.5h.8v.8h-.8zM160.0 622.0h.8v.8h-.8zM148.9 619.8h.8v.8h-.8zM143.5 619.7h.8v.8h-.8zM151.3 624.6h.8v.8h-.8zM146.9 633.1h.8v.8h-.8zM145.4 626.7h.8v.8h-.8zM151.5 634.7h.8v.8h-.8zM144.6 631.1h.8v.8h-.8zM161.3 614.5h.8v.8h-.8zM147.0 628.0h.8v.8h-.8zM146.2 629.4h.8v.8h-.8zM145.7 628.7h.8v.8h-.8zM144.2 636.6h.8v.8h-.8zM160.3 624.9h.8v.8h-.8zM146.1 624.0h.8v.8h-.8zM158.5 610.7h.8v.8h-.8zM151.8 631.9h.8v.8h-.8zM148.2 633.3h.8v.8h-.8zM149.6 628.5h.8v.8h-.8zM146.1 624.9h.8v.8h-.8zM148.5 625.3h.8v.8h-.8zM147.6 633.7h.8v.8h-.8zM147.2 625.4h.8v.8h-.8zM160.3 619.6h.8v.8h-.8zM147.6 631.3h.8v.8h-.8zM152.1 626.1h.8v.8h-.8zM151.0 624.5h.8v.8h-.8zM148.4 640.2h.8v.8h-.8zM148.6 630.3h.8v.8h-.8zM147.0 638.5h.8v.8h-.8zM145.8 633.0h.8v.8h-.8zM146.5 632.3h.8v.8h-.8zM139.3 636.4h.8v.8h-.8zM148.0 640.1h.8v.8h-.8zM152.3 629.1h.8v.8h-.8zM149.2 623.9h.8v.8h-.8zM147.4 634.1h.8v.8h-.8zM153.7 620.7h.8v.8h-.8zM148.8 630.4h.8v.8h-.8zM144.3 634.0h.8v.8h-.8zM143.2 626.6h.8v.8h-.8zM150.5 632.7h.8v.8h-.8zM149.9 624.9h.8v.8h-.8zM151.5 628.2h.8v.8h-.8zM143.8 633.8h.8v.8h-.8zM149.6 634.1h.8v.8h-.8zM150.5 643.8h.8v.8h-.8zM153.4 621.4h.8v.8h-.8zM156.3 630.1h.8v.8h-.8zM153.5 632.3h.8v.8h-.8zM144.5 632.8h.8v.8h-.8zM146.3 631.4h.8v.8h-.8zM143.5 635.4h.8v.8h-.8zM158.8 629.7h.8v.8h-.8zM143.9 630.2h.8v.8h-.8zM152.1 631.3h.8v.8h-.8zM145.7 632.9h.8v.8h-.8zM152.0 634.0h.8v.8h-.8zM148.3 629.4h.8v.8h-.8zM140.9 627.3h.8v.8h-.8zM153.5 640.3h.8v.8h-.8zM147.5 623.8h.8v.8h-.8zM151.1 619.1h.8v.8h-.8zM147.2 629.1h.8v.8h-.8zM145.3 631.1h.8v.8h-.8zM152.4 635.0h.8v.8h-.8zM154.6 623.6h.8v.8h-.8zM143.4 634.2h.8v.8h-.8zM152.7 624.6h.8v.8h-.8zM160.7 613.2h.8v.8h-.8zM149.8 627.2h.8v.8h-.8zM146.5 624.1h.8v.8h-.8zM145.2 623.3h.8v.8h-.8zM152.1 630.4h.8v.8h-.8zM148.3 627.1h.8v.8h-.8zM144.2 630.6h.8v.8h-.8zM154.5 621.7h.8v.8h-.8zM156.4 627.2h.8v.8h-.8zM149.4 619.7h.8v.8h-.8zM140.9 640.3h.8v.8h-.8zM153.9 625.0h.8v.8h-.8zM145.6 632.9h.8v.8h-.8zM150.3 624.6h.8v.8h-.8zM138.7 636.4h.8v.8h-.8zM144.6 636.3h.8v.8h-.8zM145.3 634.8h.8v.8h-.8zM146.2 623.5h.8v.8h-.8zM146.1 631.3h.8v.8h-.8zM152.4 628.8h.8v.8h-.8zM148.3 625.0h.8v.8h-.8zM156.5 632.2h.8v.8h-.8zM148.0 630.4h.8v.8h-.8zM148.4 627.7h.8v.8h-.8zM145.1 632.1h.8v.8h-.8zM149.7 619.3h.8v.8h-.8zM157.6 619.1h.8v.8h-.8zM155.1 612.8h.8v.8h-.8zM144.0 641.4h.8v.8h-.8zM146.4 623.8h.8v.8h-.8zM146.1 642.4h.8v.8h-.8zM146.1 630.8h.8v.8h-.8zM151.2 627.8h.8v.8h-.8zM144.1 635.0h.8v.8h-.8zM146.9 632.8h.8v.8h-.8zM152.0 624.2h.8v.8h-.8zM149.8 625.5h.8v.8h-.8zM144.2 627.3h.8v.8h-.8zM155.4 626.9h.8v.8h-.8zM159.0 617.0h.8v.8h-.8zM150.6 628.1h.8v.8h-.8zM147.5 637.4h.8v.8h-.8zM145.1 638.9h.8v.8h-.8zM145.0 623.7h.8v.8h-.8zM150.5 632.6h.8v.8h-.8zM154.2 617.9h.8v.8h-.8zM135.9 641.5h.8v.8h-.8zM149.4 628.1h.8v.8h-.8zM145.4 636.4h.8v.8h-.8zM147.8 622.9h.8v.8h-.8zM152.2 629.4h.8v.8h-.8zM148.8 634.0h.8v.8h-.8zM148.6 635.6h.8v.8h-.8zM153.2 619.6h.8v.8h-.8zM138.8 634.2h.8v.8h-.8zM151.4 627.9h.8v.8h-.8zM140.4 630.0h.8v.8h-.8zM149.7 626.4h.8v.8h-.8zM150.8 628.1h.8v.8h-.8zM141.1 634.7h.8v.8h-.8zM145.0 636.3h.8v.8h-.8zM146.1 633.7h.8v.8h-.8zM147.2 635.1h.8v.8h-.8zM148.8 627.3h.8v.8h-.8zM151.4 616.9h.8v.8h-.8zM136.9 636.6h.8v.8h-.8zM144.1 627.8h.8v.8h-.8zM154.0 628.4h.8v.8h-.8zM148.0 626.4h.8v.8h-.8zM150.2 628.4h.8v.8h-.8zM150.1 632.7h.8v.8h-.8zM151.4 633.4h.8v.8h-.8zM147.4 616.7h.8v.8h-.8zM146.5 640.8h.8v.8h-.8zM156.0 618.0h.8v.8h-.8zM150.2 623.6h.8v.8h-.8zM154.6 623.3h.8v.8h-.8zM145.0 639.8h.8v.8h-.8zM151.2 627.6h.8v.8h-.8zM140.8 628.6h.8v.8h-.8zM148.5 617.5h.8v.8h-.8zM148.3 623.8h.8v.8h-.8zM147.0 633.7h.8v.8h-.8zM150.9 627.6h.8v.8h-.8zM156.2 631.9h.8v.8h-.8zM148.6 628.6h.8v.8h-.8zM136.6 637.1h.8v.8h-.8zM149.4 629.1h.8v.8h-.8zM151.9 619.0h.8v.8h-.8zM143.0 639.0h.8v.8h-.8zM148.4 632.8h.8v.8h-.8zM143.5 639.1h.8v.8h-.8zM155.1 635.0h.8v.8h-.8zM152.1 619.6h.8v.8h-.8zM146.3 628.8h.8v.8h-.8zM150.5 632.2h.8v.8h-.8zM147.1 622.3h.8v.8h-.8zM154.4 616.2h.8v.8h-.8zM146.4 626.3h.8v.8h-.8zM146.9 633.0h.8v.8h-.8zM156.9 625.7h.8v.8h-.8zM151.5 626.4h.8v.8h-.8zM151.8 636.5h.8v.8h-.8zM156.7 624.2h.8v.8h-.8zM141.4 631.3h.8v.8h-.8zM145.6 631.0h.8v.8h-.8zM153.8 631.3h.8v.8h-.8zM152.7 626.0h.8v.8h-.8zM156.1 633.0h.8v.8h-.8zM153.0 633.6h.8v.8h-.8z" fill="#f52a14" fill-opacity="0.9"/><path d="M125.7 647.7h.8v.8h-.8zM116.6 671.9h.8v.8h-.8zM134.5 634.5h.8v.8h-.8zM135.1 652.1h.8v.8h-.8zM135.2 639.5h.8v.8h-.8zM144.4 633.3h.8v.8h-.8zM135.9 645.5h.8v.8h-.8zM142.6 662.2h.8v.8h-.8zM143.5 653.7h.8v.8h-.8zM129.8 648.5h.8v.8h-.8zM139.1 662.5h.8v.8h-.8zM139.8 654.0h.8v.8h-.8zM154.8 632.5h.8v.8h-.8zM132.3 633.5h.8v.8h-.8zM135.2 656.4h.8v.8h-.8zM138.1 637.9h.8v.8h-.8zM147.8 646.4h.8v.8h-.8zM149.2 649.8h.8v.8h-.8zM134.9 659.2h.8v.8h-.8zM152.5 625.8h.8v.8h-.8zM157.8 633.6h.8v.8h-.8zM138.3 636.5h.8v.8h-.8zM141.1 649.2h.8v.8h-.8zM149.7 632.6h.8v.8h-.8zM121.6 663.7h.8v.8h-.8zM130.3 659.0h.8v.8h-.8zM137.3 643.4h.8v.8h-.8zM122.6 670.6h.8v.8h-.8zM131.1 651.7h.8v.8h-.8zM152.4 644.7h.8v.8h-.8zM143.6 655.2h.8v.8h-.8zM137.3 627.0h.8v.8h-.8zM128.4 652.7h.8v.8h-.8zM135.3 644.3h.8v.8h-.8zM139.4 657.4h.8v.8h-.8zM149.2 646.9h.8v.8h-.8zM136.2 641.8h.8v.8h-.8zM123.7 669.5h.8v.8h-.8zM142.0 642.7h.8v.8h-.8zM136.1 643.8h.8v.8h-.8zM136.0 645.7h.8v.8h-.8zM143.2 646.2h.8v.8h-.8zM149.4 648.4h.8v.8h-.8zM151.7 643.3h.8v.8h-.8zM142.1 643.3h.8v.8h-.8zM150.7 643.0h.8v.8h-.8zM149.1 646.3h.8v.8h-.8zM121.6 652.3h.8v.8h-.8zM141.3 654.4h.8v.8h-.8zM124.3 649.6h.8v.8h-.8zM133.8 655.7h.8v.8h-.8zM131.1 648.1h.8v.8h-.8zM140.9 640.9h.8v.8h-.8zM154.1 645.2h.8v.8h-.8zM142.1 641.3h.8v.8h-.8zM128.4 656.1h.8v.8h-.8zM132.1 648.5h.8v.8h-.8zM154.9 633.2h.8v.8h-.8zM147.0 637.3h.8v.8h-.8zM133.6 645.0h.8v.8h-.8zM140.4 645.1h.8v.8h-.8zM151.7 643.6h.8v.8h-.8zM147.1 655.4h.8v.8h-.8zM143.9 646.7h.8v.8h-.8zM137.2 653.4h.8v.8h-.8zM139.0 646.3h.8v.8h-.8zM139.7 635.0h.8v.8h-.8zM165.2 630.6h.8v.8h-.8zM134.9 651.5h.8v.8h-.8zM153.7 643.1h.8v.8h-.8zM131.3 654.4h.8v.8h-.8zM134.9 654.1h.8v.8h-.8zM143.0 648.7h.8v.8h-.8zM124.8 659.7h.8v.8h-.8zM142.4 642.1h.8v.8h-.8zM134.8 653.0h.8v.8h-.8zM130.7 660.8h.8v.8h-.8zM139.9 660.7h.8v.8h-.8zM149.4 635.7h.8v.8h-.8zM139.2 647.0h.8v.8h-.8zM145.0 643.2h.8v.8h-.8zM130.5 652.3h.8v.8h-.8zM151.4 648.2h.8v.8h-.8zM126.2 649.5h.8v.8h-.8zM147.3 647.3h.8v.8h-.8zM141.4 641.2h.8v.8h-.8zM139.7 648.4h.8v.8h-.8zM135.1 644.2h.8v.8h-.8zM133.6 651.0h.8v.8h-.8zM137.0 637.9h.8v.8h-.8zM123.8 657.1h.8v.8h-.8zM130.1 653.4h.8v.8h-.8zM136.7 641.9h.8v.8h-.8zM141.5 647.2h.8v.8h-.8zM137.4 656.4h.8v.8h-.8zM135.3 649.3h.8v.8h-.8zM139.3 653.9h.8v.8h-.8zM137.2 652.8h.8v.8h-.8zM140.6 648.0h.8v.8h-.8zM137.8 643.9h.8v.8h-.8z" fill="#f52a14" fill-opacity="0.9"/></g><line x1="136.40" y1="595.80" x2="136.40" y2="668.20" stroke="#ee3a3a" stroke-width="0.9"/><line x1="106.90" y1="645.03" x2="179.30" y2="645.03" stroke="#ee3a3a" stroke-width="0.9"/><rect x="106.90" y="595.80" width="72.40" height="72.40" fill="none" stroke="#555" stroke-width="0.7"/><line x1="106.90" y1="668.20" x2="106.90" y2="669.70" stroke="#555" stroke-width="0.6"/><text x="106.90" y="675.00" font-size="5.6" text-anchor="middle" fill="#333">0</text><line x1="105.40" y1="668.20" x2="106.90" y2="668.20" stroke="#555" stroke-width="0.6"/><text x="104.70" y="670.20" font-size="5.6" text-anchor="end" fill="#333">0</text><line x1="125.00" y1="668.20" x2="125.00" y2="669.70" stroke="#555" stroke-width="0.6"/><text x="125.00" y="675.00" font-size="5.6" text-anchor="middle" fill="#333">1</text><line x1="105.40" y1="650.10" x2="106.90" y2="650.10" stroke="#555" stroke-width="0.6"/><text x="104.70" y="652.10" font-size="5.6" text-anchor="end" fill="#333">1</text><line x1="143.10" y1="668.20" x2="143.10" y2="669.70" stroke="#555" stroke-width="0.6"/><text x="143.10" y="675.00" font-size="5.6" text-anchor="middle" fill="#333">2</text><line x1="105.40" y1="632.00" x2="106.90" y2="632.00" stroke="#555" stroke-width="0.6"/><text x="104.70" y="634.00" font-size="5.6" text-anchor="end" fill="#333">2</text><line x1="161.20" y1="668.20" x2="161.20" y2="669.70" stroke="#555" stroke-width="0.6"/><text x="161.20" y="675.00" font-size="5.6" text-anchor="middle" fill="#333">3</text><line x1="105.40" y1="613.90" x2="106.90" y2="613.90" stroke="#555" stroke-width="0.6"/><text x="104.70" y="615.90" font-size="5.6" text-anchor="end" fill="#333">3</text><line x1="179.30" y1="668.20" x2="179.30" y2="669.70" stroke="#555" stroke-width="0.6"/><text x="179.30" y="675.00" font-size="5.6" text-anchor="middle" fill="#333">4</text><line x1="105.40" y1="595.80" x2="106.90" y2="595.80" stroke="#555" stroke-width="0.6"/><text x="104.70" y="597.80" font-size="5.6" text-anchor="end" fill="#333">4</text><text x="97.40" y="632.00" font-size="5" text-anchor="middle" fill="#333" transform="rotate(-90 97.40 632.00)">VIABILITY</text><text x="143.10" y="682.10" font-size="5.2" text-anchor="middle" fill="#333">ANNEXIN V</text><text x="111.40" y="682.10" font-size="3.8" text-anchor="middle" fill="#888">Live</text><text x="170.30" y="682.10" font-size="3.8" text-anchor="middle" fill="#888">Apoptotic</text><text x="108.20" y="601.60" font-size="4.8" fill="#222">Dead</text><text x="108.20" y="608.10" font-size="4.8" fill="#222">1.56 %</text><text x="178.00" y="601.60" font-size="4.8" text-anchor="end" fill="#222">Late Apop./Dead</text><text x="178.00" y="608.10" font-size="4.8" text-anchor="end" fill="#222">8.92 %</text><text x="108.20" y="659.60" font-size="4.8" fill="#222">83.00 %</text><text x="108.20" y="666.00" font-size="4.8" fill="#222">Live</text><text x="178.00" y="659.60" font-size="4.8" text-anchor="end" fill="#222">6.52 %</text><text x="178.00" y="666.00" font-size="4.8" text-anchor="end" fill="#222">Early Apop.</text><rect x="196.80" y="595.80" width="71.50" height="72.40" fill="#fff" stroke="none" stroke-width="1"/><rect x="196.80" y="645.03" width="29.14" height="23.17" fill="#eef4cb" stroke="none" stroke-width="1"/><text x="232.55" y="593.50" font-size="5.2" text-anchor="middle" fill="#333">APOPTOSIS PROFILE</text><clipPath id="fc33"><rect x="196.80" y="595.80" width="71.50" height="72.40"/></clipPath><g clip-path="url(#fc33)"><ellipse cx="218.25" cy="654.62" rx="5.81" ry="3.76" fill="#ee2a10" fill-opacity="0.9" transform="rotate(-12.0 218.25 654.62)" filter="url(#b10)"/><path d="M212.5 657.4h.8v.8h-.8zM219.7 656.4h.8v.8h-.8zM212.8 660.4h.8v.8h-.8zM220.7 655.1h.8v.8h-.8zM214.7 658.4h.8v.8h-.8zM206.6 657.0h.8v.8h-.8zM213.5 656.1h.8v.8h-.8zM224.2 654.8h.8v.8h-.8zM217.0 652.6h.8v.8h-.8zM216.8 654.9h.8v.8h-.8zM212.6 658.6h.8v.8h-.8zM210.5 653.7h.8v.8h-.8zM223.4 655.2h.8v.8h-.8zM217.3 656.1h.8v.8h-.8zM230.0 649.7h.8v.8h-.8zM217.6 652.9h.8v.8h-.8zM224.2 656.3h.8v.8h-.8zM221.1 652.4h.8v.8h-.8zM218.4 652.4h.8v.8h-.8zM223.7 653.4h.8v.8h-.8zM216.8 652.3h.8v.8h-.8zM219.1 653.2h.8v.8h-.8zM227.1 651.7h.8v.8h-.8zM218.2 658.2h.8v.8h-.8zM220.1 653.2h.8v.8h-.8zM221.1 652.4h.8v.8h-.8zM221.6 653.2h.8v.8h-.8zM219.1 652.7h.8v.8h-.8zM215.4 657.7h.8v.8h-.8zM214.1 655.0h.8v.8h-.8zM210.6 657.3h.8v.8h-.8zM217.6 653.8h.8v.8h-.8zM213.9 655.1h.8v.8h-.8zM218.7 655.9h.8v.8h-.8zM218.8 654.9h.8v.8h-.8zM213.6 656.3h.8v.8h-.8zM214.5 650.0h.8v.8h-.8zM217.5 656.4h.8v.8h-.8zM212.1 655.7h.8v.8h-.8zM220.1 654.0h.8v.8h-.8zM212.5 658.4h.8v.8h-.8zM213.7 654.8h.8v.8h-.8zM214.8 655.4h.8v.8h-.8zM226.4 658.0h.8v.8h-.8zM217.3 654.7h.8v.8h-.8zM211.8 652.9h.8v.8h-.8zM217.3 653.6h.8v.8h-.8zM221.0 650.1h.8v.8h-.8zM215.6 656.7h.8v.8h-.8zM212.9 658.9h.8v.8h-.8zM226.5 654.1h.8v.8h-.8zM210.8 654.0h.8v.8h-.8zM226.3 655.6h.8v.8h-.8zM218.3 658.3h.8v.8h-.8zM209.6 656.7h.8v.8h-.8zM213.2 658.7h.8v.8h-.8zM218.5 653.4h.8v.8h-.8zM217.5 651.1h.8v.8h-.8zM215.6 656.0h.8v.8h-.8zM222.4 647.6h.8v.8h-.8zM227.4 650.1h.8v.8h-.8zM219.1 658.0h.8v.8h-.8zM225.0 653.4h.8v.8h-.8zM228.8 652.3h.8v.8h-.8zM209.7 653.1h.8v.8h-.8zM219.2 655.8h.8v.8h-.8zM219.1 654.3h.8v.8h-.8zM219.8 659.1h.8v.8h-.8zM218.6 653.2h.8v.8h-.8zM212.9 652.0h.8v.8h-.8zM217.7 660.3h.8v.8h-.8zM225.6 654.1h.8v.8h-.8zM218.7 655.0h.8v.8h-.8zM227.1 652.7h.8v.8h-.8zM215.3 656.9h.8v.8h-.8zM221.0 652.3h.8v.8h-.8zM215.5 652.4h.8v.8h-.8zM215.4 654.6h.8v.8h-.8zM220.9 653.2h.8v.8h-.8zM219.7 653.4h.8v.8h-.8zM216.2 654.3h.8v.8h-.8zM220.0 657.6h.8v.8h-.8zM212.1 654.8h.8v.8h-.8zM218.3 654.0h.8v.8h-.8zM221.8 652.7h.8v.8h-.8zM216.1 653.4h.8v.8h-.8zM215.3 650.3h.8v.8h-.8zM223.1 653.5h.8v.8h-.8zM215.6 653.6h.8v.8h-.8zM217.7 656.7h.8v.8h-.8zM220.8 653.7h.8v.8h-.8zM222.3 654.2h.8v.8h-.8zM227.1 648.0h.8v.8h-.8zM211.4 661.4h.8v.8h-.8zM214.3 651.0h.8v.8h-.8zM221.4 653.5h.8v.8h-.8zM219.7 657.5h.8v.8h-.8zM219.3 657.1h.8v.8h-.8zM219.5 655.2h.8v.8h-.8zM216.2 656.3h.8v.8h-.8zM221.1 648.6h.8v.8h-.8zM210.8 653.9h.8v.8h-.8zM216.7 650.6h.8v.8h-.8zM223.5 655.7h.8v.8h-.8zM218.9 650.4h.8v.8h-.8zM225.9 654.6h.8v.8h-.8zM214.0 654.5h.8v.8h-.8zM224.5 650.7h.8v.8h-.8zM220.0 652.7h.8v.8h-.8zM220.9 653.8h.8v.8h-.8zM214.5 653.3h.8v.8h-.8zM220.4 651.6h.8v.8h-.8zM218.4 655.9h.8v.8h-.8zM221.8 651.4h.8v.8h-.8zM226.5 656.5h.8v.8h-.8zM216.5 655.5h.8v.8h-.8zM228.1 658.9h.8v.8h-.8zM222.7 655.8h.8v.8h-.8zM213.9 653.0h.8v.8h-.8zM221.9 662.5h.8v.8h-.8zM212.9 655.5h.8v.8h-.8zM216.2 651.8h.8v.8h-.8zM214.7 655.9h.8v.8h-.8zM208.7 654.9h.8v.8h-.8zM218.6 652.5h.8v.8h-.8zM215.3 650.1h.8v.8h-.8zM215.5 650.3h.8v.8h-.8zM226.5 655.5h.8v.8h-.8zM219.2 656.1h.8v.8h-.8zM210.3 654.6h.8v.8h-.8zM218.4 650.8h.8v.8h-.8zM225.4 657.9h.8v.8h-.8zM216.9 653.8h.8v.8h-.8zM222.1 653.4h.8v.8h-.8zM214.8 656.0h.8v.8h-.8zM221.1 657.6h.8v.8h-.8zM212.2 659.4h.8v.8h-.8zM215.2 651.7h.8v.8h-.8zM216.1 653.2h.8v.8h-.8zM224.2 650.3h.8v.8h-.8zM219.2 654.9h.8v.8h-.8zM217.9 655.7h.8v.8h-.8zM214.9 654.1h.8v.8h-.8zM222.1 655.6h.8v.8h-.8zM214.1 655.6h.8v.8h-.8zM218.2 652.6h.8v.8h-.8zM219.0 654.3h.8v.8h-.8zM211.3 657.4h.8v.8h-.8zM216.6 656.8h.8v.8h-.8zM220.1 654.4h.8v.8h-.8zM214.6 654.3h.8v.8h-.8zM223.1 647.3h.8v.8h-.8zM217.7 656.2h.8v.8h-.8zM221.9 649.4h.8v.8h-.8zM215.6 653.5h.8v.8h-.8zM217.1 652.5h.8v.8h-.8zM215.0 656.5h.8v.8h-.8zM216.9 655.4h.8v.8h-.8zM212.5 656.6h.8v.8h-.8zM214.4 650.3h.8v.8h-.8zM224.1 655.2h.8v.8h-.8zM216.0 654.2h.8v.8h-.8zM215.7 656.8h.8v.8h-.8zM221.1 651.1h.8v.8h-.8zM220.2 650.5h.8v.8h-.8zM218.3 655.0h.8v.8h-.8zM216.3 656.3h.8v.8h-.8zM214.5 651.6h.8v.8h-.8zM222.0 654.4h.8v.8h-.8zM218.4 657.2h.8v.8h-.8zM220.8 654.7h.8v.8h-.8zM217.3 655.8h.8v.8h-.8zM211.4 657.6h.8v.8h-.8zM224.8 655.8h.8v.8h-.8zM214.0 656.3h.8v.8h-.8zM213.8 658.4h.8v.8h-.8zM212.8 658.5h.8v.8h-.8zM217.9 661.2h.8v.8h-.8zM211.6 659.8h.8v.8h-.8zM218.0 657.4h.8v.8h-.8zM219.6 656.8h.8v.8h-.8zM222.6 658.8h.8v.8h-.8zM226.1 656.8h.8v.8h-.8zM216.4 658.0h.8v.8h-.8zM216.7 651.1h.8v.8h-.8zM221.5 655.6h.8v.8h-.8zM220.1 649.8h.8v.8h-.8zM220.8 655.1h.8v.8h-.8zM219.7 653.3h.8v.8h-.8zM210.3 657.9h.8v.8h-.8zM218.4 649.7h.8v.8h-.8zM221.2 653.5h.8v.8h-.8zM211.0 657.4h.8v.8h-.8zM211.4 655.8h.8v.8h-.8zM215.5 653.1h.8v.8h-.8zM218.0 654.7h.8v.8h-.8zM219.5 651.9h.8v.8h-.8zM216.6 656.5h.8v.8h-.8zM218.8 646.1h.8v.8h-.8zM215.6 657.5h.8v.8h-.8zM219.7 658.6h.8v.8h-.8zM220.6 657.4h.8v.8h-.8zM216.7 655.7h.8v.8h-.8zM214.2 654.2h.8v.8h-.8zM218.1 652.0h.8v.8h-.8zM220.6 655.4h.8v.8h-.8zM221.3 652.4h.8v.8h-.8zM218.7 654.0h.8v.8h-.8zM223.1 655.5h.8v.8h-.8zM223.7 653.0h.8v.8h-.8zM220.6 651.3h.8v.8h-.8zM229.9 655.0h.8v.8h-.8zM212.0 652.9h.8v.8h-.8zM216.4 654.9h.8v.8h-.8zM211.6 653.0h.8v.8h-.8zM219.5 658.7h.8v.8h-.8zM222.6 654.0h.8v.8h-.8zM215.8 660.0h.8v.8h-.8zM226.3 655.6h.8v.8h-.8zM221.1 655.9h.8v.8h-.8zM213.8 652.8h.8v.8h-.8zM221.0 652.5h.8v.8h-.8zM216.2 653.7h.8v.8h-.8zM220.8 650.4h.8v.8h-.8zM217.7 653.9h.8v.8h-.8zM221.5 660.4h.8v.8h-.8zM219.4 650.3h.8v.8h-.8zM221.0 653.1h.8v.8h-.8zM221.5 650.6h.8v.8h-.8zM210.5 658.0h.8v.8h-.8zM214.2 659.3h.8v.8h-.8zM222.4 656.4h.8v.8h-.8zM218.7 652.9h.8v.8h-.8zM223.4 657.6h.8v.8h-.8zM211.5 661.3h.8v.8h-.8zM219.9 656.9h.8v.8h-.8zM220.1 651.6h.8v.8h-.8zM226.4 655.9h.8v.8h-.8zM218.8 654.5h.8v.8h-.8zM209.0 654.4h.8v.8h-.8zM224.4 657.1h.8v.8h-.8zM221.0 653.3h.8v.8h-.8zM219.0 657.4h.8v.8h-.8zM213.5 649.2h.8v.8h-.8zM223.4 653.3h.8v.8h-.8zM223.4 656.5h.8v.8h-.8zM221.0 655.5h.8v.8h-.8zM206.7 659.7h.8v.8h-.8zM221.4 651.8h.8v.8h-.8zM220.9 654.2h.8v.8h-.8zM219.4 659.0h.8v.8h-.8zM217.6 646.4h.8v.8h-.8zM218.7 656.0h.8v.8h-.8zM227.5 653.2h.8v.8h-.8zM217.2 654.7h.8v.8h-.8zM219.5 658.0h.8v.8h-.8zM218.2 655.8h.8v.8h-.8zM210.2 655.5h.8v.8h-.8zM217.9 656.4h.8v.8h-.8zM215.9 652.4h.8v.8h-.8z" fill="#f52a14" fill-opacity="0.9"/><ellipse cx="234.34" cy="628.38" rx="6.97" ry="10.59" fill="#ee2a10" fill-opacity="0.4" transform="rotate(-20.0 234.34 628.38)" filter="url(#b10)"/><path d="M218.7 634.9h.8v.8h-.8zM234.6 628.3h.8v.8h-.8zM232.2 632.6h.8v.8h-.8zM238.7 631.6h.8v.8h-.8zM243.7 630.5h.8v.8h-.8zM237.3 627.8h.8v.8h-.8zM242.8 617.2h.8v.8h-.8zM225.3 632.6h.8v.8h-.8zM229.1 629.7h.8v.8h-.8zM233.8 635.5h.8v.8h-.8zM228.9 632.3h.8v.8h-.8zM233.4 631.5h.8v.8h-.8zM227.5 631.4h.8v.8h-.8zM229.7 645.8h.8v.8h-.8zM224.9 622.5h.8v.8h-.8zM232.8 636.2h.8v.8h-.8zM229.6 634.5h.8v.8h-.8zM233.6 630.2h.8v.8h-.8zM238.4 629.3h.8v.8h-.8zM236.6 626.4h.8v.8h-.8zM232.1 625.4h.8v.8h-.8zM237.1 632.1h.8v.8h-.8zM238.1 628.4h.8v.8h-.8zM226.9 619.7h.8v.8h-.8zM242.3 635.2h.8v.8h-.8zM235.9 625.5h.8v.8h-.8zM232.7 635.7h.8v.8h-.8zM236.2 625.1h.8v.8h-.8zM232.3 624.5h.8v.8h-.8zM226.0 652.9h.8v.8h-.8zM239.0 613.9h.8v.8h-.8zM225.4 643.1h.8v.8h-.8zM246.3 620.1h.8v.8h-.8zM240.3 615.4h.8v.8h-.8zM235.1 634.6h.8v.8h-.8zM243.2 619.3h.8v.8h-.8zM228.0 641.7h.8v.8h-.8zM234.7 639.6h.8v.8h-.8zM246.6 614.5h.8v.8h-.8zM239.1 626.5h.8v.8h-.8zM237.1 642.5h.8v.8h-.8zM229.9 629.1h.8v.8h-.8zM226.8 641.4h.8v.8h-.8zM227.3 628.1h.8v.8h-.8zM239.3 626.5h.8v.8h-.8zM236.8 628.6h.8v.8h-.8zM225.9 642.2h.8v.8h-.8zM230.7 627.9h.8v.8h-.8zM233.5 622.4h.8v.8h-.8zM230.1 627.0h.8v.8h-.8zM234.6 618.7h.8v.8h-.8zM235.1 622.4h.8v.8h-.8zM222.8 633.8h.8v.8h-.8zM233.8 624.4h.8v.8h-.8zM235.4 636.8h.8v.8h-.8zM244.8 607.4h.8v.8h-.8zM236.7 617.1h.8v.8h-.8zM235.1 614.6h.8v.8h-.8zM229.2 625.1h.8v.8h-.8zM236.7 637.1h.8v.8h-.8zM232.6 624.1h.8v.8h-.8zM228.7 637.0h.8v.8h-.8zM233.9 631.3h.8v.8h-.8zM234.7 627.9h.8v.8h-.8zM235.5 631.6h.8v.8h-.8zM234.4 636.1h.8v.8h-.8zM241.7 625.7h.8v.8h-.8zM235.7 630.0h.8v.8h-.8zM238.5 629.5h.8v.8h-.8zM244.6 616.9h.8v.8h-.8zM235.1 617.6h.8v.8h-.8zM240.1 623.2h.8v.8h-.8zM228.6 631.1h.8v.8h-.8zM236.4 632.0h.8v.8h-.8zM237.0 628.5h.8v.8h-.8zM238.6 626.3h.8v.8h-.8zM228.9 647.2h.8v.8h-.8zM229.9 644.3h.8v.8h-.8zM246.3 609.7h.8v.8h-.8zM242.1 619.8h.8v.8h-.8zM238.4 636.0h.8v.8h-.8zM233.3 638.7h.8v.8h-.8zM238.1 625.9h.8v.8h-.8zM242.5 629.0h.8v.8h-.8zM236.5 619.4h.8v.8h-.8zM231.5 628.9h.8v.8h-.8zM240.7 634.7h.8v.8h-.8zM234.3 630.2h.8v.8h-.8zM232.8 645.6h.8v.8h-.8zM231.9 646.3h.8v.8h-.8zM242.4 625.0h.8v.8h-.8zM234.1 634.5h.8v.8h-.8zM235.0 633.9h.8v.8h-.8zM233.9 622.5h.8v.8h-.8zM233.8 627.0h.8v.8h-.8zM236.9 621.9h.8v.8h-.8zM234.6 626.8h.8v.8h-.8zM233.4 642.2h.8v.8h-.8zM230.1 621.9h.8v.8h-.8zM235.2 629.0h.8v.8h-.8zM227.9 637.4h.8v.8h-.8zM239.8 610.9h.8v.8h-.8zM236.6 634.9h.8v.8h-.8zM224.5 638.9h.8v.8h-.8zM244.6 615.5h.8v.8h-.8zM229.8 632.7h.8v.8h-.8zM233.9 619.9h.8v.8h-.8zM242.4 614.4h.8v.8h-.8zM224.7 627.5h.8v.8h-.8zM243.5 625.1h.8v.8h-.8zM237.5 622.7h.8v.8h-.8zM225.6 647.3h.8v.8h-.8zM230.8 635.8h.8v.8h-.8zM236.5 634.1h.8v.8h-.8zM229.3 636.3h.8v.8h-.8zM241.4 626.0h.8v.8h-.8zM240.3 617.5h.8v.8h-.8zM231.7 628.0h.8v.8h-.8zM230.1 631.4h.8v.8h-.8zM237.9 627.2h.8v.8h-.8zM233.8 629.0h.8v.8h-.8zM231.8 620.7h.8v.8h-.8zM226.4 634.4h.8v.8h-.8zM227.7 637.8h.8v.8h-.8zM233.8 612.8h.8v.8h-.8zM233.6 630.3h.8v.8h-.8zM236.0 630.8h.8v.8h-.8zM227.6 628.3h.8v.8h-.8zM237.0 629.0h.8v.8h-.8zM232.5 621.6h.8v.8h-.8zM231.8 637.4h.8v.8h-.8zM230.0 652.5h.8v.8h-.8zM239.3 621.7h.8v.8h-.8zM236.9 638.8h.8v.8h-.8zM239.0 626.6h.8v.8h-.8zM234.4 617.9h.8v.8h-.8zM238.8 636.1h.8v.8h-.8zM231.6 631.3h.8v.8h-.8zM233.1 634.5h.8v.8h-.8zM234.7 628.1h.8v.8h-.8zM231.5 624.8h.8v.8h-.8zM228.7 634.8h.8v.8h-.8zM226.8 634.9h.8v.8h-.8zM238.3 613.8h.8v.8h-.8zM229.6 643.3h.8v.8h-.8zM228.2 636.5h.8v.8h-.8zM238.4 634.1h.8v.8h-.8zM233.3 615.1h.8v.8h-.8zM235.9 621.9h.8v.8h-.8zM237.1 633.2h.8v.8h-.8zM240.9 611.0h.8v.8h-.8zM233.5 629.8h.8v.8h-.8zM231.6 625.1h.8v.8h-.8zM232.7 618.5h.8v.8h-.8zM234.6 625.2h.8v.8h-.8zM238.8 632.1h.8v.8h-.8zM223.3 634.6h.8v.8h-.8zM230.0 644.2h.8v.8h-.8zM232.0 625.0h.8v.8h-.8zM231.4 623.7h.8v.8h-.8zM231.2 633.0h.8v.8h-.8zM222.7 644.0h.8v.8h-.8zM234.3 629.1h.8v.8h-.8zM226.9 632.6h.8v.8h-.8zM249.9 609.3h.8v.8h-.8zM235.9 636.0h.8v.8h-.8zM226.8 635.2h.8v.8h-.8zM228.8 627.0h.8v.8h-.8zM229.4 632.4h.8v.8h-.8zM232.5 629.3h.8v.8h-.8zM231.3 634.0h.8v.8h-.8zM234.0 624.6h.8v.8h-.8zM234.3 636.1h.8v.8h-.8zM228.7 636.7h.8v.8h-.8zM230.0 635.1h.8v.8h-.8zM233.8 616.8h.8v.8h-.8zM233.8 632.8h.8v.8h-.8zM237.5 620.9h.8v.8h-.8zM235.6 633.2h.8v.8h-.8zM235.2 620.3h.8v.8h-.8zM226.8 634.1h.8v.8h-.8zM232.1 623.6h.8v.8h-.8zM243.3 622.7h.8v.8h-.8zM235.6 619.2h.8v.8h-.8zM243.0 605.7h.8v.8h-.8zM233.6 612.9h.8v.8h-.8zM235.1 622.9h.8v.8h-.8zM231.7 625.1h.8v.8h-.8zM231.4 624.8h.8v.8h-.8zM232.1 628.2h.8v.8h-.8zM228.6 640.5h.8v.8h-.8zM234.8 624.3h.8v.8h-.8zM237.7 624.9h.8v.8h-.8zM226.9 635.1h.8v.8h-.8zM243.5 626.3h.8v.8h-.8zM236.6 622.1h.8v.8h-.8zM235.0 625.3h.8v.8h-.8zM240.9 621.8h.8v.8h-.8zM248.5 623.0h.8v.8h-.8zM238.4 624.5h.8v.8h-.8zM228.0 622.0h.8v.8h-.8zM239.0 620.3h.8v.8h-.8zM240.9 632.2h.8v.8h-.8zM237.1 618.6h.8v.8h-.8zM233.2 632.6h.8v.8h-.8zM239.6 632.5h.8v.8h-.8zM231.1 626.1h.8v.8h-.8zM244.1 612.8h.8v.8h-.8zM236.9 617.7h.8v.8h-.8zM232.0 639.2h.8v.8h-.8zM235.6 632.8h.8v.8h-.8zM232.5 634.0h.8v.8h-.8zM232.0 641.5h.8v.8h-.8zM225.9 632.4h.8v.8h-.8zM233.9 629.8h.8v.8h-.8zM235.2 623.0h.8v.8h-.8zM230.7 643.5h.8v.8h-.8zM235.8 611.3h.8v.8h-.8zM236.2 619.9h.8v.8h-.8zM236.9 631.1h.8v.8h-.8zM235.4 629.3h.8v.8h-.8zM231.7 617.3h.8v.8h-.8zM232.8 632.5h.8v.8h-.8zM227.8 632.8h.8v.8h-.8zM246.6 616.1h.8v.8h-.8zM246.5 616.6h.8v.8h-.8zM231.7 640.1h.8v.8h-.8zM231.6 626.6h.8v.8h-.8zM221.1 637.7h.8v.8h-.8zM239.4 620.0h.8v.8h-.8zM223.0 648.5h.8v.8h-.8zM230.7 647.7h.8v.8h-.8zM232.6 636.9h.8v.8h-.8zM235.7 628.1h.8v.8h-.8zM234.3 629.6h.8v.8h-.8zM235.8 626.1h.8v.8h-.8zM225.2 631.4h.8v.8h-.8zM236.5 636.2h.8v.8h-.8zM231.3 626.4h.8v.8h-.8zM229.7 630.1h.8v.8h-.8zM226.6 635.1h.8v.8h-.8zM244.7 611.7h.8v.8h-.8zM241.8 612.2h.8v.8h-.8zM234.8 628.0h.8v.8h-.8zM239.0 626.4h.8v.8h-.8zM227.2 626.1h.8v.8h-.8zM240.7 618.8h.8v.8h-.8zM238.5 631.2h.8v.8h-.8zM237.4 625.5h.8v.8h-.8zM236.9 629.7h.8v.8h-.8zM232.2 639.7h.8v.8h-.8zM235.5 637.5h.8v.8h-.8zM224.9 638.5h.8v.8h-.8zM233.6 633.9h.8v.8h-.8zM240.7 619.4h.8v.8h-.8zM227.3 638.5h.8v.8h-.8zM230.3 611.5h.8v.8h-.8zM229.8 636.1h.8v.8h-.8zM236.0 623.2h.8v.8h-.8zM233.2 618.7h.8v.8h-.8zM226.0 628.0h.8v.8h-.8zM230.0 619.4h.8v.8h-.8zM242.2 624.4h.8v.8h-.8zM235.6 633.0h.8v.8h-.8zM229.2 630.5h.8v.8h-.8zM222.7 626.3h.8v.8h-.8zM227.4 617.8h.8v.8h-.8zM233.9 634.3h.8v.8h-.8zM229.1 629.3h.8v.8h-.8zM221.8 633.6h.8v.8h-.8zM230.2 637.7h.8v.8h-.8zM230.1 634.8h.8v.8h-.8zM238.0 620.5h.8v.8h-.8zM237.7 637.5h.8v.8h-.8zM241.8 620.6h.8v.8h-.8zM235.1 637.7h.8v.8h-.8zM238.7 626.7h.8v.8h-.8zM237.1 620.1h.8v.8h-.8zM244.8 618.4h.8v.8h-.8zM226.9 630.5h.8v.8h-.8zM227.8 633.5h.8v.8h-.8zM227.6 624.9h.8v.8h-.8zM245.8 635.5h.8v.8h-.8zM228.8 635.7h.8v.8h-.8zM222.0 645.2h.8v.8h-.8zM233.9 627.7h.8v.8h-.8zM223.7 636.8h.8v.8h-.8zM237.4 621.0h.8v.8h-.8zM229.1 639.5h.8v.8h-.8zM229.9 621.4h.8v.8h-.8zM238.1 635.3h.8v.8h-.8zM236.3 629.6h.8v.8h-.8zM229.6 628.2h.8v.8h-.8zM233.0 622.2h.8v.8h-.8zM242.4 627.2h.8v.8h-.8zM237.4 616.0h.8v.8h-.8zM232.0 634.5h.8v.8h-.8zM232.8 626.5h.8v.8h-.8zM226.0 631.3h.8v.8h-.8zM231.6 625.5h.8v.8h-.8zM234.8 608.9h.8v.8h-.8zM234.3 620.8h.8v.8h-.8zM235.1 619.7h.8v.8h-.8zM236.4 640.8h.8v.8h-.8zM223.5 644.4h.8v.8h-.8zM232.4 619.4h.8v.8h-.8zM231.5 626.5h.8v.8h-.8zM231.4 627.7h.8v.8h-.8zM232.1 633.1h.8v.8h-.8zM232.1 641.2h.8v.8h-.8zM239.5 623.5h.8v.8h-.8zM229.9 640.1h.8v.8h-.8zM233.7 629.7h.8v.8h-.8zM234.3 632.3h.8v.8h-.8zM243.2 620.3h.8v.8h-.8zM231.1 629.0h.8v.8h-.8zM237.7 620.5h.8v.8h-.8zM233.6 630.5h.8v.8h-.8zM228.5 633.7h.8v.8h-.8zM238.3 630.8h.8v.8h-.8zM238.0 617.5h.8v.8h-.8zM236.4 625.1h.8v.8h-.8zM239.8 629.7h.8v.8h-.8zM232.1 626.2h.8v.8h-.8zM237.8 620.0h.8v.8h-.8zM223.0 628.8h.8v.8h-.8zM229.1 631.1h.8v.8h-.8zM229.8 631.7h.8v.8h-.8zM229.0 632.5h.8v.8h-.8zM235.8 620.7h.8v.8h-.8zM234.7 631.1h.8v.8h-.8zM224.7 645.7h.8v.8h-.8zM229.3 636.3h.8v.8h-.8zM240.2 632.3h.8v.8h-.8zM234.2 628.2h.8v.8h-.8zM239.4 628.5h.8v.8h-.8zM234.1 627.9h.8v.8h-.8zM236.0 615.8h.8v.8h-.8zM231.9 632.8h.8v.8h-.8zM234.8 640.4h.8v.8h-.8zM240.6 618.3h.8v.8h-.8zM231.7 624.4h.8v.8h-.8zM232.8 621.1h.8v.8h-.8zM245.9 610.1h.8v.8h-.8zM243.8 604.5h.8v.8h-.8zM239.8 623.1h.8v.8h-.8zM232.0 608.7h.8v.8h-.8zM222.3 613.8h.8v.8h-.8zM232.5 627.3h.8v.8h-.8zM232.9 627.7h.8v.8h-.8zM231.1 630.5h.8v.8h-.8zM234.9 624.1h.8v.8h-.8zM226.9 614.3h.8v.8h-.8zM227.0 636.2h.8v.8h-.8zM237.1 632.9h.8v.8h-.8zM233.9 629.8h.8v.8h-.8zM224.3 638.2h.8v.8h-.8zM232.6 626.9h.8v.8h-.8zM242.5 628.3h.8v.8h-.8zM233.2 626.0h.8v.8h-.8zM229.8 626.4h.8v.8h-.8zM233.5 615.2h.8v.8h-.8zM225.3 640.1h.8v.8h-.8zM221.8 640.5h.8v.8h-.8zM230.2 637.8h.8v.8h-.8zM223.8 635.2h.8v.8h-.8zM229.4 638.3h.8v.8h-.8zM239.9 611.6h.8v.8h-.8zM227.0 651.9h.8v.8h-.8zM231.3 628.0h.8v.8h-.8zM238.9 622.8h.8v.8h-.8zM230.3 631.5h.8v.8h-.8zM233.8 633.3h.8v.8h-.8zM237.0 628.3h.8v.8h-.8zM235.5 624.3h.8v.8h-.8zM237.0 640.5h.8v.8h-.8zM232.9 634.4h.8v.8h-.8zM238.7 634.4h.8v.8h-.8zM234.1 613.4h.8v.8h-.8zM234.7 633.7h.8v.8h-.8zM233.6 629.1h.8v.8h-.8zM236.0 625.3h.8v.8h-.8zM236.8 633.6h.8v.8h-.8zM224.8 645.0h.8v.8h-.8zM233.7 625.1h.8v.8h-.8zM233.3 612.7h.8v.8h-.8zM233.6 627.0h.8v.8h-.8zM239.1 621.9h.8v.8h-.8zM237.3 629.4h.8v.8h-.8zM235.2 634.3h.8v.8h-.8zM241.6 624.2h.8v.8h-.8zM234.7 621.9h.8v.8h-.8zM229.0 633.9h.8v.8h-.8zM221.5 632.9h.8v.8h-.8zM239.3 623.1h.8v.8h-.8zM234.0 643.8h.8v.8h-.8zM238.0 630.5h.8v.8h-.8zM227.2 622.4h.8v.8h-.8zM222.3 645.5h.8v.8h-.8zM241.0 614.9h.8v.8h-.8zM232.0 652.6h.8v.8h-.8zM234.3 618.8h.8v.8h-.8zM237.8 632.0h.8v.8h-.8zM240.1 616.4h.8v.8h-.8zM236.0 623.5h.8v.8h-.8zM240.3 624.1h.8v.8h-.8zM246.8 623.1h.8v.8h-.8zM236.7 622.5h.8v.8h-.8zM234.6 632.6h.8v.8h-.8zM236.2 625.1h.8v.8h-.8zM242.2 633.3h.8v.8h-.8zM238.0 630.7h.8v.8h-.8zM234.8 619.3h.8v.8h-.8zM238.0 624.7h.8v.8h-.8zM248.2 628.8h.8v.8h-.8zM231.7 626.8h.8v.8h-.8zM225.4 645.1h.8v.8h-.8zM228.3 636.5h.8v.8h-.8zM230.0 641.3h.8v.8h-.8zM233.0 623.3h.8v.8h-.8z" fill="#f52a14" fill-opacity="0.9"/><path d="M219.2 649.4h.8v.8h-.8zM231.9 641.6h.8v.8h-.8zM236.2 637.4h.8v.8h-.8zM244.1 634.7h.8v.8h-.8zM242.6 619.2h.8v.8h-.8zM231.9 643.6h.8v.8h-.8zM227.4 641.1h.8v.8h-.8zM218.1 650.4h.8v.8h-.8zM229.2 637.3h.8v.8h-.8zM223.1 648.1h.8v.8h-.8zM225.1 648.3h.8v.8h-.8zM222.7 647.0h.8v.8h-.8zM233.0 635.3h.8v.8h-.8zM230.3 648.4h.8v.8h-.8zM230.2 640.1h.8v.8h-.8zM233.4 645.2h.8v.8h-.8zM226.0 640.5h.8v.8h-.8zM233.0 635.2h.8v.8h-.8zM239.7 635.4h.8v.8h-.8zM229.4 638.6h.8v.8h-.8zM229.6 643.3h.8v.8h-.8zM221.7 642.5h.8v.8h-.8zM218.1 658.3h.8v.8h-.8zM230.3 647.7h.8v.8h-.8zM228.1 647.8h.8v.8h-.8zM230.3 651.9h.8v.8h-.8zM239.4 635.2h.8v.8h-.8zM225.0 644.1h.8v.8h-.8zM230.7 639.0h.8v.8h-.8zM232.6 650.3h.8v.8h-.8zM222.6 651.4h.8v.8h-.8zM226.4 641.7h.8v.8h-.8zM234.2 637.1h.8v.8h-.8zM219.4 657.7h.8v.8h-.8zM227.7 655.0h.8v.8h-.8zM216.5 655.9h.8v.8h-.8zM219.8 655.2h.8v.8h-.8zM227.7 646.6h.8v.8h-.8zM232.1 640.5h.8v.8h-.8zM220.9 645.8h.8v.8h-.8zM236.7 634.7h.8v.8h-.8zM222.6 651.3h.8v.8h-.8zM231.6 644.1h.8v.8h-.8zM217.0 639.3h.8v.8h-.8zM227.1 641.3h.8v.8h-.8zM233.7 638.4h.8v.8h-.8zM221.4 651.4h.8v.8h-.8zM217.7 654.3h.8v.8h-.8zM204.8 666.4h.8v.8h-.8zM227.1 646.7h.8v.8h-.8zM236.8 642.2h.8v.8h-.8zM228.9 653.6h.8v.8h-.8zM230.3 645.6h.8v.8h-.8zM218.7 646.3h.8v.8h-.8zM215.1 654.4h.8v.8h-.8zM217.0 648.7h.8v.8h-.8zM222.7 644.5h.8v.8h-.8zM222.1 652.5h.8v.8h-.8zM222.1 644.1h.8v.8h-.8zM222.4 645.0h.8v.8h-.8zM220.5 644.8h.8v.8h-.8zM231.6 637.7h.8v.8h-.8zM223.3 651.5h.8v.8h-.8zM228.7 647.7h.8v.8h-.8zM219.6 648.7h.8v.8h-.8zM223.1 642.3h.8v.8h-.8zM240.5 642.2h.8v.8h-.8zM236.8 631.7h.8v.8h-.8zM221.4 653.2h.8v.8h-.8zM228.8 639.6h.8v.8h-.8zM223.6 646.2h.8v.8h-.8zM237.7 645.0h.8v.8h-.8zM230.0 643.0h.8v.8h-.8zM237.0 626.3h.8v.8h-.8zM222.3 650.0h.8v.8h-.8zM225.7 652.6h.8v.8h-.8zM224.9 656.8h.8v.8h-.8zM227.6 640.1h.8v.8h-.8zM217.5 662.8h.8v.8h-.8zM217.6 653.0h.8v.8h-.8zM225.7 645.7h.8v.8h-.8zM234.1 643.7h.8v.8h-.8zM228.2 641.9h.8v.8h-.8zM215.0 649.8h.8v.8h-.8zM233.7 648.2h.8v.8h-.8zM237.4 639.4h.8v.8h-.8zM226.4 641.8h.8v.8h-.8zM219.8 652.4h.8v.8h-.8zM231.0 629.6h.8v.8h-.8zM231.5 640.3h.8v.8h-.8zM230.1 636.8h.8v.8h-.8zM226.2 648.9h.8v.8h-.8zM229.9 634.7h.8v.8h-.8zM234.0 643.2h.8v.8h-.8zM235.2 642.9h.8v.8h-.8zM221.6 648.2h.8v.8h-.8zM227.9 639.2h.8v.8h-.8zM236.3 642.0h.8v.8h-.8zM227.2 655.4h.8v.8h-.8zM230.8 645.8h.8v.8h-.8zM227.8 643.3h.8v.8h-.8zM225.1 648.8h.8v.8h-.8zM229.8 652.4h.8v.8h-.8zM234.4 631.3h.8v.8h-.8zM223.7 641.5h.8v.8h-.8zM228.3 645.0h.8v.8h-.8zM228.0 640.2h.8v.8h-.8zM235.0 648.7h.8v.8h-.8zM223.8 646.3h.8v.8h-.8zM229.9 646.6h.8v.8h-.8zM213.0 663.1h.8v.8h-.8zM228.1 651.3h.8v.8h-.8zM220.5 653.3h.8v.8h-.8zM219.6 651.3h.8v.8h-.8zM223.5 658.5h.8v.8h-.8zM232.3 640.4h.8v.8h-.8zM219.8 658.3h.8v.8h-.8zM220.4 651.8h.8v.8h-.8zM228.0 636.7h.8v.8h-.8zM232.3 639.8h.8v.8h-.8zM230.8 647.9h.8v.8h-.8zM223.6 649.1h.8v.8h-.8zM239.3 631.9h.8v.8h-.8zM233.3 636.0h.8v.8h-.8zM220.9 651.9h.8v.8h-.8zM222.4 642.3h.8v.8h-.8zM224.3 647.8h.8v.8h-.8zM221.2 642.1h.8v.8h-.8zM222.5 650.4h.8v.8h-.8zM219.7 650.9h.8v.8h-.8zM230.8 640.7h.8v.8h-.8zM229.6 650.3h.8v.8h-.8zM225.1 641.1h.8v.8h-.8zM227.7 642.6h.8v.8h-.8zM226.1 640.6h.8v.8h-.8zM224.6 645.2h.8v.8h-.8zM229.1 648.7h.8v.8h-.8zM237.6 636.7h.8v.8h-.8zM235.5 633.8h.8v.8h-.8zM218.9 648.4h.8v.8h-.8z" fill="#f52a14" fill-opacity="0.9"/></g><line x1="225.94" y1="595.80" x2="225.94" y2="668.20" stroke="#ee3a3a" stroke-width="0.9"/><line x1="196.80" y1="645.03" x2="268.30" y2="645.03" stroke="#ee3a3a" stroke-width="0.9"/><rect x="196.80" y="595.80" width="71.50" height="72.40" fill="none" stroke="#555" stroke-width="0.7"/><line x1="196.80" y1="668.20" x2="196.80" y2="669.70" stroke="#555" stroke-width="0.6"/><text x="196.80" y="675.00" font-size="5.6" text-anchor="middle" fill="#333">0</text><line x1="195.30" y1="668.20" x2="196.80" y2="668.20" stroke="#555" stroke-width="0.6"/><text x="194.60" y="670.20" font-size="5.6" text-anchor="end" fill="#333">0</text><line x1="214.68" y1="668.20" x2="214.68" y2="669.70" stroke="#555" stroke-width="0.6"/><text x="214.68" y="675.00" font-size="5.6" text-anchor="middle" fill="#333">1</text><line x1="195.30" y1="650.10" x2="196.80" y2="650.10" stroke="#555" stroke-width="0.6"/><text x="194.60" y="652.10" font-size="5.6" text-anchor="end" fill="#333">1</text><line x1="232.55" y1="668.20" x2="232.55" y2="669.70" stroke="#555" stroke-width="0.6"/><text x="232.55" y="675.00" font-size="5.6" text-anchor="middle" fill="#333">2</text><line x1="195.30" y1="632.00" x2="196.80" y2="632.00" stroke="#555" stroke-width="0.6"/><text x="194.60" y="634.00" font-size="5.6" text-anchor="end" fill="#333">2</text><line x1="250.43" y1="668.20" x2="250.43" y2="669.70" stroke="#555" stroke-width="0.6"/><text x="250.43" y="675.00" font-size="5.6" text-anchor="middle" fill="#333">3</text><line x1="195.30" y1="613.90" x2="196.80" y2="613.90" stroke="#555" stroke-width="0.6"/><text x="194.60" y="615.90" font-size="5.6" text-anchor="end" fill="#333">3</text><line x1="268.30" y1="668.20" x2="268.30" y2="669.70" stroke="#555" stroke-width="0.6"/><text x="268.30" y="675.00" font-size="5.6" text-anchor="middle" fill="#333">4</text><line x1="195.30" y1="595.80" x2="196.80" y2="595.80" stroke="#555" stroke-width="0.6"/><text x="194.60" y="597.80" font-size="5.6" text-anchor="end" fill="#333">4</text><text x="187.30" y="632.00" font-size="5" text-anchor="middle" fill="#333" transform="rotate(-90 187.30 632.00)">VIABILITY</text><text x="232.55" y="682.10" font-size="5.2" text-anchor="middle" fill="#333">ANNEXIN V</text><text x="201.30" y="682.10" font-size="3.8" text-anchor="middle" fill="#888">Live</text><text x="259.30" y="682.10" font-size="3.8" text-anchor="middle" fill="#888">Apoptotic</text><text x="198.10" y="601.60" font-size="4.8" fill="#222">Dead</text><text x="198.10" y="608.10" font-size="4.8" fill="#222">3.28 %</text><text x="267.00" y="601.60" font-size="4.8" text-anchor="end" fill="#222">Late Apop./Dead</text><text x="267.00" y="608.10" font-size="4.8" text-anchor="end" fill="#222">29.12 %</text><text x="198.10" y="659.60" font-size="4.8" fill="#222">57.30 %</text><text x="198.10" y="666.00" font-size="4.8" fill="#222">Live</text><text x="267.00" y="659.60" font-size="4.8" text-anchor="end" fill="#222">10.30 %</text><text x="267.00" y="666.00" font-size="4.8" text-anchor="end" fill="#222">Early Apop.</text><rect x="285.00" y="595.80" width="72.00" height="72.40" fill="#fff" stroke="none" stroke-width="1"/><rect x="285.00" y="645.03" width="29.34" height="23.17" fill="#eef4cb" stroke="none" stroke-width="1"/><text x="321.00" y="593.50" font-size="5.2" text-anchor="middle" fill="#333">APOPTOSIS PROFILE</text><clipPath id="fc34"><rect x="285.00" y="595.80" width="72.00" height="72.40"/></clipPath><g clip-path="url(#fc34)"><ellipse cx="303.00" cy="656.44" rx="7.02" ry="4.00" fill="#ee2a10" fill-opacity="0.8" transform="rotate(-12.0 303.00 656.44)" filter="url(#b10)"/><path d="M295.9 658.3h.8v.8h-.8zM309.4 660.6h.8v.8h-.8zM306.8 657.7h.8v.8h-.8zM308.4 656.5h.8v.8h-.8zM302.2 655.3h.8v.8h-.8zM299.9 657.1h.8v.8h-.8zM301.9 652.6h.8v.8h-.8zM304.5 661.0h.8v.8h-.8zM304.6 655.6h.8v.8h-.8zM302.8 652.8h.8v.8h-.8zM308.1 660.0h.8v.8h-.8zM309.6 656.9h.8v.8h-.8zM300.1 658.8h.8v.8h-.8zM301.6 654.8h.8v.8h-.8zM295.8 658.5h.8v.8h-.8zM298.2 658.6h.8v.8h-.8zM299.4 656.0h.8v.8h-.8zM305.8 659.5h.8v.8h-.8zM302.9 661.8h.8v.8h-.8zM302.5 655.1h.8v.8h-.8zM300.6 650.6h.8v.8h-.8zM304.4 659.1h.8v.8h-.8zM303.8 658.9h.8v.8h-.8zM304.6 657.1h.8v.8h-.8zM302.1 664.8h.8v.8h-.8zM297.7 655.8h.8v.8h-.8zM305.9 654.2h.8v.8h-.8zM303.5 653.9h.8v.8h-.8zM307.1 654.7h.8v.8h-.8zM308.2 653.4h.8v.8h-.8zM299.8 655.8h.8v.8h-.8zM307.4 656.6h.8v.8h-.8zM291.8 659.6h.8v.8h-.8zM303.7 663.9h.8v.8h-.8zM294.6 661.6h.8v.8h-.8zM311.1 653.2h.8v.8h-.8zM300.6 654.6h.8v.8h-.8zM304.1 661.0h.8v.8h-.8zM300.2 654.6h.8v.8h-.8zM300.7 650.1h.8v.8h-.8zM299.9 658.5h.8v.8h-.8zM301.2 657.0h.8v.8h-.8zM302.2 653.1h.8v.8h-.8zM313.5 655.6h.8v.8h-.8zM294.2 659.4h.8v.8h-.8zM302.9 651.9h.8v.8h-.8zM306.1 655.9h.8v.8h-.8zM317.3 657.5h.8v.8h-.8zM296.3 653.6h.8v.8h-.8zM306.0 656.0h.8v.8h-.8zM295.9 656.8h.8v.8h-.8zM304.2 658.5h.8v.8h-.8zM303.1 661.0h.8v.8h-.8zM308.5 659.2h.8v.8h-.8zM307.7 658.7h.8v.8h-.8zM297.2 658.3h.8v.8h-.8zM298.0 655.5h.8v.8h-.8zM297.6 657.2h.8v.8h-.8zM306.3 653.5h.8v.8h-.8zM307.3 656.5h.8v.8h-.8zM313.1 655.3h.8v.8h-.8zM299.4 656.5h.8v.8h-.8zM312.7 659.8h.8v.8h-.8zM300.0 652.9h.8v.8h-.8zM303.2 660.5h.8v.8h-.8zM305.9 654.5h.8v.8h-.8zM301.6 660.8h.8v.8h-.8zM300.9 658.9h.8v.8h-.8zM309.8 658.8h.8v.8h-.8zM292.4 657.7h.8v.8h-.8zM300.9 653.4h.8v.8h-.8zM288.9 659.8h.8v.8h-.8zM307.6 656.7h.8v.8h-.8zM303.9 658.7h.8v.8h-.8zM311.5 659.1h.8v.8h-.8zM302.4 657.3h.8v.8h-.8zM301.9 654.9h.8v.8h-.8zM301.5 656.7h.8v.8h-.8zM305.3 655.5h.8v.8h-.8zM307.8 658.6h.8v.8h-.8zM311.6 660.2h.8v.8h-.8zM293.5 660.4h.8v.8h-.8zM296.2 656.0h.8v.8h-.8zM305.9 653.2h.8v.8h-.8zM307.9 653.7h.8v.8h-.8zM319.3 655.8h.8v.8h-.8zM303.0 657.3h.8v.8h-.8zM309.6 655.5h.8v.8h-.8zM300.5 659.5h.8v.8h-.8zM303.7 658.8h.8v.8h-.8zM307.6 653.6h.8v.8h-.8zM304.5 654.3h.8v.8h-.8zM305.7 651.6h.8v.8h-.8zM301.4 658.6h.8v.8h-.8zM302.5 657.2h.8v.8h-.8zM306.7 656.5h.8v.8h-.8zM297.8 657.5h.8v.8h-.8zM306.5 658.3h.8v.8h-.8zM308.3 650.5h.8v.8h-.8zM299.3 658.2h.8v.8h-.8zM300.4 663.0h.8v.8h-.8zM302.6 661.7h.8v.8h-.8zM300.6 655.1h.8v.8h-.8zM313.8 652.5h.8v.8h-.8zM303.6 653.5h.8v.8h-.8zM303.9 657.6h.8v.8h-.8zM309.2 657.0h.8v.8h-.8zM307.7 650.9h.8v.8h-.8zM302.1 657.5h.8v.8h-.8zM294.5 657.5h.8v.8h-.8zM302.3 653.9h.8v.8h-.8zM304.8 657.4h.8v.8h-.8zM303.0 654.9h.8v.8h-.8zM297.2 657.2h.8v.8h-.8zM302.6 655.2h.8v.8h-.8zM309.4 651.9h.8v.8h-.8zM294.5 660.5h.8v.8h-.8zM313.1 650.0h.8v.8h-.8zM300.4 660.5h.8v.8h-.8zM304.0 657.3h.8v.8h-.8zM299.4 658.6h.8v.8h-.8zM311.9 654.0h.8v.8h-.8zM311.6 654.1h.8v.8h-.8zM301.3 651.1h.8v.8h-.8zM308.8 654.2h.8v.8h-.8zM309.6 655.8h.8v.8h-.8zM298.3 659.7h.8v.8h-.8zM298.4 658.8h.8v.8h-.8zM302.6 654.0h.8v.8h-.8zM305.5 658.2h.8v.8h-.8zM299.0 663.7h.8v.8h-.8zM312.5 657.3h.8v.8h-.8zM309.3 657.9h.8v.8h-.8zM300.5 657.2h.8v.8h-.8zM307.1 654.6h.8v.8h-.8zM296.8 657.2h.8v.8h-.8zM310.1 654.9h.8v.8h-.8zM299.7 654.7h.8v.8h-.8zM311.0 652.4h.8v.8h-.8zM305.9 660.5h.8v.8h-.8zM303.8 655.9h.8v.8h-.8zM310.2 656.3h.8v.8h-.8zM308.2 656.6h.8v.8h-.8zM303.8 657.7h.8v.8h-.8zM310.2 653.0h.8v.8h-.8zM300.6 659.3h.8v.8h-.8zM295.6 658.6h.8v.8h-.8zM303.1 656.1h.8v.8h-.8zM298.8 656.6h.8v.8h-.8zM306.4 656.3h.8v.8h-.8zM299.2 657.5h.8v.8h-.8zM299.8 656.1h.8v.8h-.8zM304.4 651.4h.8v.8h-.8zM302.8 660.8h.8v.8h-.8zM316.6 654.3h.8v.8h-.8zM292.1 659.2h.8v.8h-.8zM298.9 661.7h.8v.8h-.8zM303.1 649.6h.8v.8h-.8zM302.0 658.0h.8v.8h-.8zM308.1 655.5h.8v.8h-.8zM300.3 659.1h.8v.8h-.8zM296.5 654.1h.8v.8h-.8zM303.0 655.6h.8v.8h-.8zM298.5 656.0h.8v.8h-.8zM301.5 657.8h.8v.8h-.8zM312.2 661.6h.8v.8h-.8zM302.9 660.0h.8v.8h-.8zM303.4 655.5h.8v.8h-.8zM297.2 663.7h.8v.8h-.8zM299.4 652.0h.8v.8h-.8zM312.7 656.1h.8v.8h-.8zM294.6 658.4h.8v.8h-.8zM300.1 653.9h.8v.8h-.8zM305.2 651.0h.8v.8h-.8zM302.8 650.9h.8v.8h-.8zM302.5 658.6h.8v.8h-.8zM309.8 652.8h.8v.8h-.8zM298.8 653.8h.8v.8h-.8zM306.1 657.7h.8v.8h-.8zM307.3 652.6h.8v.8h-.8zM300.8 660.3h.8v.8h-.8zM308.9 655.0h.8v.8h-.8zM294.6 662.6h.8v.8h-.8zM302.2 653.9h.8v.8h-.8zM297.3 653.9h.8v.8h-.8zM300.7 651.9h.8v.8h-.8zM295.9 658.9h.8v.8h-.8zM311.8 651.4h.8v.8h-.8zM297.2 656.9h.8v.8h-.8zM293.4 653.8h.8v.8h-.8zM311.7 657.0h.8v.8h-.8zM308.1 656.0h.8v.8h-.8zM311.9 655.4h.8v.8h-.8zM304.5 662.2h.8v.8h-.8zM303.5 655.7h.8v.8h-.8zM311.3 649.6h.8v.8h-.8zM302.7 656.5h.8v.8h-.8zM297.6 661.8h.8v.8h-.8zM303.7 652.9h.8v.8h-.8zM303.0 652.9h.8v.8h-.8zM301.6 654.1h.8v.8h-.8zM296.9 660.9h.8v.8h-.8zM307.2 655.7h.8v.8h-.8zM308.0 655.9h.8v.8h-.8zM297.9 655.9h.8v.8h-.8zM300.6 653.7h.8v.8h-.8zM308.3 661.3h.8v.8h-.8zM308.3 656.1h.8v.8h-.8zM301.6 655.0h.8v.8h-.8zM298.8 658.5h.8v.8h-.8zM307.1 654.7h.8v.8h-.8zM305.3 660.4h.8v.8h-.8zM299.5 658.7h.8v.8h-.8zM306.3 658.6h.8v.8h-.8zM301.3 654.6h.8v.8h-.8zM298.7 655.3h.8v.8h-.8zM300.1 654.1h.8v.8h-.8zM298.1 656.5h.8v.8h-.8zM304.3 654.0h.8v.8h-.8zM287.9 655.4h.8v.8h-.8zM317.2 653.5h.8v.8h-.8zM302.1 656.6h.8v.8h-.8zM299.0 656.2h.8v.8h-.8zM313.0 654.6h.8v.8h-.8zM298.0 665.0h.8v.8h-.8zM294.3 652.2h.8v.8h-.8zM309.8 656.8h.8v.8h-.8zM299.4 657.9h.8v.8h-.8zM301.4 660.1h.8v.8h-.8zM302.0 658.6h.8v.8h-.8zM306.3 655.8h.8v.8h-.8zM305.7 652.2h.8v.8h-.8zM297.2 655.2h.8v.8h-.8zM307.0 656.8h.8v.8h-.8zM294.2 657.9h.8v.8h-.8zM312.9 652.5h.8v.8h-.8zM297.9 658.9h.8v.8h-.8zM310.0 657.1h.8v.8h-.8zM299.1 663.2h.8v.8h-.8zM300.7 656.2h.8v.8h-.8zM298.7 661.0h.8v.8h-.8zM304.8 655.0h.8v.8h-.8zM303.3 657.0h.8v.8h-.8zM308.2 651.8h.8v.8h-.8zM311.6 656.3h.8v.8h-.8zM295.9 661.6h.8v.8h-.8zM300.9 655.4h.8v.8h-.8zM305.3 658.3h.8v.8h-.8zM299.1 659.7h.8v.8h-.8zM299.2 657.3h.8v.8h-.8zM303.7 653.3h.8v.8h-.8zM303.9 656.6h.8v.8h-.8zM299.5 656.9h.8v.8h-.8zM302.8 651.0h.8v.8h-.8zM300.2 655.8h.8v.8h-.8zM294.5 656.5h.8v.8h-.8zM299.1 660.7h.8v.8h-.8zM295.7 662.9h.8v.8h-.8zM302.6 657.9h.8v.8h-.8zM297.4 659.9h.8v.8h-.8z" fill="#f52a14" fill-opacity="0.9"/><ellipse cx="324.60" cy="629.28" rx="7.02" ry="6.35" fill="#ee2a10" fill-opacity="0.55" transform="rotate(-16.0 324.60 629.28)" filter="url(#b10)"/><path d="M324.0 633.7h.8v.8h-.8zM314.4 627.5h.8v.8h-.8zM313.3 633.2h.8v.8h-.8zM325.4 632.0h.8v.8h-.8zM319.2 631.5h.8v.8h-.8zM328.2 629.4h.8v.8h-.8zM334.8 623.8h.8v.8h-.8zM320.9 627.2h.8v.8h-.8zM318.7 636.6h.8v.8h-.8zM336.2 620.2h.8v.8h-.8zM314.6 630.4h.8v.8h-.8zM332.9 621.7h.8v.8h-.8zM328.8 621.6h.8v.8h-.8zM335.7 624.7h.8v.8h-.8zM319.9 630.5h.8v.8h-.8zM329.3 625.4h.8v.8h-.8zM317.1 632.3h.8v.8h-.8zM334.1 629.8h.8v.8h-.8zM318.5 620.1h.8v.8h-.8zM317.9 634.3h.8v.8h-.8zM333.8 633.0h.8v.8h-.8zM318.4 640.0h.8v.8h-.8zM319.8 633.9h.8v.8h-.8zM324.7 622.9h.8v.8h-.8zM331.6 630.3h.8v.8h-.8zM327.0 627.9h.8v.8h-.8zM315.9 635.4h.8v.8h-.8zM324.9 636.1h.8v.8h-.8zM329.1 630.3h.8v.8h-.8zM321.1 624.1h.8v.8h-.8zM312.6 632.9h.8v.8h-.8zM320.6 630.9h.8v.8h-.8zM328.6 625.6h.8v.8h-.8zM318.4 637.1h.8v.8h-.8zM327.2 631.8h.8v.8h-.8zM317.9 635.2h.8v.8h-.8zM325.7 628.4h.8v.8h-.8zM325.9 625.3h.8v.8h-.8zM314.4 637.4h.8v.8h-.8zM328.4 631.3h.8v.8h-.8zM323.4 633.6h.8v.8h-.8zM326.2 628.8h.8v.8h-.8zM330.1 637.2h.8v.8h-.8zM327.3 628.8h.8v.8h-.8zM323.6 638.0h.8v.8h-.8zM318.6 634.3h.8v.8h-.8zM320.1 637.8h.8v.8h-.8zM326.8 629.2h.8v.8h-.8zM321.4 634.7h.8v.8h-.8zM325.8 631.9h.8v.8h-.8zM329.2 628.9h.8v.8h-.8zM324.4 625.9h.8v.8h-.8zM325.7 628.1h.8v.8h-.8zM322.8 620.5h.8v.8h-.8zM330.6 625.5h.8v.8h-.8zM321.1 630.0h.8v.8h-.8zM323.7 627.1h.8v.8h-.8zM313.2 634.3h.8v.8h-.8zM323.5 633.5h.8v.8h-.8zM332.5 621.6h.8v.8h-.8zM321.8 628.7h.8v.8h-.8zM320.4 633.8h.8v.8h-.8zM324.6 630.7h.8v.8h-.8zM322.6 624.9h.8v.8h-.8zM323.8 626.5h.8v.8h-.8zM335.5 632.8h.8v.8h-.8zM335.5 622.5h.8v.8h-.8zM317.4 634.3h.8v.8h-.8zM328.6 628.1h.8v.8h-.8zM322.9 629.6h.8v.8h-.8zM322.4 633.8h.8v.8h-.8zM324.9 621.4h.8v.8h-.8zM325.1 636.8h.8v.8h-.8zM317.7 635.9h.8v.8h-.8zM330.4 624.5h.8v.8h-.8zM319.6 626.2h.8v.8h-.8zM318.0 619.6h.8v.8h-.8zM326.2 625.8h.8v.8h-.8zM326.9 626.0h.8v.8h-.8zM325.6 629.2h.8v.8h-.8zM319.2 631.7h.8v.8h-.8zM324.2 619.1h.8v.8h-.8zM324.3 629.6h.8v.8h-.8zM321.6 621.1h.8v.8h-.8zM316.4 638.0h.8v.8h-.8zM323.0 626.2h.8v.8h-.8zM333.6 622.2h.8v.8h-.8zM312.2 638.5h.8v.8h-.8zM324.3 635.4h.8v.8h-.8zM326.4 631.1h.8v.8h-.8zM329.0 631.9h.8v.8h-.8zM321.2 631.3h.8v.8h-.8zM321.2 633.7h.8v.8h-.8zM322.1 631.9h.8v.8h-.8zM327.3 630.3h.8v.8h-.8zM319.1 632.6h.8v.8h-.8zM325.2 630.9h.8v.8h-.8zM326.7 621.8h.8v.8h-.8zM324.1 633.4h.8v.8h-.8zM320.7 632.1h.8v.8h-.8zM318.9 633.9h.8v.8h-.8zM319.0 626.6h.8v.8h-.8zM321.7 636.9h.8v.8h-.8zM318.2 624.7h.8v.8h-.8zM329.4 618.9h.8v.8h-.8zM327.3 628.4h.8v.8h-.8zM316.9 631.8h.8v.8h-.8zM327.1 627.6h.8v.8h-.8zM323.7 632.6h.8v.8h-.8zM323.4 630.4h.8v.8h-.8zM328.9 624.9h.8v.8h-.8zM321.4 637.8h.8v.8h-.8zM325.3 623.3h.8v.8h-.8zM321.3 628.4h.8v.8h-.8zM324.4 626.7h.8v.8h-.8zM323.4 629.4h.8v.8h-.8zM322.0 630.8h.8v.8h-.8zM319.7 632.3h.8v.8h-.8zM319.4 631.2h.8v.8h-.8zM328.5 637.7h.8v.8h-.8zM329.1 622.7h.8v.8h-.8zM325.9 626.6h.8v.8h-.8zM328.7 638.6h.8v.8h-.8zM323.7 632.8h.8v.8h-.8zM323.1 624.1h.8v.8h-.8zM320.2 634.6h.8v.8h-.8zM317.9 636.9h.8v.8h-.8zM323.2 633.5h.8v.8h-.8zM334.3 624.3h.8v.8h-.8zM338.3 622.6h.8v.8h-.8zM328.9 627.7h.8v.8h-.8zM321.6 622.1h.8v.8h-.8zM325.1 634.4h.8v.8h-.8zM323.0 620.0h.8v.8h-.8zM309.5 631.6h.8v.8h-.8zM318.5 629.3h.8v.8h-.8zM325.2 624.1h.8v.8h-.8zM334.2 629.1h.8v.8h-.8zM322.1 634.5h.8v.8h-.8zM327.3 621.2h.8v.8h-.8zM322.6 632.8h.8v.8h-.8zM322.8 633.8h.8v.8h-.8zM331.2 628.6h.8v.8h-.8zM328.8 634.2h.8v.8h-.8zM318.6 628.4h.8v.8h-.8zM328.8 630.2h.8v.8h-.8zM314.9 630.9h.8v.8h-.8zM315.6 633.6h.8v.8h-.8zM320.9 625.6h.8v.8h-.8zM330.6 628.7h.8v.8h-.8zM320.7 629.2h.8v.8h-.8zM329.2 619.2h.8v.8h-.8zM324.2 630.3h.8v.8h-.8zM323.6 624.5h.8v.8h-.8zM325.0 633.5h.8v.8h-.8zM325.6 627.9h.8v.8h-.8zM327.3 623.6h.8v.8h-.8zM317.8 629.0h.8v.8h-.8zM331.3 629.2h.8v.8h-.8zM320.3 625.4h.8v.8h-.8zM335.1 621.2h.8v.8h-.8zM318.6 636.7h.8v.8h-.8zM321.1 631.2h.8v.8h-.8zM313.8 623.7h.8v.8h-.8zM316.6 633.2h.8v.8h-.8zM326.0 622.3h.8v.8h-.8zM321.8 636.9h.8v.8h-.8zM325.3 628.1h.8v.8h-.8zM331.3 630.7h.8v.8h-.8zM321.7 630.4h.8v.8h-.8zM328.4 625.0h.8v.8h-.8zM326.7 633.9h.8v.8h-.8zM322.7 636.8h.8v.8h-.8zM320.4 631.3h.8v.8h-.8zM329.5 623.4h.8v.8h-.8zM325.5 623.2h.8v.8h-.8zM322.9 625.1h.8v.8h-.8zM316.2 635.1h.8v.8h-.8zM320.6 631.0h.8v.8h-.8zM323.1 631.1h.8v.8h-.8zM321.4 632.3h.8v.8h-.8zM321.1 627.8h.8v.8h-.8zM334.9 629.2h.8v.8h-.8zM333.5 635.9h.8v.8h-.8zM326.8 633.8h.8v.8h-.8zM313.1 632.0h.8v.8h-.8zM330.2 632.2h.8v.8h-.8zM321.4 635.2h.8v.8h-.8zM322.5 629.7h.8v.8h-.8zM328.1 630.9h.8v.8h-.8zM329.1 620.9h.8v.8h-.8zM314.8 625.3h.8v.8h-.8zM330.4 632.9h.8v.8h-.8zM325.5 632.6h.8v.8h-.8zM309.9 629.0h.8v.8h-.8zM328.9 627.5h.8v.8h-.8zM327.7 628.0h.8v.8h-.8zM316.6 626.3h.8v.8h-.8zM329.6 630.2h.8v.8h-.8zM325.5 630.0h.8v.8h-.8zM331.6 629.0h.8v.8h-.8zM330.4 631.2h.8v.8h-.8zM328.5 629.0h.8v.8h-.8zM323.7 641.9h.8v.8h-.8zM327.9 627.1h.8v.8h-.8zM332.6 631.9h.8v.8h-.8zM315.2 628.5h.8v.8h-.8zM320.7 629.4h.8v.8h-.8zM331.1 630.5h.8v.8h-.8zM329.1 627.3h.8v.8h-.8zM329.6 628.0h.8v.8h-.8zM321.2 636.5h.8v.8h-.8zM335.5 618.4h.8v.8h-.8zM318.7 629.7h.8v.8h-.8zM315.1 630.8h.8v.8h-.8zM322.5 636.5h.8v.8h-.8zM325.8 619.8h.8v.8h-.8zM323.5 626.2h.8v.8h-.8zM321.3 627.4h.8v.8h-.8zM318.7 624.0h.8v.8h-.8zM333.1 628.5h.8v.8h-.8zM329.6 623.7h.8v.8h-.8zM322.0 629.1h.8v.8h-.8zM317.2 640.8h.8v.8h-.8zM326.6 630.9h.8v.8h-.8zM325.0 631.6h.8v.8h-.8zM322.2 629.6h.8v.8h-.8zM327.2 622.5h.8v.8h-.8zM331.9 628.2h.8v.8h-.8zM326.7 633.5h.8v.8h-.8zM323.5 628.7h.8v.8h-.8zM324.2 633.3h.8v.8h-.8zM330.5 625.6h.8v.8h-.8zM326.3 640.2h.8v.8h-.8zM317.5 625.3h.8v.8h-.8zM324.3 639.4h.8v.8h-.8zM329.3 630.4h.8v.8h-.8zM320.2 628.0h.8v.8h-.8zM324.9 627.9h.8v.8h-.8zM313.8 632.1h.8v.8h-.8zM321.2 631.9h.8v.8h-.8zM319.7 632.6h.8v.8h-.8zM326.0 624.1h.8v.8h-.8zM313.6 633.6h.8v.8h-.8zM316.3 634.2h.8v.8h-.8zM337.4 632.6h.8v.8h-.8zM325.9 639.5h.8v.8h-.8zM335.6 622.2h.8v.8h-.8zM331.3 630.3h.8v.8h-.8zM327.3 619.9h.8v.8h-.8zM331.0 622.1h.8v.8h-.8zM323.2 629.8h.8v.8h-.8zM320.8 637.1h.8v.8h-.8zM319.2 636.2h.8v.8h-.8zM326.9 629.9h.8v.8h-.8zM315.6 641.1h.8v.8h-.8zM329.3 624.8h.8v.8h-.8zM325.7 631.3h.8v.8h-.8zM326.1 630.3h.8v.8h-.8zM326.5 633.9h.8v.8h-.8zM324.7 632.0h.8v.8h-.8zM328.8 630.0h.8v.8h-.8zM327.4 632.5h.8v.8h-.8zM327.6 627.2h.8v.8h-.8zM331.5 622.4h.8v.8h-.8zM328.4 629.8h.8v.8h-.8zM330.9 629.1h.8v.8h-.8zM334.4 627.7h.8v.8h-.8zM323.2 624.1h.8v.8h-.8zM326.8 632.0h.8v.8h-.8zM320.9 624.6h.8v.8h-.8zM326.0 622.1h.8v.8h-.8zM320.9 629.7h.8v.8h-.8zM314.3 640.1h.8v.8h-.8zM319.6 631.8h.8v.8h-.8zM323.1 633.9h.8v.8h-.8zM323.8 631.6h.8v.8h-.8zM324.1 625.2h.8v.8h-.8zM328.2 627.4h.8v.8h-.8zM328.7 627.1h.8v.8h-.8zM325.8 624.7h.8v.8h-.8zM325.7 626.8h.8v.8h-.8zM330.4 625.3h.8v.8h-.8zM322.5 625.9h.8v.8h-.8zM323.5 634.0h.8v.8h-.8zM326.8 632.6h.8v.8h-.8zM319.3 628.2h.8v.8h-.8zM326.6 634.2h.8v.8h-.8zM327.6 627.5h.8v.8h-.8zM320.8 630.9h.8v.8h-.8zM335.9 625.5h.8v.8h-.8zM323.4 624.8h.8v.8h-.8zM324.2 630.7h.8v.8h-.8zM319.1 633.3h.8v.8h-.8zM319.0 631.0h.8v.8h-.8zM323.9 634.8h.8v.8h-.8zM325.4 624.6h.8v.8h-.8zM324.2 634.0h.8v.8h-.8zM325.3 626.3h.8v.8h-.8zM328.8 627.7h.8v.8h-.8zM320.2 630.3h.8v.8h-.8zM329.7 630.6h.8v.8h-.8zM316.5 640.3h.8v.8h-.8zM322.1 618.9h.8v.8h-.8zM326.9 630.5h.8v.8h-.8zM313.8 625.3h.8v.8h-.8zM322.7 636.5h.8v.8h-.8zM331.9 627.1h.8v.8h-.8zM324.4 633.9h.8v.8h-.8zM316.1 636.2h.8v.8h-.8zM320.6 636.8h.8v.8h-.8zM319.6 628.4h.8v.8h-.8zM332.4 621.5h.8v.8h-.8zM319.6 636.5h.8v.8h-.8zM325.0 623.4h.8v.8h-.8zM324.4 634.7h.8v.8h-.8zM321.5 629.1h.8v.8h-.8zM324.3 625.2h.8v.8h-.8zM337.0 620.7h.8v.8h-.8zM324.6 618.4h.8v.8h-.8zM321.5 639.9h.8v.8h-.8zM317.0 631.2h.8v.8h-.8zM328.5 629.1h.8v.8h-.8zM327.3 627.9h.8v.8h-.8zM333.5 633.2h.8v.8h-.8zM320.7 620.9h.8v.8h-.8zM323.0 625.8h.8v.8h-.8zM317.3 640.3h.8v.8h-.8zM319.7 628.6h.8v.8h-.8zM325.4 633.1h.8v.8h-.8zM328.4 629.5h.8v.8h-.8zM335.3 626.3h.8v.8h-.8zM324.3 632.9h.8v.8h-.8zM327.5 630.1h.8v.8h-.8zM320.3 627.9h.8v.8h-.8zM327.6 632.3h.8v.8h-.8zM319.6 626.9h.8v.8h-.8zM330.1 628.7h.8v.8h-.8zM323.8 633.8h.8v.8h-.8zM316.9 633.6h.8v.8h-.8zM328.6 628.5h.8v.8h-.8zM327.4 631.2h.8v.8h-.8zM318.2 629.2h.8v.8h-.8zM327.1 631.7h.8v.8h-.8zM324.4 638.3h.8v.8h-.8zM333.5 623.7h.8v.8h-.8zM321.5 634.2h.8v.8h-.8zM337.5 620.9h.8v.8h-.8zM321.0 627.9h.8v.8h-.8zM321.0 632.0h.8v.8h-.8zM327.4 629.3h.8v.8h-.8zM335.1 627.3h.8v.8h-.8zM322.0 632.7h.8v.8h-.8zM329.3 627.5h.8v.8h-.8zM321.6 636.9h.8v.8h-.8zM327.7 630.3h.8v.8h-.8zM329.8 626.3h.8v.8h-.8zM336.7 629.0h.8v.8h-.8zM321.8 635.9h.8v.8h-.8zM331.2 625.9h.8v.8h-.8zM335.3 620.2h.8v.8h-.8zM327.7 631.3h.8v.8h-.8zM326.3 638.9h.8v.8h-.8zM326.0 628.3h.8v.8h-.8zM315.5 634.0h.8v.8h-.8zM315.7 630.8h.8v.8h-.8zM327.7 627.5h.8v.8h-.8zM330.1 625.1h.8v.8h-.8zM322.5 635.5h.8v.8h-.8zM326.4 626.2h.8v.8h-.8zM323.8 634.5h.8v.8h-.8zM326.5 628.0h.8v.8h-.8zM332.1 622.3h.8v.8h-.8zM328.5 630.4h.8v.8h-.8zM316.6 638.6h.8v.8h-.8zM328.1 629.8h.8v.8h-.8zM330.0 632.7h.8v.8h-.8zM315.6 634.9h.8v.8h-.8zM327.3 627.6h.8v.8h-.8zM322.9 627.5h.8v.8h-.8zM324.6 623.3h.8v.8h-.8zM333.7 617.4h.8v.8h-.8zM317.3 629.7h.8v.8h-.8zM327.6 627.2h.8v.8h-.8zM330.1 628.5h.8v.8h-.8zM326.9 624.0h.8v.8h-.8zM332.5 631.7h.8v.8h-.8zM334.9 623.7h.8v.8h-.8zM326.5 627.8h.8v.8h-.8zM328.7 625.8h.8v.8h-.8zM313.1 632.7h.8v.8h-.8zM323.8 624.2h.8v.8h-.8zM325.2 623.7h.8v.8h-.8zM323.1 637.5h.8v.8h-.8zM323.6 623.6h.8v.8h-.8zM318.6 624.8h.8v.8h-.8zM326.5 621.9h.8v.8h-.8zM323.7 631.0h.8v.8h-.8zM327.3 631.7h.8v.8h-.8zM331.8 629.3h.8v.8h-.8zM323.2 632.1h.8v.8h-.8zM328.2 634.0h.8v.8h-.8zM326.7 630.7h.8v.8h-.8zM327.0 626.0h.8v.8h-.8zM318.6 630.6h.8v.8h-.8zM332.4 630.5h.8v.8h-.8zM328.6 629.7h.8v.8h-.8zM329.3 629.5h.8v.8h-.8zM345.5 620.6h.8v.8h-.8zM328.9 631.6h.8v.8h-.8zM320.4 633.5h.8v.8h-.8zM318.4 626.3h.8v.8h-.8zM321.9 633.4h.8v.8h-.8zM320.6 629.5h.8v.8h-.8zM323.4 632.6h.8v.8h-.8zM324.0 632.7h.8v.8h-.8zM324.1 629.9h.8v.8h-.8zM328.4 625.6h.8v.8h-.8zM322.6 635.6h.8v.8h-.8zM323.8 628.2h.8v.8h-.8z" fill="#f52a14" fill-opacity="0.9"/><path d="M318.9 646.9h.8v.8h-.8zM306.9 644.6h.8v.8h-.8zM316.3 649.0h.8v.8h-.8zM324.3 646.4h.8v.8h-.8zM327.1 632.7h.8v.8h-.8zM315.5 652.7h.8v.8h-.8zM313.5 636.1h.8v.8h-.8zM302.7 662.1h.8v.8h-.8zM313.8 646.8h.8v.8h-.8zM314.2 655.1h.8v.8h-.8zM313.4 653.0h.8v.8h-.8zM316.1 643.0h.8v.8h-.8zM321.0 643.1h.8v.8h-.8zM311.7 650.0h.8v.8h-.8zM329.2 624.0h.8v.8h-.8zM312.3 656.9h.8v.8h-.8zM306.9 643.2h.8v.8h-.8zM307.2 657.7h.8v.8h-.8zM301.7 662.8h.8v.8h-.8zM311.4 654.8h.8v.8h-.8zM333.0 630.0h.8v.8h-.8zM305.8 646.7h.8v.8h-.8zM323.1 652.4h.8v.8h-.8zM318.3 643.5h.8v.8h-.8zM320.9 635.1h.8v.8h-.8zM321.3 647.8h.8v.8h-.8zM317.1 630.2h.8v.8h-.8zM302.9 656.2h.8v.8h-.8zM299.0 653.9h.8v.8h-.8zM317.1 646.6h.8v.8h-.8zM310.4 650.5h.8v.8h-.8zM330.8 632.9h.8v.8h-.8zM314.6 651.7h.8v.8h-.8zM316.2 636.3h.8v.8h-.8zM311.8 647.5h.8v.8h-.8zM307.5 645.3h.8v.8h-.8zM301.0 663.6h.8v.8h-.8zM311.6 654.1h.8v.8h-.8zM317.9 629.3h.8v.8h-.8zM306.1 639.7h.8v.8h-.8zM323.1 646.5h.8v.8h-.8zM317.4 630.0h.8v.8h-.8zM327.7 636.3h.8v.8h-.8zM320.1 646.4h.8v.8h-.8zM319.2 652.2h.8v.8h-.8zM308.8 647.5h.8v.8h-.8zM302.0 648.6h.8v.8h-.8zM306.0 651.0h.8v.8h-.8zM309.2 660.0h.8v.8h-.8zM326.6 644.8h.8v.8h-.8zM316.2 655.7h.8v.8h-.8zM314.7 638.3h.8v.8h-.8zM316.8 645.1h.8v.8h-.8zM336.1 626.5h.8v.8h-.8zM315.4 642.3h.8v.8h-.8zM324.7 646.9h.8v.8h-.8zM322.9 637.4h.8v.8h-.8zM318.5 641.1h.8v.8h-.8zM315.9 644.2h.8v.8h-.8zM307.0 637.9h.8v.8h-.8zM313.3 644.6h.8v.8h-.8zM304.6 643.3h.8v.8h-.8zM306.1 653.2h.8v.8h-.8zM311.4 655.5h.8v.8h-.8zM322.3 643.6h.8v.8h-.8zM311.1 647.0h.8v.8h-.8zM316.8 640.2h.8v.8h-.8zM297.3 659.1h.8v.8h-.8zM318.8 639.6h.8v.8h-.8zM313.6 645.9h.8v.8h-.8zM312.6 649.9h.8v.8h-.8zM314.6 652.3h.8v.8h-.8zM332.0 639.0h.8v.8h-.8zM307.9 659.4h.8v.8h-.8zM313.3 643.6h.8v.8h-.8zM322.3 629.6h.8v.8h-.8zM293.8 660.4h.8v.8h-.8zM321.9 634.1h.8v.8h-.8zM322.8 639.7h.8v.8h-.8zM319.8 638.5h.8v.8h-.8zM308.3 658.9h.8v.8h-.8zM325.6 635.2h.8v.8h-.8zM314.0 653.4h.8v.8h-.8zM307.5 650.5h.8v.8h-.8zM314.1 659.2h.8v.8h-.8zM311.2 649.2h.8v.8h-.8zM315.1 655.6h.8v.8h-.8zM316.1 645.8h.8v.8h-.8zM316.6 645.2h.8v.8h-.8zM318.0 651.2h.8v.8h-.8zM309.2 643.3h.8v.8h-.8zM322.5 637.0h.8v.8h-.8zM311.2 647.9h.8v.8h-.8zM320.8 652.1h.8v.8h-.8zM312.6 665.3h.8v.8h-.8zM327.5 630.1h.8v.8h-.8zM319.1 646.2h.8v.8h-.8zM318.7 649.2h.8v.8h-.8zM305.5 656.4h.8v.8h-.8zM320.5 640.5h.8v.8h-.8zM314.2 650.5h.8v.8h-.8zM303.8 644.7h.8v.8h-.8zM308.3 655.9h.8v.8h-.8zM308.2 656.3h.8v.8h-.8zM316.5 641.3h.8v.8h-.8zM315.0 637.1h.8v.8h-.8zM321.4 636.6h.8v.8h-.8zM311.0 653.7h.8v.8h-.8zM312.7 641.0h.8v.8h-.8zM309.2 654.8h.8v.8h-.8zM314.4 648.1h.8v.8h-.8zM325.3 633.2h.8v.8h-.8zM330.0 629.0h.8v.8h-.8zM311.6 637.5h.8v.8h-.8zM307.3 656.7h.8v.8h-.8zM322.7 648.4h.8v.8h-.8zM305.9 654.3h.8v.8h-.8zM307.2 655.2h.8v.8h-.8zM313.1 641.0h.8v.8h-.8zM310.5 655.2h.8v.8h-.8zM329.2 630.0h.8v.8h-.8zM312.7 649.6h.8v.8h-.8zM321.5 647.2h.8v.8h-.8zM312.6 639.5h.8v.8h-.8zM313.5 641.0h.8v.8h-.8zM321.0 648.2h.8v.8h-.8zM310.7 641.6h.8v.8h-.8zM319.9 635.4h.8v.8h-.8zM316.1 650.8h.8v.8h-.8zM307.3 653.0h.8v.8h-.8zM319.4 654.6h.8v.8h-.8zM312.1 654.0h.8v.8h-.8zM329.0 626.0h.8v.8h-.8zM313.7 654.5h.8v.8h-.8zM306.5 649.3h.8v.8h-.8zM321.3 636.8h.8v.8h-.8zM324.5 636.4h.8v.8h-.8zM323.7 637.0h.8v.8h-.8zM325.3 642.2h.8v.8h-.8zM323.9 653.1h.8v.8h-.8zM309.3 653.9h.8v.8h-.8zM312.5 652.6h.8v.8h-.8zM320.3 640.3h.8v.8h-.8zM327.7 629.8h.8v.8h-.8zM299.5 665.8h.8v.8h-.8zM308.8 651.7h.8v.8h-.8zM328.8 650.3h.8v.8h-.8zM323.4 637.6h.8v.8h-.8zM329.3 622.4h.8v.8h-.8zM309.5 659.4h.8v.8h-.8z" fill="#f52a14" fill-opacity="0.9"/></g><line x1="314.34" y1="595.80" x2="314.34" y2="668.20" stroke="#ee3a3a" stroke-width="0.9"/><line x1="285.00" y1="645.03" x2="357.00" y2="645.03" stroke="#ee3a3a" stroke-width="0.9"/><rect x="285.00" y="595.80" width="72.00" height="72.40" fill="none" stroke="#555" stroke-width="0.7"/><line x1="285.00" y1="668.20" x2="285.00" y2="669.70" stroke="#555" stroke-width="0.6"/><text x="285.00" y="675.00" font-size="5.6" text-anchor="middle" fill="#333">0</text><line x1="283.50" y1="668.20" x2="285.00" y2="668.20" stroke="#555" stroke-width="0.6"/><text x="282.80" y="670.20" font-size="5.6" text-anchor="end" fill="#333">0</text><line x1="303.00" y1="668.20" x2="303.00" y2="669.70" stroke="#555" stroke-width="0.6"/><text x="303.00" y="675.00" font-size="5.6" text-anchor="middle" fill="#333">1</text><line x1="283.50" y1="650.10" x2="285.00" y2="650.10" stroke="#555" stroke-width="0.6"/><text x="282.80" y="652.10" font-size="5.6" text-anchor="end" fill="#333">1</text><line x1="321.00" y1="668.20" x2="321.00" y2="669.70" stroke="#555" stroke-width="0.6"/><text x="321.00" y="675.00" font-size="5.6" text-anchor="middle" fill="#333">2</text><line x1="283.50" y1="632.00" x2="285.00" y2="632.00" stroke="#555" stroke-width="0.6"/><text x="282.80" y="634.00" font-size="5.6" text-anchor="end" fill="#333">2</text><line x1="339.00" y1="668.20" x2="339.00" y2="669.70" stroke="#555" stroke-width="0.6"/><text x="339.00" y="675.00" font-size="5.6" text-anchor="middle" fill="#333">3</text><line x1="283.50" y1="613.90" x2="285.00" y2="613.90" stroke="#555" stroke-width="0.6"/><text x="282.80" y="615.90" font-size="5.6" text-anchor="end" fill="#333">3</text><line x1="357.00" y1="668.20" x2="357.00" y2="669.70" stroke="#555" stroke-width="0.6"/><text x="357.00" y="675.00" font-size="5.6" text-anchor="middle" fill="#333">4</text><line x1="283.50" y1="595.80" x2="285.00" y2="595.80" stroke="#555" stroke-width="0.6"/><text x="282.80" y="597.80" font-size="5.6" text-anchor="end" fill="#333">4</text><text x="275.50" y="632.00" font-size="5" text-anchor="middle" fill="#333" transform="rotate(-90 275.50 632.00)">VIABILITY</text><text x="321.00" y="682.10" font-size="5.2" text-anchor="middle" fill="#333">ANNEXIN V</text><text x="289.50" y="682.10" font-size="3.8" text-anchor="middle" fill="#888">Live</text><text x="348.00" y="682.10" font-size="3.8" text-anchor="middle" fill="#888">Apoptotic</text><text x="286.30" y="601.60" font-size="4.8" fill="#222">Dead</text><text x="286.30" y="608.10" font-size="4.8" fill="#222">4.64 %</text><text x="355.70" y="601.60" font-size="4.8" text-anchor="end" fill="#222">Late Apop./Dead</text><text x="355.70" y="608.10" font-size="4.8" text-anchor="end" fill="#222">42.26 %</text><text x="286.30" y="659.60" font-size="4.8" fill="#222">41.86 %</text><text x="286.30" y="666.00" font-size="4.8" fill="#222">Live</text><text x="355.70" y="659.60" font-size="4.8" text-anchor="end" fill="#222">11.24 %</text><text x="355.70" y="666.00" font-size="4.8" text-anchor="end" fill="#222">Early Apop.</text><rect x="373.40" y="595.80" width="71.60" height="72.40" fill="#fff" stroke="none" stroke-width="1"/><rect x="373.40" y="645.03" width="29.18" height="23.17" fill="#eef4cb" stroke="none" stroke-width="1"/><text x="409.20" y="593.50" font-size="5.2" text-anchor="middle" fill="#333">APOPTOSIS PROFILE</text><clipPath id="fc35"><rect x="373.40" y="595.80" width="71.60" height="72.40"/></clipPath><g clip-path="url(#fc35)"><ellipse cx="413.68" cy="630.19" rx="6.52" ry="9.88" fill="#ee2a10" fill-opacity="0.75" transform="rotate(-31.2 413.68 630.19)" filter="url(#b10)"/><path d="M405.7 642.0h.8v.8h-.8zM413.5 639.9h.8v.8h-.8zM410.8 621.6h.8v.8h-.8zM406.1 642.4h.8v.8h-.8zM414.0 640.7h.8v.8h-.8zM413.0 626.6h.8v.8h-.8zM412.3 638.0h.8v.8h-.8zM413.7 634.7h.8v.8h-.8zM414.4 629.5h.8v.8h-.8zM412.8 635.7h.8v.8h-.8zM421.1 620.3h.8v.8h-.8zM417.1 625.0h.8v.8h-.8zM412.3 629.3h.8v.8h-.8zM414.7 627.4h.8v.8h-.8zM414.9 630.4h.8v.8h-.8zM414.7 627.3h.8v.8h-.8zM419.0 627.1h.8v.8h-.8zM419.6 634.7h.8v.8h-.8zM408.7 636.0h.8v.8h-.8zM410.7 631.4h.8v.8h-.8zM402.9 649.9h.8v.8h-.8zM405.3 640.3h.8v.8h-.8zM420.9 627.4h.8v.8h-.8zM410.7 639.0h.8v.8h-.8zM417.7 622.8h.8v.8h-.8zM416.9 630.4h.8v.8h-.8zM412.0 635.5h.8v.8h-.8zM410.6 635.5h.8v.8h-.8zM415.7 636.3h.8v.8h-.8zM421.0 620.7h.8v.8h-.8zM423.8 611.7h.8v.8h-.8zM414.9 626.6h.8v.8h-.8zM419.1 627.9h.8v.8h-.8zM419.3 623.2h.8v.8h-.8zM415.1 631.0h.8v.8h-.8zM413.7 634.1h.8v.8h-.8zM409.0 634.0h.8v.8h-.8zM418.4 623.1h.8v.8h-.8zM406.8 639.3h.8v.8h-.8zM410.7 634.4h.8v.8h-.8zM410.4 636.5h.8v.8h-.8zM415.5 629.3h.8v.8h-.8zM414.0 631.8h.8v.8h-.8zM409.4 637.0h.8v.8h-.8zM406.3 637.1h.8v.8h-.8zM413.8 630.4h.8v.8h-.8zM419.1 628.4h.8v.8h-.8zM419.8 618.5h.8v.8h-.8zM415.4 632.4h.8v.8h-.8zM415.8 629.6h.8v.8h-.8zM410.1 633.5h.8v.8h-.8zM415.6 631.6h.8v.8h-.8zM413.8 612.5h.8v.8h-.8zM408.9 633.0h.8v.8h-.8zM412.7 634.2h.8v.8h-.8zM416.5 633.6h.8v.8h-.8zM404.7 640.4h.8v.8h-.8zM415.3 629.8h.8v.8h-.8zM419.6 624.6h.8v.8h-.8zM415.2 635.4h.8v.8h-.8zM422.0 622.3h.8v.8h-.8zM413.8 627.4h.8v.8h-.8zM410.6 631.7h.8v.8h-.8zM414.5 623.3h.8v.8h-.8zM408.6 636.2h.8v.8h-.8zM413.8 632.7h.8v.8h-.8zM408.6 634.3h.8v.8h-.8zM405.9 645.5h.8v.8h-.8zM413.5 630.6h.8v.8h-.8zM409.8 637.3h.8v.8h-.8zM408.0 634.0h.8v.8h-.8zM415.3 619.9h.8v.8h-.8zM410.4 630.8h.8v.8h-.8zM412.1 632.5h.8v.8h-.8zM406.7 625.2h.8v.8h-.8zM417.3 622.7h.8v.8h-.8zM414.4 634.7h.8v.8h-.8zM406.5 644.9h.8v.8h-.8zM416.6 631.0h.8v.8h-.8zM413.2 630.1h.8v.8h-.8zM413.6 632.9h.8v.8h-.8zM411.2 632.6h.8v.8h-.8zM413.6 635.6h.8v.8h-.8zM418.7 620.1h.8v.8h-.8zM417.6 623.2h.8v.8h-.8zM411.7 624.7h.8v.8h-.8zM410.9 635.5h.8v.8h-.8zM410.9 629.0h.8v.8h-.8zM416.0 631.3h.8v.8h-.8zM413.7 632.0h.8v.8h-.8zM420.0 617.0h.8v.8h-.8zM412.7 630.3h.8v.8h-.8zM415.3 623.5h.8v.8h-.8zM417.8 622.9h.8v.8h-.8zM415.7 627.9h.8v.8h-.8zM411.0 630.1h.8v.8h-.8zM420.7 612.5h.8v.8h-.8zM413.1 627.8h.8v.8h-.8zM411.9 631.6h.8v.8h-.8zM410.6 633.3h.8v.8h-.8zM410.9 633.4h.8v.8h-.8zM417.7 629.6h.8v.8h-.8zM411.5 635.4h.8v.8h-.8zM417.3 625.0h.8v.8h-.8zM413.5 630.5h.8v.8h-.8zM418.2 614.8h.8v.8h-.8zM412.8 628.3h.8v.8h-.8zM415.2 632.0h.8v.8h-.8zM407.9 638.9h.8v.8h-.8zM412.1 632.0h.8v.8h-.8zM411.9 636.2h.8v.8h-.8zM422.0 630.1h.8v.8h-.8zM406.8 631.5h.8v.8h-.8zM416.6 627.6h.8v.8h-.8zM410.8 623.5h.8v.8h-.8zM416.0 629.8h.8v.8h-.8zM416.1 618.1h.8v.8h-.8zM416.5 625.3h.8v.8h-.8zM415.6 624.5h.8v.8h-.8zM411.1 632.5h.8v.8h-.8zM417.9 612.0h.8v.8h-.8zM408.1 635.9h.8v.8h-.8zM409.1 620.5h.8v.8h-.8zM409.3 638.9h.8v.8h-.8zM419.1 618.0h.8v.8h-.8zM407.8 628.4h.8v.8h-.8zM418.1 620.4h.8v.8h-.8zM414.5 635.7h.8v.8h-.8zM428.0 616.9h.8v.8h-.8zM413.1 632.6h.8v.8h-.8zM419.0 626.2h.8v.8h-.8zM410.8 630.5h.8v.8h-.8zM417.0 625.8h.8v.8h-.8zM414.9 625.3h.8v.8h-.8zM414.3 632.0h.8v.8h-.8zM413.6 624.0h.8v.8h-.8zM419.6 617.0h.8v.8h-.8zM419.3 623.4h.8v.8h-.8zM414.6 627.8h.8v.8h-.8zM410.3 639.1h.8v.8h-.8zM409.2 635.1h.8v.8h-.8zM412.2 630.4h.8v.8h-.8zM419.4 622.5h.8v.8h-.8zM412.2 635.3h.8v.8h-.8zM407.7 637.6h.8v.8h-.8zM410.9 631.4h.8v.8h-.8zM409.3 636.8h.8v.8h-.8zM405.5 636.8h.8v.8h-.8zM406.5 643.6h.8v.8h-.8zM414.7 635.4h.8v.8h-.8zM417.3 617.0h.8v.8h-.8zM404.4 641.5h.8v.8h-.8zM420.1 619.4h.8v.8h-.8zM405.5 644.7h.8v.8h-.8zM412.5 640.2h.8v.8h-.8zM402.6 646.6h.8v.8h-.8zM412.8 634.0h.8v.8h-.8zM417.6 626.2h.8v.8h-.8zM414.5 625.2h.8v.8h-.8zM416.1 633.5h.8v.8h-.8zM410.1 635.6h.8v.8h-.8zM404.3 643.1h.8v.8h-.8zM410.8 638.2h.8v.8h-.8zM414.2 633.4h.8v.8h-.8zM420.5 617.4h.8v.8h-.8zM414.5 628.8h.8v.8h-.8zM416.0 632.7h.8v.8h-.8zM418.0 624.0h.8v.8h-.8zM417.0 621.4h.8v.8h-.8zM404.8 636.5h.8v.8h-.8zM420.0 622.0h.8v.8h-.8zM412.7 633.8h.8v.8h-.8zM418.6 634.4h.8v.8h-.8zM407.4 642.4h.8v.8h-.8zM425.3 630.4h.8v.8h-.8zM410.5 631.8h.8v.8h-.8zM416.8 622.9h.8v.8h-.8zM411.8 644.6h.8v.8h-.8zM407.6 640.5h.8v.8h-.8zM412.9 632.3h.8v.8h-.8zM414.3 629.2h.8v.8h-.8zM417.5 633.9h.8v.8h-.8zM417.2 617.2h.8v.8h-.8zM416.3 622.9h.8v.8h-.8zM399.5 644.5h.8v.8h-.8zM412.7 631.5h.8v.8h-.8zM423.7 620.1h.8v.8h-.8zM427.7 619.4h.8v.8h-.8zM416.1 626.6h.8v.8h-.8zM416.0 622.2h.8v.8h-.8zM414.2 627.3h.8v.8h-.8zM404.6 647.5h.8v.8h-.8zM410.3 632.5h.8v.8h-.8zM418.7 629.9h.8v.8h-.8zM411.6 633.4h.8v.8h-.8zM413.2 631.7h.8v.8h-.8zM407.2 644.5h.8v.8h-.8zM417.1 633.1h.8v.8h-.8zM421.9 619.6h.8v.8h-.8zM413.0 629.2h.8v.8h-.8zM409.5 639.7h.8v.8h-.8zM414.2 637.4h.8v.8h-.8zM420.1 622.2h.8v.8h-.8zM416.0 623.5h.8v.8h-.8zM417.1 624.5h.8v.8h-.8zM407.7 635.5h.8v.8h-.8zM416.6 627.0h.8v.8h-.8zM410.8 633.2h.8v.8h-.8zM412.8 637.6h.8v.8h-.8zM410.0 640.9h.8v.8h-.8zM406.8 640.8h.8v.8h-.8zM409.3 636.0h.8v.8h-.8zM408.8 632.4h.8v.8h-.8zM410.6 632.9h.8v.8h-.8zM410.7 632.7h.8v.8h-.8zM407.1 633.0h.8v.8h-.8zM417.9 621.8h.8v.8h-.8zM414.5 629.7h.8v.8h-.8zM412.1 639.9h.8v.8h-.8zM416.2 626.1h.8v.8h-.8zM422.0 620.9h.8v.8h-.8zM407.0 636.9h.8v.8h-.8zM422.4 614.4h.8v.8h-.8zM407.9 638.9h.8v.8h-.8zM417.8 627.5h.8v.8h-.8zM414.7 630.2h.8v.8h-.8zM417.5 628.6h.8v.8h-.8zM422.5 619.1h.8v.8h-.8zM407.6 635.2h.8v.8h-.8zM411.1 633.2h.8v.8h-.8zM419.9 624.6h.8v.8h-.8zM413.9 630.0h.8v.8h-.8zM414.8 635.4h.8v.8h-.8zM411.2 634.7h.8v.8h-.8zM411.8 637.6h.8v.8h-.8zM413.8 626.4h.8v.8h-.8zM419.0 621.3h.8v.8h-.8zM424.5 619.6h.8v.8h-.8zM412.0 635.6h.8v.8h-.8zM411.8 625.0h.8v.8h-.8zM413.4 622.4h.8v.8h-.8zM416.1 623.9h.8v.8h-.8zM411.9 631.3h.8v.8h-.8zM412.5 626.0h.8v.8h-.8zM409.5 633.8h.8v.8h-.8zM413.7 629.9h.8v.8h-.8zM404.7 631.6h.8v.8h-.8zM407.7 628.7h.8v.8h-.8zM409.6 633.3h.8v.8h-.8zM414.5 627.3h.8v.8h-.8zM417.5 621.4h.8v.8h-.8zM424.8 620.1h.8v.8h-.8zM420.1 615.9h.8v.8h-.8zM403.5 644.6h.8v.8h-.8zM405.7 640.2h.8v.8h-.8zM409.5 631.2h.8v.8h-.8zM407.7 630.2h.8v.8h-.8zM417.3 618.6h.8v.8h-.8zM402.6 648.0h.8v.8h-.8zM411.3 634.7h.8v.8h-.8zM417.9 633.6h.8v.8h-.8zM416.7 626.1h.8v.8h-.8zM417.0 629.4h.8v.8h-.8zM413.0 631.2h.8v.8h-.8zM419.1 626.9h.8v.8h-.8zM404.2 641.6h.8v.8h-.8zM425.0 612.2h.8v.8h-.8zM419.3 623.0h.8v.8h-.8zM417.2 626.2h.8v.8h-.8zM408.4 636.2h.8v.8h-.8zM409.0 632.8h.8v.8h-.8zM402.8 646.0h.8v.8h-.8zM417.9 624.5h.8v.8h-.8zM411.8 622.9h.8v.8h-.8zM416.7 625.2h.8v.8h-.8zM422.4 620.9h.8v.8h-.8zM415.5 638.3h.8v.8h-.8zM412.0 630.5h.8v.8h-.8zM408.7 631.6h.8v.8h-.8zM419.4 622.5h.8v.8h-.8zM410.7 638.6h.8v.8h-.8zM420.6 610.2h.8v.8h-.8zM415.4 623.3h.8v.8h-.8zM421.7 620.6h.8v.8h-.8zM420.4 626.1h.8v.8h-.8zM410.8 624.8h.8v.8h-.8zM409.8 630.2h.8v.8h-.8zM404.2 647.8h.8v.8h-.8zM419.0 625.8h.8v.8h-.8zM408.2 641.0h.8v.8h-.8zM407.5 636.3h.8v.8h-.8zM412.3 637.1h.8v.8h-.8zM403.5 650.9h.8v.8h-.8zM414.3 633.4h.8v.8h-.8zM415.9 633.0h.8v.8h-.8zM415.1 634.2h.8v.8h-.8zM409.4 627.9h.8v.8h-.8zM417.1 626.2h.8v.8h-.8zM415.8 631.2h.8v.8h-.8zM406.4 632.3h.8v.8h-.8zM422.2 614.2h.8v.8h-.8zM420.7 626.6h.8v.8h-.8zM417.3 624.4h.8v.8h-.8zM416.5 625.0h.8v.8h-.8zM410.9 631.3h.8v.8h-.8zM409.2 637.5h.8v.8h-.8zM414.8 636.0h.8v.8h-.8zM409.6 635.7h.8v.8h-.8zM418.6 615.1h.8v.8h-.8zM418.1 625.0h.8v.8h-.8zM410.4 634.4h.8v.8h-.8zM414.7 625.7h.8v.8h-.8zM409.5 641.2h.8v.8h-.8zM410.6 634.2h.8v.8h-.8zM419.9 623.1h.8v.8h-.8zM414.5 626.9h.8v.8h-.8zM413.0 630.4h.8v.8h-.8zM413.2 613.3h.8v.8h-.8zM412.7 630.8h.8v.8h-.8zM411.8 627.0h.8v.8h-.8zM423.2 605.1h.8v.8h-.8zM417.8 628.9h.8v.8h-.8zM410.9 634.7h.8v.8h-.8zM412.2 634.7h.8v.8h-.8zM426.2 621.8h.8v.8h-.8zM416.4 622.2h.8v.8h-.8zM415.3 626.0h.8v.8h-.8zM418.4 623.8h.8v.8h-.8zM414.0 632.4h.8v.8h-.8zM412.0 638.7h.8v.8h-.8zM403.7 641.5h.8v.8h-.8zM420.3 625.7h.8v.8h-.8zM403.3 641.4h.8v.8h-.8zM414.9 631.2h.8v.8h-.8zM409.3 638.6h.8v.8h-.8zM414.7 627.1h.8v.8h-.8zM410.7 634.0h.8v.8h-.8zM411.7 632.9h.8v.8h-.8zM415.4 625.1h.8v.8h-.8zM416.1 622.5h.8v.8h-.8zM414.8 630.6h.8v.8h-.8zM418.9 620.2h.8v.8h-.8zM416.9 627.9h.8v.8h-.8zM424.8 624.2h.8v.8h-.8zM415.5 627.7h.8v.8h-.8zM407.6 636.9h.8v.8h-.8zM416.2 630.1h.8v.8h-.8zM415.5 627.0h.8v.8h-.8zM416.5 630.4h.8v.8h-.8zM415.7 632.7h.8v.8h-.8zM414.8 637.9h.8v.8h-.8zM420.9 631.3h.8v.8h-.8zM400.4 643.5h.8v.8h-.8zM409.4 633.6h.8v.8h-.8zM413.6 635.8h.8v.8h-.8zM412.6 623.8h.8v.8h-.8zM410.4 629.5h.8v.8h-.8zM408.8 629.5h.8v.8h-.8zM410.4 631.8h.8v.8h-.8zM413.6 637.4h.8v.8h-.8zM414.4 627.7h.8v.8h-.8zM412.5 630.2h.8v.8h-.8zM416.2 626.5h.8v.8h-.8zM418.8 626.6h.8v.8h-.8zM412.4 633.4h.8v.8h-.8zM410.3 639.3h.8v.8h-.8zM421.1 624.1h.8v.8h-.8zM411.3 626.6h.8v.8h-.8zM412.5 631.6h.8v.8h-.8zM414.8 632.2h.8v.8h-.8zM415.5 631.0h.8v.8h-.8zM416.2 627.4h.8v.8h-.8zM416.8 620.2h.8v.8h-.8zM424.4 625.9h.8v.8h-.8zM415.8 627.5h.8v.8h-.8zM417.6 624.2h.8v.8h-.8zM414.2 631.9h.8v.8h-.8zM411.9 629.0h.8v.8h-.8zM412.7 635.8h.8v.8h-.8zM415.9 629.2h.8v.8h-.8zM412.0 639.7h.8v.8h-.8zM412.7 629.9h.8v.8h-.8zM406.0 636.6h.8v.8h-.8zM418.1 624.6h.8v.8h-.8zM416.8 623.7h.8v.8h-.8zM417.9 622.6h.8v.8h-.8zM418.1 626.8h.8v.8h-.8zM413.6 629.1h.8v.8h-.8zM412.9 628.7h.8v.8h-.8zM419.1 622.1h.8v.8h-.8zM408.5 631.2h.8v.8h-.8zM414.9 633.7h.8v.8h-.8zM414.7 627.5h.8v.8h-.8zM417.6 623.0h.8v.8h-.8zM415.5 623.0h.8v.8h-.8zM413.8 633.7h.8v.8h-.8zM410.0 635.6h.8v.8h-.8zM408.8 633.2h.8v.8h-.8zM416.5 635.0h.8v.8h-.8zM411.8 631.5h.8v.8h-.8zM406.9 635.5h.8v.8h-.8zM414.3 632.2h.8v.8h-.8zM411.2 629.2h.8v.8h-.8zM420.9 619.4h.8v.8h-.8zM424.4 608.9h.8v.8h-.8zM423.2 624.2h.8v.8h-.8zM409.4 629.3h.8v.8h-.8zM407.6 640.4h.8v.8h-.8zM416.8 626.5h.8v.8h-.8zM410.8 635.2h.8v.8h-.8zM409.5 634.2h.8v.8h-.8zM411.9 631.5h.8v.8h-.8zM421.1 619.4h.8v.8h-.8zM406.8 638.1h.8v.8h-.8zM415.9 631.8h.8v.8h-.8zM419.0 625.4h.8v.8h-.8zM416.2 627.2h.8v.8h-.8zM410.4 629.6h.8v.8h-.8zM409.3 627.2h.8v.8h-.8zM413.0 639.4h.8v.8h-.8zM417.1 624.8h.8v.8h-.8zM419.4 625.3h.8v.8h-.8zM417.0 628.3h.8v.8h-.8zM418.1 637.7h.8v.8h-.8zM408.2 642.1h.8v.8h-.8zM411.2 634.3h.8v.8h-.8zM425.2 613.2h.8v.8h-.8zM414.4 628.0h.8v.8h-.8zM408.7 633.5h.8v.8h-.8zM418.5 622.7h.8v.8h-.8zM416.9 630.6h.8v.8h-.8zM416.1 635.4h.8v.8h-.8zM415.0 622.1h.8v.8h-.8zM415.2 628.5h.8v.8h-.8zM415.1 630.0h.8v.8h-.8zM418.9 623.8h.8v.8h-.8zM414.8 623.3h.8v.8h-.8zM414.3 625.7h.8v.8h-.8zM411.4 629.9h.8v.8h-.8zM412.0 638.4h.8v.8h-.8zM414.9 639.2h.8v.8h-.8zM418.8 620.6h.8v.8h-.8zM409.2 632.1h.8v.8h-.8zM412.4 630.3h.8v.8h-.8zM415.3 626.7h.8v.8h-.8zM418.3 625.5h.8v.8h-.8zM408.8 631.6h.8v.8h-.8zM406.0 640.8h.8v.8h-.8zM408.7 633.3h.8v.8h-.8zM405.4 645.6h.8v.8h-.8zM411.9 628.3h.8v.8h-.8zM407.8 629.7h.8v.8h-.8zM411.0 635.0h.8v.8h-.8zM421.0 612.5h.8v.8h-.8zM412.3 630.8h.8v.8h-.8zM411.8 632.1h.8v.8h-.8zM414.2 613.3h.8v.8h-.8zM412.7 632.7h.8v.8h-.8zM407.9 645.1h.8v.8h-.8zM422.6 619.1h.8v.8h-.8zM415.0 627.5h.8v.8h-.8zM412.1 645.1h.8v.8h-.8zM408.1 626.1h.8v.8h-.8zM413.1 624.6h.8v.8h-.8zM410.3 642.1h.8v.8h-.8zM414.2 629.1h.8v.8h-.8zM420.6 621.9h.8v.8h-.8zM410.6 636.5h.8v.8h-.8zM413.7 639.6h.8v.8h-.8zM409.8 632.8h.8v.8h-.8zM418.6 620.9h.8v.8h-.8zM414.2 632.2h.8v.8h-.8zM417.3 630.2h.8v.8h-.8zM419.0 622.4h.8v.8h-.8zM407.6 634.6h.8v.8h-.8zM406.7 632.2h.8v.8h-.8zM414.5 625.9h.8v.8h-.8zM415.5 628.2h.8v.8h-.8zM420.9 624.4h.8v.8h-.8zM412.7 627.6h.8v.8h-.8zM399.6 641.0h.8v.8h-.8zM413.0 633.3h.8v.8h-.8zM420.7 623.5h.8v.8h-.8zM414.8 633.8h.8v.8h-.8zM414.8 622.7h.8v.8h-.8zM415.6 628.3h.8v.8h-.8zM410.1 626.1h.8v.8h-.8zM415.4 621.1h.8v.8h-.8zM421.7 622.4h.8v.8h-.8zM412.3 630.6h.8v.8h-.8zM403.7 641.6h.8v.8h-.8zM413.1 635.3h.8v.8h-.8zM414.1 635.3h.8v.8h-.8zM411.2 635.8h.8v.8h-.8zM411.3 633.0h.8v.8h-.8zM408.5 625.8h.8v.8h-.8zM421.4 618.3h.8v.8h-.8zM414.5 623.6h.8v.8h-.8zM408.7 637.4h.8v.8h-.8zM410.4 623.8h.8v.8h-.8z" fill="#f52a14" fill-opacity="0.9"/><ellipse cx="402.04" cy="652.82" rx="4.19" ry="3.53" fill="#ee2a10" fill-opacity="0.5" transform="rotate(-20.0 402.04 652.82)" filter="url(#b10)"/><path d="M398.5 659.1h.8v.8h-.8zM403.9 652.7h.8v.8h-.8zM406.4 649.8h.8v.8h-.8zM406.6 652.4h.8v.8h-.8zM398.9 654.1h.8v.8h-.8zM408.8 652.6h.8v.8h-.8zM400.4 653.1h.8v.8h-.8zM403.1 653.0h.8v.8h-.8zM400.9 655.7h.8v.8h-.8zM404.8 650.8h.8v.8h-.8zM404.2 648.6h.8v.8h-.8zM397.5 657.2h.8v.8h-.8zM402.6 653.2h.8v.8h-.8zM402.3 652.6h.8v.8h-.8zM397.2 655.1h.8v.8h-.8zM403.7 652.7h.8v.8h-.8zM403.1 653.7h.8v.8h-.8zM402.1 652.8h.8v.8h-.8zM400.5 655.7h.8v.8h-.8zM398.2 652.6h.8v.8h-.8zM400.6 652.7h.8v.8h-.8zM400.5 653.3h.8v.8h-.8zM405.9 651.6h.8v.8h-.8zM401.0 651.2h.8v.8h-.8zM405.7 651.5h.8v.8h-.8zM406.5 653.0h.8v.8h-.8zM402.6 650.8h.8v.8h-.8zM399.5 655.9h.8v.8h-.8zM397.7 658.4h.8v.8h-.8zM402.1 650.0h.8v.8h-.8zM403.4 654.3h.8v.8h-.8zM399.6 650.9h.8v.8h-.8zM390.7 656.5h.8v.8h-.8zM410.8 648.0h.8v.8h-.8zM405.8 652.2h.8v.8h-.8zM406.2 650.9h.8v.8h-.8zM397.6 656.4h.8v.8h-.8zM399.6 656.9h.8v.8h-.8zM400.0 654.1h.8v.8h-.8zM403.0 650.1h.8v.8h-.8zM398.1 659.1h.8v.8h-.8zM406.3 649.4h.8v.8h-.8zM403.7 650.4h.8v.8h-.8zM401.3 657.9h.8v.8h-.8zM404.7 649.7h.8v.8h-.8zM399.5 655.4h.8v.8h-.8zM400.3 651.6h.8v.8h-.8zM396.3 656.7h.8v.8h-.8zM406.3 648.7h.8v.8h-.8zM401.6 650.3h.8v.8h-.8zM406.9 652.2h.8v.8h-.8zM397.5 654.1h.8v.8h-.8zM404.0 652.0h.8v.8h-.8zM401.6 653.0h.8v.8h-.8zM404.7 651.5h.8v.8h-.8zM403.4 656.9h.8v.8h-.8zM401.9 654.0h.8v.8h-.8zM400.2 656.9h.8v.8h-.8zM400.7 653.4h.8v.8h-.8zM400.7 656.4h.8v.8h-.8zM401.1 649.1h.8v.8h-.8zM402.7 656.8h.8v.8h-.8zM403.8 652.5h.8v.8h-.8zM399.1 654.3h.8v.8h-.8zM403.5 650.8h.8v.8h-.8zM401.8 655.3h.8v.8h-.8zM398.9 656.4h.8v.8h-.8zM401.6 655.0h.8v.8h-.8zM400.4 655.4h.8v.8h-.8zM400.5 657.1h.8v.8h-.8zM398.0 657.1h.8v.8h-.8zM401.7 650.7h.8v.8h-.8zM403.0 657.3h.8v.8h-.8zM401.8 657.4h.8v.8h-.8zM396.4 654.5h.8v.8h-.8zM402.1 655.2h.8v.8h-.8zM400.3 652.2h.8v.8h-.8zM398.9 652.9h.8v.8h-.8zM399.9 657.6h.8v.8h-.8zM402.8 657.3h.8v.8h-.8zM404.8 651.7h.8v.8h-.8zM402.7 653.3h.8v.8h-.8zM402.5 657.1h.8v.8h-.8zM403.0 649.0h.8v.8h-.8zM404.6 649.8h.8v.8h-.8zM394.6 654.4h.8v.8h-.8zM404.2 651.3h.8v.8h-.8zM406.4 650.8h.8v.8h-.8zM403.1 655.6h.8v.8h-.8zM398.1 653.1h.8v.8h-.8zM400.1 651.2h.8v.8h-.8zM399.1 651.8h.8v.8h-.8zM401.5 660.2h.8v.8h-.8zM402.8 651.2h.8v.8h-.8zM400.7 649.7h.8v.8h-.8zM404.2 651.9h.8v.8h-.8zM402.3 654.8h.8v.8h-.8zM405.6 649.7h.8v.8h-.8zM392.0 652.6h.8v.8h-.8zM402.9 653.5h.8v.8h-.8zM405.3 648.4h.8v.8h-.8zM404.8 651.0h.8v.8h-.8zM404.9 656.3h.8v.8h-.8zM398.0 654.5h.8v.8h-.8zM399.1 656.5h.8v.8h-.8zM403.5 648.6h.8v.8h-.8zM404.7 654.1h.8v.8h-.8zM403.9 654.4h.8v.8h-.8zM400.2 652.6h.8v.8h-.8zM399.1 659.1h.8v.8h-.8zM403.3 655.1h.8v.8h-.8zM402.5 654.2h.8v.8h-.8zM402.8 654.1h.8v.8h-.8zM405.5 653.0h.8v.8h-.8zM402.3 653.2h.8v.8h-.8zM400.8 648.9h.8v.8h-.8zM398.8 655.4h.8v.8h-.8zM401.7 653.6h.8v.8h-.8zM405.1 648.1h.8v.8h-.8zM407.3 649.4h.8v.8h-.8zM399.3 652.4h.8v.8h-.8zM403.2 650.4h.8v.8h-.8zM400.8 654.0h.8v.8h-.8zM407.3 645.3h.8v.8h-.8zM400.9 654.4h.8v.8h-.8zM403.2 651.2h.8v.8h-.8zM401.8 655.1h.8v.8h-.8zM405.8 649.7h.8v.8h-.8zM404.1 649.8h.8v.8h-.8zM397.5 653.6h.8v.8h-.8zM400.3 651.3h.8v.8h-.8zM399.2 651.7h.8v.8h-.8zM396.5 654.5h.8v.8h-.8zM406.9 653.0h.8v.8h-.8zM399.2 654.8h.8v.8h-.8zM399.7 656.8h.8v.8h-.8zM404.5 649.3h.8v.8h-.8zM400.6 651.6h.8v.8h-.8zM405.0 653.9h.8v.8h-.8zM402.4 650.5h.8v.8h-.8z" fill="#f52a14" fill-opacity="0.9"/><path d="M410.3 647.6h.8v.8h-.8zM403.5 644.7h.8v.8h-.8zM392.3 651.9h.8v.8h-.8zM403.6 649.0h.8v.8h-.8zM411.4 635.7h.8v.8h-.8zM397.0 651.3h.8v.8h-.8zM400.1 637.6h.8v.8h-.8zM401.1 641.2h.8v.8h-.8zM394.9 643.5h.8v.8h-.8zM391.7 642.2h.8v.8h-.8zM404.4 641.8h.8v.8h-.8zM420.9 623.1h.8v.8h-.8zM414.2 629.7h.8v.8h-.8zM398.0 653.8h.8v.8h-.8zM418.2 635.9h.8v.8h-.8zM400.0 640.9h.8v.8h-.8zM420.8 622.2h.8v.8h-.8zM399.6 654.3h.8v.8h-.8zM407.5 635.8h.8v.8h-.8zM413.8 622.1h.8v.8h-.8zM411.1 632.2h.8v.8h-.8zM403.7 642.3h.8v.8h-.8zM422.6 638.4h.8v.8h-.8zM408.0 633.6h.8v.8h-.8zM403.9 641.3h.8v.8h-.8zM399.9 644.7h.8v.8h-.8zM421.8 628.3h.8v.8h-.8zM413.3 637.0h.8v.8h-.8zM409.9 638.4h.8v.8h-.8zM408.7 637.8h.8v.8h-.8zM403.4 636.4h.8v.8h-.8zM407.9 637.7h.8v.8h-.8zM417.4 639.9h.8v.8h-.8zM410.9 644.2h.8v.8h-.8zM409.9 640.9h.8v.8h-.8zM401.9 636.9h.8v.8h-.8zM388.8 643.5h.8v.8h-.8zM398.5 649.3h.8v.8h-.8zM406.7 636.4h.8v.8h-.8zM403.4 642.8h.8v.8h-.8zM404.2 637.7h.8v.8h-.8zM408.0 643.5h.8v.8h-.8zM405.2 649.6h.8v.8h-.8zM402.6 637.2h.8v.8h-.8zM405.2 641.2h.8v.8h-.8zM396.2 651.4h.8v.8h-.8zM403.1 631.5h.8v.8h-.8zM409.5 636.7h.8v.8h-.8zM406.5 635.3h.8v.8h-.8zM401.2 645.6h.8v.8h-.8zM393.4 641.7h.8v.8h-.8zM418.0 623.7h.8v.8h-.8zM402.4 646.9h.8v.8h-.8zM409.9 633.6h.8v.8h-.8zM402.2 631.0h.8v.8h-.8zM394.4 652.1h.8v.8h-.8zM407.4 647.2h.8v.8h-.8zM401.5 640.9h.8v.8h-.8zM411.0 631.6h.8v.8h-.8zM404.7 645.2h.8v.8h-.8zM393.9 652.3h.8v.8h-.8zM390.2 653.9h.8v.8h-.8zM424.0 623.9h.8v.8h-.8zM418.6 625.8h.8v.8h-.8zM393.6 652.9h.8v.8h-.8zM407.0 639.0h.8v.8h-.8zM395.0 661.5h.8v.8h-.8zM403.7 650.8h.8v.8h-.8zM393.2 650.6h.8v.8h-.8zM402.1 636.2h.8v.8h-.8zM404.2 637.9h.8v.8h-.8zM411.2 634.2h.8v.8h-.8zM407.7 652.8h.8v.8h-.8zM406.7 652.4h.8v.8h-.8zM406.3 644.9h.8v.8h-.8zM408.8 627.4h.8v.8h-.8zM407.9 641.8h.8v.8h-.8zM404.5 645.4h.8v.8h-.8zM412.1 634.6h.8v.8h-.8zM397.9 642.1h.8v.8h-.8zM408.2 626.6h.8v.8h-.8zM401.5 643.9h.8v.8h-.8zM418.9 633.0h.8v.8h-.8zM417.7 631.0h.8v.8h-.8zM408.3 635.7h.8v.8h-.8zM400.7 645.4h.8v.8h-.8zM405.3 638.4h.8v.8h-.8zM415.1 641.7h.8v.8h-.8zM414.1 630.9h.8v.8h-.8zM407.7 625.3h.8v.8h-.8zM412.1 640.1h.8v.8h-.8zM400.3 642.8h.8v.8h-.8zM409.5 643.4h.8v.8h-.8zM416.5 638.2h.8v.8h-.8zM409.4 648.2h.8v.8h-.8zM414.3 625.5h.8v.8h-.8zM402.9 643.2h.8v.8h-.8zM413.5 632.0h.8v.8h-.8zM394.2 650.4h.8v.8h-.8zM410.2 638.1h.8v.8h-.8zM411.9 634.8h.8v.8h-.8zM419.4 632.5h.8v.8h-.8zM411.4 645.0h.8v.8h-.8zM394.9 650.1h.8v.8h-.8zM403.4 644.9h.8v.8h-.8zM411.7 637.9h.8v.8h-.8zM393.1 656.8h.8v.8h-.8zM403.0 642.1h.8v.8h-.8zM423.3 635.0h.8v.8h-.8zM397.3 644.0h.8v.8h-.8zM404.3 643.2h.8v.8h-.8zM394.3 646.3h.8v.8h-.8zM412.0 635.8h.8v.8h-.8zM407.3 636.2h.8v.8h-.8zM415.0 634.4h.8v.8h-.8zM409.6 626.8h.8v.8h-.8zM394.0 653.4h.8v.8h-.8zM411.9 638.2h.8v.8h-.8zM412.6 643.7h.8v.8h-.8zM405.0 642.2h.8v.8h-.8zM401.5 632.7h.8v.8h-.8zM416.7 639.2h.8v.8h-.8zM415.6 625.0h.8v.8h-.8zM411.6 640.6h.8v.8h-.8zM414.9 643.7h.8v.8h-.8zM395.4 639.9h.8v.8h-.8zM409.0 634.1h.8v.8h-.8zM417.9 632.3h.8v.8h-.8zM401.7 640.7h.8v.8h-.8zM412.2 637.2h.8v.8h-.8zM401.8 654.5h.8v.8h-.8zM404.0 645.2h.8v.8h-.8zM401.7 641.9h.8v.8h-.8zM413.9 637.9h.8v.8h-.8zM414.3 636.1h.8v.8h-.8zM405.4 641.0h.8v.8h-.8zM406.6 638.5h.8v.8h-.8zM408.0 643.4h.8v.8h-.8zM407.4 632.6h.8v.8h-.8zM406.6 644.5h.8v.8h-.8zM405.7 636.3h.8v.8h-.8zM393.9 649.8h.8v.8h-.8zM402.3 638.5h.8v.8h-.8zM401.9 644.2h.8v.8h-.8zM406.8 643.5h.8v.8h-.8zM402.5 637.1h.8v.8h-.8zM398.5 651.2h.8v.8h-.8zM404.7 643.3h.8v.8h-.8zM406.8 638.9h.8v.8h-.8zM398.8 649.4h.8v.8h-.8z" fill="#f52a14" fill-opacity="0.9"/></g><line x1="402.58" y1="595.80" x2="402.58" y2="668.20" stroke="#ee3a3a" stroke-width="0.9"/><line x1="373.40" y1="645.03" x2="445.00" y2="645.03" stroke="#ee3a3a" stroke-width="0.9"/><rect x="373.40" y="595.80" width="71.60" height="72.40" fill="none" stroke="#555" stroke-width="0.7"/><line x1="373.40" y1="668.20" x2="373.40" y2="669.70" stroke="#555" stroke-width="0.6"/><text x="373.40" y="675.00" font-size="5.6" text-anchor="middle" fill="#333">0</text><line x1="371.90" y1="668.20" x2="373.40" y2="668.20" stroke="#555" stroke-width="0.6"/><text x="371.20" y="670.20" font-size="5.6" text-anchor="end" fill="#333">0</text><line x1="391.30" y1="668.20" x2="391.30" y2="669.70" stroke="#555" stroke-width="0.6"/><text x="391.30" y="675.00" font-size="5.6" text-anchor="middle" fill="#333">1</text><line x1="371.90" y1="650.10" x2="373.40" y2="650.10" stroke="#555" stroke-width="0.6"/><text x="371.20" y="652.10" font-size="5.6" text-anchor="end" fill="#333">1</text><line x1="409.20" y1="668.20" x2="409.20" y2="669.70" stroke="#555" stroke-width="0.6"/><text x="409.20" y="675.00" font-size="5.6" text-anchor="middle" fill="#333">2</text><line x1="371.90" y1="632.00" x2="373.40" y2="632.00" stroke="#555" stroke-width="0.6"/><text x="371.20" y="634.00" font-size="5.6" text-anchor="end" fill="#333">2</text><line x1="427.10" y1="668.20" x2="427.10" y2="669.70" stroke="#555" stroke-width="0.6"/><text x="427.10" y="675.00" font-size="5.6" text-anchor="middle" fill="#333">3</text><line x1="371.90" y1="613.90" x2="373.40" y2="613.90" stroke="#555" stroke-width="0.6"/><text x="371.20" y="615.90" font-size="5.6" text-anchor="end" fill="#333">3</text><line x1="445.00" y1="668.20" x2="445.00" y2="669.70" stroke="#555" stroke-width="0.6"/><text x="445.00" y="675.00" font-size="5.6" text-anchor="middle" fill="#333">4</text><line x1="371.90" y1="595.80" x2="373.40" y2="595.80" stroke="#555" stroke-width="0.6"/><text x="371.20" y="597.80" font-size="5.6" text-anchor="end" fill="#333">4</text><text x="363.90" y="632.00" font-size="5" text-anchor="middle" fill="#333" transform="rotate(-90 363.90 632.00)">VIABILITY</text><text x="409.20" y="682.10" font-size="5.2" text-anchor="middle" fill="#333">ANNEXIN V</text><text x="377.90" y="682.10" font-size="3.8" text-anchor="middle" fill="#888">Live</text><text x="436.00" y="682.10" font-size="3.8" text-anchor="middle" fill="#888">Apoptotic</text><text x="374.70" y="601.60" font-size="4.8" fill="#222">Dead</text><text x="374.70" y="608.10" font-size="4.8" fill="#222">3.18 %</text><text x="443.70" y="601.60" font-size="4.8" text-anchor="end" fill="#222">Late Apop./Dead</text><text x="443.70" y="608.10" font-size="4.8" text-anchor="end" fill="#222">70.06 %</text><text x="374.70" y="659.60" font-size="4.8" fill="#222">10.84 %</text><text x="374.70" y="666.00" font-size="4.8" fill="#222">Live</text><text x="443.70" y="659.60" font-size="4.8" text-anchor="end" fill="#222">15.92 %</text><text x="443.70" y="666.00" font-size="4.8" text-anchor="end" fill="#222">Early Apop.</text><line x1="508.30" y1="569.10" x2="508.30" y2="668.70" stroke="#000" stroke-width="1.2"/><line x1="507.70" y1="668.10" x2="610.10" y2="668.10" stroke="#000" stroke-width="1.2"/><line x1="504.30" y1="668.10" x2="508.30" y2="668.10" stroke="#000" stroke-width="1.2"/><text x="502.60" y="671.50" font-size="8.3" font-weight="bold" text-anchor="end" fill="#000">0</text><line x1="504.30" y1="648.30" x2="508.30" y2="648.30" stroke="#000" stroke-width="1.2"/><text x="502.60" y="651.70" font-size="8.3" font-weight="bold" text-anchor="end" fill="#000">20</text><line x1="504.30" y1="628.50" x2="508.30" y2="628.50" stroke="#000" stroke-width="1.2"/><text x="502.60" y="631.90" font-size="8.3" font-weight="bold" text-anchor="end" fill="#000">40</text><line x1="504.30" y1="608.70" x2="508.30" y2="608.70" stroke="#000" stroke-width="1.2"/><text x="502.60" y="612.10" font-size="8.3" font-weight="bold" text-anchor="end" fill="#000">60</text><line x1="504.30" y1="588.90" x2="508.30" y2="588.90" stroke="#000" stroke-width="1.2"/><text x="502.60" y="592.30" font-size="8.3" font-weight="bold" text-anchor="end" fill="#000">80</text><line x1="504.30" y1="569.10" x2="508.30" y2="569.10" stroke="#000" stroke-width="1.2"/><text x="502.60" y="572.50" font-size="8.3" font-weight="bold" text-anchor="end" fill="#000">100</text><rect x="516.10" y="663.15" width="10.40" height="4.95" fill="#a4a3a9" stroke="#000" stroke-width="1.4"/><line x1="521.30" y1="662.16" x2="521.30" y2="664.14" stroke="#b400f5" stroke-width="0.9"/><line x1="518.10" y1="662.16" x2="524.50" y2="662.16" stroke="#b400f5" stroke-width="0.9"/><line x1="518.10" y1="664.14" x2="524.50" y2="664.14" stroke="#b400f5" stroke-width="0.9"/><circle cx="516.80" cy="663.15" r="1.9" fill="#b400f5"/><circle cx="521.30" cy="662.16" r="1.9" fill="#b400f5"/><circle cx="525.80" cy="662.65" r="1.9" fill="#b400f5"/><rect x="535.30" y="652.26" width="10.30" height="15.84" fill="#a4a3a9" stroke="#000" stroke-width="1.4"/><line x1="540.45" y1="650.28" x2="540.45" y2="654.24" stroke="#b400f5" stroke-width="0.9"/><line x1="537.25" y1="650.28" x2="543.65" y2="650.28" stroke="#b400f5" stroke-width="0.9"/><line x1="537.25" y1="654.24" x2="543.65" y2="654.24" stroke="#b400f5" stroke-width="0.9"/><circle cx="535.95" cy="652.26" r="1.9" fill="#b400f5"/><circle cx="540.45" cy="650.28" r="1.9" fill="#b400f5"/><circle cx="546.45" cy="651.76" r="1.9" fill="#b400f5"/><polygon points="540.45,642.94 541.14,644.33 542.68,644.56 541.56,645.64 541.83,647.17 540.45,646.45 539.07,647.17 539.34,645.64 538.22,644.56 539.76,644.33" fill="#000"/><rect x="554.10" y="630.48" width="11.00" height="37.62" fill="#a4a3a9" stroke="#000" stroke-width="1.4"/><line x1="559.60" y1="627.51" x2="559.60" y2="633.45" stroke="#b400f5" stroke-width="0.9"/><line x1="556.40" y1="627.51" x2="562.80" y2="627.51" stroke="#b400f5" stroke-width="0.9"/><line x1="556.40" y1="633.45" x2="562.80" y2="633.45" stroke="#b400f5" stroke-width="0.9"/><circle cx="555.10" cy="632.46" r="1.9" fill="#b400f5"/><circle cx="559.60" cy="629.49" r="1.9" fill="#b400f5"/><circle cx="565.60" cy="627.51" r="1.9" fill="#b400f5"/><polygon points="557.08,620.17 557.77,621.56 559.31,621.79 558.19,622.87 558.46,624.40 557.08,623.68 555.70,624.40 555.97,622.87 554.85,621.79 556.39,621.56" fill="#000"/><polygon points="562.12,620.17 562.81,621.56 564.35,621.79 563.23,622.87 563.50,624.40 562.12,623.68 560.74,624.40 561.01,622.87 559.89,621.79 561.43,621.56" fill="#000"/><rect x="573.20" y="617.61" width="11.10" height="50.49" fill="#a4a3a9" stroke="#000" stroke-width="1.4"/><line x1="578.75" y1="615.63" x2="578.75" y2="619.59" stroke="#b400f5" stroke-width="0.9"/><line x1="575.55" y1="615.63" x2="581.95" y2="615.63" stroke="#b400f5" stroke-width="0.9"/><line x1="575.55" y1="619.59" x2="581.95" y2="619.59" stroke="#b400f5" stroke-width="0.9"/><circle cx="574.25" cy="617.61" r="1.9" fill="#b400f5"/><circle cx="578.75" cy="615.63" r="1.9" fill="#b400f5"/><circle cx="584.75" cy="617.61" r="1.9" fill="#b400f5"/><polygon points="576.23,608.29 576.92,609.68 578.46,609.91 577.34,610.99 577.61,612.52 576.23,611.80 574.85,612.52 575.12,610.99 574.00,609.91 575.54,609.68" fill="#000"/><polygon points="581.27,608.29 581.96,609.68 583.50,609.91 582.38,610.99 582.65,612.52 581.27,611.80 579.89,612.52 580.16,610.99 579.04,609.91 580.58,609.68" fill="#000"/><rect x="592.40" y="587.91" width="10.70" height="80.19" fill="#a4a3a9" stroke="#000" stroke-width="1.4"/><line x1="597.75" y1="584.94" x2="597.75" y2="590.88" stroke="#b400f5" stroke-width="0.9"/><line x1="594.55" y1="584.94" x2="600.95" y2="584.94" stroke="#b400f5" stroke-width="0.9"/><line x1="594.55" y1="590.88" x2="600.95" y2="590.88" stroke="#b400f5" stroke-width="0.9"/><circle cx="593.25" cy="588.90" r="1.9" fill="#b400f5"/><circle cx="597.75" cy="583.95" r="1.9" fill="#b400f5"/><circle cx="603.75" cy="588.90" r="1.9" fill="#b400f5"/><polygon points="592.71,577.60 593.40,578.99 594.94,579.22 593.82,580.30 594.09,581.83 592.71,581.11 591.33,581.83 591.60,580.30 590.48,579.22 592.02,578.99" fill="#000"/><polygon points="597.75,577.60 598.44,578.99 599.98,579.22 598.86,580.30 599.13,581.83 597.75,581.11 596.37,581.83 596.64,580.30 595.52,579.22 597.06,578.99" fill="#000"/><polygon points="602.79,577.60 603.48,578.99 605.02,579.22 603.90,580.30 604.17,581.83 602.79,581.11 601.41,581.83 601.68,580.30 600.56,579.22 602.10,578.99" fill="#000"/><line x1="521.30" y1="668.10" x2="521.30" y2="671.00" stroke="#000" stroke-width="1.1"/><text x="523.80" y="679.30" font-size="7.9" font-weight="bold" text-anchor="end" fill="#000" transform="rotate(-45 523.80 679.30)">0</text><line x1="540.45" y1="668.10" x2="540.45" y2="671.00" stroke="#000" stroke-width="1.1"/><text x="542.95" y="679.30" font-size="7.9" font-weight="bold" text-anchor="end" fill="#000" transform="rotate(-45 542.95 679.30)">3.125</text><line x1="559.60" y1="668.10" x2="559.60" y2="671.00" stroke="#000" stroke-width="1.1"/><text x="562.10" y="679.30" font-size="7.9" font-weight="bold" text-anchor="end" fill="#000" transform="rotate(-45 562.10 679.30)">6.25</text><line x1="578.75" y1="668.10" x2="578.75" y2="671.00" stroke="#000" stroke-width="1.1"/><text x="581.25" y="679.30" font-size="7.9" font-weight="bold" text-anchor="end" fill="#000" transform="rotate(-45 581.25 679.30)">12.5</text><line x1="597.75" y1="668.10" x2="597.75" y2="671.00" stroke="#000" stroke-width="1.1"/><text x="600.25" y="679.30" font-size="7.9" font-weight="bold" text-anchor="end" fill="#000" transform="rotate(-45 600.25 679.30)">25</text><text x="497.00" y="680.60" font-size="7.8" font-weight="bold" text-anchor="middle" fill="#000">8a (μM)</text><text x="484.20" y="617.40" font-size="8.35" font-weight="bold" text-anchor="middle" fill="#000" transform="rotate(-90 484.20 617.40)">Apoptosis portion %</text><text x="5.70" y="707.50" font-size="20.7" fill="#000">g</text><text x="141.10" y="703.30" font-size="8.6" text-anchor="middle" fill="#1a1a1a">8a (μM)</text><line x1="107.50" y1="705.80" x2="176.80" y2="705.80" stroke="#7a7a7a" stroke-width="1.0"/><text x="110.50" y="714.40" font-size="8.8" text-anchor="middle" fill="#1a1a1a">0</text><text x="130.60" y="714.40" font-size="8.8" text-anchor="middle" fill="#1a1a1a">6.25</text><text x="149.80" y="714.40" font-size="8.8" text-anchor="middle" fill="#1a1a1a">12.5</text><text x="170.50" y="714.40" font-size="8.8" text-anchor="middle" fill="#1a1a1a">25</text><rect x="100.80" y="718.40" width="81.10" height="17.70" fill="#eeeeee" stroke="#959595" stroke-width="0.9"/><text x="99.50" y="730.35" font-size="8.6" text-anchor="end" fill="#1a1a1a">Pro-PARP</text><rect x="100.80" y="738.80" width="81.10" height="17.50" fill="#eeeeee" stroke="#959595" stroke-width="0.9"/><text x="99.50" y="750.65" font-size="8.6" text-anchor="end" fill="#1a1a1a">Cleaved-PARP</text><rect x="100.80" y="759.30" width="81.10" height="17.90" fill="#eeeeee" stroke="#959595" stroke-width="0.9"/><text x="99.50" y="771.35" font-size="8.6" text-anchor="end" fill="#1a1a1a">Pro-Caspase 3</text><rect x="100.80" y="779.70" width="81.10" height="17.50" fill="#eeeeee" stroke="#959595" stroke-width="0.9"/><text x="99.50" y="791.55" font-size="8.6" text-anchor="end" fill="#1a1a1a">Cleaved-Caspase 3</text><rect x="100.80" y="799.80" width="81.10" height="17.30" fill="#eeeeee" stroke="#959595" stroke-width="0.9"/><text x="99.50" y="811.55" font-size="8.6" text-anchor="end" fill="#1a1a1a">Pro-Caspase 9</text><rect x="100.80" y="820.60" width="81.10" height="17.70" fill="#dcdcdc" stroke="#959595" stroke-width="0.9"/><text x="99.50" y="832.55" font-size="8.6" text-anchor="end" fill="#1a1a1a">Cleaved-Caspase9</text><rect x="100.80" y="840.70" width="81.10" height="17.30" fill="#eeeeee" stroke="#959595" stroke-width="0.9"/><text x="99.50" y="852.45" font-size="8.6" text-anchor="end" fill="#1a1a1a">β-Actin</text><rect x="104.05" y="725.10" width="14.50" height="3.80" rx="3.42" ry="1.90" fill="#000" fill-opacity="1.00" filter="url(#b6)"/><rect x="124.35" y="725.10" width="14.50" height="3.80" rx="3.42" ry="1.90" fill="#000" fill-opacity="0.90" filter="url(#b6)"/><rect x="143.95" y="725.10" width="14.50" height="3.80" rx="3.42" ry="1.90" fill="#000" fill-opacity="0.55" filter="url(#b6)"/><rect x="163.35" y="725.10" width="14.50" height="3.80" rx="3.42" ry="1.90" fill="#000" fill-opacity="0.60" filter="url(#b6)"/><rect x="104.05" y="746.80" width="14.50" height="4.00" rx="3.60" ry="2.00" fill="#000" fill-opacity="0.12" filter="url(#b6)"/><rect x="124.35" y="746.80" width="14.50" height="4.00" rx="3.60" ry="2.00" fill="#000" fill-opacity="0.95" filter="url(#b6)"/><rect x="143.95" y="746.80" width="14.50" height="4.00" rx="3.60" ry="2.00" fill="#000" fill-opacity="1.00" filter="url(#b6)"/><rect x="163.35" y="746.80" width="14.50" height="4.00" rx="3.60" ry="2.00" fill="#000" fill-opacity="0.95" filter="url(#b6)"/><rect x="104.05" y="765.30" width="14.50" height="5.00" rx="4.50" ry="2.50" fill="#000" fill-opacity="1.00" filter="url(#b7)"/><rect x="124.35" y="765.30" width="14.50" height="5.00" rx="4.50" ry="2.50" fill="#000" fill-opacity="0.85" filter="url(#b7)"/><rect x="143.95" y="765.30" width="14.50" height="5.00" rx="4.50" ry="2.50" fill="#000" fill-opacity="0.45" filter="url(#b7)"/><rect x="163.35" y="765.30" width="14.50" height="5.00" rx="4.50" ry="2.50" fill="#000" fill-opacity="0.45" filter="url(#b7)"/><rect x="104.30" y="786.00" width="14.00" height="4.60" rx="4.14" ry="2.30" fill="#000" fill-opacity="0.15" filter="url(#b7)"/><rect x="124.60" y="786.00" width="14.00" height="4.60" rx="4.14" ry="2.30" fill="#000" fill-opacity="0.40" filter="url(#b7)"/><rect x="144.20" y="786.00" width="14.00" height="4.60" rx="4.14" ry="2.30" fill="#000" fill-opacity="1.00" filter="url(#b7)"/><rect x="163.60" y="786.00" width="14.00" height="4.60" rx="4.14" ry="2.30" fill="#000" fill-opacity="1.00" filter="url(#b7)"/><rect x="103.80" y="806.30" width="15.00" height="4.00" rx="3.60" ry="2.00" fill="#000" fill-opacity="0.85" filter="url(#b7)"/><rect x="124.10" y="806.30" width="15.00" height="4.00" rx="3.60" ry="2.00" fill="#000" fill-opacity="0.75" filter="url(#b7)"/><rect x="143.70" y="806.30" width="15.00" height="4.00" rx="3.60" ry="2.00" fill="#000" fill-opacity="0.85" filter="url(#b7)"/><rect x="163.10" y="806.30" width="15.00" height="4.00" rx="3.60" ry="2.00" fill="#000" fill-opacity="0.60" filter="url(#b7)"/><rect x="104.05" y="828.60" width="14.50" height="3.20" rx="2.88" ry="1.60" fill="#000" fill-opacity="0.30" filter="url(#b6)"/><rect x="124.35" y="828.60" width="14.50" height="3.20" rx="2.88" ry="1.60" fill="#000" fill-opacity="0.45" filter="url(#b6)"/><rect x="143.95" y="828.60" width="14.50" height="3.20" rx="2.88" ry="1.60" fill="#000" fill-opacity="0.55" filter="url(#b6)"/><rect x="163.35" y="828.60" width="14.50" height="3.20" rx="2.88" ry="1.60" fill="#000" fill-opacity="0.95" filter="url(#b6)"/><rect x="102.80" y="847.20" width="17.00" height="4.00" rx="3.60" ry="2.00" fill="#000" fill-opacity="1.00" filter="url(#b6)"/><rect x="123.10" y="847.20" width="17.00" height="4.00" rx="3.60" ry="2.00" fill="#000" fill-opacity="1.00" filter="url(#b6)"/><rect x="142.70" y="847.20" width="17.00" height="4.00" rx="3.60" ry="2.00" fill="#000" fill-opacity="1.00" filter="url(#b6)"/><rect x="162.10" y="847.20" width="17.00" height="4.00" rx="3.60" ry="2.00" fill="#000" fill-opacity="0.85" filter="url(#b6)"/><line x1="228.30" y1="727.60" x2="228.30" y2="830.00" stroke="#000" stroke-width="1.2"/><line x1="227.70" y1="829.40" x2="330.50" y2="829.40" stroke="#000" stroke-width="1.2"/><line x1="224.30" y1="829.40" x2="228.30" y2="829.40" stroke="#000" stroke-width="1.2"/><text x="222.60" y="832.76" font-size="8.2" font-weight="bold" text-anchor="end" fill="#000">0</text><line x1="224.30" y1="803.95" x2="228.30" y2="803.95" stroke="#000" stroke-width="1.2"/><text x="222.60" y="807.31" font-size="8.2" font-weight="bold" text-anchor="end" fill="#000">1</text><line x1="224.30" y1="778.50" x2="228.30" y2="778.50" stroke="#000" stroke-width="1.2"/><text x="222.60" y="781.86" font-size="8.2" font-weight="bold" text-anchor="end" fill="#000">2</text><line x1="224.30" y1="753.05" x2="228.30" y2="753.05" stroke="#000" stroke-width="1.2"/><text x="222.60" y="756.41" font-size="8.2" font-weight="bold" text-anchor="end" fill="#000">3</text><line x1="224.30" y1="727.60" x2="228.30" y2="727.60" stroke="#000" stroke-width="1.2"/><text x="222.60" y="730.96" font-size="8.2" font-weight="bold" text-anchor="end" fill="#000">4</text><rect x="238.10" y="803.95" width="13.20" height="25.45" fill="#a4a3a9" stroke="#000" stroke-width="1.4"/><line x1="244.70" y1="802.68" x2="244.70" y2="805.22" stroke="#b400f5" stroke-width="0.9"/><line x1="241.50" y1="802.68" x2="247.90" y2="802.68" stroke="#b400f5" stroke-width="0.9"/><line x1="241.50" y1="805.22" x2="247.90" y2="805.22" stroke="#b400f5" stroke-width="0.9"/><circle cx="240.70" cy="804.71" r="1.6" fill="#b400f5"/><circle cx="244.70" cy="802.68" r="1.6" fill="#b400f5"/><circle cx="248.70" cy="803.95" r="1.6" fill="#b400f5"/><rect x="261.10" y="766.28" width="13.20" height="63.12" fill="#a4a3a9" stroke="#000" stroke-width="1.4"/><line x1="267.70" y1="762.47" x2="267.70" y2="770.10" stroke="#b400f5" stroke-width="0.9"/><line x1="264.50" y1="762.47" x2="270.90" y2="762.47" stroke="#b400f5" stroke-width="0.9"/><line x1="264.50" y1="770.10" x2="270.90" y2="770.10" stroke="#b400f5" stroke-width="0.9"/><circle cx="263.70" cy="768.07" r="1.6" fill="#b400f5"/><circle cx="267.70" cy="761.70" r="1.6" fill="#b400f5"/><circle cx="271.70" cy="765.77" r="1.6" fill="#b400f5"/><polygon points="265.18,755.13 265.87,756.52 267.41,756.74 266.29,757.83 266.56,759.36 265.18,758.64 263.80,759.36 264.07,757.83 262.95,756.74 264.49,756.52" fill="#000"/><polygon points="270.22,755.13 270.91,756.52 272.45,756.74 271.33,757.83 271.60,759.36 270.22,758.64 268.84,759.36 269.11,757.83 267.99,756.74 269.53,756.52" fill="#000"/><rect x="284.90" y="748.47" width="13.20" height="80.93" fill="#a4a3a9" stroke="#000" stroke-width="1.4"/><line x1="291.50" y1="745.16" x2="291.50" y2="751.78" stroke="#b400f5" stroke-width="0.9"/><line x1="288.30" y1="745.16" x2="294.70" y2="745.16" stroke="#b400f5" stroke-width="0.9"/><line x1="288.30" y1="751.78" x2="294.70" y2="751.78" stroke="#b400f5" stroke-width="0.9"/><circle cx="287.50" cy="751.52" r="1.6" fill="#b400f5"/><circle cx="291.50" cy="744.65" r="1.6" fill="#b400f5"/><circle cx="295.50" cy="749.74" r="1.6" fill="#b400f5"/><polygon points="286.46,737.82 287.15,739.21 288.69,739.44 287.57,740.52 287.84,742.05 286.46,741.33 285.08,742.05 285.35,740.52 284.23,739.44 285.77,739.21" fill="#000"/><polygon points="291.50,737.82 292.19,739.21 293.73,739.44 292.61,740.52 292.88,742.05 291.50,741.33 290.12,742.05 290.39,740.52 289.27,739.44 290.81,739.21" fill="#000"/><polygon points="296.54,737.82 297.23,739.21 298.77,739.44 297.65,740.52 297.92,742.05 296.54,741.33 295.16,742.05 295.43,740.52 294.31,739.44 295.85,739.21" fill="#000"/><rect x="308.20" y="745.92" width="13.20" height="83.48" fill="#a4a3a9" stroke="#000" stroke-width="1.4"/><line x1="314.80" y1="742.87" x2="314.80" y2="748.98" stroke="#b400f5" stroke-width="0.9"/><line x1="311.60" y1="742.87" x2="318.00" y2="742.87" stroke="#b400f5" stroke-width="0.9"/><line x1="311.60" y1="748.98" x2="318.00" y2="748.98" stroke="#b400f5" stroke-width="0.9"/><circle cx="310.80" cy="743.38" r="1.6" fill="#b400f5"/><circle cx="314.80" cy="748.47" r="1.6" fill="#b400f5"/><circle cx="318.80" cy="744.65" r="1.6" fill="#b400f5"/><polygon points="309.76,735.53 310.45,736.92 311.99,737.15 310.87,738.23 311.14,739.76 309.76,739.04 308.38,739.76 308.65,738.23 307.53,737.15 309.07,736.92" fill="#000"/><polygon points="314.80,735.53 315.49,736.92 317.03,737.15 315.91,738.23 316.18,739.76 314.80,739.04 313.42,739.76 313.69,738.23 312.57,737.15 314.11,736.92" fill="#000"/><polygon points="319.84,735.53 320.53,736.92 322.07,737.15 320.95,738.23 321.22,739.76 319.84,739.04 318.46,739.76 318.73,738.23 317.61,737.15 319.15,736.92" fill="#000"/><line x1="244.70" y1="829.40" x2="244.70" y2="832.40" stroke="#000" stroke-width="1.1"/><text x="244.70" y="843.20" font-size="8.7" font-weight="bold" text-anchor="middle" fill="#000">0</text><line x1="267.70" y1="829.40" x2="267.70" y2="832.40" stroke="#000" stroke-width="1.1"/><text x="267.70" y="843.20" font-size="8.7" font-weight="bold" text-anchor="middle" fill="#000">6.25</text><line x1="291.50" y1="829.40" x2="291.50" y2="832.40" stroke="#000" stroke-width="1.1"/><text x="291.50" y="843.20" font-size="8.7" font-weight="bold" text-anchor="middle" fill="#000">12.5</text><line x1="314.80" y1="829.40" x2="314.80" y2="832.40" stroke="#000" stroke-width="1.1"/><text x="314.80" y="843.20" font-size="8.7" font-weight="bold" text-anchor="middle" fill="#000">25</text><line x1="241.90" y1="846.00" x2="319.60" y2="846.00" stroke="#6a6a6a" stroke-width="0.9"/><text x="279.75" y="853.70" font-size="8.6" font-weight="bold" text-anchor="middle" fill="#000">8a (μM)</text><text x="203.60" y="779.00" font-size="8.3" font-weight="bold" text-anchor="middle" fill="#000" transform="rotate(-90 203.60 779.00)">Relative protein expression</text><text x="213.10" y="779.00" font-size="8.3" font-weight="bold" text-anchor="middle" fill="#000" transform="rotate(-90 213.10 779.00)">(Cleaved-PARP/PARP)</text><line x1="381.60" y1="729.90" x2="381.60" y2="829.90" stroke="#000" stroke-width="1.2"/><line x1="381.00" y1="829.30" x2="480.10" y2="829.30" stroke="#000" stroke-width="1.2"/><line x1="377.60" y1="829.30" x2="381.60" y2="829.30" stroke="#000" stroke-width="1.2"/><text x="375.90" y="832.66" font-size="8.2" font-weight="bold" text-anchor="end" fill="#000">0</text><line x1="377.60" y1="804.45" x2="381.60" y2="804.45" stroke="#000" stroke-width="1.2"/><text x="375.90" y="807.81" font-size="8.2" font-weight="bold" text-anchor="end" fill="#000">1</text><line x1="377.60" y1="779.60" x2="381.60" y2="779.60" stroke="#000" stroke-width="1.2"/><text x="375.90" y="782.96" font-size="8.2" font-weight="bold" text-anchor="end" fill="#000">2</text><line x1="377.60" y1="754.75" x2="381.60" y2="754.75" stroke="#000" stroke-width="1.2"/><text x="375.90" y="758.11" font-size="8.2" font-weight="bold" text-anchor="end" fill="#000">3</text><line x1="377.60" y1="729.90" x2="381.60" y2="729.90" stroke="#000" stroke-width="1.2"/><text x="375.90" y="733.26" font-size="8.2" font-weight="bold" text-anchor="end" fill="#000">4</text><rect x="390.00" y="804.45" width="13.20" height="24.85" fill="#a4a3a9" stroke="#000" stroke-width="1.4"/><line x1="396.60" y1="802.71" x2="396.60" y2="806.19" stroke="#b400f5" stroke-width="0.9"/><line x1="393.40" y1="802.71" x2="399.80" y2="802.71" stroke="#b400f5" stroke-width="0.9"/><line x1="393.40" y1="806.19" x2="399.80" y2="806.19" stroke="#b400f5" stroke-width="0.9"/><circle cx="392.60" cy="806.19" r="1.6" fill="#b400f5"/><circle cx="396.60" cy="802.46" r="1.6" fill="#b400f5"/><circle cx="400.60" cy="804.45" r="1.6" fill="#b400f5"/><rect x="413.00" y="789.04" width="13.20" height="40.26" fill="#a4a3a9" stroke="#000" stroke-width="1.4"/><line x1="419.60" y1="785.32" x2="419.60" y2="792.77" stroke="#b400f5" stroke-width="0.9"/><line x1="416.40" y1="785.32" x2="422.80" y2="785.32" stroke="#b400f5" stroke-width="0.9"/><line x1="416.40" y1="792.77" x2="422.80" y2="792.77" stroke="#b400f5" stroke-width="0.9"/><circle cx="418.60" cy="792.77" r="1.6" fill="#b400f5"/><circle cx="419.60" cy="787.80" r="1.6" fill="#b400f5"/><circle cx="424.60" cy="784.07" r="1.6" fill="#b400f5"/><polygon points="419.60,777.98 420.29,779.37 421.83,779.59 420.71,780.68 420.98,782.21 419.60,781.49 418.22,782.21 418.49,780.68 417.37,779.59 418.91,779.37" fill="#000"/><rect x="435.90" y="754.75" width="13.30" height="74.55" fill="#a4a3a9" stroke="#000" stroke-width="1.4"/><line x1="442.55" y1="752.26" x2="442.55" y2="757.24" stroke="#b400f5" stroke-width="0.9"/><line x1="439.35" y1="752.26" x2="445.75" y2="752.26" stroke="#b400f5" stroke-width="0.9"/><line x1="439.35" y1="757.24" x2="445.75" y2="757.24" stroke="#b400f5" stroke-width="0.9"/><circle cx="441.55" cy="757.98" r="1.6" fill="#b400f5"/><circle cx="442.55" cy="752.76" r="1.6" fill="#b400f5"/><circle cx="446.55" cy="752.76" r="1.6" fill="#b400f5"/><polygon points="437.51,744.92 438.20,746.32 439.74,746.54 438.62,747.63 438.89,749.16 437.51,748.43 436.13,749.16 436.40,747.63 435.28,746.54 436.82,746.32" fill="#000"/><polygon points="442.55,744.92 443.24,746.32 444.78,746.54 443.66,747.63 443.93,749.16 442.55,748.43 441.17,749.16 441.44,747.63 440.32,746.54 441.86,746.32" fill="#000"/><polygon points="447.59,744.92 448.28,746.32 449.82,746.54 448.70,747.63 448.97,749.16 447.59,748.43 446.21,749.16 446.48,747.63 445.36,746.54 446.90,746.32" fill="#000"/><rect x="458.90" y="747.29" width="13.30" height="82.00" fill="#a4a3a9" stroke="#000" stroke-width="1.4"/><line x1="465.55" y1="744.31" x2="465.55" y2="750.28" stroke="#b400f5" stroke-width="0.9"/><line x1="462.35" y1="744.31" x2="468.75" y2="744.31" stroke="#b400f5" stroke-width="0.9"/><line x1="462.35" y1="750.28" x2="468.75" y2="750.28" stroke="#b400f5" stroke-width="0.9"/><circle cx="464.55" cy="749.78" r="1.6" fill="#b400f5"/><circle cx="465.55" cy="745.80" r="1.6" fill="#b400f5"/><circle cx="469.55" cy="743.57" r="1.6" fill="#b400f5"/><polygon points="460.51,736.97 461.20,738.37 462.74,738.59 461.62,739.67 461.89,741.21 460.51,740.48 459.13,741.21 459.40,739.67 458.28,738.59 459.82,738.37" fill="#000"/><polygon points="465.55,736.97 466.24,738.37 467.78,738.59 466.66,739.67 466.93,741.21 465.55,740.48 464.17,741.21 464.44,739.67 463.32,738.59 464.86,738.37" fill="#000"/><polygon points="470.59,736.97 471.28,738.37 472.82,738.59 471.70,739.67 471.97,741.21 470.59,740.48 469.21,741.21 469.48,739.67 468.36,738.59 469.90,738.37" fill="#000"/><line x1="396.60" y1="829.30" x2="396.60" y2="832.30" stroke="#000" stroke-width="1.1"/><text x="396.60" y="843.10" font-size="8.7" font-weight="bold" text-anchor="middle" fill="#000">0</text><line x1="419.60" y1="829.30" x2="419.60" y2="832.30" stroke="#000" stroke-width="1.1"/><text x="419.60" y="843.10" font-size="8.7" font-weight="bold" text-anchor="middle" fill="#000">6.25</text><line x1="442.55" y1="829.30" x2="442.55" y2="832.30" stroke="#000" stroke-width="1.1"/><text x="442.55" y="843.10" font-size="8.7" font-weight="bold" text-anchor="middle" fill="#000">12.5</text><line x1="465.55" y1="829.30" x2="465.55" y2="832.30" stroke="#000" stroke-width="1.1"/><text x="465.55" y="843.10" font-size="8.7" font-weight="bold" text-anchor="middle" fill="#000">25</text><line x1="393.80" y1="845.90" x2="470.40" y2="845.90" stroke="#6a6a6a" stroke-width="0.9"/><text x="431.10" y="853.60" font-size="8.6" font-weight="bold" text-anchor="middle" fill="#000">8a (μM)</text><text x="356.30" y="779.00" font-size="8.3" font-weight="bold" text-anchor="middle" fill="#000" transform="rotate(-90 356.30 779.00)">Relative protein expression</text><text x="365.70" y="779.00" font-size="8.3" font-weight="bold" text-anchor="middle" fill="#000" transform="rotate(-90 365.70 779.00)">(Cleaved-Caspase 3/Caspase 3)</text><line x1="538.00" y1="728.35" x2="538.00" y2="830.20" stroke="#000" stroke-width="1.2"/><line x1="537.40" y1="829.60" x2="640.30" y2="829.60" stroke="#000" stroke-width="1.2"/><line x1="534.00" y1="829.60" x2="538.00" y2="829.60" stroke="#000" stroke-width="1.2"/><text x="532.30" y="832.96" font-size="8.2" font-weight="bold" text-anchor="end" fill="#000">0.0</text><line x1="534.00" y1="809.35" x2="538.00" y2="809.35" stroke="#000" stroke-width="1.2"/><text x="532.30" y="812.71" font-size="8.2" font-weight="bold" text-anchor="end" fill="#000">0.5</text><line x1="534.00" y1="789.10" x2="538.00" y2="789.10" stroke="#000" stroke-width="1.2"/><text x="532.30" y="792.46" font-size="8.2" font-weight="bold" text-anchor="end" fill="#000">1.0</text><line x1="534.00" y1="768.85" x2="538.00" y2="768.85" stroke="#000" stroke-width="1.2"/><text x="532.30" y="772.21" font-size="8.2" font-weight="bold" text-anchor="end" fill="#000">1.5</text><line x1="534.00" y1="748.60" x2="538.00" y2="748.60" stroke="#000" stroke-width="1.2"/><text x="532.30" y="751.96" font-size="8.2" font-weight="bold" text-anchor="end" fill="#000">2.0</text><line x1="534.00" y1="728.35" x2="538.00" y2="728.35" stroke="#000" stroke-width="1.2"/><text x="532.30" y="731.71" font-size="8.2" font-weight="bold" text-anchor="end" fill="#000">2.5</text><rect x="548.00" y="789.10" width="12.70" height="40.50" fill="#a4a3a9" stroke="#000" stroke-width="1.4"/><line x1="554.35" y1="787.08" x2="554.35" y2="791.12" stroke="#b400f5" stroke-width="0.9"/><line x1="551.15" y1="787.08" x2="557.55" y2="787.08" stroke="#b400f5" stroke-width="0.9"/><line x1="551.15" y1="791.12" x2="557.55" y2="791.12" stroke="#b400f5" stroke-width="0.9"/><circle cx="550.35" cy="791.12" r="1.6" fill="#b400f5"/><circle cx="554.35" cy="786.67" r="1.6" fill="#b400f5"/><circle cx="558.35" cy="788.70" r="1.6" fill="#b400f5"/><rect x="571.10" y="780.19" width="12.70" height="49.41" fill="#a4a3a9" stroke="#000" stroke-width="1.4"/><line x1="577.45" y1="775.33" x2="577.45" y2="785.05" stroke="#b400f5" stroke-width="0.9"/><line x1="574.25" y1="775.33" x2="580.65" y2="775.33" stroke="#b400f5" stroke-width="0.9"/><line x1="574.25" y1="785.05" x2="580.65" y2="785.05" stroke="#b400f5" stroke-width="0.9"/><circle cx="576.45" cy="785.05" r="1.6" fill="#b400f5"/><circle cx="577.45" cy="776.95" r="1.6" fill="#b400f5"/><circle cx="582.45" cy="776.95" r="1.6" fill="#b400f5"/><rect x="594.50" y="771.69" width="12.80" height="57.91" fill="#a4a3a9" stroke="#000" stroke-width="1.4"/><line x1="600.90" y1="767.64" x2="600.90" y2="775.74" stroke="#b400f5" stroke-width="0.9"/><line x1="597.70" y1="767.64" x2="604.10" y2="767.64" stroke="#b400f5" stroke-width="0.9"/><line x1="597.70" y1="775.74" x2="604.10" y2="775.74" stroke="#b400f5" stroke-width="0.9"/><circle cx="596.90" cy="772.90" r="1.6" fill="#b400f5"/><circle cx="600.90" cy="767.64" r="1.6" fill="#b400f5"/><circle cx="604.90" cy="772.50" r="1.6" fill="#b400f5"/><polygon points="600.90,760.30 601.59,761.69 603.13,761.91 602.01,763.00 602.28,764.53 600.90,763.81 599.52,764.53 599.79,763.00 598.67,761.91 600.21,761.69" fill="#000"/><rect x="618.00" y="751.44" width="12.70" height="78.16" fill="#a4a3a9" stroke="#000" stroke-width="1.4"/><line x1="624.35" y1="746.58" x2="624.35" y2="756.30" stroke="#b400f5" stroke-width="0.9"/><line x1="621.15" y1="746.58" x2="627.55" y2="746.58" stroke="#b400f5" stroke-width="0.9"/><line x1="621.15" y1="756.30" x2="627.55" y2="756.30" stroke="#b400f5" stroke-width="0.9"/><circle cx="620.35" cy="753.46" r="1.6" fill="#b400f5"/><circle cx="624.35" cy="746.58" r="1.6" fill="#b400f5"/><circle cx="628.35" cy="750.63" r="1.6" fill="#b400f5"/><polygon points="621.83,739.24 622.52,740.63 624.06,740.85 622.94,741.94 623.21,743.47 621.83,742.75 620.45,743.47 620.72,741.94 619.60,740.85 621.14,740.63" fill="#000"/><polygon points="626.87,739.24 627.56,740.63 629.10,740.85 627.98,741.94 628.25,743.47 626.87,742.75 625.49,743.47 625.76,741.94 624.64,740.85 626.18,740.63" fill="#000"/><line x1="554.35" y1="829.60" x2="554.35" y2="832.60" stroke="#000" stroke-width="1.1"/><text x="554.35" y="843.40" font-size="8.7" font-weight="bold" text-anchor="middle" fill="#000">0</text><line x1="577.45" y1="829.60" x2="577.45" y2="832.60" stroke="#000" stroke-width="1.1"/><text x="577.45" y="843.40" font-size="8.7" font-weight="bold" text-anchor="middle" fill="#000">6.25</text><line x1="600.90" y1="829.60" x2="600.90" y2="832.60" stroke="#000" stroke-width="1.1"/><text x="600.90" y="843.40" font-size="8.7" font-weight="bold" text-anchor="middle" fill="#000">12.5</text><line x1="624.35" y1="829.60" x2="624.35" y2="832.60" stroke="#000" stroke-width="1.1"/><text x="624.35" y="843.40" font-size="8.7" font-weight="bold" text-anchor="middle" fill="#000">25</text><line x1="551.80" y1="846.20" x2="628.90" y2="846.20" stroke="#6a6a6a" stroke-width="0.9"/><text x="589.35" y="853.90" font-size="8.6" font-weight="bold" text-anchor="middle" fill="#000">8a (μM)</text><text x="506.10" y="779.00" font-size="8.3" font-weight="bold" text-anchor="middle" fill="#000" transform="rotate(-90 506.10 779.00)">Relative protein expression</text><text x="516.60" y="779.00" font-size="8.3" font-weight="bold" text-anchor="middle" fill="#000" transform="rotate(-90 516.60 779.00)">(Cleaved-Caspase 9/Caspase 9)</text>
</svg></body></html>
